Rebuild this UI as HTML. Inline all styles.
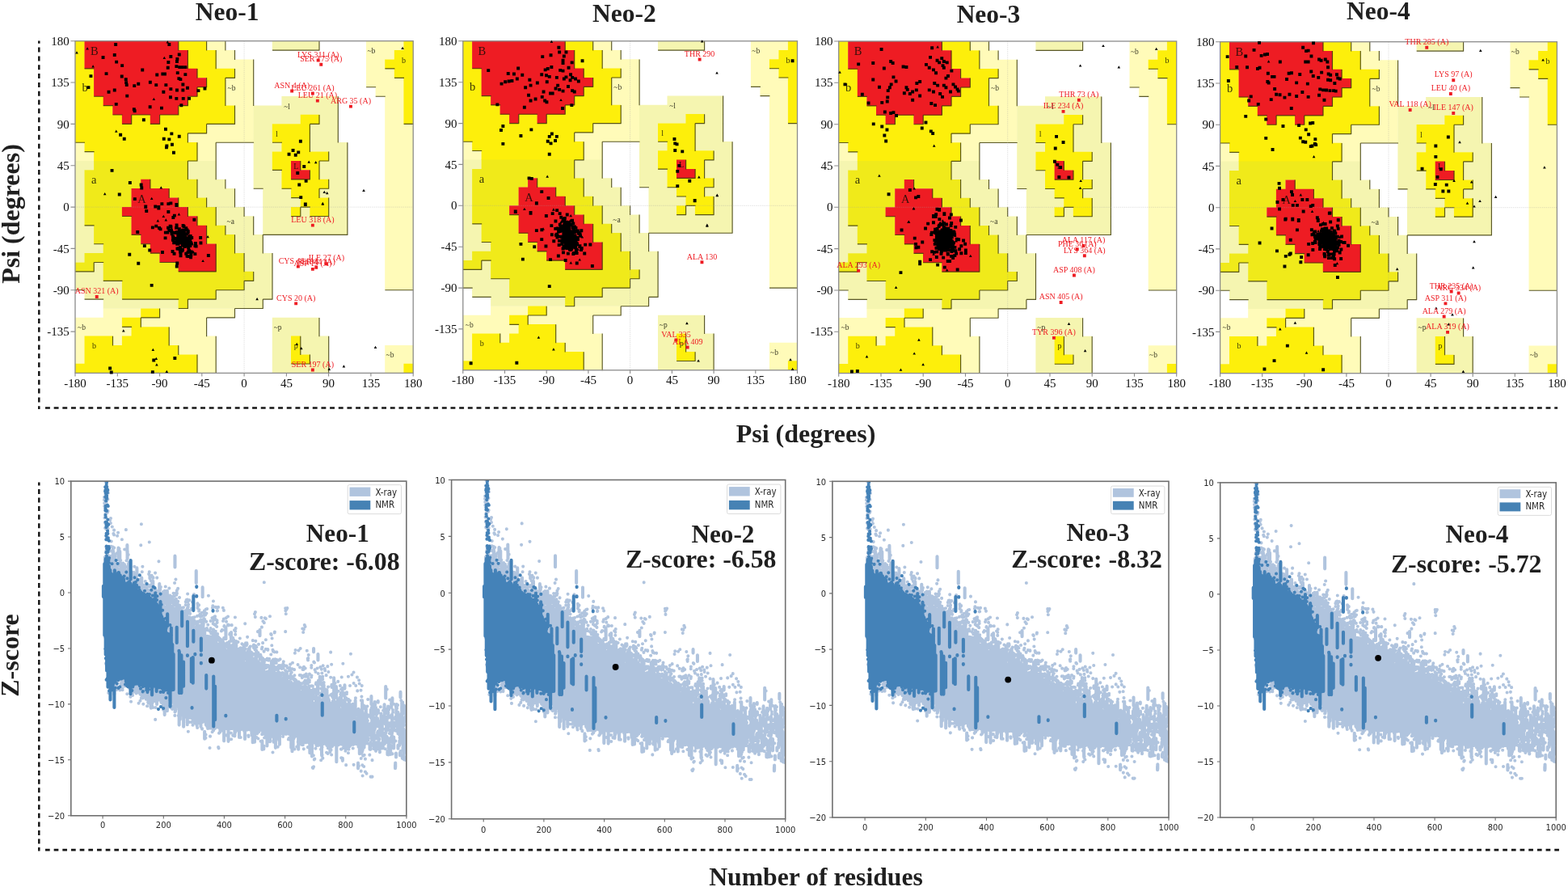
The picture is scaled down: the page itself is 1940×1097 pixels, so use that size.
<!DOCTYPE html>
<html lang="en"><head><meta charset="utf-8"><title>Ramachandran plots and ProSA Z-scores</title>
<style>
html,body{margin:0;padding:0;background:#fff}
body{width:1940px;height:1097px;overflow:hidden;font-family:"Liberation Serif",serif}
svg{display:block}
.tk text{font-family:"Liberation Serif",serif;font-size:15px;fill:#0d0d0d}
.rl text{font-family:"Liberation Serif",serif;fill:#0c0c04;fill-opacity:.82}
.ol text{font-family:"Liberation Serif",serif;font-size:10px;fill:#ee1c23}
.ti text,.ax text,.zt text{font-family:"Liberation Serif",serif;font-weight:bold;fill:#1f1f1f}
.ti text{font-size:31.5px}
.ax text{font-size:32px}
.zt text{font-size:31.8px}
.mt text{font-family:"DejaVu Sans Condensed","DejaVu Sans","Liberation Sans",sans-serif;font-size:11px;fill:#262626}
.lg text{font-family:"DejaVu Sans Condensed","DejaVu Sans","Liberation Sans",sans-serif;font-size:11.4px;fill:#262626}
</style></head><body>
<svg width="1940" height="1097" viewBox="0 0 1940 1097" role="img" aria-label="Ramachandran plots and ProSA Z-score plots for Neo-1 to Neo-4">
<rect width="1940" height="1097" fill="#fff"/>
<g fill="none" stroke="#161616">
<path stroke-width="2.5" stroke-dasharray="6 4.82" stroke-dashoffset="2.6" d="M48.3 50.4V506"/>
<path stroke-width="2.5" stroke-dasharray="5.9 4.77" d="M56 504.5H1927.1"/>
<path stroke-width="2.5" stroke-dasharray="6 4.55" stroke-dashoffset="2.1" d="M48.3 596.5V1052.6"/>
<path stroke-width="2.8" stroke-dasharray="5.7 4.97" d="M56 1051.2H1932.8"/>
</g>
<g>
<path fill="#fffbb9" d="M255.5 50.6H279V62.3H255.5ZM453 50.6H499.7V62.3H453ZM267.1 62H290.6V73.7H267.1ZM453 62H488.1V73.7H453ZM267.1 73.4H313.9V85.1H267.1ZM453 73.4H476.5V85.1H453ZM290.3 84.8H313.9V96.5H290.3ZM453 84.8H488.1V96.5H453ZM278.7 96.2H313.9V107.9H278.7ZM453 96.2H499.7V107.9H453ZM278.7 107.6H313.9V119.3H278.7ZM464.6 107.6H499.7V119.3H464.6ZM278.7 119H313.9V130.7H278.7ZM476.2 119H499.7V130.7H476.2ZM290.3 130.4H313.9V142.1H290.3ZM476.2 130.4H499.7V142.1H476.2ZM290.3 141.8H313.9V153.5H290.3ZM476.2 141.8H499.7V153.5H476.2ZM255.5 153.2H313.9V164.9H255.5ZM476.2 153.2H511.4V164.9H476.2ZM232.2 164.6H313.9V176.3H232.2ZM476.2 164.6H511.4V176.3H476.2ZM92.8 176H104.8V187.8H92.8ZM243.9 176H267.4V187.8H243.9ZM476.2 176H511.4V187.8H476.2ZM92.8 187.5H116.4V199.2H92.8ZM243.9 187.5H267.4V199.2H243.9ZM476.2 187.5H511.4V199.2H476.2ZM476.2 198.9H511.4V210.6H476.2ZM476.2 210.3H511.4V222H476.2ZM476.2 221.7H511.4V233.4H476.2ZM476.2 233.1H511.4V244.8H476.2ZM476.2 244.5H511.4V256.2H476.2ZM476.2 255.9H511.4V267.6H476.2ZM476.2 267.3H511.4V279H476.2ZM476.2 278.7H511.4V290.4H476.2ZM476.2 290.1H511.4V301.8H476.2ZM476.2 301.5H511.4V313.2H476.2ZM476.2 312.9H511.4V324.6H476.2ZM476.2 324.4H511.4V336.1H476.2ZM476.2 335.8H511.4V347.5H476.2ZM476.2 347.2H511.4V358.9H476.2ZM127.7 381.4H174.5V393.1H127.7ZM197.4 381.4H290.6V393.1H197.4ZM92.8 392.8H151.2V404.5H92.8ZM174.2 392.8H255.8V404.5H174.2ZM92.8 404.2H162.8V415.9H92.8ZM209 404.2H255.8V415.9H209ZM92.8 415.6H104.8V427.3H92.8ZM139.3 415.6H151.2V427.3H139.3ZM209 415.6H267.4V427.3H209ZM92.8 427H104.8V438.7H92.8ZM220.6 427H267.4V438.7H220.6ZM476.2 427H511.4V438.7H476.2ZM92.8 438.4H104.8V450.1H92.8ZM243.9 438.4H267.4V450.1H243.9ZM476.2 438.4H511.4V450.1H476.2ZM243.9 449.8H267.4V461.5H243.9ZM476.2 449.8H499.7V461.5H476.2Z"/>
<path fill="#f5f5b0" d="M336.8 50.6H395.2V62.3H336.8ZM348.4 119H418.4V130.7H348.4ZM313.6 130.4H418.4V142.1H313.6ZM313.6 141.8H371.9V153.5H313.6ZM394.9 141.8H418.4V153.5H394.9ZM313.6 153.2H337.1V164.9H313.6ZM383.3 153.2H418.4V164.9H383.3ZM313.6 164.6H337.1V176.3H313.6ZM383.3 164.6H418.4V176.3H383.3ZM313.6 176H348.7V187.8H313.6ZM383.3 176H430V187.8H383.3ZM313.6 187.5H337.1V199.2H313.6ZM406.5 187.5H430V199.2H406.5ZM92.8 198.9H116.4V210.6H92.8ZM232.2 198.9H267.4V210.6H232.2ZM313.6 198.9H337.1V210.6H313.6ZM394.9 198.9H430V210.6H394.9ZM92.8 210.3H104.8V222H92.8ZM232.2 210.3H267.4V222H232.2ZM313.6 210.3H348.7V222H313.6ZM394.9 210.3H430V222H394.9ZM92.8 221.7H104.8V233.4H92.8ZM243.9 221.7H279V233.4H243.9ZM313.6 221.7H348.7V233.4H313.6ZM406.5 221.7H430V233.4H406.5ZM92.8 233.1H104.8V244.8H92.8ZM243.9 233.1H290.6V244.8H243.9ZM325.2 233.1H360.3V244.8H325.2ZM394.9 233.1H430V244.8H394.9ZM92.8 244.5H104.8V256.2H92.8ZM255.5 244.5H290.6V256.2H255.5ZM325.2 244.5H371.9V256.2H325.2ZM406.5 244.5H430V256.2H406.5ZM92.8 255.9H104.8V267.6H92.8ZM267.1 255.9H302.2V267.6H267.1ZM325.2 255.9H360.3V267.6H325.2ZM371.7 255.9H383.6V267.6H371.7ZM406.5 255.9H430V267.6H406.5ZM92.8 267.3H104.8V279H92.8ZM267.1 267.3H313.9V279H267.1ZM325.2 267.3H430V279H325.2ZM92.8 278.7H116.4V290.4H92.8ZM278.7 278.7H313.9V290.4H278.7ZM325.2 278.7H430V290.4H325.2ZM92.8 290.1H116.4V301.8H92.8ZM290.3 290.1H325.5V301.8H290.3ZM92.8 301.5H128V313.2H92.8ZM290.3 301.5H325.5V313.2H290.3ZM92.8 312.9H104.8V324.6H92.8ZM302 312.9H337.1V324.6H302ZM116.1 324.4H128V336.1H116.1ZM302 324.4H337.1V336.1H302ZM92.8 335.8H128V347.5H92.8ZM313.6 335.8H337.1V347.5H313.6ZM92.8 347.2H151.2V358.9H92.8ZM302 347.2H337.1V358.9H302ZM104.5 358.6H151.2V370.3H104.5ZM267.1 358.6H337.1V370.3H267.1ZM127.7 370H220.9V381.7H127.7ZM232.2 370H325.5V381.7H232.2ZM336.8 392.8H395.2V404.5H336.8ZM336.8 404.2H395.2V415.9H336.8ZM336.8 415.6H360.3V427.3H336.8ZM371.7 415.6H406.8V427.3H371.7ZM336.8 427H360.3V438.7H336.8ZM371.7 427H406.8V438.7H371.7ZM336.8 438.4H360.3V450.1H336.8ZM383.3 438.4H406.8V450.1H383.3ZM336.8 449.8H406.8V461.5H336.8Z"/>
<path fill="#fdef0b" d="M92.8 50.6H104.8V62.3H92.8ZM220.6 50.6H255.8V62.3H220.6ZM499.4 50.6H511.4V62.3H499.4ZM92.8 62H104.8V73.7H92.8ZM232.2 62H267.4V73.7H232.2ZM487.8 62H511.4V73.7H487.8ZM92.8 73.4H104.8V85.1H92.8ZM232.2 73.4H267.4V85.1H232.2ZM476.2 73.4H511.4V85.1H476.2ZM92.8 84.8H116.4V96.5H92.8ZM243.9 84.8H290.6V96.5H243.9ZM487.8 84.8H511.4V96.5H487.8ZM92.8 96.2H116.4V107.9H92.8ZM255.5 96.2H279V107.9H255.5ZM499.4 96.2H511.4V107.9H499.4ZM92.8 107.6H116.4V119.3H92.8ZM243.9 107.6H279V119.3H243.9ZM499.4 107.6H511.4V119.3H499.4ZM92.8 119H128V130.7H92.8ZM232.2 119H279V130.7H232.2ZM499.4 119H511.4V130.7H499.4ZM92.8 130.4H139.6V142.1H92.8ZM220.6 130.4H290.6V142.1H220.6ZM499.4 130.4H511.4V142.1H499.4ZM92.8 141.8H151.2V153.5H92.8ZM162.5 141.8H186.1V153.5H162.5ZM197.4 141.8H290.6V153.5H197.4ZM371.7 141.8H395.2V153.5H371.7ZM499.4 141.8H511.4V153.5H499.4ZM92.8 153.2H255.8V164.9H92.8ZM336.8 153.2H383.6V164.9H336.8ZM92.8 164.6H232.6V176.3H92.8ZM336.8 164.6H383.6V176.3H336.8ZM104.5 176H244.2V187.8H104.5ZM348.4 176H383.6V187.8H348.4ZM116.1 187.5H244.2V199.2H116.1ZM336.8 187.5H406.8V199.2H336.8ZM336.8 198.9H360.3V210.6H336.8ZM371.7 198.9H395.2V210.6H371.7ZM348.4 210.3H360.3V222H348.4ZM383.3 210.3H395.2V222H383.3ZM348.4 221.7H406.8V233.4H348.4ZM360 233.1H395.2V244.8H360ZM371.7 244.5H406.8V256.2H371.7ZM360 255.9H371.9V267.6H360ZM383.3 255.9H406.8V267.6H383.3ZM174.2 381.4H197.7V393.1H174.2ZM150.9 392.8H174.5V404.5H150.9ZM162.5 404.2H209.3V415.9H162.5ZM104.5 415.6H139.6V427.3H104.5ZM150.9 415.6H209.3V427.3H150.9ZM360 415.6H371.9V427.3H360ZM104.5 427H220.9V438.7H104.5ZM360 427H371.9V438.7H360ZM104.5 438.4H244.2V450.1H104.5ZM360 438.4H383.6V450.1H360ZM92.8 449.8H244.2V461.5H92.8ZM499.4 449.8H511.4V461.5H499.4Z"/>
<path fill="#f0ea1a" d="M116.1 198.9H232.6V210.6H116.1ZM104.5 210.3H232.6V222H104.5ZM104.5 221.7H174.5V233.4H104.5ZM185.8 221.7H244.2V233.4H185.8ZM104.5 233.1H162.8V244.8H104.5ZM209 233.1H244.2V244.8H209ZM104.5 244.5H162.8V256.2H104.5ZM220.6 244.5H255.8V256.2H220.6ZM104.5 255.9H151.2V267.6H104.5ZM232.2 255.9H267.4V267.6H232.2ZM104.5 267.3H162.8V279H104.5ZM243.9 267.3H267.4V279H243.9ZM116.1 278.7H162.8V290.4H116.1ZM255.5 278.7H279V290.4H255.5ZM116.1 290.1H174.5V301.8H116.1ZM255.5 290.1H290.6V301.8H255.5ZM127.7 301.5H186.1V313.2H127.7ZM267.1 301.5H290.6V313.2H267.1ZM104.5 312.9H197.7V324.6H104.5ZM267.1 312.9H302.2V324.6H267.1ZM92.8 324.4H116.4V336.1H92.8ZM127.7 324.4H220.9V336.1H127.7ZM267.1 324.4H302.2V336.1H267.1ZM127.7 335.8H313.9V347.5H127.7ZM150.9 347.2H302.2V358.9H150.9ZM150.9 358.6H267.4V370.3H150.9ZM220.6 370H232.6V381.7H220.6Z"/>
<path fill="#ee1c23" d="M104.5 50.6H220.9V62.3H104.5ZM104.5 62H232.6V73.7H104.5ZM104.5 73.4H232.6V85.1H104.5ZM116.1 84.8H244.2V96.5H116.1ZM116.1 96.2H255.8V107.9H116.1ZM116.1 107.6H244.2V119.3H116.1ZM127.7 119H232.6V130.7H127.7ZM139.3 130.4H220.9V142.1H139.3ZM150.9 141.8H162.8V153.5H150.9ZM185.8 141.8H197.7V153.5H185.8ZM360 198.9H371.9V210.6H360ZM360 210.3H383.6V222H360ZM174.2 221.7H186.1V233.4H174.2ZM162.5 233.1H209.3V244.8H162.5ZM162.5 244.5H220.9V256.2H162.5ZM150.9 255.9H232.6V267.6H150.9ZM162.5 267.3H244.2V279H162.5ZM162.5 278.7H255.8V290.4H162.5ZM174.2 290.1H255.8V301.8H174.2ZM185.8 301.5H267.4V313.2H185.8ZM197.4 312.9H267.4V324.6H197.4ZM220.6 324.4H267.4V336.1H220.6Z"/>
<path fill="none" stroke="#3c3a08" stroke-opacity="0.85" stroke-width="1.15" d="M220.8 50.7V62.5M255.6 50.7V62.5M278.9 50.7V62.5M395 50.7V62.5M232.4 62.1V73.9M267.2 62.1V73.9M290.5 62.1V73.9M232.4 73.5V85.3M267.2 73.5V85.3M313.7 73.5V85.3M244 84.9V96.7M290.5 84.9V96.7M313.7 84.9V96.7M255.6 96.3V108.1M278.9 96.3V108.1M313.7 96.3V108.1M244 107.7V119.6M278.9 107.7V119.6M313.7 107.7V119.6M232.4 119.2V131M278.9 119.2V131M313.7 119.2V131M418.3 119.2V131M220.8 130.6V142.4M290.5 130.6V142.4M418.3 130.6V142.4M162.7 142V153.8M197.6 142V153.8M290.5 142V153.8M395 142V153.8M418.3 142V153.8M255.6 153.4V165.2M383.4 153.4V165.2M418.3 153.4V165.2M232.4 164.8V176.6M383.4 164.8V176.6M418.3 164.8V176.6M244 176.2V188M267.2 176.2V188M383.4 176.2V188M429.9 176.2V188M244 187.6V199.4M267.2 187.6V199.4M406.7 187.6V199.4M429.9 187.6V199.4M232.4 199V210.8M267.2 199V210.8M371.8 199V210.8M395 199V210.8M429.9 199V210.8M232.4 210.4V222.2M267.2 210.4V222.2M383.4 210.4V222.2M395 210.4V222.2M429.9 210.4V222.2M185.9 221.8V233.6M244 221.8V233.6M278.9 221.8V233.6M406.7 221.8V233.6M429.9 221.8V233.6M209.2 233.2V245M244 233.2V245M290.5 233.2V245M395 233.2V245M429.9 233.2V245M220.8 244.6V256.4M255.6 244.6V256.4M290.5 244.6V256.4M406.7 244.6V256.4M429.9 244.6V256.4M232.4 256.1V267.9M267.2 256.1V267.9M302.1 256.1V267.9M371.8 256.1V267.9M406.7 256.1V267.9M429.9 256.1V267.9M244 267.5V279.3M267.2 267.5V279.3M313.7 267.5V279.3M429.9 267.5V279.3M255.6 278.9V290.7M278.9 278.9V290.7M313.7 278.9V290.7M429.9 278.9V290.7M255.6 290.3V302.1M290.5 290.3V302.1M325.3 290.3V302.1M267.2 301.7V313.5M290.5 301.7V313.5M325.3 301.7V313.5M267.2 313.1V324.9M302.1 313.1V324.9M337 313.1V324.9M116.2 324.5V336.3M267.2 324.5V336.3M302.1 324.5V336.3M337 324.5V336.3M313.7 335.9V347.7M337 335.9V347.7M302.1 347.3V359.1M337 347.3V359.1M267.2 358.7V370.5M337 358.7V370.5M232.4 370.1V381.9M325.3 370.1V381.9M197.6 381.5V393.3M290.5 381.5V393.3M174.3 392.9V404.8M255.6 392.9V404.8M395 392.9V404.8M209.2 404.4V416.2M255.6 404.4V416.2M395 404.4V416.2M139.5 415.8V427.6M209.2 415.8V427.6M267.2 415.8V427.6M371.8 415.8V427.6M406.7 415.8V427.6M220.8 427.2V439M267.2 427.2V439M371.8 427.2V439M406.7 427.2V439M244 438.6V450.4M267.2 438.6V450.4M383.4 438.6V450.4M406.7 438.6V450.4M244 450V461.8M267.2 450V461.8M406.7 450V461.8M337 62.1H349M348.6 62.1H360.6M360.2 62.1H372.2M371.8 62.1H383.8M383.4 62.1H395.4M104.6 84.9H116.6M476.4 84.9H488.4M278.9 96.3H290.9M488 96.3H500M244 107.7H256M453.1 107.7H465.1M116.2 119.2H128.2M232.4 119.2H244.4M464.7 119.2H476.8M127.8 130.6H139.9M220.8 130.6H232.8M139.5 142H151.5M162.7 142H174.7M174.3 142H186.3M197.6 142H209.6M209.2 142H221.2M151.1 153.4H163.1M185.9 153.4H198M255.6 153.4H267.6M267.2 153.4H279.3M278.9 153.4H290.9M383.4 153.4H395.4M499.6 153.4H511.6M232.4 164.8H244.4M244 164.8H256M93 176.2H105M267.2 176.2H279.3M278.9 176.2H290.9M290.5 176.2H302.5M302.1 176.2H314.1M337 176.2H349M104.6 187.6H116.6M232.4 199H244.4M395 199H407.1M337 210.4H349M360.2 221.8H372.2M371.8 221.8H383.8M313.7 233.2H325.7M348.6 233.2H360.6M395 233.2H407.1M360.2 244.6H372.2M371.8 256.1H383.8M151.1 267.5H163.1M360.2 267.5H372.2M383.4 267.5H395.4M395 267.5H407.1M104.6 278.9H116.6M162.7 290.3H174.7M325.3 290.3H337.4M337 290.3H349M348.6 290.3H360.6M360.2 290.3H372.2M371.8 290.3H383.8M383.4 290.3H395.4M395 290.3H407.1M406.7 290.3H418.7M418.3 290.3H430.3M116.2 301.7H128.2M174.3 301.7H186.3M185.9 313.1H198M116.2 324.5H128.2M197.6 324.5H209.6M209.2 324.5H221.2M93 335.9H105M104.6 335.9H116.6M220.8 335.9H232.8M232.4 335.9H244.4M244 335.9H256M255.6 335.9H267.6M127.8 347.3H139.9M139.5 347.3H151.5M302.1 347.3H314.1M93 358.7H105M267.2 358.7H279.3M278.9 358.7H290.9M290.5 358.7H302.5M476.4 358.7H488.4M488 358.7H500M499.6 358.7H511.6M104.6 370.1H116.6M116.2 370.1H128.2M151.1 370.1H163.1M162.7 370.1H174.7M174.3 370.1H186.3M185.9 370.1H198M197.6 370.1H209.6M209.2 370.1H221.2M232.4 370.1H244.4M244 370.1H256M255.6 370.1H267.6M325.3 370.1H337.4M220.8 381.5H232.8M290.5 381.5H302.5M302.1 381.5H314.1M313.7 381.5H325.7M174.3 392.9H186.3M185.9 392.9H198M255.6 392.9H267.6M267.2 392.9H279.3M278.9 392.9H290.9M151.1 404.4H163.1M360.2 450H372.2M371.8 450H383.8"/>
<path fill="none" stroke="#a0a0a0" stroke-opacity="0.45" stroke-width="0.8" stroke-dasharray="1.2 1.2" d="M302.1 50.7V461.4M93 256.1H511.2"/>
<rect x="93" y="50.7" width="418.2" height="410.7" fill="none" stroke="#8c8c8c" stroke-width="1.3"/>
<path fill="none" stroke="#8c8c8c" stroke-width="1.1" d="M93 461.4v4.2M145.3 461.4v4.2M197.6 461.4v4.2M249.8 461.4v4.2M302.1 461.4v4.2M354.4 461.4v4.2M406.6 461.4v4.2M458.9 461.4v4.2M511.2 461.4v4.2M93 50.7h-5.5M93 102h-5.5M93 153.4h-5.5M93 204.7h-5.5M93 256.1h-5.5M93 307.4h-5.5M93 358.7h-5.5M93 410.1h-5.5"/>
<g class="tk">
<text x="93" y="478.7" text-anchor="middle">-180</text>
<text x="145.3" y="478.7" text-anchor="middle">-135</text>
<text x="197.6" y="478.7" text-anchor="middle">-90</text>
<text x="249.8" y="478.7" text-anchor="middle">-45</text>
<text x="302.1" y="478.7" text-anchor="middle">0</text>
<text x="354.4" y="478.7" text-anchor="middle">45</text>
<text x="406.6" y="478.7" text-anchor="middle">90</text>
<text x="458.9" y="478.7" text-anchor="middle">135</text>
<text x="511.2" y="478.7" text-anchor="middle">180</text>
<text x="85.8" y="55.8" text-anchor="end">180</text>
<text x="85.8" y="107.1" text-anchor="end">135</text>
<text x="85.8" y="158.5" text-anchor="end">90</text>
<text x="85.8" y="209.8" text-anchor="end">45</text>
<text x="85.8" y="261.2" text-anchor="end">0</text>
<text x="85.8" y="312.5" text-anchor="end">-45</text>
<text x="85.8" y="363.8" text-anchor="end">-90</text>
<text x="85.8" y="415.2" text-anchor="end">-135</text>
</g>
<g class="rl">
<text x="112" y="68.1" font-size="14.5">B</text>
<text x="101.4" y="112.8" font-size="14.5">b</text>
<text x="113.1" y="227.1" font-size="14.5">a</text>
<text x="170.2" y="251" font-size="14.5">A</text>
<text x="281.5" y="111.9" font-size="9.5">~b</text>
<text x="351.2" y="134.9" font-size="9.5">~l</text>
<text x="341.1" y="168.9" font-size="10">l</text>
<text x="363.2" y="208.6" font-size="10">L</text>
<text x="454.4" y="66.4" font-size="9.5">~b</text>
<text x="497.1" y="77.8" font-size="10">b</text>
<text x="280.5" y="277" font-size="9.5">~a</text>
<text x="96" y="407.8" font-size="9.5">~b</text>
<text x="114.1" y="430.9" font-size="10">b</text>
<text x="338.7" y="407.8" font-size="9.5">~p</text>
<text x="363.8" y="430.9" font-size="10">p</text>
<text x="477.5" y="441.9" font-size="9.5">~b</text>
</g>
<path fill="#000" d="M234.7 309.7h3.9v3.9h-3.9zM224.2 282.7h3.9v3.9h-3.9zM222.3 286.4h3.9v3.9h-3.9zM231.5 300.3h3.9v3.9h-3.9zM240.7 302.7h3.9v3.9h-3.9zM235.3 292.1h3.9v3.9h-3.9zM220.9 307.3h3.9v3.9h-3.9zM225.9 300.1h3.9v3.9h-3.9zM227.3 302.3h3.9v3.9h-3.9zM209.5 278.5h3.9v3.9h-3.9zM230.5 315.2h3.9v3.9h-3.9zM195.1 280.1h3.9v3.9h-3.9zM225.4 290.9h3.9v3.9h-3.9zM231.3 296.3h3.9v3.9h-3.9zM224.3 284.9h3.9v3.9h-3.9zM230.5 310.2h3.9v3.9h-3.9zM232.1 290.4h3.9v3.9h-3.9zM214.7 297.4h3.9v3.9h-3.9zM226.9 293h3.9v3.9h-3.9zM205.4 285.6h3.9v3.9h-3.9zM214.3 285.8h3.9v3.9h-3.9zM224.4 285.7h3.9v3.9h-3.9zM221.6 314.3h3.9v3.9h-3.9zM227.6 289.5h3.9v3.9h-3.9zM212 294.9h3.9v3.9h-3.9zM228.3 280.2h3.9v3.9h-3.9zM220.3 289.6h3.9v3.9h-3.9zM238.4 269.8h3.9v3.9h-3.9zM219.9 281.2h3.9v3.9h-3.9zM215.6 293.1h3.9v3.9h-3.9zM220.3 292.3h3.9v3.9h-3.9zM216.1 279.9h3.9v3.9h-3.9zM231.5 307.5h3.9v3.9h-3.9zM233.6 299.7h3.9v3.9h-3.9zM226 302h3.9v3.9h-3.9zM215.6 286h3.9v3.9h-3.9zM222.9 284.6h3.9v3.9h-3.9zM223.6 296.1h3.9v3.9h-3.9zM231.5 302.5h3.9v3.9h-3.9zM212.5 291.5h3.9v3.9h-3.9zM226.7 303.1h3.9v3.9h-3.9zM230.4 292.8h3.9v3.9h-3.9zM220.6 283.8h3.9v3.9h-3.9zM202.9 285.7h3.9v3.9h-3.9zM232.2 308.2h3.9v3.9h-3.9zM225.4 293.5h3.9v3.9h-3.9zM226.4 301.1h3.9v3.9h-3.9zM227.6 298h3.9v3.9h-3.9zM221.4 291.5h3.9v3.9h-3.9zM255.9 314.1h3.9v3.9h-3.9zM217.3 299.9h3.9v3.9h-3.9zM217.6 295.4h3.9v3.9h-3.9zM219.7 296h3.9v3.9h-3.9zM227.5 299.8h3.9v3.9h-3.9zM199 310h3.9v3.9h-3.9zM206.1 279.8h3.9v3.9h-3.9zM219.9 298.1h3.9v3.9h-3.9zM222.4 289.8h3.9v3.9h-3.9zM231.2 295.9h3.9v3.9h-3.9zM223.9 301.3h3.9v3.9h-3.9zM216.8 327.6h3.9v3.9h-3.9zM233.2 295.8h3.9v3.9h-3.9zM224.3 296.2h3.9v3.9h-3.9zM216.8 285.4h3.9v3.9h-3.9zM230.9 284.2h3.9v3.9h-3.9zM213.6 311.8h3.9v3.9h-3.9zM213.6 298.1h3.9v3.9h-3.9zM234.1 316.4h3.9v3.9h-3.9zM234.1 298h3.9v3.9h-3.9zM217.5 305.6h3.9v3.9h-3.9zM234.9 309.6h3.9v3.9h-3.9zM246.5 298.5h3.9v3.9h-3.9zM220.6 285.5h3.9v3.9h-3.9zM219.5 296.3h3.9v3.9h-3.9zM232.8 309.2h3.9v3.9h-3.9zM218.4 292.4h3.9v3.9h-3.9zM208.7 277.8h3.9v3.9h-3.9zM231.2 304h3.9v3.9h-3.9zM220.8 292.7h3.9v3.9h-3.9zM221.1 309.7h3.9v3.9h-3.9zM219.2 291.7h3.9v3.9h-3.9zM218.4 299.8h3.9v3.9h-3.9zM213.9 264.7h3.9v3.9h-3.9zM222.8 295.5h3.9v3.9h-3.9zM226.3 298.5h3.9v3.9h-3.9zM233.3 302.2h3.9v3.9h-3.9zM232.4 302h3.9v3.9h-3.9zM231.2 294.2h3.9v3.9h-3.9zM223.5 284.4h3.9v3.9h-3.9zM234.4 313.5h3.9v3.9h-3.9zM222.6 287.1h3.9v3.9h-3.9zM226.4 292.9h3.9v3.9h-3.9zM229.6 282.5h3.9v3.9h-3.9zM225.6 278h3.9v3.9h-3.9zM223.1 307.7h3.9v3.9h-3.9zM224.5 287.9h3.9v3.9h-3.9zM225.3 295.5h3.9v3.9h-3.9zM214.9 293.4h3.9v3.9h-3.9zM239.4 312.2h3.9v3.9h-3.9zM232.2 299h3.9v3.9h-3.9zM219.1 294h3.9v3.9h-3.9zM239.5 302.1h3.9v3.9h-3.9zM228.9 287.2h3.9v3.9h-3.9zM246.2 292h3.9v3.9h-3.9zM223.1 292.8h3.9v3.9h-3.9zM219.1 291.7h3.9v3.9h-3.9zM225.1 295.1h3.9v3.9h-3.9zM228.3 311.8h3.9v3.9h-3.9zM229 300.3h3.9v3.9h-3.9zM217.3 323.5h3.9v3.9h-3.9zM216.6 276.6h3.9v3.9h-3.9zM225.5 298.4h3.9v3.9h-3.9zM218.4 305.6h3.9v3.9h-3.9zM223 291.7h3.9v3.9h-3.9zM221.4 304.1h3.9v3.9h-3.9zM224.1 306.8h3.9v3.9h-3.9zM213.2 298.3h3.9v3.9h-3.9zM240 298.9h3.9v3.9h-3.9zM231.5 307.2h3.9v3.9h-3.9zM225 293.2h3.9v3.9h-3.9zM186.9 279.4h3.9v3.9h-3.9zM232.6 296.6h3.9v3.9h-3.9zM218.1 297.8h3.9v3.9h-3.9zM224.1 300.6h3.9v3.9h-3.9zM221.6 311.2h3.9v3.9h-3.9zM233.8 292.6h3.9v3.9h-3.9zM229.8 296.9h3.9v3.9h-3.9zM226.4 291.5h3.9v3.9h-3.9zM222.1 291.8h3.9v3.9h-3.9zM221.8 298.6h3.9v3.9h-3.9zM218.3 289.2h3.9v3.9h-3.9zM224.6 277h3.9v3.9h-3.9zM222.9 295.8h3.9v3.9h-3.9zM202.6 292.4h3.9v3.9h-3.9zM225 288h3.9v3.9h-3.9zM228.8 293.1h3.9v3.9h-3.9zM207.4 283.1h3.9v3.9h-3.9zM222.3 288.4h3.9v3.9h-3.9zM219.4 298.7h3.9v3.9h-3.9zM233.7 289.9h3.9v3.9h-3.9zM218.6 305.9h3.9v3.9h-3.9zM219.6 290.4h3.9v3.9h-3.9zM217.8 294.3h3.9v3.9h-3.9zM233.4 301.6h3.9v3.9h-3.9zM229.2 282.5h3.9v3.9h-3.9zM229.5 314.7h3.9v3.9h-3.9zM219.5 305h3.9v3.9h-3.9zM210.1 283.5h3.9v3.9h-3.9zM216.7 278.5h3.9v3.9h-3.9zM220.2 285.6h3.9v3.9h-3.9zM230.7 285.8h3.9v3.9h-3.9zM211.6 309.1h3.9v3.9h-3.9zM222.5 296.1h3.9v3.9h-3.9zM212 290.5h3.9v3.9h-3.9zM222.6 291.4h3.9v3.9h-3.9zM225.8 284.5h3.9v3.9h-3.9zM231.9 294.1h3.9v3.9h-3.9zM223.3 308.4h3.9v3.9h-3.9zM196.6 281.4h3.9v3.9h-3.9zM235 299.7h3.9v3.9h-3.9zM227.6 292.8h3.9v3.9h-3.9zM231.6 301h3.9v3.9h-3.9zM217.2 284.9h3.9v3.9h-3.9zM209.4 249.4h3.9v3.9h-3.9zM216.8 293.8h3.9v3.9h-3.9zM228.4 294.7h3.9v3.9h-3.9zM210.7 287.4h3.9v3.9h-3.9zM225.7 282.5h3.9v3.9h-3.9zM141.2 53.1h3.9v3.9h-3.9zM207.4 53.1h3.9v3.9h-3.9zM125.6 69.1h3.9v3.9h-3.9zM139.8 66.1h3.9v3.9h-3.9zM142.2 74.7h3.9v3.9h-3.9zM149.2 79.2h3.9v3.9h-3.9zM174.3 84.6h3.9v3.9h-3.9zM129.6 89.2h3.9v3.9h-3.9zM110.5 92.2h3.9v3.9h-3.9zM148.8 92.6h3.9v3.9h-3.9zM153.8 96.2h3.9v3.9h-3.9zM154.2 100.2h3.9v3.9h-3.9zM154.8 103.2h3.9v3.9h-3.9zM107.5 106.2h3.9v3.9h-3.9zM164.3 104.2h3.9v3.9h-3.9zM169.3 101.8h3.9v3.9h-3.9zM183.9 99.8h3.9v3.9h-3.9zM191.3 103.2h3.9v3.9h-3.9zM192.3 90.6h3.9v3.9h-3.9zM199.4 89.6h3.9v3.9h-3.9zM202 89.6h3.9v3.9h-3.9zM203.4 103.2h3.9v3.9h-3.9zM206.4 75.1h3.9v3.9h-3.9zM205.8 81.8h3.9v3.9h-3.9zM209.4 68.1h3.9v3.9h-3.9zM219.8 65.5h3.9v3.9h-3.9zM217.4 71.1h3.9v3.9h-3.9zM217 74.1h3.9v3.9h-3.9zM216.4 80.2h3.9v3.9h-3.9zM220.4 81.2h3.9v3.9h-3.9zM223.4 81.2h3.9v3.9h-3.9zM227.4 81.2h3.9v3.9h-3.9zM217.8 88.2h3.9v3.9h-3.9zM227.4 90.2h3.9v3.9h-3.9zM219.4 95.2h3.9v3.9h-3.9zM221.4 96.2h3.9v3.9h-3.9zM224.4 102.6h3.9v3.9h-3.9zM230 106.8h3.9v3.9h-3.9zM209.4 108.2h3.9v3.9h-3.9zM217 109.6h3.9v3.9h-3.9zM224.4 109.6h3.9v3.9h-3.9zM200.4 111.8h3.9v3.9h-3.9zM209 118.3h3.9v3.9h-3.9zM216.4 119.9h3.9v3.9h-3.9zM224.8 119.9h3.9v3.9h-3.9zM232.1 119.9h3.9v3.9h-3.9zM243.5 110.2h3.9v3.9h-3.9zM251.5 107.6h3.9v3.9h-3.9zM132.6 111.8h3.9v3.9h-3.9zM139.8 109.6h3.9v3.9h-3.9zM155.3 116.7h3.9v3.9h-3.9zM141.8 126.9h3.9v3.9h-3.9zM163.9 133.3h3.9v3.9h-3.9zM164.7 135.3h3.9v3.9h-3.9zM183.7 130.3h3.9v3.9h-3.9zM198 131.7h3.9v3.9h-3.9zM222.4 128.3h3.9v3.9h-3.9zM175.9 146.3h3.9v3.9h-3.9zM203 157.8h3.9v3.9h-3.9zM210.4 163.4h3.9v3.9h-3.9zM219.8 166.8h3.9v3.9h-3.9zM200.8 169.8h3.9v3.9h-3.9zM207.4 170.4h3.9v3.9h-3.9zM211 176.8h3.9v3.9h-3.9zM204.4 178.4h3.9v3.9h-3.9zM204 180.4h3.9v3.9h-3.9zM213 186.8h3.9v3.9h-3.9zM147.2 164.8h3.9v3.9h-3.9zM151.8 169.8h3.9v3.9h-3.9zM136.6 208.9h3.9v3.9h-3.9zM158.9 224.1h3.9v3.9h-3.9zM172.7 226.5h3.9v3.9h-3.9zM173.3 230.6h3.9v3.9h-3.9zM145.8 238.6h3.9v3.9h-3.9zM164.9 244.2h3.9v3.9h-3.9zM198.4 250.2h3.9v3.9h-3.9zM206.4 250.2h3.9v3.9h-3.9zM216.4 251h3.9v3.9h-3.9zM178.3 253.6h3.9v3.9h-3.9zM190.3 253.6h3.9v3.9h-3.9zM194.4 255.6h3.9v3.9h-3.9zM369.9 172.8h3.9v3.9h-3.9zM360.6 184h3.9v3.9h-3.9zM367.3 186.4h3.9v3.9h-3.9zM363.8 189.8h3.9v3.9h-3.9zM355.6 188.8h3.9v3.9h-3.9zM374.3 204.1h3.9v3.9h-3.9zM366.3 212.1h3.9v3.9h-3.9zM376.7 221.9h3.9v3.9h-3.9zM368.3 226.5h3.9v3.9h-3.9zM370.3 242.2h3.9v3.9h-3.9zM375.9 250.6h3.9v3.9h-3.9zM375.9 251.1h3.9v3.9h-3.9zM158.3 312.8h3.9v3.9h-3.9zM169.3 323.8h3.9v3.9h-3.9zM185.7 350.9h3.9v3.9h-3.9zM176.9 302.2h3.9v3.9h-3.9zM183.3 307.6h3.9v3.9h-3.9zM191.3 277.7h3.9v3.9h-3.9zM168.3 285.1h3.9v3.9h-3.9zM178.3 254.1h3.9v3.9h-3.9zM179.3 259.1h3.9v3.9h-3.9zM194.4 254.1h3.9v3.9h-3.9zM206.4 260.1h3.9v3.9h-3.9zM212.4 267.1h3.9v3.9h-3.9zM210.4 285.1h3.9v3.9h-3.9zM216.4 252.1h3.9v3.9h-3.9zM134.2 453.6h3.9v3.9h-3.9zM135.8 458.6h3.9v3.9h-3.9zM186.9 458.2h3.9v3.9h-3.9zM188.3 443.6h3.9v3.9h-3.9zM214.4 441h3.9v3.9h-3.9zM227.8 286.1l1.8 3.2h-3.6zM223.4 291.6l1.8 3.2h-3.6zM219.3 293l1.8 3.2h-3.6zM223.3 287.5l1.8 3.2h-3.6zM220.8 286.9l1.8 3.2h-3.6zM220.9 291.6l1.8 3.2h-3.6zM231.7 299.2l1.8 3.2h-3.6zM230 302.7l1.8 3.2h-3.6zM228 296.8l1.8 3.2h-3.6zM251.1 320.9l1.8 3.2h-3.6zM234.9 298.1l1.8 3.2h-3.6zM212.3 280.7l1.8 3.2h-3.6zM228.1 300.2l1.8 3.2h-3.6zM226.9 293.4l1.8 3.2h-3.6zM227 298.4l1.8 3.2h-3.6zM257.1 291.1l1.8 3.2h-3.6zM219.4 293l1.8 3.2h-3.6zM207.3 50.2l1.8 3.2h-3.6zM108.1 58.3l1.8 3.2h-3.6zM95 63.3l1.8 3.2h-3.6zM115.1 80.3l1.8 3.2h-3.6zM203.3 69.7l1.8 3.2h-3.6zM190.3 120.8l1.8 3.2h-3.6zM143.8 160.5l1.8 3.2h-3.6zM199.3 230.3l1.8 3.2h-3.6zM129.7 238.1l1.8 3.2h-3.6zM187.7 243.7l1.8 3.2h-3.6zM382.2 198.6l1.8 3.2h-3.6zM390.7 199l1.8 3.2h-3.6zM401.3 235.7l1.8 3.2h-3.6zM404.7 237.1l1.8 3.2h-3.6zM399.3 249.8l1.8 3.2h-3.6zM450 233.7l1.8 3.2h-3.6zM498.1 57.7l1.8 3.2h-3.6zM399.3 250.6l1.8 3.2h-3.6zM318.1 368.1l1.8 3.2h-3.6zM372.8 429.1l1.8 3.2h-3.6zM367.2 423.7l1.8 3.2h-3.6zM464.5 427.7l1.8 3.2h-3.6zM425.4 451.3l1.8 3.2h-3.6zM407.3 454.7l1.8 3.2h-3.6zM189.3 430.7l1.8 3.2h-3.6zM193.3 441.7l1.8 3.2h-3.6zM193.9 449.3l1.8 3.2h-3.6zM206.3 457.7l1.8 3.2h-3.6zM152.8 407.2l1.8 3.2h-3.6zM202.3 265.8l1.8 3.2h-3.6zM205.3 270.3l1.8 3.2h-3.6zM221.4 263.2l1.8 3.2h-3.6zM239.4 310l1.8 3.2h-3.6zM195.3 271.3l1.8 3.2h-3.6z"/>
<g class="ol">
<text x="393.7" y="70.7" text-anchor="middle">LYS 311 (A)</text>
<text x="397.3" y="75.9" text-anchor="middle">SER 175 (A)</text>
<text x="361.2" y="108.8" text-anchor="middle">ASN 4 (A)</text>
<text x="386.9" y="111.8" text-anchor="middle">LEU 261 (A)</text>
<text x="392.9" y="120.8" text-anchor="middle">LEU 21 (A)</text>
<text x="434" y="127.8" text-anchor="middle">ARG 35 (A)</text>
<text x="386.9" y="274.9" text-anchor="middle">LEU 318 (A)</text>
<text x="368.8" y="325.8" text-anchor="middle">CYS 46 (A)</text>
<text x="386.9" y="329" text-anchor="middle">ASP 19 (A)</text>
<text x="391.3" y="327" text-anchor="middle">SER 44 (A)</text>
<text x="403.9" y="322.4" text-anchor="middle">ILE 27 (A)</text>
<text x="366.2" y="371.5" text-anchor="middle">CYS 20 (A)</text>
<text x="386.9" y="453.7" text-anchor="middle">SER 197 (A)</text>
<text x="119.7" y="363.1" text-anchor="middle">ASN 321 (A)</text>
</g>
<path fill="#ee1c23" d="M391.7 72.5h3.9v3.9h-3.9zM395.3 77.8h3.9v3.9h-3.9zM359.2 110.6h3.9v3.9h-3.9zM384.9 113.6h3.9v3.9h-3.9zM390.9 122.7h3.9v3.9h-3.9zM432 129.7h3.9v3.9h-3.9zM384.9 276.7h3.9v3.9h-3.9zM366.9 327.7h3.9v3.9h-3.9zM384.9 330.9h3.9v3.9h-3.9zM389.3 328.9h3.9v3.9h-3.9zM401.9 324.2h3.9v3.9h-3.9zM364.2 373.4h3.9v3.9h-3.9zM384.9 455.6h3.9v3.9h-3.9zM117.8 365h3.9v3.9h-3.9z"/>
</g>
<g>
<path fill="#fffbb9" d="M733.5 50.6H756.8V62.3H733.5ZM928.9 50.6H975.2V62.3H928.9ZM745 62H768.3V73.6H745ZM928.9 62H963.7V73.6H928.9ZM745 73.3H791.3V84.9H745ZM928.9 73.3H952.2V84.9H928.9ZM768 84.6H791.3V96.2H768ZM928.9 84.6H963.7V96.2H928.9ZM756.5 95.9H791.3V107.5H756.5ZM928.9 95.9H975.2V107.5H928.9ZM756.5 107.2H791.3V118.8H756.5ZM940.4 107.2H975.2V118.8H940.4ZM756.5 118.5H791.3V130.1H756.5ZM951.9 118.5H975.2V130.1H951.9ZM768 129.8H791.3V141.4H768ZM951.9 129.8H975.2V141.4H951.9ZM768 141.1H791.3V152.7H768ZM951.9 141.1H975.2V152.7H951.9ZM733.5 152.4H791.3V164H733.5ZM951.9 152.4H986.6V164H951.9ZM710.5 163.7H791.3V175.3H710.5ZM951.9 163.7H986.6V175.3H951.9ZM572.6 175H584.4V186.6H572.6ZM722 175H745.3V186.6H722ZM951.9 175H986.6V186.6H951.9ZM572.6 186.3H595.9V197.9H572.6ZM722 186.3H745.3V197.9H722ZM951.9 186.3H986.6V197.9H951.9ZM951.9 197.6H986.6V209.2H951.9ZM951.9 208.9H986.6V220.5H951.9ZM951.9 220.2H986.6V231.8H951.9ZM951.9 231.5H986.6V243.1H951.9ZM951.9 242.8H986.6V254.5H951.9ZM951.9 254.2H986.6V265.8H951.9ZM951.9 265.5H986.6V277.1H951.9ZM951.9 276.8H986.6V288.4H951.9ZM951.9 288.1H986.6V299.7H951.9ZM951.9 299.4H986.6V311H951.9ZM951.9 310.7H986.6V322.3H951.9ZM951.9 322H986.6V333.6H951.9ZM951.9 333.3H986.6V344.9H951.9ZM951.9 344.6H986.6V356.2H951.9ZM607.1 378.5H653.4V390.1H607.1ZM676.1 378.5H768.3V390.1H676.1ZM572.6 389.8H630.4V401.4H572.6ZM653.1 389.8H733.8V401.4H653.1ZM572.6 401.1H641.9V412.7H572.6ZM687.6 401.1H733.8V412.7H687.6ZM572.6 412.4H584.4V424H572.6ZM618.6 412.4H630.4V424H618.6ZM687.6 412.4H745.3V424H687.6ZM572.6 423.7H584.4V435.3H572.6ZM699.1 423.7H745.3V435.3H699.1ZM951.9 423.7H986.6V435.3H951.9ZM572.6 435H584.4V446.6H572.6ZM722 435H745.3V446.6H722ZM951.9 435H986.6V446.6H951.9ZM722 446.3H745.3V457.9H722ZM951.9 446.3H975.2V457.9H951.9Z"/>
<path fill="#f5f5b0" d="M814 50.6H871.7V62.3H814ZM825.5 118.5H894.7V130.1H825.5ZM791 129.8H894.7V141.4H791ZM791 141.1H848.7V152.7H791ZM871.4 141.1H894.7V152.7H871.4ZM791 152.4H814.3V164H791ZM859.9 152.4H894.7V164H859.9ZM791 163.7H814.3V175.3H791ZM859.9 163.7H894.7V175.3H859.9ZM791 175H825.8V186.6H791ZM859.9 175H906.2V186.6H859.9ZM791 186.3H814.3V197.9H791ZM882.9 186.3H906.2V197.9H882.9ZM572.6 197.6H595.9V209.2H572.6ZM710.5 197.6H745.3V209.2H710.5ZM791 197.6H814.3V209.2H791ZM871.4 197.6H906.2V209.2H871.4ZM572.6 208.9H584.4V220.5H572.6ZM710.5 208.9H745.3V220.5H710.5ZM791 208.9H825.8V220.5H791ZM871.4 208.9H906.2V220.5H871.4ZM572.6 220.2H584.4V231.8H572.6ZM722 220.2H756.8V231.8H722ZM791 220.2H825.8V231.8H791ZM882.9 220.2H906.2V231.8H882.9ZM572.6 231.5H584.4V243.1H572.6ZM722 231.5H768.3V243.1H722ZM802.5 231.5H837.3V243.1H802.5ZM871.4 231.5H906.2V243.1H871.4ZM572.6 242.8H584.4V254.5H572.6ZM733.5 242.8H768.3V254.5H733.5ZM802.5 242.8H848.7V254.5H802.5ZM882.9 242.8H906.2V254.5H882.9ZM572.6 254.2H584.4V265.8H572.6ZM745 254.2H779.8V265.8H745ZM802.5 254.2H837.3V265.8H802.5ZM848.4 254.2H860.2V265.8H848.4ZM882.9 254.2H906.2V265.8H882.9ZM572.6 265.5H584.4V277.1H572.6ZM745 265.5H791.3V277.1H745ZM802.5 265.5H906.2V277.1H802.5ZM572.6 276.8H595.9V288.4H572.6ZM756.5 276.8H791.3V288.4H756.5ZM802.5 276.8H906.2V288.4H802.5ZM572.6 288.1H595.9V299.7H572.6ZM768 288.1H802.8V299.7H768ZM572.6 299.4H607.4V311H572.6ZM768 299.4H802.8V311H768ZM572.6 310.7H584.4V322.3H572.6ZM779.5 310.7H814.3V322.3H779.5ZM595.6 322H607.4V333.6H595.6ZM779.5 322H814.3V333.6H779.5ZM572.6 333.3H607.4V344.9H572.6ZM791 333.3H814.3V344.9H791ZM572.6 344.6H630.4V356.2H572.6ZM779.5 344.6H814.3V356.2H779.5ZM584.1 355.9H630.4V367.5H584.1ZM745 355.9H814.3V367.5H745ZM607.1 367.2H699.4V378.8H607.1ZM710.5 367.2H802.8V378.8H710.5ZM814 389.8H871.7V401.4H814ZM814 401.1H871.7V412.7H814ZM814 412.4H837.3V424H814ZM848.4 412.4H883.2V424H848.4ZM814 423.7H837.3V435.3H814ZM848.4 423.7H883.2V435.3H848.4ZM814 435H837.3V446.6H814ZM859.9 435H883.2V446.6H859.9ZM814 446.3H883.2V457.9H814Z"/>
<path fill="#fdef0b" d="M572.6 50.6H584.4V62.3H572.6ZM699.1 50.6H733.8V62.3H699.1ZM974.9 50.6H986.6V62.3H974.9ZM572.6 62H584.4V73.6H572.6ZM710.5 62H745.3V73.6H710.5ZM963.4 62H986.6V73.6H963.4ZM572.6 73.3H584.4V84.9H572.6ZM710.5 73.3H745.3V84.9H710.5ZM951.9 73.3H986.6V84.9H951.9ZM572.6 84.6H595.9V96.2H572.6ZM722 84.6H768.3V96.2H722ZM963.4 84.6H986.6V96.2H963.4ZM572.6 95.9H595.9V107.5H572.6ZM733.5 95.9H756.8V107.5H733.5ZM974.9 95.9H986.6V107.5H974.9ZM572.6 107.2H595.9V118.8H572.6ZM722 107.2H756.8V118.8H722ZM974.9 107.2H986.6V118.8H974.9ZM572.6 118.5H607.4V130.1H572.6ZM710.5 118.5H756.8V130.1H710.5ZM974.9 118.5H986.6V130.1H974.9ZM572.6 129.8H618.9V141.4H572.6ZM699.1 129.8H768.3V141.4H699.1ZM974.9 129.8H986.6V141.4H974.9ZM572.6 141.1H630.4V152.7H572.6ZM641.6 141.1H664.9V152.7H641.6ZM676.1 141.1H768.3V152.7H676.1ZM848.4 141.1H871.7V152.7H848.4ZM974.9 141.1H986.6V152.7H974.9ZM572.6 152.4H733.8V164H572.6ZM814 152.4H860.2V164H814ZM572.6 163.7H710.8V175.3H572.6ZM814 163.7H860.2V175.3H814ZM584.1 175H722.3V186.6H584.1ZM825.5 175H860.2V186.6H825.5ZM595.6 186.3H722.3V197.9H595.6ZM814 186.3H883.2V197.9H814ZM814 197.6H837.3V209.2H814ZM848.4 197.6H871.7V209.2H848.4ZM825.5 208.9H837.3V220.5H825.5ZM859.9 208.9H871.7V220.5H859.9ZM825.5 220.2H883.2V231.8H825.5ZM837 231.5H871.7V243.1H837ZM848.4 242.8H883.2V254.5H848.4ZM837 254.2H848.7V265.8H837ZM859.9 254.2H883.2V265.8H859.9ZM653.1 378.5H676.4V390.1H653.1ZM630.1 389.8H653.4V401.4H630.1ZM641.6 401.1H687.9V412.7H641.6ZM584.1 412.4H618.9V424H584.1ZM630.1 412.4H687.9V424H630.1ZM837 412.4H848.7V424H837ZM584.1 423.7H699.4V435.3H584.1ZM837 423.7H848.7V435.3H837ZM584.1 435H722.3V446.6H584.1ZM837 435H860.2V446.6H837ZM572.6 446.3H722.3V457.9H572.6ZM974.9 446.3H986.6V457.9H974.9Z"/>
<path fill="#f0ea1a" d="M595.6 197.6H710.8V209.2H595.6ZM584.1 208.9H710.8V220.5H584.1ZM584.1 220.2H653.4V231.8H584.1ZM664.6 220.2H722.3V231.8H664.6ZM584.1 231.5H641.9V243.1H584.1ZM687.6 231.5H722.3V243.1H687.6ZM584.1 242.8H641.9V254.5H584.1ZM699.1 242.8H733.8V254.5H699.1ZM584.1 254.2H630.4V265.8H584.1ZM710.5 254.2H745.3V265.8H710.5ZM584.1 265.5H641.9V277.1H584.1ZM722 265.5H745.3V277.1H722ZM595.6 276.8H641.9V288.4H595.6ZM733.5 276.8H756.8V288.4H733.5ZM595.6 288.1H653.4V299.7H595.6ZM733.5 288.1H768.3V299.7H733.5ZM607.1 299.4H664.9V311H607.1ZM745 299.4H768.3V311H745ZM584.1 310.7H676.4V322.3H584.1ZM745 310.7H779.8V322.3H745ZM572.6 322H595.9V333.6H572.6ZM607.1 322H699.4V333.6H607.1ZM745 322H779.8V333.6H745ZM607.1 333.3H791.3V344.9H607.1ZM630.1 344.6H779.8V356.2H630.1ZM630.1 355.9H745.3V367.5H630.1ZM699.1 367.2H710.8V378.8H699.1Z"/>
<path fill="#ee1c23" d="M584.1 50.6H699.4V62.3H584.1ZM584.1 62H710.8V73.6H584.1ZM584.1 73.3H710.8V84.9H584.1ZM595.6 84.6H722.3V96.2H595.6ZM595.6 95.9H733.8V107.5H595.6ZM595.6 107.2H722.3V118.8H595.6ZM607.1 118.5H710.8V130.1H607.1ZM618.6 129.8H699.4V141.4H618.6ZM630.1 141.1H641.9V152.7H630.1ZM664.6 141.1H676.4V152.7H664.6ZM837 197.6H848.7V209.2H837ZM837 208.9H860.2V220.5H837ZM653.1 220.2H664.9V231.8H653.1ZM641.6 231.5H687.9V243.1H641.6ZM641.6 242.8H699.4V254.5H641.6ZM630.1 254.2H710.8V265.8H630.1ZM641.6 265.5H722.3V277.1H641.6ZM641.6 276.8H733.8V288.4H641.6ZM653.1 288.1H733.8V299.7H653.1ZM664.6 299.4H745.3V311H664.6ZM676.1 310.7H745.3V322.3H676.1ZM699.1 322H745.3V333.6H699.1Z"/>
<path fill="none" stroke="#3c3a08" stroke-opacity="0.85" stroke-width="1.15" d="M699.2 50.8V62.5M733.7 50.8V62.5M756.7 50.8V62.5M871.6 50.8V62.5M710.7 62.1V73.8M745.2 62.1V73.8M768.2 62.1V73.8M710.7 73.4V85.1M745.2 73.4V85.1M791.1 73.4V85.1M722.2 84.7V96.4M768.2 84.7V96.4M791.1 84.7V96.4M733.7 96V107.7M756.7 96V107.7M791.1 96V107.7M722.2 107.3V119M756.7 107.3V119M791.1 107.3V119M710.7 118.6V130.3M756.7 118.6V130.3M791.1 118.6V130.3M894.6 118.6V130.3M699.2 129.9V141.6M768.2 129.9V141.6M894.6 129.9V141.6M641.8 141.2V153M676.2 141.2V153M768.2 141.2V153M871.6 141.2V153M894.6 141.2V153M733.7 152.6V164.3M860.1 152.6V164.3M894.6 152.6V164.3M710.7 163.9V175.6M860.1 163.9V175.6M894.6 163.9V175.6M722.2 175.2V186.9M745.2 175.2V186.9M860.1 175.2V186.9M906.1 175.2V186.9M722.2 186.5V198.2M745.2 186.5V198.2M883.1 186.5V198.2M906.1 186.5V198.2M710.7 197.8V209.5M745.2 197.8V209.5M848.6 197.8V209.5M871.6 197.8V209.5M906.1 197.8V209.5M710.7 209.1V220.8M745.2 209.1V220.8M860.1 209.1V220.8M871.6 209.1V220.8M906.1 209.1V220.8M664.7 220.4V232.1M722.2 220.4V232.1M756.7 220.4V232.1M883.1 220.4V232.1M906.1 220.4V232.1M687.7 231.7V243.4M722.2 231.7V243.4M768.2 231.7V243.4M871.6 231.7V243.4M906.1 231.7V243.4M699.2 243V254.7M733.7 243V254.7M768.2 243V254.7M883.1 243V254.7M906.1 243V254.7M710.7 254.3V266M745.2 254.3V266M779.6 254.3V266M848.6 254.3V266M883.1 254.3V266M906.1 254.3V266M722.2 265.6V277.3M745.2 265.6V277.3M791.1 265.6V277.3M906.1 265.6V277.3M733.7 276.9V288.6M756.7 276.9V288.6M791.1 276.9V288.6M906.1 276.9V288.6M733.7 288.2V299.9M768.2 288.2V299.9M802.6 288.2V299.9M745.2 299.5V311.2M768.2 299.5V311.2M802.6 299.5V311.2M745.2 310.8V322.5M779.6 310.8V322.5M814.1 310.8V322.5M595.8 322.1V333.8M745.2 322.1V333.8M779.6 322.1V333.8M814.1 322.1V333.8M791.1 333.4V345.1M814.1 333.4V345.1M779.6 344.7V356.4M814.1 344.7V356.4M745.2 356.1V367.8M814.1 356.1V367.8M710.7 367.4V379.1M802.6 367.4V379.1M676.2 378.7V390.4M768.2 378.7V390.4M653.2 390V401.7M733.7 390V401.7M871.6 390V401.7M687.7 401.3V413M733.7 401.3V413M871.6 401.3V413M618.8 412.6V424.3M687.7 412.6V424.3M745.2 412.6V424.3M848.6 412.6V424.3M883.1 412.6V424.3M699.2 423.9V435.6M745.2 423.9V435.6M848.6 423.9V435.6M883.1 423.9V435.6M722.2 435.2V446.9M745.2 435.2V446.9M860.1 435.2V446.9M883.1 435.2V446.9M722.2 446.5V458.2M745.2 446.5V458.2M883.1 446.5V458.2M814.1 62.1H826M825.6 62.1H837.5M837.1 62.1H849M848.6 62.1H860.5M860.1 62.1H872M584.3 84.7H596.2M952 84.7H963.9M756.7 96H768.6M963.5 96H975.4M722.2 107.3H734.1M929 107.3H940.9M595.8 118.6H607.7M710.7 118.6H722.6M940.5 118.6H952.4M607.3 129.9H619.2M699.2 129.9H711.1M618.8 141.2H630.7M641.8 141.2H653.6M653.2 141.2H665.1M676.2 141.2H688.1M687.7 141.2H699.6M630.3 152.6H642.1M664.7 152.6H676.6M733.7 152.6H745.6M745.2 152.6H757.1M756.7 152.6H768.6M860.1 152.6H872M975 152.6H986.9M710.7 163.9H722.6M722.2 163.9H734.1M572.8 175.2H584.7M745.2 175.2H757.1M756.7 175.2H768.6M768.2 175.2H780M779.6 175.2H791.5M814.1 175.2H826M584.3 186.5H596.2M710.7 197.8H722.6M871.6 197.8H883.5M814.1 209.1H826M837.1 220.4H849M848.6 220.4H860.5M791.1 231.7H803M825.6 231.7H837.5M871.6 231.7H883.5M837.1 243H849M848.6 254.3H860.5M630.3 265.6H642.1M837.1 265.6H849M860.1 265.6H872M871.6 265.6H883.5M584.3 276.9H596.2M641.8 288.2H653.6M802.6 288.2H814.5M814.1 288.2H826M825.6 288.2H837.5M837.1 288.2H849M848.6 288.2H860.5M860.1 288.2H872M871.6 288.2H883.5M883.1 288.2H895M894.6 288.2H906.5M595.8 299.5H607.7M653.2 299.5H665.1M664.7 310.8H676.6M595.8 322.1H607.7M676.2 322.1H688.1M687.7 322.1H699.6M572.8 333.4H584.7M584.3 333.4H596.2M699.2 333.4H711.1M710.7 333.4H722.6M722.2 333.4H734.1M733.7 333.4H745.6M607.3 344.7H619.2M618.8 344.7H630.7M779.6 344.7H791.5M572.8 356.1H584.7M745.2 356.1H757.1M756.7 356.1H768.6M768.2 356.1H780M952 356.1H963.9M963.5 356.1H975.4M975 356.1H986.9M584.3 367.4H596.2M595.8 367.4H607.7M630.3 367.4H642.1M641.8 367.4H653.6M653.2 367.4H665.1M664.7 367.4H676.6M676.2 367.4H688.1M687.7 367.4H699.6M710.7 367.4H722.6M722.2 367.4H734.1M733.7 367.4H745.6M802.6 367.4H814.5M699.2 378.7H711.1M768.2 378.7H780M779.6 378.7H791.5M791.1 378.7H803M653.2 390H665.1M664.7 390H676.6M733.7 390H745.6M745.2 390H757.1M756.7 390H768.6M630.3 401.3H642.1M837.1 446.5H849M848.6 446.5H860.5"/>
<path fill="none" stroke="#a0a0a0" stroke-opacity="0.45" stroke-width="0.8" stroke-dasharray="1.2 1.2" d="M779.6 50.8V457.8M572.8 254.3H986.5"/>
<rect x="572.8" y="50.8" width="413.7" height="407" fill="none" stroke="#8c8c8c" stroke-width="1.3"/>
<path fill="none" stroke="#8c8c8c" stroke-width="1.1" d="M572.8 457.8v4.2M624.5 457.8v4.2M676.2 457.8v4.2M727.9 457.8v4.2M779.6 457.8v4.2M831.4 457.8v4.2M883.1 457.8v4.2M934.8 457.8v4.2M986.5 457.8v4.2M572.8 50.8h-5.5M572.8 101.7h-5.5M572.8 152.6h-5.5M572.8 203.4h-5.5M572.8 254.3h-5.5M572.8 305.2h-5.5M572.8 356.1h-5.5M572.8 406.9h-5.5"/>
<g class="tk">
<text x="572.8" y="475.1" text-anchor="middle">-180</text>
<text x="624.5" y="475.1" text-anchor="middle">-135</text>
<text x="676.2" y="475.1" text-anchor="middle">-90</text>
<text x="727.9" y="475.1" text-anchor="middle">-45</text>
<text x="779.6" y="475.1" text-anchor="middle">0</text>
<text x="831.4" y="475.1" text-anchor="middle">45</text>
<text x="883.1" y="475.1" text-anchor="middle">90</text>
<text x="934.8" y="475.1" text-anchor="middle">135</text>
<text x="986.5" y="475.1" text-anchor="middle">180</text>
<text x="565.6" y="55.9" text-anchor="end">180</text>
<text x="565.6" y="106.8" text-anchor="end">135</text>
<text x="565.6" y="157.7" text-anchor="end">90</text>
<text x="565.6" y="208.5" text-anchor="end">45</text>
<text x="565.6" y="259.4" text-anchor="end">0</text>
<text x="565.6" y="310.3" text-anchor="end">-45</text>
<text x="565.6" y="361.2" text-anchor="end">-90</text>
<text x="565.6" y="412" text-anchor="end">-135</text>
</g>
<g class="rl">
<text x="591.6" y="68" font-size="14.5">B</text>
<text x="581.1" y="112.4" font-size="14.5">b</text>
<text x="592.7" y="225.6" font-size="14.5">a</text>
<text x="649.2" y="249.3" font-size="14.5">A</text>
<text x="759.3" y="111.4" font-size="9.5">~b</text>
<text x="828.2" y="134.2" font-size="9.5">~l</text>
<text x="818.2" y="167.9" font-size="10">l</text>
<text x="840.1" y="207.3" font-size="10">L</text>
<text x="930.3" y="66.3" font-size="9.5">~b</text>
<text x="972.6" y="77.6" font-size="10">b</text>
<text x="758.3" y="275.1" font-size="9.5">~a</text>
<text x="575.8" y="404.7" font-size="9.5">~b</text>
<text x="593.7" y="427.6" font-size="10">b</text>
<text x="815.8" y="404.7" font-size="9.5">~p</text>
<text x="840.7" y="427.6" font-size="10">p</text>
<text x="953.1" y="438.5" font-size="9.5">~b</text>
</g>
<path fill="#000" d="M693.1 283.3h3.9v3.9h-3.9zM715.7 287.6h3.9v3.9h-3.9zM691.5 290.7h3.9v3.9h-3.9zM699.7 301.9h3.9v3.9h-3.9zM707.4 312.2h3.9v3.9h-3.9zM709.1 295.2h3.9v3.9h-3.9zM711.7 298.7h3.9v3.9h-3.9zM696.6 295.9h3.9v3.9h-3.9zM697.6 299.6h3.9v3.9h-3.9zM697.5 292.3h3.9v3.9h-3.9zM696.1 291.9h3.9v3.9h-3.9zM721.3 311.6h3.9v3.9h-3.9zM695.7 277.5h3.9v3.9h-3.9zM696.5 294.9h3.9v3.9h-3.9zM693.4 295.5h3.9v3.9h-3.9zM708.7 291.1h3.9v3.9h-3.9zM689.1 284.6h3.9v3.9h-3.9zM711.7 292.9h3.9v3.9h-3.9zM709.9 291.5h3.9v3.9h-3.9zM702.3 291.6h3.9v3.9h-3.9zM702.4 292.5h3.9v3.9h-3.9zM708.1 300.9h3.9v3.9h-3.9zM698 274.1h3.9v3.9h-3.9zM687.2 287.7h3.9v3.9h-3.9zM697.4 304.7h3.9v3.9h-3.9zM696.2 277h3.9v3.9h-3.9zM703.9 290.1h3.9v3.9h-3.9zM713 294.2h3.9v3.9h-3.9zM713.6 285.7h3.9v3.9h-3.9zM702.5 286.2h3.9v3.9h-3.9zM696.5 275h3.9v3.9h-3.9zM704.1 276.2h3.9v3.9h-3.9zM704.2 294.1h3.9v3.9h-3.9zM706.3 284.6h3.9v3.9h-3.9zM703.6 287h3.9v3.9h-3.9zM714.2 286.9h3.9v3.9h-3.9zM700 292.1h3.9v3.9h-3.9zM690.8 284.2h3.9v3.9h-3.9zM698.9 293.7h3.9v3.9h-3.9zM700.2 304.8h3.9v3.9h-3.9zM715.5 302.3h3.9v3.9h-3.9zM701.6 295.3h3.9v3.9h-3.9zM717.1 307.2h3.9v3.9h-3.9zM717.8 305.1h3.9v3.9h-3.9zM701.8 288.8h3.9v3.9h-3.9zM690.9 275.8h3.9v3.9h-3.9zM692.8 291.1h3.9v3.9h-3.9zM702.2 283.9h3.9v3.9h-3.9zM700.8 301.7h3.9v3.9h-3.9zM685.3 280.9h3.9v3.9h-3.9zM694.6 305.6h3.9v3.9h-3.9zM699.8 301.6h3.9v3.9h-3.9zM706 285h3.9v3.9h-3.9zM704.8 292h3.9v3.9h-3.9zM710.6 301h3.9v3.9h-3.9zM696.6 295.6h3.9v3.9h-3.9zM694.8 277.8h3.9v3.9h-3.9zM697.9 281.7h3.9v3.9h-3.9zM695.7 279.7h3.9v3.9h-3.9zM707.7 298.1h3.9v3.9h-3.9zM695 310.4h3.9v3.9h-3.9zM700 283.2h3.9v3.9h-3.9zM694.5 292.3h3.9v3.9h-3.9zM722.2 300.7h3.9v3.9h-3.9zM699.7 280.4h3.9v3.9h-3.9zM694.9 277.7h3.9v3.9h-3.9zM695 268.7h3.9v3.9h-3.9zM701.3 280.3h3.9v3.9h-3.9zM716.1 289.8h3.9v3.9h-3.9zM707.9 293.6h3.9v3.9h-3.9zM696 290.8h3.9v3.9h-3.9zM695.1 282.8h3.9v3.9h-3.9zM699.2 272.7h3.9v3.9h-3.9zM701.2 301.5h3.9v3.9h-3.9zM692.3 266.8h3.9v3.9h-3.9zM702.2 282.4h3.9v3.9h-3.9zM699.3 280.4h3.9v3.9h-3.9zM698.6 280.7h3.9v3.9h-3.9zM701.2 295.7h3.9v3.9h-3.9zM705 304.8h3.9v3.9h-3.9zM705.5 293.7h3.9v3.9h-3.9zM702.9 294.4h3.9v3.9h-3.9zM696.9 267.9h3.9v3.9h-3.9zM699.3 290h3.9v3.9h-3.9zM705 299.5h3.9v3.9h-3.9zM696 270.5h3.9v3.9h-3.9zM696.1 288.4h3.9v3.9h-3.9zM673.9 265.1h3.9v3.9h-3.9zM694.8 305.4h3.9v3.9h-3.9zM707.8 284.3h3.9v3.9h-3.9zM697.6 289.6h3.9v3.9h-3.9zM702.7 291.3h3.9v3.9h-3.9zM692 279.7h3.9v3.9h-3.9zM707.9 290.2h3.9v3.9h-3.9zM702.8 292h3.9v3.9h-3.9zM700 299.4h3.9v3.9h-3.9zM706.7 289.8h3.9v3.9h-3.9zM703.3 303.3h3.9v3.9h-3.9zM689.7 301h3.9v3.9h-3.9zM710.1 304.2h3.9v3.9h-3.9zM710.4 284.1h3.9v3.9h-3.9zM706.4 287.4h3.9v3.9h-3.9zM706.9 291.9h3.9v3.9h-3.9zM704.1 298.7h3.9v3.9h-3.9zM705.5 297.9h3.9v3.9h-3.9zM712.9 283.5h3.9v3.9h-3.9zM700.3 275.4h3.9v3.9h-3.9zM706.6 303.9h3.9v3.9h-3.9zM703.4 300h3.9v3.9h-3.9zM728.4 300.6h3.9v3.9h-3.9zM708.1 298.7h3.9v3.9h-3.9zM694.9 278.4h3.9v3.9h-3.9zM697.7 281.7h3.9v3.9h-3.9zM685.5 271.6h3.9v3.9h-3.9zM703.2 285.5h3.9v3.9h-3.9zM699.3 286.1h3.9v3.9h-3.9zM696.9 282.1h3.9v3.9h-3.9zM702.1 287.7h3.9v3.9h-3.9zM702.9 289h3.9v3.9h-3.9zM701.5 289.8h3.9v3.9h-3.9zM730.9 327h3.9v3.9h-3.9zM707.3 274.4h3.9v3.9h-3.9zM706.2 302.1h3.9v3.9h-3.9zM700.9 311.7h3.9v3.9h-3.9zM698.4 276.6h3.9v3.9h-3.9zM699.7 305h3.9v3.9h-3.9zM700.5 279.4h3.9v3.9h-3.9zM686 288.8h3.9v3.9h-3.9zM690 295.9h3.9v3.9h-3.9zM709.3 293.8h3.9v3.9h-3.9zM700.7 288.3h3.9v3.9h-3.9zM696.4 276.5h3.9v3.9h-3.9zM693.6 280.1h3.9v3.9h-3.9zM701.7 294.2h3.9v3.9h-3.9zM698.8 290.3h3.9v3.9h-3.9zM711.1 299.5h3.9v3.9h-3.9zM715.3 303.1h3.9v3.9h-3.9zM706.1 284.2h3.9v3.9h-3.9zM704.7 275.6h3.9v3.9h-3.9zM702.7 292.7h3.9v3.9h-3.9zM702.4 273.3h3.9v3.9h-3.9zM706.5 279.8h3.9v3.9h-3.9zM668.4 282.3h3.9v3.9h-3.9zM702.8 288.3h3.9v3.9h-3.9zM699.5 278.2h3.9v3.9h-3.9zM706.3 290.8h3.9v3.9h-3.9zM698.3 279.1h3.9v3.9h-3.9zM690.7 283h3.9v3.9h-3.9zM687.6 280.5h3.9v3.9h-3.9zM709.5 289.5h3.9v3.9h-3.9zM700.4 285.9h3.9v3.9h-3.9zM707.4 298.8h3.9v3.9h-3.9zM702.3 286h3.9v3.9h-3.9zM700.2 293.8h3.9v3.9h-3.9zM705.6 297.6h3.9v3.9h-3.9zM701.7 284.7h3.9v3.9h-3.9zM701.7 286.5h3.9v3.9h-3.9zM702.2 302.2h3.9v3.9h-3.9zM712.5 291.9h3.9v3.9h-3.9zM704.3 295h3.9v3.9h-3.9zM703.8 286.7h3.9v3.9h-3.9zM696.5 270.8h3.9v3.9h-3.9zM703 306.5h3.9v3.9h-3.9zM689.9 280.7h3.9v3.9h-3.9zM708.2 282.1h3.9v3.9h-3.9zM698.3 299.1h3.9v3.9h-3.9zM700.1 296h3.9v3.9h-3.9zM717.4 283.3h3.9v3.9h-3.9zM710.8 306.6h3.9v3.9h-3.9zM700.4 287.1h3.9v3.9h-3.9zM707.2 296.1h3.9v3.9h-3.9zM710.5 279.9h3.9v3.9h-3.9zM701.9 298.8h3.9v3.9h-3.9zM707.1 295.7h3.9v3.9h-3.9zM687.2 258.2h3.9v3.9h-3.9zM701.7 288.8h3.9v3.9h-3.9zM703 293.8h3.9v3.9h-3.9zM694.9 283.8h3.9v3.9h-3.9zM708.8 285.3h3.9v3.9h-3.9zM692.5 279.9h3.9v3.9h-3.9zM711.8 323.6h3.9v3.9h-3.9zM708 278.6h3.9v3.9h-3.9zM701.4 284.6h3.9v3.9h-3.9zM699.6 283.8h3.9v3.9h-3.9zM709 278.6h3.9v3.9h-3.9zM694.5 271.3h3.9v3.9h-3.9zM709.5 303.2h3.9v3.9h-3.9zM705.6 298.9h3.9v3.9h-3.9zM700.4 277.6h3.9v3.9h-3.9zM703.9 307.1h3.9v3.9h-3.9zM698.8 297.1h3.9v3.9h-3.9zM683.3 296.3h3.9v3.9h-3.9zM710.7 293.9h3.9v3.9h-3.9zM695.9 296.9h3.9v3.9h-3.9zM703.3 289.3h3.9v3.9h-3.9zM702.2 280.6h3.9v3.9h-3.9zM699 301.4h3.9v3.9h-3.9zM705.2 306h3.9v3.9h-3.9zM708.1 311.1h3.9v3.9h-3.9zM695.4 288h3.9v3.9h-3.9zM701.9 278.8h3.9v3.9h-3.9zM703.6 286.8h3.9v3.9h-3.9zM699.6 285.8h3.9v3.9h-3.9zM699.5 295.6h3.9v3.9h-3.9zM690.3 282.1h3.9v3.9h-3.9zM694.5 293.6h3.9v3.9h-3.9zM701.5 283.7h3.9v3.9h-3.9zM703.9 289.9h3.9v3.9h-3.9zM693.4 299.8h3.9v3.9h-3.9zM702.3 297.2h3.9v3.9h-3.9zM711.7 311.1h3.9v3.9h-3.9zM702.8 287.4h3.9v3.9h-3.9zM697.1 287.8h3.9v3.9h-3.9zM697.7 279.2h3.9v3.9h-3.9zM700 300.1h3.9v3.9h-3.9zM706.8 294.2h3.9v3.9h-3.9zM712.3 300.2h3.9v3.9h-3.9zM693.9 297.4h3.9v3.9h-3.9zM695.5 302.9h3.9v3.9h-3.9zM696.1 285.9h3.9v3.9h-3.9zM689.5 283.6h3.9v3.9h-3.9zM705.3 292.7h3.9v3.9h-3.9zM709 292h3.9v3.9h-3.9zM711 307.5h3.9v3.9h-3.9zM700.1 303.1h3.9v3.9h-3.9zM706.1 270.8h3.9v3.9h-3.9zM687.5 291.6h3.9v3.9h-3.9zM718.6 73.3h3.9v3.9h-3.9zM602.3 85.2h3.9v3.9h-3.9zM639.2 82.6h3.9v3.9h-3.9zM626.8 89h3.9v3.9h-3.9zM634 89.5h3.9v3.9h-3.9zM644.3 90.8h3.9v3.9h-3.9zM637.9 95.5h3.9v3.9h-3.9zM631.5 98h3.9v3.9h-3.9zM627.6 98.6h3.9v3.9h-3.9zM623.2 99.3h3.9v3.9h-3.9zM618.6 101.7h3.9v3.9h-3.9zM669.3 68.2h3.9v3.9h-3.9zM679.6 66.3h3.9v3.9h-3.9zM689.4 56.8h3.9v3.9h-3.9zM690.2 62.5h3.9v3.9h-3.9zM695.9 67.6h3.9v3.9h-3.9zM698.5 62.5h3.9v3.9h-3.9zM694.6 72.8h3.9v3.9h-3.9zM694.6 76.1h3.9v3.9h-3.9zM705.7 75.4h3.9v3.9h-3.9zM680.4 81h3.9v3.9h-3.9zM675.8 83.1h3.9v3.9h-3.9zM672.7 84.4h3.9v3.9h-3.9zM691.2 84.9h3.9v3.9h-3.9zM694.6 85.7h3.9v3.9h-3.9zM701.6 81.8h3.9v3.9h-3.9zM668.3 90.3h3.9v3.9h-3.9zM674 91.3h3.9v3.9h-3.9zM677.8 92.9h3.9v3.9h-3.9zM686.9 93.9h3.9v3.9h-3.9zM695.9 95.5h3.9v3.9h-3.9zM698.5 93.4h3.9v3.9h-3.9zM704.1 90.3h3.9v3.9h-3.9zM706.2 93.9h3.9v3.9h-3.9zM710.1 95.5h3.9v3.9h-3.9zM713.9 98.6h3.9v3.9h-3.9zM703.6 97.3h3.9v3.9h-3.9zM653.4 96.8h3.9v3.9h-3.9zM648.2 106.3h3.9v3.9h-3.9zM654.6 103.7h3.9v3.9h-3.9zM662.9 100.6h3.9v3.9h-3.9zM674.8 99.3h3.9v3.9h-3.9zM688.2 103.7h3.9v3.9h-3.9zM685.6 107.6h3.9v3.9h-3.9zM690.2 108.9h3.9v3.9h-3.9zM694.6 110.7h3.9v3.9h-3.9zM701 105h3.9v3.9h-3.9zM706.2 110.2h3.9v3.9h-3.9zM708.8 111.5h3.9v3.9h-3.9zM670.6 111.5h3.9v3.9h-3.9zM679.1 113.5h3.9v3.9h-3.9zM681.7 113.5h3.9v3.9h-3.9zM652.1 115.8h3.9v3.9h-3.9zM668.8 117.9h3.9v3.9h-3.9zM654.6 122.5h3.9v3.9h-3.9zM660.6 120.5h3.9v3.9h-3.9zM672.2 122.5h3.9v3.9h-3.9zM674.5 124.3h3.9v3.9h-3.9zM613.4 127.4h3.9v3.9h-3.9zM646.9 130.8h3.9v3.9h-3.9zM694.1 132.1h3.9v3.9h-3.9zM705.4 128.2h3.9v3.9h-3.9zM620.4 154h3.9v3.9h-3.9zM618 159.1h3.9v3.9h-3.9zM642.5 166.1h3.9v3.9h-3.9zM655.4 158.4h3.9v3.9h-3.9zM620.4 175.9h3.9v3.9h-3.9zM677.8 188.8h3.9v3.9h-3.9zM680.9 163.5h3.9v3.9h-3.9zM686.9 166.9h3.9v3.9h-3.9zM685.1 172h3.9v3.9h-3.9zM679.6 175.4h3.9v3.9h-3.9zM675.8 172.8h3.9v3.9h-3.9zM677.8 166.9h3.9v3.9h-3.9zM832.5 170h3.9v3.9h-3.9zM833.3 175.4h3.9v3.9h-3.9zM835.6 176.4h3.9v3.9h-3.9zM833.3 184.1h3.9v3.9h-3.9zM842.3 185.4h3.9v3.9h-3.9zM838.4 202.9h3.9v3.9h-3.9zM836.3 209.9h3.9v3.9h-3.9zM851.3 221.8h3.9v3.9h-3.9zM836.3 228.2h3.9v3.9h-3.9zM857.7 246h3.9v3.9h-3.9zM652.6 218.4h3.9v3.9h-3.9zM655.9 218.9h3.9v3.9h-3.9zM668.3 235.2h3.9v3.9h-3.9zM676.6 242.9h3.9v3.9h-3.9zM661.9 249.3h3.9v3.9h-3.9zM635.8 259.6h3.9v3.9h-3.9zM654.6 260.9h3.9v3.9h-3.9zM690.7 262.2h3.9v3.9h-3.9zM699.8 263.5h3.9v3.9h-3.9zM681.7 262.2h3.9v3.9h-3.9zM978.6 73.3h3.9v3.9h-3.9zM635.8 260h3.9v3.9h-3.9zM654.6 261.8h3.9v3.9h-3.9zM661.9 249.6h3.9v3.9h-3.9zM676.6 243.2h3.9v3.9h-3.9zM680.4 277.2h3.9v3.9h-3.9zM661.9 283.2h3.9v3.9h-3.9zM680.9 288.3h3.9v3.9h-3.9zM668.3 294.2h3.9v3.9h-3.9zM642.5 299.9h3.9v3.9h-3.9zM659.3 303.3h3.9v3.9h-3.9zM673.5 302.5h3.9v3.9h-3.9zM644.9 318.7h3.9v3.9h-3.9zM679.1 319.2h3.9v3.9h-3.9zM688.9 314.6h3.9v3.9h-3.9zM697.7 320h3.9v3.9h-3.9zM677.8 352.2h3.9v3.9h-3.9zM580.7 447.3h3.9v3.9h-3.9zM637.4 446.8h3.9v3.9h-3.9zM857.7 246.3h3.9v3.9h-3.9zM704.6 295.7l1.8 3.2h-3.6zM707.5 284.7l1.8 3.2h-3.6zM697.8 281.2l1.8 3.2h-3.6zM706.2 265l1.8 3.2h-3.6zM707.4 286.1l1.8 3.2h-3.6zM707.7 292.4l1.8 3.2h-3.6zM702.7 292l1.8 3.2h-3.6zM713.1 296l1.8 3.2h-3.6zM694.1 272.9l1.8 3.2h-3.6zM720.4 291.4l1.8 3.2h-3.6zM708.6 284.9l1.8 3.2h-3.6zM705.4 271l1.8 3.2h-3.6zM704.8 277l1.8 3.2h-3.6zM715.1 306.7l1.8 3.2h-3.6zM700.9 275.2l1.8 3.2h-3.6zM713.6 306.2l1.8 3.2h-3.6zM699.2 302.2l1.8 3.2h-3.6zM706.9 287.7l1.8 3.2h-3.6zM709.4 293.3l1.8 3.2h-3.6zM690.9 289.1l1.8 3.2h-3.6zM706.6 298.2l1.8 3.2h-3.6zM712.2 292.3l1.8 3.2h-3.6zM710 297.2l1.8 3.2h-3.6zM682.4 49.7l1.8 3.2h-3.6zM694 121.9l1.8 3.2h-3.6zM868.7 49.2l1.8 3.2h-3.6zM887 88.4l1.8 3.2h-3.6zM864.8 217.3l1.8 3.2h-3.6zM887.3 240l1.8 3.2h-3.6zM677.2 216.5l1.8 3.2h-3.6zM874.9 276.6l1.8 3.2h-3.6zM648.9 256.7l1.8 3.2h-3.6zM684.9 257.2l1.8 3.2h-3.6zM648.9 256.8l1.8 3.2h-3.6zM684.9 257.5l1.8 3.2h-3.6zM672.1 281.2l1.8 3.2h-3.6zM717.2 319.4l1.8 3.2h-3.6zM706.3 323.3l1.8 3.2h-3.6zM874.9 277.6l1.8 3.2h-3.6zM887.3 239.5l1.8 3.2h-3.6zM666.4 415.5l1.8 3.2h-3.6zM684.9 430.2l1.8 3.2h-3.6zM849.9 398l1.8 3.2h-3.6zM864.1 444.4l1.8 3.2h-3.6zM978 443.1l1.8 3.2h-3.6zM980.6 454.7l1.8 3.2h-3.6z"/>
<g class="ol">
<text x="865.6" y="69.7" text-anchor="middle">THR 290</text>
<text x="868.5" y="320.5" text-anchor="middle">ALA 130</text>
<text x="836.5" y="416.6" text-anchor="middle">VAL 335</text>
<text x="850.7" y="425.6" text-anchor="middle">ALA 409</text>
</g>
<path fill="#ee1c23" d="M863.7 71.5h3.9v3.9h-3.9zM866.5 322.3h3.9v3.9h-3.9zM834.5 418.5h3.9v3.9h-3.9zM848.7 427.5h3.9v3.9h-3.9z"/>
</g>
<g>
<path fill="#fffbb9" d="M1200.1 50.9H1223.6V62.6H1200.1ZM1397.5 50.9H1444.2V62.6H1397.5ZM1211.7 62.3H1235.2V74H1211.7ZM1397.5 62.3H1432.6V74H1397.5ZM1211.7 73.7H1258.5V85.4H1211.7ZM1397.5 73.7H1421V85.4H1397.5ZM1234.9 85.1H1258.5V96.8H1234.9ZM1397.5 85.1H1432.6V96.8H1397.5ZM1223.3 96.5H1258.5V108.2H1223.3ZM1397.5 96.5H1444.2V108.2H1397.5ZM1223.3 107.9H1258.5V119.6H1223.3ZM1409.1 107.9H1444.2V119.6H1409.1ZM1223.3 119.3H1258.5V131H1223.3ZM1420.7 119.3H1444.2V131H1420.7ZM1234.9 130.7H1258.5V142.4H1234.9ZM1420.7 130.7H1444.2V142.4H1420.7ZM1234.9 142.1H1258.5V153.8H1234.9ZM1420.7 142.1H1444.2V153.8H1420.7ZM1200.1 153.5H1258.5V165.2H1200.1ZM1420.7 153.5H1455.9V165.2H1420.7ZM1176.9 164.9H1258.5V176.6H1176.9ZM1420.7 164.9H1455.9V176.6H1420.7ZM1037.5 176.3H1049.5V188H1037.5ZM1188.5 176.3H1212V188H1188.5ZM1420.7 176.3H1455.9V188H1420.7ZM1037.5 187.7H1061.1V199.4H1037.5ZM1188.5 187.7H1212V199.4H1188.5ZM1420.7 187.7H1455.9V199.4H1420.7ZM1420.7 199.1H1455.9V210.8H1420.7ZM1420.7 210.5H1455.9V222.2H1420.7ZM1420.7 221.9H1455.9V233.6H1420.7ZM1420.7 233.3H1455.9V245H1420.7ZM1420.7 244.7H1455.9V256.4H1420.7ZM1420.7 256.2H1455.9V267.9H1420.7ZM1420.7 267.6H1455.9V279.3H1420.7ZM1420.7 279H1455.9V290.7H1420.7ZM1420.7 290.4H1455.9V302.1H1420.7ZM1420.7 301.8H1455.9V313.5H1420.7ZM1420.7 313.2H1455.9V324.9H1420.7ZM1420.7 324.6H1455.9V336.3H1420.7ZM1420.7 336H1455.9V347.7H1420.7ZM1420.7 347.4H1455.9V359.1H1420.7ZM1072.4 381.6H1119.1V393.3H1072.4ZM1142 381.6H1235.2V393.3H1142ZM1037.5 393H1095.9V404.7H1037.5ZM1118.8 393H1200.4V404.7H1118.8ZM1037.5 404.4H1107.5V416.1H1037.5ZM1153.7 404.4H1200.4V416.1H1153.7ZM1037.5 415.8H1049.5V427.5H1037.5ZM1084 415.8H1095.9V427.5H1084ZM1153.7 415.8H1212V427.5H1153.7ZM1037.5 427.2H1049.5V438.9H1037.5ZM1165.3 427.2H1212V438.9H1165.3ZM1420.7 427.2H1455.9V438.9H1420.7ZM1037.5 438.6H1049.5V450.3H1037.5ZM1188.5 438.6H1212V450.3H1188.5ZM1420.7 438.6H1455.9V450.3H1420.7ZM1188.5 450H1212V461.8H1188.5ZM1420.7 450H1444.2V461.8H1420.7Z"/>
<path fill="#f5f5b0" d="M1281.4 50.9H1339.7V62.6H1281.4ZM1293 119.3H1363V131H1293ZM1258.2 130.7H1363V142.4H1258.2ZM1258.2 142.1H1316.5V153.8H1258.2ZM1339.4 142.1H1363V153.8H1339.4ZM1258.2 153.5H1281.7V165.2H1258.2ZM1327.8 153.5H1363V165.2H1327.8ZM1258.2 164.9H1281.7V176.6H1258.2ZM1327.8 164.9H1363V176.6H1327.8ZM1258.2 176.3H1293.3V188H1258.2ZM1327.8 176.3H1374.6V188H1327.8ZM1258.2 187.7H1281.7V199.4H1258.2ZM1351 187.7H1374.6V199.4H1351ZM1037.5 199.1H1061.1V210.8H1037.5ZM1176.9 199.1H1212V210.8H1176.9ZM1258.2 199.1H1281.7V210.8H1258.2ZM1339.4 199.1H1374.6V210.8H1339.4ZM1037.5 210.5H1049.5V222.2H1037.5ZM1176.9 210.5H1212V222.2H1176.9ZM1258.2 210.5H1293.3V222.2H1258.2ZM1339.4 210.5H1374.6V222.2H1339.4ZM1037.5 221.9H1049.5V233.6H1037.5ZM1188.5 221.9H1223.6V233.6H1188.5ZM1258.2 221.9H1293.3V233.6H1258.2ZM1351 221.9H1374.6V233.6H1351ZM1037.5 233.3H1049.5V245H1037.5ZM1188.5 233.3H1235.2V245H1188.5ZM1269.8 233.3H1304.9V245H1269.8ZM1339.4 233.3H1374.6V245H1339.4ZM1037.5 244.7H1049.5V256.4H1037.5ZM1200.1 244.7H1235.2V256.4H1200.1ZM1269.8 244.7H1316.5V256.4H1269.8ZM1351 244.7H1374.6V256.4H1351ZM1037.5 256.2H1049.5V267.9H1037.5ZM1211.7 256.2H1246.9V267.9H1211.7ZM1269.8 256.2H1304.9V267.9H1269.8ZM1316.2 256.2H1328.1V267.9H1316.2ZM1351 256.2H1374.6V267.9H1351ZM1037.5 267.6H1049.5V279.3H1037.5ZM1211.7 267.6H1258.5V279.3H1211.7ZM1269.8 267.6H1374.6V279.3H1269.8ZM1037.5 279H1061.1V290.7H1037.5ZM1223.3 279H1258.5V290.7H1223.3ZM1269.8 279H1374.6V290.7H1269.8ZM1037.5 290.4H1061.1V302.1H1037.5ZM1234.9 290.4H1270.1V302.1H1234.9ZM1037.5 301.8H1072.7V313.5H1037.5ZM1234.9 301.8H1270.1V313.5H1234.9ZM1037.5 313.2H1049.5V324.9H1037.5ZM1246.5 313.2H1281.7V324.9H1246.5ZM1060.8 324.6H1072.7V336.3H1060.8ZM1246.5 324.6H1281.7V336.3H1246.5ZM1037.5 336H1072.7V347.7H1037.5ZM1258.2 336H1281.7V347.7H1258.2ZM1037.5 347.4H1095.9V359.1H1037.5ZM1246.5 347.4H1281.7V359.1H1246.5ZM1049.2 358.8H1095.9V370.5H1049.2ZM1211.7 358.8H1281.7V370.5H1211.7ZM1072.4 370.2H1165.6V381.9H1072.4ZM1176.9 370.2H1270.1V381.9H1176.9ZM1281.4 393H1339.7V404.7H1281.4ZM1281.4 404.4H1339.7V416.1H1281.4ZM1281.4 415.8H1304.9V427.5H1281.4ZM1316.2 415.8H1351.4V427.5H1316.2ZM1281.4 427.2H1304.9V438.9H1281.4ZM1316.2 427.2H1351.4V438.9H1316.2ZM1281.4 438.6H1304.9V450.3H1281.4ZM1327.8 438.6H1351.4V450.3H1327.8ZM1281.4 450H1351.4V461.8H1281.4Z"/>
<path fill="#fdef0b" d="M1037.5 50.9H1049.5V62.6H1037.5ZM1165.3 50.9H1200.4V62.6H1165.3ZM1443.9 50.9H1455.9V62.6H1443.9ZM1037.5 62.3H1049.5V74H1037.5ZM1176.9 62.3H1212V74H1176.9ZM1432.3 62.3H1455.9V74H1432.3ZM1037.5 73.7H1049.5V85.4H1037.5ZM1176.9 73.7H1212V85.4H1176.9ZM1420.7 73.7H1455.9V85.4H1420.7ZM1037.5 85.1H1061.1V96.8H1037.5ZM1188.5 85.1H1235.2V96.8H1188.5ZM1432.3 85.1H1455.9V96.8H1432.3ZM1037.5 96.5H1061.1V108.2H1037.5ZM1200.1 96.5H1223.6V108.2H1200.1ZM1443.9 96.5H1455.9V108.2H1443.9ZM1037.5 107.9H1061.1V119.6H1037.5ZM1188.5 107.9H1223.6V119.6H1188.5ZM1443.9 107.9H1455.9V119.6H1443.9ZM1037.5 119.3H1072.7V131H1037.5ZM1176.9 119.3H1223.6V131H1176.9ZM1443.9 119.3H1455.9V131H1443.9ZM1037.5 130.7H1084.3V142.4H1037.5ZM1165.3 130.7H1235.2V142.4H1165.3ZM1443.9 130.7H1455.9V142.4H1443.9ZM1037.5 142.1H1095.9V153.8H1037.5ZM1107.2 142.1H1130.7V153.8H1107.2ZM1142 142.1H1235.2V153.8H1142ZM1316.2 142.1H1339.7V153.8H1316.2ZM1443.9 142.1H1455.9V153.8H1443.9ZM1037.5 153.5H1200.4V165.2H1037.5ZM1281.4 153.5H1328.1V165.2H1281.4ZM1037.5 164.9H1177.2V176.6H1037.5ZM1281.4 164.9H1328.1V176.6H1281.4ZM1049.2 176.3H1188.8V188H1049.2ZM1293 176.3H1328.1V188H1293ZM1060.8 187.7H1188.8V199.4H1060.8ZM1281.4 187.7H1351.4V199.4H1281.4ZM1281.4 199.1H1304.9V210.8H1281.4ZM1316.2 199.1H1339.7V210.8H1316.2ZM1293 210.5H1304.9V222.2H1293ZM1327.8 210.5H1339.7V222.2H1327.8ZM1293 221.9H1351.4V233.6H1293ZM1304.6 233.3H1339.7V245H1304.6ZM1316.2 244.7H1351.4V256.4H1316.2ZM1304.6 256.2H1316.5V267.9H1304.6ZM1327.8 256.2H1351.4V267.9H1327.8ZM1118.8 381.6H1142.4V393.3H1118.8ZM1095.6 393H1119.1V404.7H1095.6ZM1107.2 404.4H1154V416.1H1107.2ZM1049.2 415.8H1084.3V427.5H1049.2ZM1095.6 415.8H1154V427.5H1095.6ZM1304.6 415.8H1316.5V427.5H1304.6ZM1049.2 427.2H1165.6V438.9H1049.2ZM1304.6 427.2H1316.5V438.9H1304.6ZM1049.2 438.6H1188.8V450.3H1049.2ZM1304.6 438.6H1328.1V450.3H1304.6ZM1037.5 450H1188.8V461.8H1037.5ZM1443.9 450H1455.9V461.8H1443.9Z"/>
<path fill="#f0ea1a" d="M1060.8 199.1H1177.2V210.8H1060.8ZM1049.2 210.5H1177.2V222.2H1049.2ZM1049.2 221.9H1119.1V233.6H1049.2ZM1130.4 221.9H1188.8V233.6H1130.4ZM1049.2 233.3H1107.5V245H1049.2ZM1153.7 233.3H1188.8V245H1153.7ZM1049.2 244.7H1107.5V256.4H1049.2ZM1165.3 244.7H1200.4V256.4H1165.3ZM1049.2 256.2H1095.9V267.9H1049.2ZM1176.9 256.2H1212V267.9H1176.9ZM1049.2 267.6H1107.5V279.3H1049.2ZM1188.5 267.6H1212V279.3H1188.5ZM1060.8 279H1107.5V290.7H1060.8ZM1200.1 279H1223.6V290.7H1200.1ZM1060.8 290.4H1119.1V302.1H1060.8ZM1200.1 290.4H1235.2V302.1H1200.1ZM1072.4 301.8H1130.7V313.5H1072.4ZM1211.7 301.8H1235.2V313.5H1211.7ZM1049.2 313.2H1142.4V324.9H1049.2ZM1211.7 313.2H1246.9V324.9H1211.7ZM1037.5 324.6H1061.1V336.3H1037.5ZM1072.4 324.6H1165.6V336.3H1072.4ZM1211.7 324.6H1246.9V336.3H1211.7ZM1072.4 336H1258.5V347.7H1072.4ZM1095.6 347.4H1246.9V359.1H1095.6ZM1095.6 358.8H1212V370.5H1095.6ZM1165.3 370.2H1177.2V381.9H1165.3Z"/>
<path fill="#ee1c23" d="M1049.2 50.9H1165.6V62.6H1049.2ZM1049.2 62.3H1177.2V74H1049.2ZM1049.2 73.7H1177.2V85.4H1049.2ZM1060.8 85.1H1188.8V96.8H1060.8ZM1060.8 96.5H1200.4V108.2H1060.8ZM1060.8 107.9H1188.8V119.6H1060.8ZM1072.4 119.3H1177.2V131H1072.4ZM1084 130.7H1165.6V142.4H1084ZM1095.6 142.1H1107.5V153.8H1095.6ZM1130.4 142.1H1142.4V153.8H1130.4ZM1304.6 199.1H1316.5V210.8H1304.6ZM1304.6 210.5H1328.1V222.2H1304.6ZM1118.8 221.9H1130.7V233.6H1118.8ZM1107.2 233.3H1154V245H1107.2ZM1107.2 244.7H1165.6V256.4H1107.2ZM1095.6 256.2H1177.2V267.9H1095.6ZM1107.2 267.6H1188.8V279.3H1107.2ZM1107.2 279H1200.4V290.7H1107.2ZM1118.8 290.4H1200.4V302.1H1118.8ZM1130.4 301.8H1212V313.5H1130.4ZM1142 313.2H1212V324.9H1142ZM1165.3 324.6H1212V336.3H1165.3Z"/>
<path fill="none" stroke="#3c3a08" stroke-opacity="0.85" stroke-width="1.15" d="M1165.4 51V62.8M1200.3 51V62.8M1223.5 51V62.8M1339.6 51V62.8M1177 62.4V74.2M1211.9 62.4V74.2M1235.1 62.4V74.2M1177 73.8V85.6M1211.9 73.8V85.6M1258.3 73.8V85.6M1188.6 85.2V97M1235.1 85.2V97M1258.3 85.2V97M1200.3 96.6V108.4M1223.5 96.6V108.4M1258.3 96.6V108.4M1188.6 108V119.8M1223.5 108V119.8M1258.3 108V119.8M1177 119.4V131.2M1223.5 119.4V131.2M1258.3 119.4V131.2M1362.8 119.4V131.2M1165.4 130.8V142.6M1235.1 130.8V142.6M1362.8 130.8V142.6M1107.4 142.2V154.1M1142.2 142.2V154.1M1235.1 142.2V154.1M1339.6 142.2V154.1M1362.8 142.2V154.1M1200.3 153.7V165.5M1328 153.7V165.5M1362.8 153.7V165.5M1177 165.1V176.9M1328 165.1V176.9M1362.8 165.1V176.9M1188.6 176.5V188.3M1211.9 176.5V188.3M1328 176.5V188.3M1374.4 176.5V188.3M1188.6 187.9V199.7M1211.9 187.9V199.7M1351.2 187.9V199.7M1374.4 187.9V199.7M1177 199.3V211.1M1211.9 199.3V211.1M1316.4 199.3V211.1M1339.6 199.3V211.1M1374.4 199.3V211.1M1177 210.7V222.5M1211.9 210.7V222.5M1328 210.7V222.5M1339.6 210.7V222.5M1374.4 210.7V222.5M1130.6 222.1V233.9M1188.6 222.1V233.9M1223.5 222.1V233.9M1351.2 222.1V233.9M1374.4 222.1V233.9M1153.8 233.5V245.3M1188.6 233.5V245.3M1235.1 233.5V245.3M1339.6 233.5V245.3M1374.4 233.5V245.3M1165.4 244.9V256.7M1200.3 244.9V256.7M1235.1 244.9V256.7M1351.2 244.9V256.7M1374.4 244.9V256.7M1177 256.3V268.1M1211.9 256.3V268.1M1246.7 256.3V268.1M1316.4 256.3V268.1M1351.2 256.3V268.1M1374.4 256.3V268.1M1188.6 267.7V279.5M1211.9 267.7V279.5M1258.3 267.7V279.5M1374.4 267.7V279.5M1200.3 279.1V290.9M1223.5 279.1V290.9M1258.3 279.1V290.9M1374.4 279.1V290.9M1200.3 290.5V302.3M1235.1 290.5V302.3M1269.9 290.5V302.3M1211.9 301.9V313.7M1235.1 301.9V313.7M1269.9 301.9V313.7M1211.9 313.3V325.1M1246.7 313.3V325.1M1281.5 313.3V325.1M1060.9 324.7V336.5M1211.9 324.7V336.5M1246.7 324.7V336.5M1281.5 324.7V336.5M1258.3 336.1V347.9M1281.5 336.1V347.9M1246.7 347.5V359.4M1281.5 347.5V359.4M1211.9 359V370.8M1281.5 359V370.8M1177 370.4V382.2M1269.9 370.4V382.2M1142.2 381.8V393.6M1235.1 381.8V393.6M1119 393.2V405M1200.3 393.2V405M1339.6 393.2V405M1153.8 404.6V416.4M1200.3 404.6V416.4M1339.6 404.6V416.4M1084.1 416V427.8M1153.8 416V427.8M1211.9 416V427.8M1316.4 416V427.8M1351.2 416V427.8M1165.4 427.4V439.2M1211.9 427.4V439.2M1316.4 427.4V439.2M1351.2 427.4V439.2M1188.6 438.8V450.6M1211.9 438.8V450.6M1328 438.8V450.6M1351.2 438.8V450.6M1188.6 450.2V462M1211.9 450.2V462M1351.2 450.2V462M1281.5 62.4H1293.5M1293.1 62.4H1305.2M1304.8 62.4H1316.8M1316.4 62.4H1328.4M1328 62.4H1340M1049.3 85.2H1061.3M1420.9 85.2H1432.9M1223.5 96.6H1235.5M1432.5 96.6H1444.5M1188.6 108H1200.7M1397.6 108H1409.7M1060.9 119.4H1072.9M1177 119.4H1189M1409.3 119.4H1421.3M1072.5 130.8H1084.5M1165.4 130.8H1177.4M1084.1 142.2H1096.2M1107.4 142.2H1119.4M1119 142.2H1131M1142.2 142.2H1154.2M1153.8 142.2H1165.8M1095.8 153.7H1107.8M1130.6 153.7H1142.6M1200.3 153.7H1212.3M1211.9 153.7H1223.9M1223.5 153.7H1235.5M1328 153.7H1340M1444.1 153.7H1456.1M1177 165.1H1189M1188.6 165.1H1200.7M1037.7 176.5H1049.7M1211.9 176.5H1223.9M1223.5 176.5H1235.5M1235.1 176.5H1247.1M1246.7 176.5H1258.7M1281.5 176.5H1293.5M1049.3 187.9H1061.3M1177 199.3H1189M1339.6 199.3H1351.6M1281.5 210.7H1293.5M1304.8 222.1H1316.8M1316.4 222.1H1328.4M1258.3 233.5H1270.3M1293.1 233.5H1305.2M1339.6 233.5H1351.6M1304.8 244.9H1316.8M1316.4 256.3H1328.4M1095.8 267.7H1107.8M1304.8 267.7H1316.8M1328 267.7H1340M1339.6 267.7H1351.6M1049.3 279.1H1061.3M1107.4 290.5H1119.4M1269.9 290.5H1281.9M1281.5 290.5H1293.5M1293.1 290.5H1305.2M1304.8 290.5H1316.8M1316.4 290.5H1328.4M1328 290.5H1340M1339.6 290.5H1351.6M1351.2 290.5H1363.2M1362.8 290.5H1374.8M1060.9 301.9H1072.9M1119 301.9H1131M1130.6 313.3H1142.6M1060.9 324.7H1072.9M1142.2 324.7H1154.2M1153.8 324.7H1165.8M1037.7 336.1H1049.7M1049.3 336.1H1061.3M1165.4 336.1H1177.4M1177 336.1H1189M1188.6 336.1H1200.7M1200.3 336.1H1212.3M1072.5 347.5H1084.5M1084.1 347.5H1096.2M1246.7 347.5H1258.7M1037.7 359H1049.7M1211.9 359H1223.9M1223.5 359H1235.5M1235.1 359H1247.1M1420.9 359H1432.9M1432.5 359H1444.5M1444.1 359H1456.1M1049.3 370.4H1061.3M1060.9 370.4H1072.9M1095.8 370.4H1107.8M1107.4 370.4H1119.4M1119 370.4H1131M1130.6 370.4H1142.6M1142.2 370.4H1154.2M1153.8 370.4H1165.8M1177 370.4H1189M1188.6 370.4H1200.7M1200.3 370.4H1212.3M1269.9 370.4H1281.9M1165.4 381.8H1177.4M1235.1 381.8H1247.1M1246.7 381.8H1258.7M1258.3 381.8H1270.3M1119 393.2H1131M1130.6 393.2H1142.6M1200.3 393.2H1212.3M1211.9 393.2H1223.9M1223.5 393.2H1235.5M1095.8 404.6H1107.8M1304.8 450.2H1316.8M1316.4 450.2H1328.4"/>
<path fill="none" stroke="#a0a0a0" stroke-opacity="0.45" stroke-width="0.8" stroke-dasharray="1.2 1.2" d="M1246.7 51V461.6M1037.7 256.3H1455.7"/>
<rect x="1037.7" y="51" width="418" height="410.6" fill="none" stroke="#8c8c8c" stroke-width="1.3"/>
<path fill="none" stroke="#8c8c8c" stroke-width="1.1" d="M1037.7 461.6v4.2M1090 461.6v4.2M1142.2 461.6v4.2M1194.5 461.6v4.2M1246.7 461.6v4.2M1299 461.6v4.2M1351.2 461.6v4.2M1403.5 461.6v4.2M1455.7 461.6v4.2M1037.7 51h-5.5M1037.7 102.3h-5.5M1037.7 153.7h-5.5M1037.7 205h-5.5M1037.7 256.3h-5.5M1037.7 307.6h-5.5M1037.7 359h-5.5M1037.7 410.3h-5.5"/>
<g class="tk">
<text x="1037.7" y="478.9" text-anchor="middle">-180</text>
<text x="1090" y="478.9" text-anchor="middle">-135</text>
<text x="1142.2" y="478.9" text-anchor="middle">-90</text>
<text x="1194.5" y="478.9" text-anchor="middle">-45</text>
<text x="1246.7" y="478.9" text-anchor="middle">0</text>
<text x="1299" y="478.9" text-anchor="middle">45</text>
<text x="1351.2" y="478.9" text-anchor="middle">90</text>
<text x="1403.5" y="478.9" text-anchor="middle">135</text>
<text x="1455.7" y="478.9" text-anchor="middle">180</text>
<text x="1030.5" y="56.1" text-anchor="end">180</text>
<text x="1030.5" y="107.4" text-anchor="end">135</text>
<text x="1030.5" y="158.8" text-anchor="end">90</text>
<text x="1030.5" y="210.1" text-anchor="end">45</text>
<text x="1030.5" y="261.4" text-anchor="end">0</text>
<text x="1030.5" y="312.7" text-anchor="end">-45</text>
<text x="1030.5" y="364.1" text-anchor="end">-90</text>
<text x="1030.5" y="415.4" text-anchor="end">-135</text>
</g>
<g class="rl">
<text x="1056.7" y="68.4" font-size="14.5">B</text>
<text x="1046.1" y="113.1" font-size="14.5">b</text>
<text x="1057.8" y="227.3" font-size="14.5">a</text>
<text x="1114.9" y="251.3" font-size="14.5">A</text>
<text x="1226.1" y="112.1" font-size="9.5">~b</text>
<text x="1295.8" y="135.1" font-size="9.5">~l</text>
<text x="1285.7" y="169.2" font-size="10">l</text>
<text x="1307.8" y="208.8" font-size="10">L</text>
<text x="1398.9" y="66.7" font-size="9.5">~b</text>
<text x="1441.6" y="78.1" font-size="10">b</text>
<text x="1225.1" y="277.3" font-size="9.5">~a</text>
<text x="1040.7" y="408.1" font-size="9.5">~b</text>
<text x="1058.8" y="431.1" font-size="10">b</text>
<text x="1283.3" y="408.1" font-size="9.5">~p</text>
<text x="1308.4" y="431.1" font-size="10">p</text>
<text x="1422" y="442.1" font-size="9.5">~b</text>
</g>
<path fill="#000" d="M1179.1 314.2h3.9v3.9h-3.9zM1173.5 307.3h3.9v3.9h-3.9zM1162.2 288.7h3.9v3.9h-3.9zM1175.3 298.7h3.9v3.9h-3.9zM1161.3 286.8h3.9v3.9h-3.9zM1180.3 278.9h3.9v3.9h-3.9zM1164.6 298.5h3.9v3.9h-3.9zM1176.6 307.2h3.9v3.9h-3.9zM1163.4 283.4h3.9v3.9h-3.9zM1160.8 297.2h3.9v3.9h-3.9zM1169.8 305.3h3.9v3.9h-3.9zM1179.4 314.2h3.9v3.9h-3.9zM1160.2 284.5h3.9v3.9h-3.9zM1163.7 305.2h3.9v3.9h-3.9zM1156.9 292.2h3.9v3.9h-3.9zM1162 297.4h3.9v3.9h-3.9zM1173.2 290.4h3.9v3.9h-3.9zM1170.8 306h3.9v3.9h-3.9zM1162.4 287.4h3.9v3.9h-3.9zM1160.8 290.5h3.9v3.9h-3.9zM1159.6 278.2h3.9v3.9h-3.9zM1170.7 284.6h3.9v3.9h-3.9zM1139.3 297.5h3.9v3.9h-3.9zM1173.3 286.3h3.9v3.9h-3.9zM1160.2 302.4h3.9v3.9h-3.9zM1155.1 281.8h3.9v3.9h-3.9zM1161.3 286.5h3.9v3.9h-3.9zM1181.9 293.8h3.9v3.9h-3.9zM1156.5 304.8h3.9v3.9h-3.9zM1171.1 293.5h3.9v3.9h-3.9zM1179.5 303.9h3.9v3.9h-3.9zM1171.7 289.9h3.9v3.9h-3.9zM1168.4 307.6h3.9v3.9h-3.9zM1159 297.4h3.9v3.9h-3.9zM1169.5 303.6h3.9v3.9h-3.9zM1172.8 303.1h3.9v3.9h-3.9zM1168.2 298.3h3.9v3.9h-3.9zM1165 297.4h3.9v3.9h-3.9zM1173.2 301.8h3.9v3.9h-3.9zM1163 297.7h3.9v3.9h-3.9zM1165.9 285.9h3.9v3.9h-3.9zM1168.2 300.3h3.9v3.9h-3.9zM1165.7 307.7h3.9v3.9h-3.9zM1173 267.5h3.9v3.9h-3.9zM1156 296.7h3.9v3.9h-3.9zM1164.3 289.5h3.9v3.9h-3.9zM1171.1 298.1h3.9v3.9h-3.9zM1168.4 286.8h3.9v3.9h-3.9zM1174.6 277.1h3.9v3.9h-3.9zM1178.7 287.8h3.9v3.9h-3.9zM1172.7 295.9h3.9v3.9h-3.9zM1170.4 307.1h3.9v3.9h-3.9zM1161.7 275.8h3.9v3.9h-3.9zM1162.2 286.7h3.9v3.9h-3.9zM1171.6 284.5h3.9v3.9h-3.9zM1168.2 281.5h3.9v3.9h-3.9zM1168.9 292.8h3.9v3.9h-3.9zM1175.1 314.9h3.9v3.9h-3.9zM1172.6 302.7h3.9v3.9h-3.9zM1161.2 288h3.9v3.9h-3.9zM1187 270.5h3.9v3.9h-3.9zM1166 298.3h3.9v3.9h-3.9zM1173.1 290.9h3.9v3.9h-3.9zM1176 296.7h3.9v3.9h-3.9zM1166.9 305.1h3.9v3.9h-3.9zM1179.2 288.2h3.9v3.9h-3.9zM1169.7 294.2h3.9v3.9h-3.9zM1166.8 280.6h3.9v3.9h-3.9zM1169 294.4h3.9v3.9h-3.9zM1159.4 293h3.9v3.9h-3.9zM1161.2 288.3h3.9v3.9h-3.9zM1166.8 328.7h3.9v3.9h-3.9zM1173.9 286.7h3.9v3.9h-3.9zM1176.7 302.4h3.9v3.9h-3.9zM1176.7 304.7h3.9v3.9h-3.9zM1164.6 289.7h3.9v3.9h-3.9zM1170.6 300.1h3.9v3.9h-3.9zM1177.2 317h3.9v3.9h-3.9zM1170.9 312.5h3.9v3.9h-3.9zM1171.9 301.1h3.9v3.9h-3.9zM1161.8 295.2h3.9v3.9h-3.9zM1172 294.1h3.9v3.9h-3.9zM1159.5 294.6h3.9v3.9h-3.9zM1164.4 302.5h3.9v3.9h-3.9zM1166.3 291.2h3.9v3.9h-3.9zM1177.1 300.5h3.9v3.9h-3.9zM1168.8 294.9h3.9v3.9h-3.9zM1131.5 304.3h3.9v3.9h-3.9zM1175.2 274h3.9v3.9h-3.9zM1150.4 288h3.9v3.9h-3.9zM1174.6 299.1h3.9v3.9h-3.9zM1170.6 288.4h3.9v3.9h-3.9zM1161.4 297.1h3.9v3.9h-3.9zM1172 294.4h3.9v3.9h-3.9zM1163.7 307.7h3.9v3.9h-3.9zM1165.7 279.1h3.9v3.9h-3.9zM1160.2 276.7h3.9v3.9h-3.9zM1171.7 285.6h3.9v3.9h-3.9zM1167.1 301.2h3.9v3.9h-3.9zM1174.4 283.1h3.9v3.9h-3.9zM1171.1 291.2h3.9v3.9h-3.9zM1164.8 275h3.9v3.9h-3.9zM1168.1 296.6h3.9v3.9h-3.9zM1155.6 266.1h3.9v3.9h-3.9zM1170.6 283.6h3.9v3.9h-3.9zM1184.2 294.3h3.9v3.9h-3.9zM1154.8 299.8h3.9v3.9h-3.9zM1166.1 288.4h3.9v3.9h-3.9zM1164 291.6h3.9v3.9h-3.9zM1151.2 309.3h3.9v3.9h-3.9zM1175.5 296.6h3.9v3.9h-3.9zM1163 296.7h3.9v3.9h-3.9zM1175 300h3.9v3.9h-3.9zM1160.4 301h3.9v3.9h-3.9zM1187.4 311.3h3.9v3.9h-3.9zM1174.2 300.5h3.9v3.9h-3.9zM1160.2 305.9h3.9v3.9h-3.9zM1174.9 287.4h3.9v3.9h-3.9zM1166.6 301.7h3.9v3.9h-3.9zM1170.2 286.2h3.9v3.9h-3.9zM1153 273.3h3.9v3.9h-3.9zM1170.5 302.9h3.9v3.9h-3.9zM1172.9 293.5h3.9v3.9h-3.9zM1175.1 296.8h3.9v3.9h-3.9zM1166.8 305.7h3.9v3.9h-3.9zM1167.6 290.3h3.9v3.9h-3.9zM1161.4 293.8h3.9v3.9h-3.9zM1177 287.2h3.9v3.9h-3.9zM1174.6 286.7h3.9v3.9h-3.9zM1163.3 303.6h3.9v3.9h-3.9zM1161.5 291.6h3.9v3.9h-3.9zM1165.2 316.7h3.9v3.9h-3.9zM1171 291.5h3.9v3.9h-3.9zM1163.9 300.4h3.9v3.9h-3.9zM1175.8 302.7h3.9v3.9h-3.9zM1162.3 306.6h3.9v3.9h-3.9zM1170.8 321.1h3.9v3.9h-3.9zM1171.3 294.7h3.9v3.9h-3.9zM1157.3 309.4h3.9v3.9h-3.9zM1163.3 298.3h3.9v3.9h-3.9zM1175.5 309h3.9v3.9h-3.9zM1162.9 309.3h3.9v3.9h-3.9zM1160.1 290h3.9v3.9h-3.9zM1166.5 283.2h3.9v3.9h-3.9zM1166.1 274.2h3.9v3.9h-3.9zM1169.6 301h3.9v3.9h-3.9zM1167.3 286h3.9v3.9h-3.9zM1190.1 295.5h3.9v3.9h-3.9zM1163.8 293.5h3.9v3.9h-3.9zM1160.3 286.3h3.9v3.9h-3.9zM1157.2 286.1h3.9v3.9h-3.9zM1154.4 295.2h3.9v3.9h-3.9zM1164.2 291.4h3.9v3.9h-3.9zM1178.7 285.8h3.9v3.9h-3.9zM1169.5 300.3h3.9v3.9h-3.9zM1164.7 285.5h3.9v3.9h-3.9zM1160.9 303.6h3.9v3.9h-3.9zM1166.2 298.3h3.9v3.9h-3.9zM1143.1 280.6h3.9v3.9h-3.9zM1170.4 294.2h3.9v3.9h-3.9zM1166.7 287.2h3.9v3.9h-3.9zM1173.7 294.2h3.9v3.9h-3.9zM1172.5 300h3.9v3.9h-3.9zM1167.6 280.6h3.9v3.9h-3.9zM1166.8 288.5h3.9v3.9h-3.9zM1158.3 294h3.9v3.9h-3.9zM1169.6 301.7h3.9v3.9h-3.9zM1170.3 288.1h3.9v3.9h-3.9zM1163.3 303.5h3.9v3.9h-3.9zM1156.2 263.3h3.9v3.9h-3.9zM1155.5 286.3h3.9v3.9h-3.9zM1177.9 284.4h3.9v3.9h-3.9zM1175.6 289.7h3.9v3.9h-3.9zM1179.9 308.4h3.9v3.9h-3.9zM1158.8 300.8h3.9v3.9h-3.9zM1157 288.8h3.9v3.9h-3.9zM1168.7 291.3h3.9v3.9h-3.9zM1169 275.5h3.9v3.9h-3.9zM1182.4 294.3h3.9v3.9h-3.9zM1154.8 285.1h3.9v3.9h-3.9zM1146.2 274.7h3.9v3.9h-3.9zM1173.7 295.2h3.9v3.9h-3.9zM1176 305.9h3.9v3.9h-3.9zM1161 295.9h3.9v3.9h-3.9zM1177.4 307.9h3.9v3.9h-3.9zM1167.4 302.8h3.9v3.9h-3.9zM1180.4 308.3h3.9v3.9h-3.9zM1158.5 300.8h3.9v3.9h-3.9zM1174.5 299.9h3.9v3.9h-3.9zM1166 280.1h3.9v3.9h-3.9zM1171 304.2h3.9v3.9h-3.9zM1174.9 263.4h3.9v3.9h-3.9zM1175.2 302.2h3.9v3.9h-3.9zM1168.1 288h3.9v3.9h-3.9zM1166.5 294.7h3.9v3.9h-3.9zM1169.1 284.7h3.9v3.9h-3.9zM1182.7 331.5h3.9v3.9h-3.9zM1168.1 297h3.9v3.9h-3.9zM1166.8 291.3h3.9v3.9h-3.9zM1165.3 290.6h3.9v3.9h-3.9zM1178 298.3h3.9v3.9h-3.9zM1159.7 285.5h3.9v3.9h-3.9zM1160.4 269.2h3.9v3.9h-3.9zM1156 283.7h3.9v3.9h-3.9zM1162.4 286.3h3.9v3.9h-3.9zM1171.4 280.7h3.9v3.9h-3.9zM1168 300.2h3.9v3.9h-3.9zM1192.2 299.8h3.9v3.9h-3.9zM1170.5 305.9h3.9v3.9h-3.9zM1158.2 291.3h3.9v3.9h-3.9zM1175.8 291.4h3.9v3.9h-3.9zM1171.4 303.2h3.9v3.9h-3.9zM1170.7 302.8h3.9v3.9h-3.9zM1157.7 281.1h3.9v3.9h-3.9zM1172.4 295.4h3.9v3.9h-3.9zM1163.8 282.6h3.9v3.9h-3.9zM1187.4 302.3h3.9v3.9h-3.9zM1160.5 301.1h3.9v3.9h-3.9zM1170.7 311.8h3.9v3.9h-3.9zM1181.2 311.7h3.9v3.9h-3.9zM1170 296h3.9v3.9h-3.9zM1165.4 283.5h3.9v3.9h-3.9zM1162.5 311.8h3.9v3.9h-3.9zM1157.5 256.8h3.9v3.9h-3.9zM1171.3 289.6h3.9v3.9h-3.9zM1167.7 288.9h3.9v3.9h-3.9zM1154 309.9h3.9v3.9h-3.9zM1088.6 59.1h3.9v3.9h-3.9zM1151.2 57.3h3.9v3.9h-3.9zM1060.2 77.4h3.9v3.9h-3.9zM1078.3 76.1h3.9v3.9h-3.9zM1091.9 82.6h3.9v3.9h-3.9zM1100.2 74.1h3.9v3.9h-3.9zM1102.7 76.1h3.9v3.9h-3.9zM1115.6 80.5h3.9v3.9h-3.9zM1119.5 81h3.9v3.9h-3.9zM1144 77.9h3.9v3.9h-3.9zM1147.8 81.8h3.9v3.9h-3.9zM1149.1 68.9h3.9v3.9h-3.9zM1153 84.4h3.9v3.9h-3.9zM1156.1 88.3h3.9v3.9h-3.9zM1157.6 72.8h3.9v3.9h-3.9zM1160.2 75.4h3.9v3.9h-3.9zM1163.3 70.2h3.9v3.9h-3.9zM1165.9 74.1h3.9v3.9h-3.9zM1164.6 79.2h3.9v3.9h-3.9zM1165.9 81.8h3.9v3.9h-3.9zM1169.8 75.4h3.9v3.9h-3.9zM1175.4 85.7h3.9v3.9h-3.9zM1171 92.1h3.9v3.9h-3.9zM1168.5 94.7h3.9v3.9h-3.9zM1078.3 96.5h3.9v3.9h-3.9zM1103.5 93.4h3.9v3.9h-3.9zM1106.6 98.6h3.9v3.9h-3.9zM1086 105.8h3.9v3.9h-3.9zM1100.7 102.4h3.9v3.9h-3.9zM1098.9 106.3h3.9v3.9h-3.9zM1096.8 110.2h3.9v3.9h-3.9zM1119.5 106.3h3.9v3.9h-3.9zM1120.8 108.9h3.9v3.9h-3.9zM1116.9 113.3h3.9v3.9h-3.9zM1123.9 114h3.9v3.9h-3.9zM1127.2 111.5h3.9v3.9h-3.9zM1132.4 101.1h3.9v3.9h-3.9zM1136.2 99.1h3.9v3.9h-3.9zM1131.9 109.4h3.9v3.9h-3.9zM1136.2 116.6h3.9v3.9h-3.9zM1127.2 121.8h3.9v3.9h-3.9zM1147.8 109.4h3.9v3.9h-3.9zM1153 111.5h3.9v3.9h-3.9zM1154.3 101.1h3.9v3.9h-3.9zM1158.2 103.7h3.9v3.9h-3.9zM1161.2 114h3.9v3.9h-3.9zM1164.1 117.9h3.9v3.9h-3.9zM1165.9 103.7h3.9v3.9h-3.9zM1168.5 106.3h3.9v3.9h-3.9zM1174.1 111.5h3.9v3.9h-3.9zM1177.5 102.4h3.9v3.9h-3.9zM1180.1 105.5h3.9v3.9h-3.9zM1182.6 108.4h3.9v3.9h-3.9zM1183.9 110.7h3.9v3.9h-3.9zM1064.9 114.8h3.9v3.9h-3.9zM1072.6 125.6h3.9v3.9h-3.9zM1089.3 124.9h3.9v3.9h-3.9zM1095.8 123.6h3.9v3.9h-3.9zM1096.3 118.4h3.9v3.9h-3.9zM1092.9 136.5h3.9v3.9h-3.9zM1100.2 138h3.9v3.9h-3.9zM1103.5 137.2h3.9v3.9h-3.9zM1107.1 141.1h3.9v3.9h-3.9zM1150.4 126.1h3.9v3.9h-3.9zM1155.1 128.2h3.9v3.9h-3.9zM1143.5 149.6h3.9v3.9h-3.9zM1138.8 156.6h3.9v3.9h-3.9zM1078.8 151.4h3.9v3.9h-3.9zM1089.3 154.5h3.9v3.9h-3.9zM1095.5 158.6h3.9v3.9h-3.9zM1092.4 165.6h3.9v3.9h-3.9zM1094.2 172.5h3.9v3.9h-3.9zM1149.9 160.4h3.9v3.9h-3.9zM1152.2 163h3.9v3.9h-3.9zM1305.1 166.9h3.9v3.9h-3.9zM1313.6 174.1h3.9v3.9h-3.9zM1303.8 181.6h3.9v3.9h-3.9zM1303 197.8h3.9v3.9h-3.9zM1306.3 201.7h3.9v3.9h-3.9zM1310.2 205h3.9v3.9h-3.9zM1308.4 217.1h3.9v3.9h-3.9zM1320.5 217.6h3.9v3.9h-3.9zM1097.6 238.3h3.9v3.9h-3.9zM1123.9 233.1h3.9v3.9h-3.9zM1131.1 242.4h3.9v3.9h-3.9zM1134.4 241.1h3.9v3.9h-3.9zM1043.5 102.4h3.9v3.9h-3.9zM1160.2 257.1h3.9v3.9h-3.9zM1166.4 262.2h3.9v3.9h-3.9zM1153 266.1h3.9v3.9h-3.9zM1113.6 282.6h3.9v3.9h-3.9zM1129.8 292.7h3.9v3.9h-3.9zM1131.1 299.9h3.9v3.9h-3.9zM1134.4 303.8h3.9v3.9h-3.9zM1150.9 285.7h3.9v3.9h-3.9zM1136.2 321.8h3.9v3.9h-3.9zM1136.2 324.4h3.9v3.9h-3.9zM1112.5 335.2h3.9v3.9h-3.9zM1149.1 319.2h3.9v3.9h-3.9zM1156.9 316.1h3.9v3.9h-3.9zM1158.2 325.7h3.9v3.9h-3.9zM1173.1 321h3.9v3.9h-3.9zM1185.2 306.3h3.9v3.9h-3.9zM1192.9 307.6h3.9v3.9h-3.9zM1192.9 311h3.9v3.9h-3.9zM1160.2 257.9h3.9v3.9h-3.9zM1166.4 263.1h3.9v3.9h-3.9zM1153 265.1h3.9v3.9h-3.9zM1052 457.6h3.9v3.9h-3.9zM1058.9 457.1h3.9v3.9h-3.9zM1162.8 286.6l1.8 3.2h-3.6zM1169.9 298.6l1.8 3.2h-3.6zM1161.4 297.5l1.8 3.2h-3.6zM1176.9 292l1.8 3.2h-3.6zM1172.4 304.3l1.8 3.2h-3.6zM1163.2 273.5l1.8 3.2h-3.6zM1169.9 299.5l1.8 3.2h-3.6zM1177.1 293.4l1.8 3.2h-3.6zM1177.8 304.3l1.8 3.2h-3.6zM1155.1 312.6l1.8 3.2h-3.6zM1172 300.5l1.8 3.2h-3.6zM1168.3 298l1.8 3.2h-3.6zM1171.3 291.2l1.8 3.2h-3.6zM1167.5 298.5l1.8 3.2h-3.6zM1183.1 296.2l1.8 3.2h-3.6zM1171.9 286.5l1.8 3.2h-3.6zM1165.5 293.8l1.8 3.2h-3.6zM1166.7 286.6l1.8 3.2h-3.6zM1181.7 289.9l1.8 3.2h-3.6zM1175.7 288.4l1.8 3.2h-3.6zM1173.2 303.4l1.8 3.2h-3.6zM1166.4 271.3l1.8 3.2h-3.6zM1166.5 285.8l1.8 3.2h-3.6zM1160.1 56.2l1.8 3.2h-3.6zM1039 87.6l1.8 3.2h-3.6zM1365 54.9l1.8 3.2h-3.6zM1336.6 79.4l1.8 3.2h-3.6zM1384.3 81.2l1.8 3.2h-3.6zM1430.7 58.8l1.8 3.2h-3.6zM1155.7 178.6l1.8 3.2h-3.6zM1087.9 215.5l1.8 3.2h-3.6zM1131.2 231.4l1.8 3.2h-3.6zM1130.5 255.9l1.8 3.2h-3.6zM1337.2 221.9l1.8 3.2h-3.6zM1336.6 230.9l1.8 3.2h-3.6zM1124 272.7l1.8 3.2h-3.6zM1130.5 256.2l1.8 3.2h-3.6zM1124.5 272.5l1.8 3.2h-3.6zM1108.6 353.7l1.8 3.2h-3.6zM1171.7 332.3l1.8 3.2h-3.6zM1200.8 314.7l1.8 3.2h-3.6zM1136.9 418.6l1.8 3.2h-3.6zM1131.2 435.4l1.8 3.2h-3.6zM1142.1 449l1.8 3.2h-3.6zM1114.5 455.5l1.8 3.2h-3.6zM1072.5 439.2l1.8 3.2h-3.6zM1322.5 398.8l1.8 3.2h-3.6zM1342.6 432l1.8 3.2h-3.6z"/>
<g class="ol">
<text x="1334.8" y="119.9" text-anchor="middle">THR 73 (A)</text>
<text x="1315.5" y="134.1" text-anchor="middle">ILE 234 (A)</text>
<text x="1062.2" y="331" text-anchor="middle">ALA 293 (A)</text>
<text x="1340.5" y="300.1" text-anchor="middle">ALA 117 (A)</text>
<text x="1332.8" y="304.5" text-anchor="middle">PHE 36 (A)</text>
<text x="1341.8" y="312.5" text-anchor="middle">LYS 364 (A)</text>
<text x="1328.9" y="336.7" text-anchor="middle">ASP 408 (A)</text>
<text x="1312.7" y="370.2" text-anchor="middle">ASN 405 (A)</text>
<text x="1303.9" y="414" text-anchor="middle">TYR 396 (A)</text>
</g>
<path fill="#ee1c23" d="M1332.9 121.8h3.9v3.9h-3.9zM1313.6 135.9h3.9v3.9h-3.9zM1060.2 332.9h3.9v3.9h-3.9zM1338.6 302h3.9v3.9h-3.9zM1330.8 306.3h3.9v3.9h-3.9zM1339.9 314.3h3.9v3.9h-3.9zM1327 338.6h3.9v3.9h-3.9zM1310.7 372.1h3.9v3.9h-3.9zM1302 415.9h3.9v3.9h-3.9z"/>
</g>
<g>
<path fill="#fffbb9" d="M1671.5 51.6H1695V63.2H1671.5ZM1868.4 51.6H1915V63.2H1868.4ZM1683.1 62.9H1706.6V74.6H1683.1ZM1868.4 62.9H1903.4V74.6H1868.4ZM1683.1 74.3H1729.7V86H1683.1ZM1868.4 74.3H1891.8V86H1868.4ZM1706.3 85.7H1729.7V97.4H1706.3ZM1868.4 85.7H1903.4V97.4H1868.4ZM1694.7 97.1H1729.7V108.8H1694.7ZM1868.4 97.1H1915V108.8H1868.4ZM1694.7 108.5H1729.7V120.2H1694.7ZM1879.9 108.5H1915V120.2H1879.9ZM1694.7 119.9H1729.7V131.6H1694.7ZM1891.5 119.9H1915V131.6H1891.5ZM1706.3 131.3H1729.7V143H1706.3ZM1891.5 131.3H1915V143H1891.5ZM1706.3 142.7H1729.7V154.3H1706.3ZM1891.5 142.7H1915V154.3H1891.5ZM1671.5 154H1729.7V165.7H1671.5ZM1891.5 154H1926.6V165.7H1891.5ZM1648.4 165.4H1729.7V177.1H1648.4ZM1891.5 165.4H1926.6V177.1H1891.5ZM1509.4 176.8H1521.3V188.5H1509.4ZM1660 176.8H1683.4V188.5H1660ZM1891.5 176.8H1926.6V188.5H1891.5ZM1509.4 188.2H1532.9V199.9H1509.4ZM1660 188.2H1683.4V199.9H1660ZM1891.5 188.2H1926.6V199.9H1891.5ZM1891.5 199.6H1926.6V211.3H1891.5ZM1891.5 211H1926.6V222.7H1891.5ZM1891.5 222.4H1926.6V234.1H1891.5ZM1891.5 233.8H1926.6V245.5H1891.5ZM1891.5 245.2H1926.6V256.8H1891.5ZM1891.5 256.6H1926.6V268.2H1891.5ZM1891.5 267.9H1926.6V279.6H1891.5ZM1891.5 279.3H1926.6V291H1891.5ZM1891.5 290.7H1926.6V302.4H1891.5ZM1891.5 302.1H1926.6V313.8H1891.5ZM1891.5 313.5H1926.6V325.2H1891.5ZM1891.5 324.9H1926.6V336.6H1891.5ZM1891.5 336.3H1926.6V348H1891.5ZM1891.5 347.7H1926.6V359.3H1891.5ZM1544.2 381.8H1590.8V393.5H1544.2ZM1613.6 381.8H1706.6V393.5H1613.6ZM1509.4 393.2H1567.6V404.9H1509.4ZM1590.5 393.2H1671.8V404.9H1590.5ZM1509.4 404.6H1579.2V416.3H1509.4ZM1625.2 404.6H1671.8V416.3H1625.2ZM1509.4 416H1521.3V427.7H1509.4ZM1555.8 416H1567.6V427.7H1555.8ZM1625.2 416H1683.4V427.7H1625.2ZM1509.4 427.4H1521.3V439.1H1509.4ZM1636.8 427.4H1683.4V439.1H1636.8ZM1891.5 427.4H1926.6V439.1H1891.5ZM1509.4 438.8H1521.3V450.5H1509.4ZM1660 438.8H1683.4V450.5H1660ZM1891.5 438.8H1926.6V450.5H1891.5ZM1660 450.2H1683.4V461.8H1660ZM1891.5 450.2H1915V461.8H1891.5Z"/>
<path fill="#f5f5b0" d="M1752.6 51.6H1810.8V63.2H1752.6ZM1764.2 119.9H1833.9V131.6H1764.2ZM1729.4 131.3H1833.9V143H1729.4ZM1729.4 142.7H1787.6V154.3H1729.4ZM1810.5 142.7H1833.9V154.3H1810.5ZM1729.4 154H1752.9V165.7H1729.4ZM1798.9 154H1833.9V165.7H1798.9ZM1729.4 165.4H1752.9V177.1H1729.4ZM1798.9 165.4H1833.9V177.1H1798.9ZM1729.4 176.8H1764.5V188.5H1729.4ZM1798.9 176.8H1845.5V188.5H1798.9ZM1729.4 188.2H1752.9V199.9H1729.4ZM1822 188.2H1845.5V199.9H1822ZM1509.4 199.6H1532.9V211.3H1509.4ZM1648.4 199.6H1683.4V211.3H1648.4ZM1729.4 199.6H1752.9V211.3H1729.4ZM1810.5 199.6H1845.5V211.3H1810.5ZM1509.4 211H1521.3V222.7H1509.4ZM1648.4 211H1683.4V222.7H1648.4ZM1729.4 211H1764.5V222.7H1729.4ZM1810.5 211H1845.5V222.7H1810.5ZM1509.4 222.4H1521.3V234.1H1509.4ZM1660 222.4H1695V234.1H1660ZM1729.4 222.4H1764.5V234.1H1729.4ZM1822 222.4H1845.5V234.1H1822ZM1509.4 233.8H1521.3V245.5H1509.4ZM1660 233.8H1706.6V245.5H1660ZM1741 233.8H1776V245.5H1741ZM1810.5 233.8H1845.5V245.5H1810.5ZM1509.4 245.2H1521.3V256.8H1509.4ZM1671.5 245.2H1706.6V256.8H1671.5ZM1741 245.2H1787.6V256.8H1741ZM1822 245.2H1845.5V256.8H1822ZM1509.4 256.6H1521.3V268.2H1509.4ZM1683.1 256.6H1718.2V268.2H1683.1ZM1741 256.6H1776V268.2H1741ZM1787.3 256.6H1799.2V268.2H1787.3ZM1822 256.6H1845.5V268.2H1822ZM1509.4 267.9H1521.3V279.6H1509.4ZM1683.1 267.9H1729.7V279.6H1683.1ZM1741 267.9H1845.5V279.6H1741ZM1509.4 279.3H1532.9V291H1509.4ZM1694.7 279.3H1729.7V291H1694.7ZM1741 279.3H1845.5V291H1741ZM1509.4 290.7H1532.9V302.4H1509.4ZM1706.3 290.7H1741.3V302.4H1706.3ZM1509.4 302.1H1544.5V313.8H1509.4ZM1706.3 302.1H1741.3V313.8H1706.3ZM1509.4 313.5H1521.3V325.2H1509.4ZM1717.8 313.5H1752.9V325.2H1717.8ZM1532.6 324.9H1544.5V336.6H1532.6ZM1717.8 324.9H1752.9V336.6H1717.8ZM1509.4 336.3H1544.5V348H1509.4ZM1729.4 336.3H1752.9V348H1729.4ZM1509.4 347.7H1567.6V359.3H1509.4ZM1717.8 347.7H1752.9V359.3H1717.8ZM1521 359.1H1567.6V370.7H1521ZM1683.1 359.1H1752.9V370.7H1683.1ZM1544.2 370.4H1637.1V382.1H1544.2ZM1648.4 370.4H1741.3V382.1H1648.4ZM1752.6 393.2H1810.8V404.9H1752.6ZM1752.6 404.6H1810.8V416.3H1752.6ZM1752.6 416H1776V427.7H1752.6ZM1787.3 416H1822.4V427.7H1787.3ZM1752.6 427.4H1776V439.1H1752.6ZM1787.3 427.4H1822.4V439.1H1787.3ZM1752.6 438.8H1776V450.5H1752.6ZM1798.9 438.8H1822.4V450.5H1798.9ZM1752.6 450.2H1822.4V461.8H1752.6Z"/>
<path fill="#fdef0b" d="M1509.4 51.6H1521.3V63.2H1509.4ZM1636.8 51.6H1671.8V63.2H1636.8ZM1914.7 51.6H1926.6V63.2H1914.7ZM1509.4 62.9H1521.3V74.6H1509.4ZM1648.4 62.9H1683.4V74.6H1648.4ZM1903.1 62.9H1926.6V74.6H1903.1ZM1509.4 74.3H1521.3V86H1509.4ZM1648.4 74.3H1683.4V86H1648.4ZM1891.5 74.3H1926.6V86H1891.5ZM1509.4 85.7H1532.9V97.4H1509.4ZM1660 85.7H1706.6V97.4H1660ZM1903.1 85.7H1926.6V97.4H1903.1ZM1509.4 97.1H1532.9V108.8H1509.4ZM1671.5 97.1H1695V108.8H1671.5ZM1914.7 97.1H1926.6V108.8H1914.7ZM1509.4 108.5H1532.9V120.2H1509.4ZM1660 108.5H1695V120.2H1660ZM1914.7 108.5H1926.6V120.2H1914.7ZM1509.4 119.9H1544.5V131.6H1509.4ZM1648.4 119.9H1695V131.6H1648.4ZM1914.7 119.9H1926.6V131.6H1914.7ZM1509.4 131.3H1556.1V143H1509.4ZM1636.8 131.3H1706.6V143H1636.8ZM1914.7 131.3H1926.6V143H1914.7ZM1509.4 142.7H1567.6V154.3H1509.4ZM1578.9 142.7H1602.4V154.3H1578.9ZM1613.6 142.7H1706.6V154.3H1613.6ZM1787.3 142.7H1810.8V154.3H1787.3ZM1914.7 142.7H1926.6V154.3H1914.7ZM1509.4 154H1671.8V165.7H1509.4ZM1752.6 154H1799.2V165.7H1752.6ZM1509.4 165.4H1648.7V177.1H1509.4ZM1752.6 165.4H1799.2V177.1H1752.6ZM1521 176.8H1660.3V188.5H1521ZM1764.2 176.8H1799.2V188.5H1764.2ZM1532.6 188.2H1660.3V199.9H1532.6ZM1752.6 188.2H1822.4V199.9H1752.6ZM1752.6 199.6H1776V211.3H1752.6ZM1787.3 199.6H1810.8V211.3H1787.3ZM1764.2 211H1776V222.7H1764.2ZM1798.9 211H1810.8V222.7H1798.9ZM1764.2 222.4H1822.4V234.1H1764.2ZM1775.7 233.8H1810.8V245.5H1775.7ZM1787.3 245.2H1822.4V256.8H1787.3ZM1775.7 256.6H1787.6V268.2H1775.7ZM1798.9 256.6H1822.4V268.2H1798.9ZM1590.5 381.8H1614V393.5H1590.5ZM1567.3 393.2H1590.8V404.9H1567.3ZM1578.9 404.6H1625.5V416.3H1578.9ZM1521 416H1556.1V427.7H1521ZM1567.3 416H1625.5V427.7H1567.3ZM1775.7 416H1787.6V427.7H1775.7ZM1521 427.4H1637.1V439.1H1521ZM1775.7 427.4H1787.6V439.1H1775.7ZM1521 438.8H1660.3V450.5H1521ZM1775.7 438.8H1799.2V450.5H1775.7ZM1509.4 450.2H1660.3V461.8H1509.4ZM1914.7 450.2H1926.6V461.8H1914.7Z"/>
<path fill="#f0ea1a" d="M1532.6 199.6H1648.7V211.3H1532.6ZM1521 211H1648.7V222.7H1521ZM1521 222.4H1590.8V234.1H1521ZM1602.1 222.4H1660.3V234.1H1602.1ZM1521 233.8H1579.2V245.5H1521ZM1625.2 233.8H1660.3V245.5H1625.2ZM1521 245.2H1579.2V256.8H1521ZM1636.8 245.2H1671.8V256.8H1636.8ZM1521 256.6H1567.6V268.2H1521ZM1648.4 256.6H1683.4V268.2H1648.4ZM1521 267.9H1579.2V279.6H1521ZM1660 267.9H1683.4V279.6H1660ZM1532.6 279.3H1579.2V291H1532.6ZM1671.5 279.3H1695V291H1671.5ZM1532.6 290.7H1590.8V302.4H1532.6ZM1671.5 290.7H1706.6V302.4H1671.5ZM1544.2 302.1H1602.4V313.8H1544.2ZM1683.1 302.1H1706.6V313.8H1683.1ZM1521 313.5H1614V325.2H1521ZM1683.1 313.5H1718.2V325.2H1683.1ZM1509.4 324.9H1532.9V336.6H1509.4ZM1544.2 324.9H1637.1V336.6H1544.2ZM1683.1 324.9H1718.2V336.6H1683.1ZM1544.2 336.3H1729.7V348H1544.2ZM1567.3 347.7H1718.2V359.3H1567.3ZM1567.3 359.1H1683.4V370.7H1567.3ZM1636.8 370.4H1648.7V382.1H1636.8Z"/>
<path fill="#ee1c23" d="M1521 51.6H1637.1V63.2H1521ZM1521 62.9H1648.7V74.6H1521ZM1521 74.3H1648.7V86H1521ZM1532.6 85.7H1660.3V97.4H1532.6ZM1532.6 97.1H1671.8V108.8H1532.6ZM1532.6 108.5H1660.3V120.2H1532.6ZM1544.2 119.9H1648.7V131.6H1544.2ZM1555.8 131.3H1637.1V143H1555.8ZM1567.3 142.7H1579.2V154.3H1567.3ZM1602.1 142.7H1614V154.3H1602.1ZM1775.7 199.6H1787.6V211.3H1775.7ZM1775.7 211H1799.2V222.7H1775.7ZM1590.5 222.4H1602.4V234.1H1590.5ZM1578.9 233.8H1625.5V245.5H1578.9ZM1578.9 245.2H1637.1V256.8H1578.9ZM1567.3 256.6H1648.7V268.2H1567.3ZM1578.9 267.9H1660.3V279.6H1578.9ZM1578.9 279.3H1671.8V291H1578.9ZM1590.5 290.7H1671.8V302.4H1590.5ZM1602.1 302.1H1683.4V313.8H1602.1ZM1613.6 313.5H1683.4V325.2H1613.6ZM1636.8 324.9H1683.4V336.6H1636.8Z"/>
<path fill="none" stroke="#3c3a08" stroke-opacity="0.85" stroke-width="1.15" d="M1637 51.7V63.5M1671.7 51.7V63.5M1694.8 51.7V63.5M1810.6 51.7V63.5M1648.5 63.1V74.9M1683.3 63.1V74.9M1706.4 63.1V74.9M1648.5 74.5V86.3M1683.3 74.5V86.3M1729.6 74.5V86.3M1660.1 85.9V97.7M1706.4 85.9V97.7M1729.6 85.9V97.7M1671.7 97.3V109M1694.8 97.3V109M1729.6 97.3V109M1660.1 108.6V120.4M1694.8 108.6V120.4M1729.6 108.6V120.4M1648.5 120V131.8M1694.8 120V131.8M1729.6 120V131.8M1833.8 120V131.8M1637 131.4V143.2M1706.4 131.4V143.2M1833.8 131.4V143.2M1579.1 142.8V154.6M1613.8 142.8V154.6M1706.4 142.8V154.6M1810.6 142.8V154.6M1833.8 142.8V154.6M1671.7 154.2V166M1799 154.2V166M1833.8 154.2V166M1648.5 165.6V177.4M1799 165.6V177.4M1833.8 165.6V177.4M1660.1 177V188.8M1683.3 177V188.8M1799 177V188.8M1845.4 177V188.8M1660.1 188.4V200.2M1683.3 188.4V200.2M1822.2 188.4V200.2M1845.4 188.4V200.2M1648.5 199.8V211.5M1683.3 199.8V211.5M1787.5 199.8V211.5M1810.6 199.8V211.5M1845.4 199.8V211.5M1648.5 211.1V222.9M1683.3 211.1V222.9M1799 211.1V222.9M1810.6 211.1V222.9M1845.4 211.1V222.9M1602.2 222.5V234.3M1660.1 222.5V234.3M1694.8 222.5V234.3M1822.2 222.5V234.3M1845.4 222.5V234.3M1625.4 233.9V245.7M1660.1 233.9V245.7M1706.4 233.9V245.7M1810.6 233.9V245.7M1845.4 233.9V245.7M1637 245.3V257.1M1671.7 245.3V257.1M1706.4 245.3V257.1M1822.2 245.3V257.1M1845.4 245.3V257.1M1648.5 256.7V268.5M1683.3 256.7V268.5M1718 256.7V268.5M1787.5 256.7V268.5M1822.2 256.7V268.5M1845.4 256.7V268.5M1660.1 268.1V279.9M1683.3 268.1V279.9M1729.6 268.1V279.9M1845.4 268.1V279.9M1671.7 279.5V291.3M1694.8 279.5V291.3M1729.6 279.5V291.3M1845.4 279.5V291.3M1671.7 290.9V302.7M1706.4 290.9V302.7M1741.2 290.9V302.7M1683.3 302.3V314M1706.4 302.3V314M1741.2 302.3V314M1683.3 313.6V325.4M1718 313.6V325.4M1752.7 313.6V325.4M1532.8 325V336.8M1683.3 325V336.8M1718 325V336.8M1752.7 325V336.8M1729.6 336.4V348.2M1752.7 336.4V348.2M1718 347.8V359.6M1752.7 347.8V359.6M1683.3 359.2V371M1752.7 359.2V371M1648.5 370.6V382.4M1741.2 370.6V382.4M1613.8 382V393.8M1706.4 382V393.8M1590.6 393.4V405.2M1671.7 393.4V405.2M1810.6 393.4V405.2M1625.4 404.8V416.5M1671.7 404.8V416.5M1810.6 404.8V416.5M1555.9 416.1V427.9M1625.4 416.1V427.9M1683.3 416.1V427.9M1787.5 416.1V427.9M1822.2 416.1V427.9M1637 427.5V439.3M1683.3 427.5V439.3M1787.5 427.5V439.3M1822.2 427.5V439.3M1660.1 438.9V450.7M1683.3 438.9V450.7M1799 438.9V450.7M1822.2 438.9V450.7M1660.1 450.3V462.1M1683.3 450.3V462.1M1822.2 450.3V462.1M1752.7 63.1H1764.7M1764.3 63.1H1776.3M1775.9 63.1H1787.9M1787.5 63.1H1799.4M1799 63.1H1811M1521.2 85.9H1533.2M1891.7 85.9H1903.6M1694.8 97.3H1706.8M1903.2 97.3H1915.2M1660.1 108.6H1672.1M1868.5 108.6H1880.5M1532.8 120H1544.7M1648.5 120H1660.5M1880.1 120H1892.1M1544.3 131.4H1556.3M1637 131.4H1648.9M1555.9 142.8H1567.9M1579.1 142.8H1591M1590.6 142.8H1602.6M1613.8 142.8H1625.8M1625.4 142.8H1637.4M1567.5 154.2H1579.5M1602.2 154.2H1614.2M1671.7 154.2H1683.7M1683.3 154.2H1695.2M1694.8 154.2H1706.8M1799 154.2H1811M1914.8 154.2H1926.8M1648.5 165.6H1660.5M1660.1 165.6H1672.1M1509.6 177H1521.6M1683.3 177H1695.2M1694.8 177H1706.8M1706.4 177H1718.4M1718 177H1730M1752.7 177H1764.7M1521.2 188.4H1533.2M1648.5 199.8H1660.5M1810.6 199.8H1822.6M1752.7 211.1H1764.7M1775.9 222.5H1787.9M1787.5 222.5H1799.4M1729.6 233.9H1741.6M1764.3 233.9H1776.3M1810.6 233.9H1822.6M1775.9 245.3H1787.9M1787.5 256.7H1799.4M1567.5 268.1H1579.5M1775.9 268.1H1787.9M1799 268.1H1811M1810.6 268.1H1822.6M1521.2 279.5H1533.2M1579.1 290.9H1591M1741.2 290.9H1753.1M1752.7 290.9H1764.7M1764.3 290.9H1776.3M1775.9 290.9H1787.9M1787.5 290.9H1799.4M1799 290.9H1811M1810.6 290.9H1822.6M1822.2 290.9H1834.2M1833.8 290.9H1845.8M1532.8 302.3H1544.7M1590.6 302.3H1602.6M1602.2 313.6H1614.2M1532.8 325H1544.7M1613.8 325H1625.8M1625.4 325H1637.4M1509.6 336.4H1521.6M1521.2 336.4H1533.2M1637 336.4H1648.9M1648.5 336.4H1660.5M1660.1 336.4H1672.1M1671.7 336.4H1683.7M1544.3 347.8H1556.3M1555.9 347.8H1567.9M1718 347.8H1730M1509.6 359.2H1521.6M1683.3 359.2H1695.2M1694.8 359.2H1706.8M1706.4 359.2H1718.4M1891.7 359.2H1903.6M1903.2 359.2H1915.2M1914.8 359.2H1926.8M1521.2 370.6H1533.2M1532.8 370.6H1544.7M1567.5 370.6H1579.5M1579.1 370.6H1591M1590.6 370.6H1602.6M1602.2 370.6H1614.2M1613.8 370.6H1625.8M1625.4 370.6H1637.4M1648.5 370.6H1660.5M1660.1 370.6H1672.1M1671.7 370.6H1683.7M1741.2 370.6H1753.1M1637 382H1648.9M1706.4 382H1718.4M1718 382H1730M1729.6 382H1741.6M1590.6 393.4H1602.6M1602.2 393.4H1614.2M1671.7 393.4H1683.7M1683.3 393.4H1695.2M1694.8 393.4H1706.8M1567.5 404.8H1579.5M1775.9 450.3H1787.9M1787.5 450.3H1799.4"/>
<path fill="none" stroke="#a0a0a0" stroke-opacity="0.45" stroke-width="0.8" stroke-dasharray="1.2 1.2" d="M1718 51.7V461.7M1509.6 256.7H1926.4"/>
<rect x="1509.6" y="51.7" width="416.8" height="410" fill="none" stroke="#8c8c8c" stroke-width="1.3"/>
<path fill="none" stroke="#8c8c8c" stroke-width="1.1" d="M1509.6 461.7v4.2M1561.7 461.7v4.2M1613.8 461.7v4.2M1665.9 461.7v4.2M1718 461.7v4.2M1770.1 461.7v4.2M1822.2 461.7v4.2M1874.3 461.7v4.2M1926.4 461.7v4.2M1509.6 51.7h-5.5M1509.6 103h-5.5M1509.6 154.2h-5.5M1509.6 205.4h-5.5M1509.6 256.7h-5.5M1509.6 307.9h-5.5M1509.6 359.2h-5.5M1509.6 410.4h-5.5"/>
<g class="tk">
<text x="1509.6" y="479" text-anchor="middle">-180</text>
<text x="1561.7" y="479" text-anchor="middle">-135</text>
<text x="1613.8" y="479" text-anchor="middle">-90</text>
<text x="1665.9" y="479" text-anchor="middle">-45</text>
<text x="1718" y="479" text-anchor="middle">0</text>
<text x="1770.1" y="479" text-anchor="middle">45</text>
<text x="1822.2" y="479" text-anchor="middle">90</text>
<text x="1874.3" y="479" text-anchor="middle">135</text>
<text x="1926.4" y="479" text-anchor="middle">180</text>
<text x="1502.4" y="56.8" text-anchor="end">180</text>
<text x="1502.4" y="108" text-anchor="end">135</text>
<text x="1502.4" y="159.3" text-anchor="end">90</text>
<text x="1502.4" y="210.5" text-anchor="end">45</text>
<text x="1502.4" y="261.8" text-anchor="end">0</text>
<text x="1502.4" y="313.1" text-anchor="end">-45</text>
<text x="1502.4" y="364.3" text-anchor="end">-90</text>
<text x="1502.4" y="415.6" text-anchor="end">-135</text>
</g>
<g class="rl">
<text x="1528.5" y="69" font-size="14.5">B</text>
<text x="1518" y="113.7" font-size="14.5">b</text>
<text x="1529.6" y="227.8" font-size="14.5">a</text>
<text x="1586.5" y="251.7" font-size="14.5">A</text>
<text x="1697.5" y="112.7" font-size="9.5">~b</text>
<text x="1766.9" y="135.7" font-size="9.5">~l</text>
<text x="1756.9" y="169.7" font-size="10">l</text>
<text x="1778.9" y="209.3" font-size="10">L</text>
<text x="1869.8" y="67.4" font-size="9.5">~b</text>
<text x="1912.4" y="78.7" font-size="10">b</text>
<text x="1696.5" y="277.7" font-size="9.5">~a</text>
<text x="1512.6" y="408.2" font-size="9.5">~b</text>
<text x="1530.6" y="431.3" font-size="10">b</text>
<text x="1754.5" y="408.2" font-size="9.5">~p</text>
<text x="1779.5" y="431.3" font-size="10">p</text>
<text x="1892.8" y="442.3" font-size="9.5">~b</text>
</g>
<path fill="#000" d="M1654.5 295.8h3.9v3.9h-3.9zM1637.1 282.8h3.9v3.9h-3.9zM1641.5 299.3h3.9v3.9h-3.9zM1631.1 306h3.9v3.9h-3.9zM1642.6 293.5h3.9v3.9h-3.9zM1649.1 302.5h3.9v3.9h-3.9zM1641.1 294.6h3.9v3.9h-3.9zM1641.4 299.9h3.9v3.9h-3.9zM1647 303.9h3.9v3.9h-3.9zM1644.1 304h3.9v3.9h-3.9zM1638.1 283h3.9v3.9h-3.9zM1622.4 307h3.9v3.9h-3.9zM1628.5 287.8h3.9v3.9h-3.9zM1625.2 284.6h3.9v3.9h-3.9zM1634.3 289.1h3.9v3.9h-3.9zM1641.2 302.6h3.9v3.9h-3.9zM1653 341.1h3.9v3.9h-3.9zM1650.4 286.4h3.9v3.9h-3.9zM1629.8 292.3h3.9v3.9h-3.9zM1639.2 304.6h3.9v3.9h-3.9zM1645.5 303.3h3.9v3.9h-3.9zM1640.9 299.7h3.9v3.9h-3.9zM1645.3 293.4h3.9v3.9h-3.9zM1647.7 302h3.9v3.9h-3.9zM1660.5 298.2h3.9v3.9h-3.9zM1629.2 289.2h3.9v3.9h-3.9zM1638.5 289.4h3.9v3.9h-3.9zM1623.4 287.4h3.9v3.9h-3.9zM1631.6 303.9h3.9v3.9h-3.9zM1630.4 299.2h3.9v3.9h-3.9zM1647.7 300.5h3.9v3.9h-3.9zM1650.3 300.6h3.9v3.9h-3.9zM1645.8 289.6h3.9v3.9h-3.9zM1642.2 304.1h3.9v3.9h-3.9zM1631.4 289.3h3.9v3.9h-3.9zM1635.5 301.6h3.9v3.9h-3.9zM1637.2 304.4h3.9v3.9h-3.9zM1637.2 289.2h3.9v3.9h-3.9zM1627.9 267.3h3.9v3.9h-3.9zM1621.5 288.3h3.9v3.9h-3.9zM1636.6 312.1h3.9v3.9h-3.9zM1643.9 303.4h3.9v3.9h-3.9zM1641.1 294.3h3.9v3.9h-3.9zM1658.1 290.6h3.9v3.9h-3.9zM1637.7 301.6h3.9v3.9h-3.9zM1638.6 293.6h3.9v3.9h-3.9zM1654.7 300.9h3.9v3.9h-3.9zM1637.4 292.2h3.9v3.9h-3.9zM1635.8 298.2h3.9v3.9h-3.9zM1646.9 287.8h3.9v3.9h-3.9zM1637.5 282.6h3.9v3.9h-3.9zM1638.9 301.3h3.9v3.9h-3.9zM1633.6 294h3.9v3.9h-3.9zM1641.7 288.2h3.9v3.9h-3.9zM1657.2 318.1h3.9v3.9h-3.9zM1647.9 289.7h3.9v3.9h-3.9zM1626.9 289.5h3.9v3.9h-3.9zM1641.4 295.7h3.9v3.9h-3.9zM1639.2 296h3.9v3.9h-3.9zM1638.5 300.9h3.9v3.9h-3.9zM1622.2 299h3.9v3.9h-3.9zM1643.5 291.7h3.9v3.9h-3.9zM1666.1 301.8h3.9v3.9h-3.9zM1642.4 298h3.9v3.9h-3.9zM1647.8 293.1h3.9v3.9h-3.9zM1652.9 277.4h3.9v3.9h-3.9zM1639.2 281.5h3.9v3.9h-3.9zM1641 302.1h3.9v3.9h-3.9zM1630.5 300.1h3.9v3.9h-3.9zM1642.4 283.4h3.9v3.9h-3.9zM1633.3 290.7h3.9v3.9h-3.9zM1649.2 318.3h3.9v3.9h-3.9zM1635.1 287.4h3.9v3.9h-3.9zM1643.5 295.1h3.9v3.9h-3.9zM1639.4 306.6h3.9v3.9h-3.9zM1637.9 289.6h3.9v3.9h-3.9zM1652.9 290.7h3.9v3.9h-3.9zM1640.5 293.4h3.9v3.9h-3.9zM1640.5 297.7h3.9v3.9h-3.9zM1641.7 286.9h3.9v3.9h-3.9zM1649.1 294.1h3.9v3.9h-3.9zM1638.3 302.4h3.9v3.9h-3.9zM1635.2 302.4h3.9v3.9h-3.9zM1638.4 303.8h3.9v3.9h-3.9zM1638.5 289.6h3.9v3.9h-3.9zM1635.2 297.9h3.9v3.9h-3.9zM1637.1 306.1h3.9v3.9h-3.9zM1652.1 306.5h3.9v3.9h-3.9zM1649.1 304.8h3.9v3.9h-3.9zM1637.3 315.3h3.9v3.9h-3.9zM1630.7 295.9h3.9v3.9h-3.9zM1627.9 292.1h3.9v3.9h-3.9zM1636.5 284.6h3.9v3.9h-3.9zM1639.8 287.7h3.9v3.9h-3.9zM1649.9 295.6h3.9v3.9h-3.9zM1644.4 284.8h3.9v3.9h-3.9zM1650 294.7h3.9v3.9h-3.9zM1646.8 293.7h3.9v3.9h-3.9zM1640.6 303.3h3.9v3.9h-3.9zM1642 313.1h3.9v3.9h-3.9zM1639.2 293.9h3.9v3.9h-3.9zM1648.1 298.7h3.9v3.9h-3.9zM1634.2 293.1h3.9v3.9h-3.9zM1653.7 280.9h3.9v3.9h-3.9zM1642.2 290.5h3.9v3.9h-3.9zM1637.9 291.1h3.9v3.9h-3.9zM1637 314.4h3.9v3.9h-3.9zM1642.5 302.8h3.9v3.9h-3.9zM1644.9 312.4h3.9v3.9h-3.9zM1632 276.2h3.9v3.9h-3.9zM1644.3 289.4h3.9v3.9h-3.9zM1650 290.4h3.9v3.9h-3.9zM1639.6 301.5h3.9v3.9h-3.9zM1641.9 285h3.9v3.9h-3.9zM1637.7 275.1h3.9v3.9h-3.9zM1640.9 309.2h3.9v3.9h-3.9zM1650 296.1h3.9v3.9h-3.9zM1638.8 290.2h3.9v3.9h-3.9zM1646.6 302.8h3.9v3.9h-3.9zM1630.7 287.6h3.9v3.9h-3.9zM1624.9 296.9h3.9v3.9h-3.9zM1642.5 297.6h3.9v3.9h-3.9zM1645.3 301.5h3.9v3.9h-3.9zM1637.9 301.8h3.9v3.9h-3.9zM1646 280.2h3.9v3.9h-3.9zM1661.6 298h3.9v3.9h-3.9zM1645.6 297.2h3.9v3.9h-3.9zM1651 297.4h3.9v3.9h-3.9zM1643 292.2h3.9v3.9h-3.9zM1641.1 299.7h3.9v3.9h-3.9zM1634 294h3.9v3.9h-3.9zM1633.8 296.6h3.9v3.9h-3.9zM1647.3 298.3h3.9v3.9h-3.9zM1638.2 294.5h3.9v3.9h-3.9zM1634.9 298.4h3.9v3.9h-3.9zM1635.2 289.4h3.9v3.9h-3.9zM1642.7 284.9h3.9v3.9h-3.9zM1640.4 295.3h3.9v3.9h-3.9zM1649 308.5h3.9v3.9h-3.9zM1643.5 291.1h3.9v3.9h-3.9zM1648 316.3h3.9v3.9h-3.9zM1637.9 293.8h3.9v3.9h-3.9zM1657.1 297h3.9v3.9h-3.9zM1635.2 302.9h3.9v3.9h-3.9zM1635.3 299.3h3.9v3.9h-3.9zM1639.2 289.1h3.9v3.9h-3.9zM1644.8 285.1h3.9v3.9h-3.9zM1647.3 293.9h3.9v3.9h-3.9zM1646.5 287.2h3.9v3.9h-3.9zM1648.3 313.1h3.9v3.9h-3.9zM1636.3 295.4h3.9v3.9h-3.9zM1649.8 326.1h3.9v3.9h-3.9zM1641.6 290.7h3.9v3.9h-3.9zM1636.3 284.8h3.9v3.9h-3.9zM1649.4 284.5h3.9v3.9h-3.9zM1637.5 280.4h3.9v3.9h-3.9zM1625.5 298.1h3.9v3.9h-3.9zM1631.2 300.2h3.9v3.9h-3.9zM1639.1 280.4h3.9v3.9h-3.9zM1644 285.1h3.9v3.9h-3.9zM1646.3 305.8h3.9v3.9h-3.9zM1631.5 295.8h3.9v3.9h-3.9zM1651.2 299.8h3.9v3.9h-3.9zM1641 299.2h3.9v3.9h-3.9zM1631.3 297.2h3.9v3.9h-3.9zM1641.1 286.3h3.9v3.9h-3.9zM1643.2 293.2h3.9v3.9h-3.9zM1646.1 302.5h3.9v3.9h-3.9zM1633 283.7h3.9v3.9h-3.9zM1657.4 306.5h3.9v3.9h-3.9zM1636.5 303.4h3.9v3.9h-3.9zM1644.1 299.3h3.9v3.9h-3.9zM1636 289.9h3.9v3.9h-3.9zM1638.4 299.9h3.9v3.9h-3.9zM1625 290.9h3.9v3.9h-3.9zM1642 317.2h3.9v3.9h-3.9zM1628.8 293.7h3.9v3.9h-3.9zM1634 281.4h3.9v3.9h-3.9zM1655.7 310.5h3.9v3.9h-3.9zM1636.9 292.8h3.9v3.9h-3.9zM1636.6 292.6h3.9v3.9h-3.9zM1638 297.4h3.9v3.9h-3.9zM1647.9 299.7h3.9v3.9h-3.9zM1650.9 292h3.9v3.9h-3.9zM1633 287.7h3.9v3.9h-3.9zM1646.9 294.9h3.9v3.9h-3.9zM1632 293.6h3.9v3.9h-3.9zM1654.5 299.4h3.9v3.9h-3.9zM1637.2 289h3.9v3.9h-3.9zM1641.8 287.5h3.9v3.9h-3.9zM1638.3 285.8h3.9v3.9h-3.9zM1648.9 283.4h3.9v3.9h-3.9zM1651 304.8h3.9v3.9h-3.9zM1650 292.2h3.9v3.9h-3.9zM1653 304.2h3.9v3.9h-3.9zM1647.8 295.2h3.9v3.9h-3.9zM1641.8 313.1h3.9v3.9h-3.9zM1638.4 295.3h3.9v3.9h-3.9zM1645.2 287.3h3.9v3.9h-3.9zM1631.3 303.3h3.9v3.9h-3.9zM1648.7 312h3.9v3.9h-3.9zM1644.7 289.6h3.9v3.9h-3.9zM1652.3 308.4h3.9v3.9h-3.9zM1646.5 304.4h3.9v3.9h-3.9zM1635.9 299.2h3.9v3.9h-3.9zM1632.8 290.1h3.9v3.9h-3.9zM1645.4 290.9h3.9v3.9h-3.9zM1620.9 282.3h3.9v3.9h-3.9zM1645.7 305.3h3.9v3.9h-3.9zM1644.8 305.1h3.9v3.9h-3.9zM1625.7 293h3.9v3.9h-3.9zM1646 295.2h3.9v3.9h-3.9zM1643.9 290.4h3.9v3.9h-3.9zM1637.1 313.8h3.9v3.9h-3.9zM1641.8 295.1h3.9v3.9h-3.9zM1654.6 296.4h3.9v3.9h-3.9zM1647.9 306h3.9v3.9h-3.9zM1636.6 293.8h3.9v3.9h-3.9zM1639.8 293.9h3.9v3.9h-3.9zM1636.8 303.4h3.9v3.9h-3.9zM1642 288.6h3.9v3.9h-3.9zM1639.6 304.6h3.9v3.9h-3.9zM1633.7 293.1h3.9v3.9h-3.9zM1643.8 305.9h3.9v3.9h-3.9zM1646.1 317h3.9v3.9h-3.9zM1649.5 302.5h3.9v3.9h-3.9zM1635.9 292.9h3.9v3.9h-3.9zM1556.1 50.9h3.9v3.9h-3.9zM1623.1 51.4h3.9v3.9h-3.9zM1549.6 59.9h3.9v3.9h-3.9zM1516.7 68.2h3.9v3.9h-3.9zM1539.3 67.6h3.9v3.9h-3.9zM1558.7 66.9h3.9v3.9h-3.9zM1563 65.6h3.9v3.9h-3.9zM1566.1 65.1h3.9v3.9h-3.9zM1528.3 81h3.9v3.9h-3.9zM1541.1 81.3h3.9v3.9h-3.9zM1554 83.1h3.9v3.9h-3.9zM1556.6 81.8h3.9v3.9h-3.9zM1581.9 74.6h3.9v3.9h-3.9zM1610.2 56.8h3.9v3.9h-3.9zM1614.1 61.2h3.9v3.9h-3.9zM1616.7 60.7h3.9v3.9h-3.9zM1620.5 67.6h3.9v3.9h-3.9zM1630.1 71.5h3.9v3.9h-3.9zM1632.6 72.8h3.9v3.9h-3.9zM1637.8 71.5h3.9v3.9h-3.9zM1640.4 74.6h3.9v3.9h-3.9zM1613.3 74.6h3.9v3.9h-3.9zM1616.7 74.6h3.9v3.9h-3.9zM1620.3 86.5h3.9v3.9h-3.9zM1622.8 92.1h3.9v3.9h-3.9zM1629.3 93.9h3.9v3.9h-3.9zM1633.2 87.7h3.9v3.9h-3.9zM1641.1 81.3h3.9v3.9h-3.9zM1641.7 89.5h3.9v3.9h-3.9zM1644.2 90.8h3.9v3.9h-3.9zM1652 90.3h3.9v3.9h-3.9zM1653.3 94.7h3.9v3.9h-3.9zM1655.8 95.5h3.9v3.9h-3.9zM1641.1 96.8h3.9v3.9h-3.9zM1644.2 97.3h3.9v3.9h-3.9zM1649.4 101.1h3.9v3.9h-3.9zM1566.9 88.8h3.9v3.9h-3.9zM1572.1 92.9h3.9v3.9h-3.9zM1574.6 92.9h3.9v3.9h-3.9zM1592.7 88.8h3.9v3.9h-3.9zM1596 88.3h3.9v3.9h-3.9zM1606.3 90.1h3.9v3.9h-3.9zM1590.1 96h3.9v3.9h-3.9zM1566.4 99.1h3.9v3.9h-3.9zM1567.7 100.6h3.9v3.9h-3.9zM1602.2 100.4h3.9v3.9h-3.9zM1615.9 101.7h3.9v3.9h-3.9zM1517.9 98h3.9v3.9h-3.9zM1575.2 108.1h3.9v3.9h-3.9zM1577.2 114.8h3.9v3.9h-3.9zM1581.6 115.3h3.9v3.9h-3.9zM1593.5 114.8h3.9v3.9h-3.9zM1587.5 118.7h3.9v3.9h-3.9zM1602.2 117.1h3.9v3.9h-3.9zM1609.4 112h3.9v3.9h-3.9zM1616.7 117.9h3.9v3.9h-3.9zM1631.3 108.4h3.9v3.9h-3.9zM1635.2 109.4h3.9v3.9h-3.9zM1639.1 109.6h3.9v3.9h-3.9zM1643.5 110.2h3.9v3.9h-3.9zM1648.1 110.2h3.9v3.9h-3.9zM1650.7 110.7h3.9v3.9h-3.9zM1630.1 115.8h3.9v3.9h-3.9zM1636.5 121.8h3.9v3.9h-3.9zM1570.8 121.2h3.9v3.9h-3.9zM1545.8 117.4h3.9v3.9h-3.9zM1543.2 122.5h3.9v3.9h-3.9zM1554.8 126.9h3.9v3.9h-3.9zM1595.8 132.1h3.9v3.9h-3.9zM1539.3 141.9h3.9v3.9h-3.9zM1564.3 145.5h3.9v3.9h-3.9zM1585.5 154h3.9v3.9h-3.9zM1605.1 153.2h3.9v3.9h-3.9zM1619.2 150.6h3.9v3.9h-3.9zM1622.3 150.1h3.9v3.9h-3.9zM1613.8 158.4h3.9v3.9h-3.9zM1617.2 164.3h3.9v3.9h-3.9zM1606.9 168.7h3.9v3.9h-3.9zM1610.2 173.3h3.9v3.9h-3.9zM1613.3 173.8h3.9v3.9h-3.9zM1625.4 170.2h3.9v3.9h-3.9zM1624.9 175.9h3.9v3.9h-3.9zM1626.2 177.2h3.9v3.9h-3.9zM1621.6 178.5h3.9v3.9h-3.9zM1619.8 179.2h3.9v3.9h-3.9zM1564.3 168.9h3.9v3.9h-3.9zM1572.6 183.1h3.9v3.9h-3.9zM1789.9 167.6h3.9v3.9h-3.9zM1774.4 178.5h3.9v3.9h-3.9zM1774.4 191.9h3.9v3.9h-3.9zM1757.6 206.8h3.9v3.9h-3.9zM1780.8 207.3h3.9v3.9h-3.9zM1776.5 217.1h3.9v3.9h-3.9zM1773.9 226.1h3.9v3.9h-3.9zM1787.8 226.7h3.9v3.9h-3.9zM1783.4 234.6h3.9v3.9h-3.9zM1790.4 234.6h3.9v3.9h-3.9zM1580.6 224.9h3.9v3.9h-3.9zM1581.1 230.8h3.9v3.9h-3.9zM1596 235.2h3.9v3.9h-3.9zM1597.1 239h3.9v3.9h-3.9zM1585.5 245h3.9v3.9h-3.9zM1578.5 248.1h3.9v3.9h-3.9zM1581.1 256.6h3.9v3.9h-3.9zM1597.8 251.9h3.9v3.9h-3.9zM1603 251.9h3.9v3.9h-3.9zM1609.4 245h3.9v3.9h-3.9zM1615.4 245h3.9v3.9h-3.9zM1610.7 259.6h3.9v3.9h-3.9zM1619.8 253.2h3.9v3.9h-3.9zM1622.3 251.9h3.9v3.9h-3.9zM1643.5 261.5h3.9v3.9h-3.9zM1588.8 268.7h3.9v3.9h-3.9zM1597.3 268.7h3.9v3.9h-3.9zM1604.8 270h3.9v3.9h-3.9zM1628.8 270h3.9v3.9h-3.9zM1635.2 275.1h3.9v3.9h-3.9zM1644.2 272.5h3.9v3.9h-3.9zM1653.8 270h3.9v3.9h-3.9zM1588.3 269.5h3.9v3.9h-3.9zM1597.3 269.5h3.9v3.9h-3.9zM1604.8 271h3.9v3.9h-3.9zM1628.8 271h3.9v3.9h-3.9zM1571.6 280.6h3.9v3.9h-3.9zM1603 282.4h3.9v3.9h-3.9zM1556.6 298.6h3.9v3.9h-3.9zM1594.8 294.8h3.9v3.9h-3.9zM1578 308.4h3.9v3.9h-3.9zM1588.8 314.9h3.9v3.9h-3.9zM1593.5 312.8h3.9v3.9h-3.9zM1594.8 311.5h3.9v3.9h-3.9zM1608.2 316.1h3.9v3.9h-3.9zM1607.4 322.3h3.9v3.9h-3.9zM1587.5 327.5h3.9v3.9h-3.9zM1616.7 313.3h3.9v3.9h-3.9zM1617.2 299.9h3.9v3.9h-3.9zM1642.9 261.8h3.9v3.9h-3.9zM1653.8 270.3h3.9v3.9h-3.9zM1590.9 425.7h3.9v3.9h-3.9zM1574.6 444.2h3.9v3.9h-3.9zM1562.5 454.5h3.9v3.9h-3.9zM1635.2 455.3h3.9v3.9h-3.9zM1639.5 293.3l1.8 3.2h-3.6zM1643.3 304l1.8 3.2h-3.6zM1645.4 285.2l1.8 3.2h-3.6zM1625.1 285.3l1.8 3.2h-3.6zM1631.1 284l1.8 3.2h-3.6zM1637.1 291.5l1.8 3.2h-3.6zM1643.2 286.4l1.8 3.2h-3.6zM1637.5 273.6l1.8 3.2h-3.6zM1650.9 304.6l1.8 3.2h-3.6zM1649.7 298.9l1.8 3.2h-3.6zM1647.8 297.7l1.8 3.2h-3.6zM1635.1 293.2l1.8 3.2h-3.6zM1643.1 300.7l1.8 3.2h-3.6zM1650.8 292.2l1.8 3.2h-3.6zM1640.9 305l1.8 3.2h-3.6zM1645 293.9l1.8 3.2h-3.6zM1634.4 302.9l1.8 3.2h-3.6zM1650.4 295.9l1.8 3.2h-3.6zM1647.4 285.5l1.8 3.2h-3.6zM1644.6 306.8l1.8 3.2h-3.6zM1649.9 303.4l1.8 3.2h-3.6zM1644.5 316.9l1.8 3.2h-3.6zM1654.1 306.5l1.8 3.2h-3.6zM1569.6 74.2l1.8 3.2h-3.6zM1831.8 60.8l1.8 3.2h-3.6zM1909.1 72.4l1.8 3.2h-3.6zM1806 174l1.8 3.2h-3.6zM1625.6 192l1.8 3.2h-3.6zM1910.9 205.2l1.8 3.2h-3.6zM1799 221.7l1.8 3.2h-3.6zM1820.7 223.2l1.8 3.2h-3.6zM1850.6 241.8l1.8 3.2h-3.6zM1831 246.9l1.8 3.2h-3.6zM1815.5 249.5l1.8 3.2h-3.6zM1824 253.4l1.8 3.2h-3.6zM1609.3 239.2l1.8 3.2h-3.6zM1602.4 246.9l1.8 3.2h-3.6zM1623.5 259.8l1.8 3.2h-3.6zM1824 297l1.8 3.2h-3.6zM1822.7 329.2l1.8 3.2h-3.6zM1728.7 331l1.8 3.2h-3.6zM1776.9 379.4l1.8 3.2h-3.6zM1797 387.2l1.8 3.2h-3.6zM1602.4 397.5l1.8 3.2h-3.6zM1583.8 405.2l1.8 3.2h-3.6zM1616.5 434.6l1.8 3.2h-3.6zM1792.3 399.3l1.8 3.2h-3.6zM1810.4 457.8l1.8 3.2h-3.6zM1654.4 324l1.8 3.2h-3.6zM1657.8 291.6l1.8 3.2h-3.6z"/>
<g class="ol">
<text x="1765.3" y="55" text-anchor="middle">THR 285 (A)</text>
<text x="1798.2" y="95.4" text-anchor="middle">LYS 97 (A)</text>
<text x="1794.9" y="112.2" text-anchor="middle">LEU 40 (A)</text>
<text x="1744.6" y="132.3" text-anchor="middle">VAL 118 (A)</text>
<text x="1798.2" y="136.1" text-anchor="middle">ILE 147 (A)</text>
<text x="1795.7" y="356.8" text-anchor="middle">THR 235 (A)</text>
<text x="1804.7" y="358.6" text-anchor="middle">ARG 334 (A)</text>
<text x="1788.5" y="371.5" text-anchor="middle">ASP 311 (A)</text>
<text x="1786.6" y="387.7" text-anchor="middle">ALA 279 (A)</text>
<text x="1791" y="407.1" text-anchor="middle">ALA 319 (A)</text>
</g>
<path fill="#ee1c23" d="M1763.3 56.8h3.9v3.9h-3.9zM1796.3 97.3h3.9v3.9h-3.9zM1792.9 114h3.9v3.9h-3.9zM1742.7 134.1h3.9v3.9h-3.9zM1796.3 138h3.9v3.9h-3.9zM1793.7 358.7h3.9v3.9h-3.9zM1802.7 360.5h3.9v3.9h-3.9zM1786.5 373.4h3.9v3.9h-3.9zM1784.7 389.6h3.9v3.9h-3.9zM1789.1 408.9h3.9v3.9h-3.9z"/>
</g>
<g class="ti">
<text x="281.2" y="24.8" text-anchor="middle">Neo-1</text>
<text x="772.3" y="26.5" text-anchor="middle">Neo-2</text>
<text x="1223" y="28.3" text-anchor="middle">Neo-3</text>
<text x="1705.3" y="23.5" text-anchor="middle">Neo-4</text>
</g>
<g class="ax">
<text transform="translate(24 264.5) rotate(-90)" text-anchor="middle">Psi (degrees)</text>
<text x="997" y="547" text-anchor="middle">Psi (degrees)</text>
<text transform="translate(22.6 810.5) rotate(-90)" text-anchor="middle">Z-score</text>
<text x="1009.5" y="1095.2" text-anchor="middle" style="font-size:31.7px">Number of residues</text>
</g>
<g>
<svg x="87.8" y="595.1" width="415" height="413.7" viewBox="-0.22 0 415.22 414" preserveAspectRatio="none" overflow="hidden"><g fill="none" stroke-linecap="round" stroke-width="4.1"><path stroke="#b0c4de" d="M42.1 94.4V193M43.7 96.2V215M45.3 91.7V230.2M46.9 99.1V246.5M48.5 97.5V240.2M50.1 98.5V241.4M51.7 97V236.2M53.3 96.5V263.8M54.9 98.4V247.6M56.5 107.5V244.6M58.1 113.2V241.7M59.7 109.3V242M61.3 103.6V242.2M62.9 109.6V243.7M64.5 109.4V249.6M66.1 104.1V247.8M67.7 119.1V244.9M69.3 111.1V248M70.9 127.1V247M72.5 108.4V256.4M74.1 111.7V251.9M75.7 119.4V254.3M77.3 112.8V260.6M78.9 131.1V253.5M80.5 121.3V251M82.1 124V261M83.7 125.5V261.5M85.3 128.3V257.1M86.9 128.7V264.7M88.5 135.1V268.5M90.1 137.8V262.7M91.7 136.7V265.5M93.3 130.4V263.8M94.9 141.5V264.6M96.5 139.9V265.1M98.1 143.8V275.7M99.7 144.1V268.6M101.3 123.8V268.3M102.9 145V271.6M104.5 148.6V268.6M106.1 147V276.1M107.7 148V267.8M109.3 127V270.9M110.9 157.8V271.4M112.5 152.8V272.3M114.1 153.9V282.9M115.7 162.7V289.2M117.3 158V271.5M118.9 135.8V284.4M120.5 154.6V266M122.1 155V271.9M123.7 158.6V272.8M125.3 157.9V268.3M126.9 164.4V272.6M128.5 167.5V277.7M130.1 166.7V278.4M131.7 172.6V279M133.3 156.9V282.7M134.9 159.3V294.9M136.5 175.6V285M138.1 169.1V281.7M139.7 171.5V282.2M141.3 168.9V290.3M142.9 177V292.4M144.5 172.3V291.2M146.1 174.7V288.5M147.7 180.1V288.6M149.3 182.1V291.4M150.9 181.9V295.3M152.5 185.1V290.7M154.1 186.7V297.6M155.7 184V299.6M157.3 192.9V297.7M158.9 185.9V298.1M160.5 189.9V303.9M162.1 183V296.1M163.7 187.3V297.7M165.3 186.4V296.7M166.9 193V301.5M168.5 191.8V297.1M170.1 194.4V302M171.7 192.7V304.2M173.3 192.6V305.3M174.9 198V303.8M176.5 203.9V302M178.1 196.2V304.2M179.7 199.8V304.5M181.3 202.8V297.7M182.9 208.1V305M184.5 200.4V310.4M186.1 196.4V304.1M187.7 208.2V306.2M189.3 207.8V315.6M190.9 211.4V302M192.5 211.7V302.1M194.1 208.9V294.3M195.7 209.1V304.5M197.3 211.6V296.7M198.9 211.6V304.3M200.5 211.2V301.2M202.1 211.6V304.8M203.7 213.7V304.3M205.3 224.3V308M206.9 221.3V303.6M208.5 210.8V298.7M210.1 218.4V305.5M211.7 219V306.9M213.3 223.2V303M214.9 229.6V304.4M216.5 226.1V302.5M218.1 226.8V307.7M219.7 225.3V300.8M221.3 220.7V307.6M222.9 228.8V304.4M224.5 230.7V301.4M226.1 219.9V301.1M227.7 228.7V307.4M229.3 209.6V306.8M230.9 234.4V311.4M232.5 234.7V310M234.1 234.8V307.3M235.7 233.7V308.1M237.3 231.1V313.1M238.9 237.3V308M240.5 240.6V303.7M242.1 237.6V313.9M243.7 238.3V305.8M245.3 245.4V309.3M246.9 238.6V307.5M248.5 231.3V304.7M250.1 244.7V310.3M251.7 241.1V310.3M253.3 253.4V302.7M254.9 244.4V312.3M256.5 252.1V308.3M258.1 241.2V305.2M259.7 254.2V306.4M261.3 246.4V307.2M262.9 253.9V312M264.5 250.8V310.4M266.1 254.6V313M267.7 256.5V306.5M269.3 247.7V312.9M270.9 258.8V312.6M272.5 249.1V311.7M274.1 257V317M275.7 259.1V318.5M277.3 245.5V316.1M278.9 269.5V312.8M280.5 250.6V313M282.1 266.2V313.3M283.7 260.3V312.9M285.3 266.6V319M286.9 272.3V325.4M288.5 263.8V316M290.1 262.2V319.7M291.7 260.3V320.2M293.3 268.1V320.4M294.9 265V312.1M296.5 259.2V322.9M298.1 261.1V319.5M299.7 274.8V317.6M301.3 276.6V320.7M302.9 270.2V320.3M304.5 268.6V315.2M306.1 274.6V327M307.7 268.5V318.8M309.3 275.8V314.7M310.9 271.1V315.5M312.5 267.5V325.2M314.1 270.7V322.9M315.7 264.7V323.6M317.3 270.2V323.3M318.9 270.1V321.4M320.5 286V317.6M322.1 280V328.8M323.7 279.8V318.5M325.3 243.4V324.4M326.9 279.2V319.5M328.5 280.4V347.4M330.1 269.3V320M331.7 284.8V324.4M333.3 288V319.7M334.9 291.4V321.6M336.5 289V325.3M338.1 290.8V327.1M339.7 288.2V322.7M341.3 289.3V319.4M342.9 276.6V313.5M344.5 286.5V319.8M346.1 287.3V326.9M347.7 284.3V324.3M349.3 292.5V326M350.9 295.3V323M352.5 294.5V325M354.1 294.4V322.6M355.7 296.9V328.9M357.3 298V321.3M359.5 293.7V324.8M361.1 289.7V326.9M362.7 287.8V313.4M364.3 298.6V312.5M365.9 298.6V317.2M367.5 303.5V314.9M369.1 301V311.2M370.7 306.1V309.7M405.5 306.1h0M383 279.4h0M364 288.5v1.9M374.6 322.7v5.6M399.4 298.5v.6M373.8 324.2h0M359.8 312.2v2.3M393.2 306.9v1.1M408.2 300.9v4M413 324.1h0M384.5 314.5h0M388.9 311.6v4.7M409.5 315.4v1.3M407.7 304.3h0M376 300v6.7M402.8 296.2h0M363 278.1h0M366.2 317.2h0M415.7 301.1v6.1M393.6 324.7v.6M359.7 304.6v2.1M385.6 317.4h0M386.3 283.8h0M390.5 282.2h0M382.3 308.4h0M394.9 301.2h0M359.2 314.7v.3M406.2 290.5v4.4M376.9 325.9v3.5M374.2 291.6h0M390.4 308.5h0M397.3 305.1v6.7M408.3 296.5h0M412 333.4v5.1M415.6 279.1h0M367 296.4h0M411 306.7h0M405 292.6h0M396.7 270.6v3.9M400.7 294.1h0M390.8 292.5h0M402.5 284.2v3.8M361.6 301h0M368.9 301.5v2.8M373.4 298.4v6.6M370.9 291.7v.3M412.1 294.9v3M397.8 337.5h0M401.4 291.8h0M394.4 270.6h0M384.5 294.5v.6M393.4 299.3v4.7M382.3 306.5v4.6M406.8 317.4v.3M409.3 304.8h0M383 331.2h0M405.8 303.7h0M391.6 334.3v4.1M387.6 290.6h0M395.1 303.3h0M402.8 287.9v6M375.9 282.9h0M361.5 304h0M406.3 314h0M391.5 299.1v2.7M366.7 291.3h0M387.4 313.8h0M413.9 291.3h0M379.8 296.5h0M379.2 293.3v6.6M371.7 315.1v2.6M404.6 312.4h0M408.7 292v4.4M382.7 298.1v5.6M408.4 311.4h0M394.1 312.2h0M401.6 321.6h0M412.6 313h0M376.4 301.9h0M414.9 290v3.1M390.5 318.9v4M415.7 293.1h0M414.8 314v1.6M403.6 296.4v3.9M412.7 318.2h0M415.8 293v5.7M415.5 309.6v1.5M403.5 286.6v2.1M379.9 272.1v1.8M374.4 331.1h0M411.7 296.6v5.7M408.1 297.1h0M383.2 299.9h0M380.5 301.2v1.9M364.5 291.7h0M370.4 311.5h0M373.5 277.4h0M391.6 317.3h0M363.6 321.2h0M377.1 279.9v1M358.7 296.1h0M369.1 302.9v3.8M369.5 302.9v2.5M407.6 292.3v3M381.6 312.8v2.3M415.8 307h0M385 307.3v4.2M387.8 276.4v3.5M378.4 287.2v.7M398.7 303.8h0M381.5 309.7v3.6M410.6 340.2v3.1M387 317.9h0M409.5 284.7v2M403.4 307.8v1.7M389.2 316.8v.5M374.1 291.6v2.1M412.9 297h0M373.9 287.2v3.2M363.6 305.6v6.6M389.7 285.4v1.6M373.1 305.6h0M393.1 292.4h0M411.2 317.9v4.6M363.1 307.9h0M365.9 293.2v5.1M398.2 283.1h0M407 336.1v3.2M390.5 316v3.6M361 289.9v5.3M409.1 296.9v6.1M384.5 297.1h0M387.6 279.2v4.8M416.8 282.9h0M406.1 305.4v5.9M404.7 302.3h0M370.5 323.4v6.2M363.3 300.4h0M359.8 296.9h0M361.3 312.5h0M416.8 317.8v.3M397.6 268.4v4.9M362.5 296.2h0M372.7 294.1v.8M380.1 283.2v3.6M377.2 297v.2M392.6 307.4h0M363.7 306.2v5.6M369.7 326.4v5.4M363.2 292.2v5.4M409.3 309.1v1.3M377.9 289.4h0M392.2 292.7h0M391 319.5v3.4M378.8 302.6h0M414.8 288.5h0M390.4 300.7v6.6M409 287.5h0M389 331.4h0M400.5 302.4h0M393.8 292.5h0M406.6 321.2v5.8M373.7 276.4v4.7M375.5 307v.9M384 293.5h0M384.3 303.5v4.8M376.4 276.7h0M361.4 294.5v2.2M396.9 309.3v6.3M396.4 274.5v5.6M401.9 308.2h0M383.4 298.2h0M367.4 289.4v1.8M394.5 330.4v3.4M389.7 305.8v5.6M405.3 294.6v4.8M410 343h0M386 326.7v4M397.2 288.9v6.2M398.7 301.7v3.9M362.4 301.6h0M366.6 298.6v2.3M399.3 299v3.9M379.3 301.5v2M374.1 301.7v5.8M364.9 321.6v2.9M360.4 287.4h0M404.7 286.2h0M410.5 314.3h0M371.9 284.4h0M411.7 328.2v5.8M378 314.6v3.9M394.3 336.5h0M389.3 298.1h0M382.1 334.6v.9M408.5 271.3h0M377.4 292.7v3.7M414.1 333.5h0M364.8 314.3h0M384.2 294.2v5.3M403.3 281h0M392.5 286.2v6.4M362.5 312.3h0M382.1 303.8h0M362.9 308.4v5.8M396.5 298.2v3.7M384.8 290.7v.7M408.2 299.2h0M376 273.1v1.7M408.2 301.1h0M384.3 297.7h0M412.4 341v3.6M398.7 293.6h0M375.5 317.9h0M392.4 278.7v5.5M385 299.2v6.6M387.6 292.9v6.4M406.1 289.6v4.8M377.8 325.1v2M412.9 293.2h0M407.1 307.5h0M402.2 336.7v4.9M413.3 330.6v3.2M389.6 316h0M389 299.9v.8M407.7 261v6.6M360.5 302.3h0M360.8 322.8h0M388.1 306.8h0M380 298.1h0M372.3 319.2v1M363.9 291.6h0M404.5 294.2h0M362.1 295.3v1.3M404 300.6v4.4M398 275.8h0M368.9 311.9v2.3M411.7 299.6v2.7M404.3 277.2h0M394.8 290.6h0M385.2 292v3.1M414.2 345.1h0M388.1 325.2h0M388.1 285.4v3.5M361.1 294.5h0M399.3 330.6h0M384 315.1h0M396.6 310.6h0M370.1 300.7v4M379.3 300.1h0M381.1 314.6h0M371.3 299.3v3M395.8 317.4h0M399.6 305.4v.8M409.3 315.4v3.5M377 283.5v4.8M398.3 286h0M388 312.1h0M368.4 307.3v3.9M410.4 273.7v.5M359.7 322.4v3.5M383.6 324.5v5.7M410.3 324.3h0M384.5 310.3v3.3M397.2 301.8v.4M399.4 275.8h0M411.7 299.5h0M411.2 306.2h0M359.2 307.6h0M374.8 308.6v4.1M399.1 318v5M359.2 306.3h0M364.4 315.3v5.2M373.6 298.9h0M381.6 310.3v.6M394.3 319v3.2M382.4 301.5v6.1M405 287.6v4.1M395.4 308.2v1M404.7 326.9v3.9M361.8 312.8v.1M372.6 309.8h0M402.5 279.7v4.2M399.6 299.3v1.7M409.3 311.4h0M379.9 309.5v2.8M389.6 316.8v6.8M380.1 330.7h0M381.7 326.8h0M362.7 295.1v2.4M377.2 332.4v1.6M383.8 289v2.8M389.3 283.8h0M402.6 284v1.2M402 278.6h0M366 319.4v4.8M361 306.3h0M360.3 287v4.4M359 305.8v5.1M373 282.3h0M367.8 318.5v1.9M378 323.5h0M362.7 323.1v6.6M362.9 281.3h0M384.9 303.9v6M368.2 314.2h0M364.2 299.5h0M376.8 294.5v.4M376.3 296.7h0M391.2 304.3v.2M402.9 276.1v6M364.4 291.7v.3M413.3 312.8v6.1M379.4 310.3v3.2M379.9 302.1h0M410.5 307v4.7M401 298.9v4.5M392.9 337.8v.9M390.3 319.8h0M410.4 308.5h0M380.8 323.8v5.7M397.2 306.7h0M393.4 282.5h0M397.7 294.6h0M367.2 324.6h0M363.6 296.3v1.6M373.5 313h0M398 319.6h0M411.5 298.1v4.5M400.9 308.5h0M370.6 331.7v.3M383.4 303.3v.2M381.7 319.1h0M375.1 313.7v6.2M361.9 309.5h0M365.5 307.9h0M375.7 285.4h0M370.5 312.3h0M397 323h0M407.8 291.3h0M202.5 299v16.5M242.5 303v24.7M298.3 315.9v16M247.1 303.6v10.3M133.7 276.9v24.8M203.5 299v11.5M215.1 299.4v19.7M194.6 298.7v23.3M227.1 301v21.9M139.2 280.4v23.4M272.4 309v20.9M257.5 305.1v16.3M248.7 303.8v12.1M189.2 298.5v23M359.3 317.4v19.4M298.1 315.9v24.8M357 317.4v20M359 317.4v13.3M281.3 311.4v20.4M258 305.2v20.6M253 304.4v25.6M360.1 317.4v18M340.1 317.4v14.5M323.5 316.9v11.1M244.9 303.3v15.4M271.9 308.9v12M295.5 315.2v21.1M249.1 303.9v12.3M310.2 316.4v23M273.6 309.4v24.9M152.9 289.5v9.9M224.8 300.7v22.7M164.9 160.5v5.4M383.7 287.6v11.7M309.2 310.7v10.7M401.2 351.1v4.3M129.2 276.7v3M394.7 326.7v7.7M228.5 218.8v4.7M411 316.7v10.8M114.2 137.5v6.3M154.8 111.1v14.8M335.7 258.2v6.6M386.1 312.9v12.3M209.8 206.3v7.6M95.6 263.6v11M60.3 86.9v10.5M363.7 289.6v7.2M407.4 311.7v11.4M254.8 308v9.3M305.6 249.2v13.7M178.2 189.2v7.7M371 283v9.8M100.3 123.4v7.8M407.8 334.1v5.6M97.5 117.4v3.1M286.9 321.9v4.5M337.2 316.9v10M317.8 265.7v7.7M233.6 184v7.2M264.5 240.4v6.3M98.9 273.5v4M372.1 279.8v7.2M311.4 308.4v13.7M380.5 324.8v6.9M69.6 86.1v9.9M380.7 318.2v3.7M51.8 81.6v13M328.1 254.2v13.7M365 281.5v6.6M150.6 168.9v12.2M87.3 119.6v9.6M248 223.2v6.6M371.6 266.2v10M355.2 348.8v6.7M54.2 90.6v3.4M336 342.9v3.1M120.1 152.5v4.4M238.2 224.3v10M165.2 309.9v8.9M266.9 235.7v6.5M305.6 214.1v7.5M407.8 308.9v14M342.6 325.3v4M176.1 183.7v13.5M376.6 279.9v3.4M163.5 173v7.1M344 272.9v9.2M285.9 316.2v4.2M53.7 94.2v6M191.5 181.1v14.1M338.8 270v13.7M320.5 331.2v4M198.1 187.1v10.8M69.4 79.1v9M246.1 309.1v13.2M355.8 282v5.9M128.5 92.6v13.8M413.7 327.4v8.1M213.7 202.7v10.4M143.8 285.6v13.7M390.8 291.9v6.8M360.3 271.3v10.6M223.5 306.1v8.2M303.7 323.9v3.6M222.9 293.4v14M372.4 294.3v3.5M70.9 102.3v12.6M305.2 251.6v11.4M358.2 285.2v11.9M412 277.4v9.8M211.3 212.6v5.7M351.8 271.4v14.2M274.7 315.8v14.9M389.4 254.1v14.5M200.3 202.9v10.4M336.5 317.9v7M226.6 307.1v8M200.2 295.1v10.1M162.7 131.4v11.9M152.3 292v3.6M300.1 257.4v5.8M374.8 279.7v5.9M220.7 206.2v2.8M176.1 301.9v6.8M401.4 348.6v5.6M314.2 318.6v3.8M399.4 316.6v13.9M156 179.9v4.7M237.4 297.3v9.9M58.5 82.5v14.7M80.6 253.8v8.8M208.1 304.1v13.1M162.8 184.4v5M307.9 241.8v9.1M346.8 279.1v4.5M306.2 246.6v3.8M98.5 275.9v4M403.8 291.6v6M409.7 288.8v6.6M129 281.6v3.3M314.6 257.7v15M81.4 107.4v9.5M392.9 326.3v4M63.2 245.3v6.9M168 290.6v12.3M201.4 196.7v12.3M362.5 321.4v3.6M219.9 207.6v13.3M284.5 310.2v11.1M361.9 315.2v7.7M130.6 154.9v10.5M300.2 207v4.4M374.7 316.8v6.2M409.4 273.9v10.6M204.3 198v14.6M143.4 164.5v10.6M414.5 283.5v13.3M350.3 283v9.9M92.1 128.1v4.2M413.2 308.9v14.8M218.6 210.9v8.7M395.4 326.6v11.5M56.5 254v4.1M236.5 219v14.1M263.8 238.1v7.5M294.4 254.1v9.1M410.7 329.3v3.6M334.2 262v13.7M161.5 290.1v8.6M207.7 300v5.6M238.4 327.7v4M316.6 258.3v7.9M350.4 283.4v4.8M64.2 101.4v4M312.8 252.4v6.7M236.5 321.4v10.8M338.6 252.3v4.5M155.1 293.3v7.2M126.5 157.5v5.4M292.5 257.7v6.6M149.5 170.5v6.9M304.9 272h0M244.9 306.2h0M85.9 132.7h0M206.6 199h0M327.7 323.1h0M186.2 303h0M223.1 222h0M222 227.2h0M182.6 330.5h0M269.4 251.6h0M338.8 281h0M273.6 232.4h0M122.8 279.5h0M211.5 201.4h0M316.9 274.9h0M45.8 85.9h0M167.3 194.4h0M108.5 150h0M270.6 312.2h0M310.6 258.4h0M267.1 240.1h0M295 246.4h0M152.1 140.1h0M360 319.1h0M46.7 239.8h0M311.9 324h0M302.6 267h0M240 229.2h0M325 261.4h0M286.9 264.1h0M143.8 171.2h0M94.7 265h0M165.5 183.1h0M122.5 141.6h0M149.5 288.9h0M203.9 308h0M191.2 203.2h0M325.2 277.7h0M255 237.6h0M176.3 195.4h0M62.6 107.3h0M152 290.6h0M153.6 296.5h0M241 207.8h0M114.4 156.7h0M287 232.2h0M79.8 125.4h0M177.1 300.8h0M85.2 129.9h0M289 316.7h0M311 275.2h0M97.3 128.9h0M272.1 252h0M304.7 326.7h0M91.6 263h0M52.7 93.5h0M245.4 240.7h0M224.1 230.3h0M126.9 153.9h0M353.9 324h0M155.7 302.7h0M349.7 236.6h0M232.2 304.7h0M337.6 277.9h0M338.9 320.2h0M356.1 352.5h0M298.7 318.9h0M110.7 148.5h0M100.3 275.3h0M152.1 185h0M108.9 149.5h0M267.7 246.6h0M301.5 261.8h0M127.1 278.7h0M160.1 299.1h0M165.3 193.8h0M142.9 159.4h0M329.7 322.5h0M155.8 187.4h0M134.9 165.7h0M103.6 142h0M87.8 112.3h0M284.1 260.5h0M271.8 238.5h0M131.5 155.4h0M110.2 142.7h0M165.3 171.1h0M320.2 323.2h0M163.7 188.8h0M351.6 279.4h0M294.4 253.6h0M264.2 312.8h0M88.4 105.7h0M332.8 276.6h0M52.1 244.6h0M167.1 195.2h0M119.1 155.5h0M92.2 262h0M100 143.6h0M302.6 321.5h0M150 297.7h0M250.7 306h0M232.1 201.9h0M63.6 258.3h0M61.2 245.8h0M330.4 248h0M143.8 169.9h0M354.6 286.7h0M127.6 157.9h0M288.9 240h0M252 236.9h0M54.1 97.4h0M173.5 301.5h0M301.7 262.9h0M239.3 231.7h0M44.8 93.8h0M115.8 147.1h0M184.2 196.3h0M99.2 142.7h0M259.5 250h0M268.5 252h0M75.8 117.3h0M123.2 275.3h0M85.5 263.5h0M191.6 303.9h0M181.2 189.2h0M218.8 301.6h0M193.9 205.2h0M264.9 240.2h0M265.2 234.3h0M242.7 219.5h0M57 89h0M274.5 315.1h0M335 271h0M104.2 295h0M202.3 307.5h0M313.1 270.4h0M250.7 322.8h0M100.7 136.8h0M170.4 301.7h0M66.5 253.5h0M266.3 247.7h0M315.9 325.6h0M304.5 261.2h0M316.2 335.9h0M169.2 306.1h0M281.6 255.6h0M337.4 285.4h0M96.8 274.5h0M156.9 174.5h0M247.4 214.5h0M212.4 219h0M155.7 179.3h0M219.6 316.1h0M110.6 144.8h0M278.7 312.4h0M294.9 267.8h0M352.1 268.3h0M110.9 131.1h0M275.8 311.6h0M261 247.8h0M179.3 303.4h0M340.5 324.5h0M81.5 122.4h0M307.5 325.6h0M43.2 211.5h0M83.6 274.9h0M130.4 159.5h0M236.1 229.6h0M337.2 287.2h0M225.5 302.6h0M318.5 277h0M114.1 138.8h0M304.7 231.6h0M114.1 140h0M285.9 260.5h0M68.5 111.1h0M244.9 316.4h0M152.6 185.1h0M229.5 221.9h0M140 166.3h0M90.8 129.8h0M255.3 242.8h0M187.7 208h0M262.1 309.4h0M214.2 309.2h0M45.9 95.4h0M320.5 326.7h0M47.1 234.1h0M101.8 138h0M124.1 280.8h0M351.5 290.1h0M160.1 190.5h0M332 285.8h0M48.3 247.8h0M146.2 178.4h0M180.8 301.5h0M279.4 328.7h0M343.1 336.4h0M292 266.9h0M111.8 274.1h0M304.3 257.9h0M132.4 165.1h0M309.3 345.4h0M44.8 88.1h0M186 185.6h0M205.5 214.6h0M169.6 196.6h0M310.5 340.2h0M263.2 227.6h0M239.2 317.6h0M197.6 210.5h0M325 277.9h0M113.5 267.9h0M320 277.8h0M130.9 161.1h0M282.3 251.5h0M55.6 245.5h0M66.8 250.9h0M196.3 206.7h0M314.3 318.5h0M143.2 285.1h0M243.3 311.6h0M245.4 239.4h0M118.6 150h0M145.8 180.7h0M174.6 192.8h0M143.8 301.3h0M329.8 321.4h0M186 300.9h0M330.2 320.7h0M43.9 95h0M102.8 142.9h0M280.8 322.8h0M291.5 262.8h0M164.4 188h0M224.5 304.7h0M222.2 221.1h0M228.9 306.3h0M86.9 131.2h0M102.7 272.4h0M343.9 320.8h0M139.9 171.3h0M177 177.3h0M317.6 274.3h0M233.8 231.3h0M275.6 254.4h0M307.7 319.1h0M149.6 182.7h0M279.3 315.1h0M148.4 181.4h0M225.7 213.5h0M298.7 322.8h0M118.2 138.4h0M293 329.3h0M310.3 252.5h0M353.7 289.1h0M309.1 332h0M192.5 303.6h0M184.9 198.2h0M51.8 84.5h0M53.6 255.8h0M192.1 314.5h0M165.6 297.5h0M169.3 193.9h0M354.9 321.2h0M73.4 266.9h0M358.8 285h0M140.3 170.2h0M140.7 283.7h0M159.4 178.9h0M200.4 194.1h0M231.5 215.5h0M230.7 309.3h0M274.5 257h0M229.6 311.4h0M348.8 275.9h0M96 141.8h0M109 138.5h0M205.7 303.3h0M90.7 135.5h0M288.4 319.6h0M219.4 216.1h0M308.7 321.4h0M203.3 216.3h0M66.5 248.7h0M98.1 143.7h0M180.3 180.1h0M285.3 255.4h0M49.4 94.9h0M231.5 318.6h0M157.9 188.7h0M132.4 153.9h0M241.9 304.7h0M195.3 301.6h0M213.6 214.1h0M235.2 303.7h0M217.3 223.8h0M358.5 288.2h0M200.7 301.4h0M198 301.4h0M88.9 128.6h0M321.8 319.8h0M147.9 288.6h0M142.7 169.8h0M271.7 251.1h0M318 330.3h0M315.3 274.7h0M144.2 157.3h0M132.2 279.2h0M118.9 155.9h0M301.4 262.1h0M70.9 113.7h0M47.2 82.2h0M75.2 257.7h0M116.4 148.2h0M224 214.3h0M217.2 303.6h0M184.8 302h0M287.1 321h0M235.3 304.6h0M349.2 321.4h0M43.7 227.7h0M247.3 306.1h0M140.6 175.2h0M99.4 268.4h0M173.3 188.2h0M267.3 253.3h0M146.4 179.8h0M230.2 308.1h0M59.5 83.4h0M355.2 292.4h0M128.4 290h0M230.1 302.8h0M318 278.7h0M149.9 290.3h0M299.8 323.8h0M327.8 320.7h0M86.8 268.5h0M130.5 150.8h0M96.2 115.1h0M46.3 97.7h0M187.4 301.3h0M83.7 129.4h0M225 227.9h0M303.8 264.6h0M55.4 241.2h0M253.9 307.5h0M264.8 228.3h0M254.1 306.2h0M165.5 192.2h0M284.1 261h0M319.7 319.9h0M154.4 298.2h0M181 300h0M116.1 147.4h0M273.3 316.8h0M150.3 179.6h0M88.9 262h0M132.8 290.1h0M73.9 252.2h0M334.9 242.5h0M131.9 153.1h0M150.1 181.3h0M341.5 284.7h0M222.5 221.3h0M270.4 254h0M339.5 287.2h0M238.2 238h0M347.8 288.4h0M158.1 296.9h0M150 149.5h0M330.8 259.9h0M233.9 232.1h0M258.2 316.1h0M152.4 172.4h0M231.7 234.1h0M96.9 140.4h0M265.2 246.9h0M220.5 226.5h0M239.9 305.4h0M213 223.2h0M356 329h0M251.8 241.8h0M357.8 287.7h0M349.4 320h0M334.4 320.3h0M56.2 101.4h0M122.5 157.4h0M111.4 273.6h0M347.5 320.1h0M64.4 106.8h0M320.7 334h0M286.4 260.2h0M91.8 124h0M238.7 237.5h0M49.9 98.3h0M316.4 271.9h0M190.8 301.3h0M231.1 229.4h0M114.7 272.7h0M48 81h0M76.7 259.4h0M281.7 313.1h0M174.3 305.9h0M284.6 316.6h0M309.5 256.6h0M308.1 265.9h0M271.7 255h0M299.7 265.6h0M289 315.2h0M169.8 192h0M168 182h0M194.9 301.5h0M141.2 168.6h0M179.1 302.3h0M118.6 154.3h0M314.4 319.5h0M350.7 325.1h0M207.8 307.5h0M237.7 231h0M312.8 249.2h0M162.2 177.4h0M181.7 195.6h0M72.1 112.6h0M213.7 219.1h0M48.1 246.6h0M69.1 116.3h0M250.9 237.7h0M318.3 271h0M275.9 245.8h0M339.6 333.9h0M144.2 171.8h0M61.4 110.5h0M231.8 303.1h0M150.6 181.2h0M151.7 184.6h0M241.4 229.1h0M156.9 299.8h0M289.7 259.6h0M66.2 109.4h0M307.3 326h0M133 157.6h0M328.8 321.3h0M149.2 292.7h0M311.3 274.4h0M167.3 184.1h0M163.2 296.4h0M169 195.5h0M317.8 337.1h0M221.2 228.2h0M119.6 272.5h0M345.4 292.8h0M293.5 321.5h0M218.8 302.4h0M152.6 185.5h0M242.7 239.4h0M320 275.5h0M106.3 267.1h0M64.1 246.1h0M281.7 325.6h0M153.8 296h0M305.3 272.1h0M246.9 307.3h0M221.1 227.8h0M240.4 306.4h0M46.5 92.8h0M235.3 236.3h0M327.3 278.5h0M292.2 256.1h0M310.3 270.6h0M337.7 279.4h0M201.4 207h0M227.9 304.2h0M285.2 261.1h0M94.1 278.3h0M322.3 338.7h0M353.7 284.9h0M68.8 117.7h0M242.7 308.4h0M335.3 276.5h0M247 239.9h0M272 245.1h0M203.6 305.9h0M226.5 314.3h0M249.7 311.7h0M321.4 264.5h0M157.3 178.8h0M334 331.6h0M249.6 335.6h0M92.6 135.4h0M194.2 313.4h0M244.6 237.4h0M263.6 309h0M319.7 328h0M250.5 313.7h0M183.2 304.2h0M353.5 282.9h0M267.2 253h0M326.1 277.7h0M217.5 302.6h0M149.8 292.3h0M280.4 249.3h0M199.1 303.7h0M164.7 192.3h0M244.5 238.4h0M203.3 301.9h0M92.8 269.9h0M163.7 190.2h0M103.3 144.6h0M166.5 317.9h0M127.1 164.4h0M100.1 269.3h0M97.1 138.2h0M197.9 311.6h0M304.6 259.6h0M357.9 323.3h0M313.8 270.6h0M195.3 204.9h0M341.9 286.4h0M308 266.9h0M332 280.7h0M299 266.3h0M76.6 258.3h0M84.6 125.2h0M220.4 307.2h0M53.4 241.9h0M269 319.6h0M131.7 164.8h0M190.4 209.7h0M111 152.3h0M224 220.3h0M109.9 145.6h0M343.6 331.8h0M211.8 222.7h0M201.2 216.1h0M178.8 197h0M361.8 294.6h0M142.3 172.8h0M330.2 319.6h0M137.3 287.8h0M235.7 226h0M196.3 189.7h0M129.2 282.9h0M262.2 248h0M263.7 251.7h0M86.3 259.7h0M198.3 203.8h0M138 283.7h0M305.9 238.1h0M268.1 254h0M195.6 302.8h0M43.2 207.2h0M118.2 274.6h0M323.5 318.4h0M243.2 309.7h0M292.3 320.4h0M319.6 319.9h0M224.7 308.5h0M324.9 280.1h0M154.9 186h0M71.5 252.6h0M102.5 265h0M262.2 316.1h0M192.1 201h0M94.4 267.3h0M167.5 163.6h0M79 255.2h0M125.3 154.6h0M244.6 235h0M304.3 267.4h0M156.2 305.1h0M304.8 251.4h0M284.7 240.5h0M66 102.9h0M254 318.8h0M249.7 239.6h0M344.7 290h0M47.3 81.1h0M141.8 149.2h0M120.2 273h0M314 322.6h0M330.2 282.3h0M287.9 331.5h0M191.9 300.3h0M348.7 283.8h0M337.9 324h0M286.7 254.4h0M99.4 129.7h0M215.8 301.3h0M97.9 268.1h0M88.3 265.8h0M122.7 153.8h0M359.4 298.1h0M248.9 312.2h0M178.4 301.5h0M310.7 338.8h0M212.6 212.8h0M53.1 241.5h0M322.6 255h0M180.6 195.8h0M360 322.3h0M202.2 208.8h0M104.2 143h0M62.1 104.7h0M305.7 262.5h0M139.4 172.3h0M180 196.5h0M327.6 275h0M218.9 226.8h0M49.6 80.7h0M53.1 102.5h0M43.9 86.1h0M52.2 90h0M251 223.3h0M218.8 225.2h0M309.2 270.9h0M281.6 257.2h0M104.8 144.3h0M245.2 305.4h0M169.3 177.8h0M171.9 185.7h0M237.3 223.6h0M59.4 102.4h0M317.7 324.6h0M187.6 205.3h0M310.9 261.1h0M171.6 192.4h0M335 324h0M107.1 269.2h0M152.9 184.2h0M54.5 100.3h0M326 323.1h0M348.7 287.7h0M353.6 295.6h0M90.5 130.9h0M240.7 307h0M345.9 292.6h0M250.9 311.6h0M147.7 159.7h0M145.3 291.7h0M119.1 151.9h0M245.7 239.9h0M176.5 302.7h0M66.1 246.1h0M329.8 277.9h0M284.9 262.3h0M208.5 304.5h0M70.1 254.1h0M146.2 287.8h0M267.6 252.1h0M111.6 141.9h0M149.7 293.7h0M195.6 305h0M285.2 326h0M53.6 240.8h0M276.4 257.2h0M159.7 181.1h0M234.7 321.9h0M63.2 112h0M136.6 159.8h0M275.9 244.5h0M171.2 192.8h0M325.8 322.4h0M165.1 191.4h0M208.9 194.5h0M113.9 137h0M69.6 117h0M99.5 143.1h0M166.6 313.8h0M252.9 242.6h0M124 148.4h0M149.4 292.7h0M46.9 92.6h0M263.7 248.9h0M103.5 265.4h0M303.6 261.7h0M168.5 303.9h0M255.8 328.9h0M211.8 220.6h0M93 137.4h0M249.7 312.7h0M121.4 132.5h0M253.8 246.8h0M307.7 321.7h0M302.8 318.7h0M178.3 299.6h0M197.4 302.1h0M230 312.6h0M308.4 326.3h0M71.6 100.6h0M230.4 229.4h0M184.9 206.1h0M206.9 219.6h0M307.8 273.6h0M356 320.4h0M323.7 319.6h0M289.2 249.7h0M161.5 166.9h0M174.8 301.6h0M321.7 332.7h0M223.5 305.7h0M362 300.5h0M216.6 302.8h0M290.5 323.5h0M229.1 224.8h0M191.3 205h0M119.2 153.4h0M111.7 155h0M109 152.8h0M52 94h0M249.4 308.5h0M231.5 231.6h0M61.3 250.3h0M269.6 318.2h0M349 319.8h0M163.9 186.5h0M289 318.3h0M261.9 308.1h0M84.9 130.8h0M300.7 318.9h0M63.1 111.2h0M236.6 307.5h0M225.1 302.8h0M354.8 294.2h0M231.7 234.6h0M136.9 282.7h0M59.8 241.6h0M108.5 99.3h0M227.4 219.6h0M233.5 304.7h0M133.9 168.8h0M254.3 246.9h0M200 202.9h0M273.4 312h0M193.2 200.2h0M42.9 225.6h0M305.2 323.4h0M188.1 202.1h0M159.7 190h0M66.2 84.5h0M239.8 311.9h0M289.2 256.7h0M52.5 103.2h0M182.5 203.8h0M75.6 253.9h0M116.4 274.4h0M146.6 160.1h0M97.5 138.2h0M265.6 309.2h0M181.5 192.5h0M266 240.1h0M201.5 215.4h0M82.7 257.1h0M114.7 279.8h0M203.6 213.7h0M110.6 147.7h0M323.9 272.4h0M85.4 126.1h0M300.1 261.4h0M334.3 283h0M139.5 288.9h0M253.4 312.1h0M200.4 301h0M59.7 86h0M181.7 303h0M209.8 317.1h0M203.3 189.8h0M172.1 302.9h0M232.6 225.1h0M242.2 316.7h0M252.6 233.3h0M109 142h0M168.4 195.2h0M105.5 145.2h0M347.8 290.9h0M150.7 169.8h0M43.6 213.3h0M87.9 131.9h0M83 130.5h0M62.8 109.5h0M65.8 249.4h0M311.9 266.6h0M85.8 260.3h0M118.9 283h0M307.9 274h0M49.7 74.5h0M90 130.5h0M221.4 303.7h0M155.3 295.3h0M144.3 177.8h0M153.3 291.7h0M108.4 268.6h0M204.4 301.5h0M97.1 130.8h0M238.3 306.5h0M202.1 184.4h0M266.2 310h0M301.6 318.4h0M85.7 263.9h0M284.8 323h0M93.7 128.2h0M244.2 312.7h0M142.5 289.8h0M349.3 323.3h0M187.6 304.2h0M185.2 205.3h0M215.8 218.4h0M278.2 257.1h0M294.2 263.9h0M331.1 281.4h0M98.9 280.8h0M331.9 278.1h0M236.3 313.3h0M319.7 318.5h0M271.1 249.4h0M284 320.4h0M242.2 304.5h0M272.1 249.1h0M124.7 147.7h0M146.7 292.9h0M331.5 324.3h0M219.5 301.4h0M78.3 105.7h0M350.9 292.7h0M193.1 209.6h0M101.5 265.5h0M234.5 304.9h0M179.6 202.5h0M181.3 301h0M336.5 225.8h0M199.9 205.1h0M247.7 234.6h0M125.3 282h0M236.1 232.9h0M131.1 162h0M321.3 242.8h0M227.8 223.4h0M50.8 56.5h0M317.2 276.7h0M65.4 113h0M314.1 257.8h0M341 321.2h0M286.9 315.3h0M292.4 316.5h0M177 195.8h0M116.1 158.6h0M252.4 242.8h0M246.2 308.2h0M353 294.5h0M294.7 266.8h0M294.9 248.5h0M147.4 290.2h0M215 207h0M159.5 164.9h0M295.3 263.2h0M175.3 185.9h0M284.1 314.8h0M160.2 295.3h0M285.2 263.9h0M152.9 293.6h0M144.8 175.8h0M73.5 113.3h0M297.3 242.5h0M202.8 211.3h0M327 278.7h0M137.2 165.3h0M183.8 299.9h0M184 202h0M314.6 320.5h0M244.3 241.5h0M51 244.2h0M305.9 319h0M65.4 245.9h0M299 253.7h0M98.8 123.2h0M79.4 122.9h0M342.5 281.5h0M94.8 136.8h0M101.1 268h0M275 311.9h0M339.3 322.5h0M53.7 103.4h0M97.5 135.5h0M73.6 254.2h0M124 155.9h0M300.2 323.5h0M217.1 221.4h0M358.9 283.3h0M247.9 309.2h0M171 305.5h0M208.1 215.3h0M124 157.4h0M167.4 298.7h0M319.3 272.1h0M156.6 188.3h0M225 302.3h0M104.8 271.8h0M262.3 248.9h0M201.2 197.9h0M45.1 90.1h0M69.7 105.9h0M176.9 301h0M349.4 285.9h0M109.1 149.9h0M44.1 226.4h0M298.3 258.8h0M253.7 246.3h0M263.5 248h0M336.5 320.1h0M282.4 259.1h0M44.4 225.1h0M202.6 215.1h0M283.8 253.5h0M231.5 304.2h0M80.1 257.9h0M294.1 267.2h0M334.4 342.5h0M360.3 300.4h0M118.8 145.8h0M264.5 241.7h0M162.1 306.7h0M78.7 125.9h0M320.7 326.4h0M287.9 260.8h0M360.6 285h0M198.2 319.4h0M313.3 320.7h0M85.5 271.9h0M177.3 192.2h0M349.5 279.1h0M296.6 326.8h0M228.2 308h0M321.9 318.5h0M240.3 307h0M49.9 92.5h0M124.7 273.1h0M137.6 282.4h0M101 144.3h0M277.7 313.5h0M316.5 321.2h0M170.1 299.3h0M261.4 312.7h0M122.8 155.4h0M196.6 213.8h0M309.7 264.1h0M134.4 171.6h0M224.2 228.8h0M213.9 220.6h0M122.7 150.3h0M351.6 292.5h0M102.2 266.1h0M94.8 134.5h0M60.8 111h0M128.5 285.5h0M137.1 283.8h0M230.3 303.5h0M101.6 266.4h0M280.7 257.7h0M345.3 319.3h0M134.1 144h0M246.8 238.2h0M82.4 123.3h0M172.7 182.2h0M291.4 322.4h0M338.9 322h0M275.2 257.8h0M43.4 94h0M161.2 295.1h0M261.1 250.6h0M200.3 301.3h0M269.9 311.3h0M337.4 284.6h0M259.7 244.9h0M251.9 245.3h0M287.3 315.9h0M157 182.3h0M316.5 327.2h0M247.1 240.6h0M72.5 252h0M53.2 82.5h0M246.3 242.5h0M282.1 260.5h0M252.4 307.1h0M343.1 241.8h0M122.5 276.3h0M94.3 139.7h0M326.9 318.6h0M184.2 198.6h0M231.6 304.4h0M46.3 262.1h0M330.7 320.6h0M286.2 314.4h0M188.2 196.3h0M125.4 157.4h0M227.5 303.1h0M267.1 253h0M341 281.6h0M130.3 151.8h0M74.1 272.9h0M117.1 155.3h0M76.1 252.8h0M96.8 75.4h0M234.8 236.4h0M178.9 185.8h0M294.9 268.4h0M126.3 163.6h0M113.8 271.5h0M331.7 322.6h0M194.3 177.6h0M177.2 200.6h0M330.2 325.4h0M292.8 250.6h0M108.6 142.1h0M282.4 254.9h0M217.3 218.4h0M318.9 276.7h0M208.5 209.9h0M92.3 266.3h0M293.3 323.2h0M134.5 281.5h0M239.9 221h0M276.2 233.2h0M334.5 284.6h0M146.2 178.3h0M77 255.7h0M317 275.1h0M349.8 351h0M353.2 325.2h0M351.6 290.4h0M225.2 307.6h0M106.6 270.3h0M248.4 203.3h0M51.4 245.1h0M192.6 304h0M342.4 318.9h0M179.9 189.3h0M145.1 152.7h0M221.5 226.1h0M45.7 95.6h0M281.2 315.8h0M62.9 72.2h0M325.2 326.1h0M204.9 214.8h0M198.6 209.9h0M345.2 286h0M197.7 193.1h0M250.3 321.7h0M285.2 325.2h0M175.4 300.6h0M321.8 322.2h0M250 307.8h0M227 306.8h0M68.6 117.7h0M160 178.6h0M97.7 143.1h0M54.8 240.1h0M162.1 306.1h0M131.8 151.8h0M251.3 312.9h0M284.8 320.7h0M241.6 237.6h0M274.7 312.1h0M103 140.2h0M324.7 253.1h0M197.3 207.4h0M156.1 166.9h0M52.6 95.8h0M155.8 177.6h0M190.2 202.4h0M61.3 97.9h0M123.2 161.8h0M49.7 98.9h0M276.5 258h0M242.9 306.5h0M91.1 267.7h0M194.8 209h0M239.9 231.5h0M319.2 272.3h0M174.5 192.9h0M69.3 263.4h0M336.8 320.4h0M235.4 307h0M265.5 309h0M58.3 255.2h0M272.9 241.9h0M334.8 325.7h0M58.1 104.6h0M189.2 194h0M360.5 285.4h0M143.2 286.2h0M154.6 180.7h0M141.6 284.2h0M329.5 282.7h0M262.8 308.8h0M234.2 227.1h0M178 201.7h0M71.5 249.6h0M310.1 264.3h0M174.9 198h0M135.3 157.6h0M47.9 244.1h0M122.8 146.8h0M180.8 196.9h0M339.4 323.6h0M218.4 303.8h0M55.2 104.8h0M133.9 164.3h0M57 107.4h0M316.1 325.6h0M49.1 86.5h0M194.8 302.8h0M337.5 280.5h0M224.4 227.2h0M348.9 330.7h0M274.8 254.6h0M76.2 261.5h0M125.3 278.8h0M72.3 119.6h0M287.8 320.7h0M182.4 302.8h0M89.3 275.9h0M327.3 321.9h0M197.3 304.9h0M336.6 330.3h0M238.8 238h0M121.3 141.5h0M328.3 281.4h0M231.7 227.6h0M200.3 314.8h0M58.6 246.5h0M234.4 214.9h0M291.2 262.7h0M123.1 161.5h0M257.3 246.2h0M147.6 288.3h0M321 322.2h0M95.2 273.7h0M241.3 231h0M168.1 194.7h0M150.5 171.4h0M219.3 314.7h0M229.5 304.2h0M76.1 265h0M111.8 270.8h0M229.5 317.1h0M303.1 325h0M308.7 319.7h0M227.3 230h0M342.5 286.7h0M108.2 147.4h0M72.8 251.2h0M90.3 131.1h0M172.1 315.8h0M315 276.3h0M262.2 243.9h0M90.4 263h0M343.2 323.9h0M78.2 121.5h0M270.4 234.5h0M220.8 226.2h0M63.5 256.4h0M310.7 329.1h0M201.1 207.9h0M341.2 261.4h0M271.8 256.4h0M90.6 263.8h0M299.9 318.8h0M150.7 184.1h0M149.7 293.1h0M216 215.8h0M222.2 228.2h0M149 298.2h0M210.2 307.4h0M302.6 330.9h0M143.8 169.9h0M247.2 240.8h0M282.5 317h0M220.6 223.5h0M351.8 289.9h0M237.4 232.1h0M74.7 251.5h0M158.8 189h0M327.2 318.5h0M55.1 103.2h0M98.5 142.9h0M56.1 253.7h0M67.4 115.2h0M89 130.6h0M143.4 173h0M56.3 101.7h0M268.7 312.6h0M48.1 235h0M128.9 161.7h0M127.3 275.7h0M286.1 264h0M146.1 298.2h0M336 264.4h0M164.6 192.4h0M244.4 221.7h0M145.7 291h0M164.1 297.3h0M199.4 212.9h0M52.4 87.7h0M48.6 97.6h0M72.6 102h0M181.9 301.5h0M300.2 269h0M279.3 254.4h0M197.6 306.4h0M281 259.9h0M227.6 208.6h0M344.6 328.3h0M128.7 161h0M257.6 243.6h0M118.6 269.6h0M306 318.4h0M311.5 265.8h0M62.8 104.6h0M347 320h0M58.2 242.5h0M188.2 307.2h0M104.1 113.6h0M148.4 178.1h0M51.2 241.7h0M358.3 292.5h0M137.9 160.3h0M126 280h0M333.2 282.9h0M256.8 221.7h0M174.1 300.2h0M135.4 164.8h0M122.6 162.8h0M157.3 184.3h0M190.2 208h0M116.8 130.5h0M344.9 321h0M145.4 161.7h0M272.7 311.4h0M50.2 100.5h0M194.1 167.5h0M186.4 308.3h0M259.9 240.2h0M313.1 276.5h0M272.4 243.5h0M178 306.1h0M145.7 180.8h0M69 106.7h0M360.2 323.4h0M228.2 232.1h0M230.5 232.3h0M327 273.1h0M145.7 175.7h0M226.6 307.6h0M89.6 129.6h0M72.6 121.7h0M60.3 246.1h0M174.7 310.3h0M49.4 245.4h0M240.7 315.4h0M235.8 306.2h0M101.6 272.8h0M348.8 324.6h0M304.5 323.3h0M268.8 251.2h0M228.2 229.5h0M58.1 63.7h0M60.6 100.3h0M222.4 221.7h0M246.5 229.5h0M102.1 130.7h0M184.3 195.4h0M110.6 153.5h0M264 310.7h0M69.4 249.4h0M317.3 318.5h0M63.4 113.4h0M46.7 234.5h0M283.4 321h0M146.4 179.5h0M52.8 102.1h0M243.4 239.3h0M133.5 165.8h0M301.5 260.8h0M54.7 102.2h0M155.8 292.9h0M182.9 202.6h0M92.8 131.3h0M315.1 320.9h0M60.3 98.4h0M158.1 188.1h0M320 321.8h0M196.3 207.9h0M324.6 325.3h0M151.6 175.2h0M197.9 213.2h0M144.4 171h0M95 264.2h0M238.2 312h0M300.6 318.4h0M161.8 162.8h0M139 156.3h0M251.1 309.4h0M312.3 320.4h0M170.3 298.1h0M252.2 241h0M72 249.4h0M98.4 264h0M339.9 286.3h0M90.5 262.8h0M257 247.2h0M86.5 133.4h0M359 271.4h0M126.1 164.1h0M249 244.3h0M89.2 135.5h0M71.5 112.3h0M118.8 276.5h0M276.6 331.7h0M149.1 157.9h0M297.9 329.9h0M202.5 211.9h0M278.6 259.4h0M322.2 253.8h0M297.4 230.8h0M92.3 138h0M96.4 141.8h0M269.7 250.6h0M176.5 184.7h0M97.4 264.2h0M275.9 257.3h0M294.5 253.5h0M154.6 187.3h0M323.2 263.7h0M115.5 150.8h0M258.1 243.6h0M170.7 304.9h0M144.9 309.8h0M224.6 313.9h0M278.1 312.1h0M199.1 306.2h0M277 258.5h0M84.4 121.9h0M266.8 228.6h0M282 317.9h0M224.6 225.7h0M253.3 314.5h0M101.4 280.1h0M100.1 277.9h0M291.5 247.2h0M333.5 263.9h0M306.9 271.7h0M172.5 305.5h0M201.3 213.3h0M68.6 116.9h0M80.4 122.1h0M351 283.1h0M66.3 248.5h0M120.6 273.2h0M104.6 280.2h0M66.5 250.2h0M309.4 262.3h0M335.1 273.8h0M167 298.5h0M296.8 259.7h0M227.5 232.2h0M193.1 306.6h0M336 321.5h0M328.2 322.7h0M245 234.8h0M188.3 302.2h0M167.3 173.9h0M176.1 299.3h0M311.5 342.8h0M145.3 172.9h0M135.8 289.7h0M231.9 223h0M332.6 325.6h0M184 196.2h0M146.3 181.1h0M191.1 203.9h0M195.2 301.5h0M274.3 257.5h0M63.1 111.9h0M257 239.6h0M81.3 120h0M48.4 96.1h0M326.9 262.1h0M360.6 299.6h0M106.5 149.7h0M95.7 141.1h0M80.2 123.8h0M239.5 231.2h0M210.7 301.2h0M122.3 272.7h0M294.3 323.8h0M195.2 207.7h0M79 124.8h0M235.7 235h0M56.4 104.3h0M44 72h0M256.1 231.7h0M68.5 98.2h0M123.3 156.7h0M260.8 232.1h0M44.3 225.2h0M257.9 237.2h0M274.3 243.6h0M306.2 318.1h0M119.8 145.8h0M314 269.5h0M356.5 285h0M330.5 326.6h0M43.4 94.9h0M43.2 211.6h0M301.8 268.1h0M258 231.2h0M175 298.9h0M161.3 189.8h0M340.3 351.3h0M332.4 267.8h0M273.2 256.5h0M73.4 250.9h0M144.2 179.2h0M127.9 142.3h0M342.1 289.3h0M340.3 287.5h0M303.4 257.6h0M303.8 264.6h0M150.5 293.6h0M183.1 311.9h0M307.2 319.1h0M149.4 293.4h0M61.3 244.6h0M182.2 329.3h0M221.8 226.4h0M76 124.9h0M64.4 105.3h0M208.9 301.5h0M334.4 331.9h0M235.5 225.7h0M315.2 277.3h0M77.2 115h0M42.9 207.8h0M231.3 231.7h0M58.8 240.9h0M200.5 215h0M306.7 270.2h0M281.9 258.9h0M212.6 217.4h0M238.4 227.1h0M129.9 153.2h0M139.5 285.3h0M250.8 319h0M53.1 66.4h0M141.1 166.2h0M242 312.9h0M227.1 219h0M205.2 214.7h0M169 184.4h0M288.1 229.9h0M60.4 258.6h0M201.6 211.9h0M171.6 330.2h0M171.4 298.8h0M293.6 244.9h0M133.9 162.6h0M307 268.6h0M355.9 295.3h0M126.7 151.5h0M150.6 178.9h0M260.6 310.9h0M344.4 290.9h0M213.3 217.3h0M221.5 226.5h0M150.6 301.9h0M53.1 60.6h0M254.8 240.2h0M84.3 126.9h0M69.9 119.7h0M236.5 306.6h0M275.7 314.2h0M80.8 120.1h0M311.4 241.9h0M48.7 241.3h0M361 332.4h0M337.6 320.2h0M190.2 208.6h0M340.2 289h0M126.4 164.5h0M351.9 295.5h0M88.4 261.6h0M316.4 275.6h0M70.6 254.3h0M128.4 167.1h0M101.4 146.6h0M68 249.5h0M353 287.4h0M94.2 138h0M127.8 274.9h0M291.1 256h0M297.6 253.5h0M293.1 260.2h0M289.4 251.5h0M290.4 254.1h0M181.2 160.3h0M180.8 160.5h0M180.4 156.4h0M178.9 155.9h0M182.1 155.9h0M186.3 199.1h0M288 240.5h0M291 238.7h0M293.3 245.9h0M266.6 238.9h0M265.3 186.2h0M156.7 153h0M156.6 157.1h0M156.8 155.2h0M156.5 151.4h0M161.2 171.6h0M158.7 173.4h0M113.1 146.5h0M112.5 149.4h0M109.9 142h0M107 148.5h0M261.7 230.3h0M258.9 239.6h0M261.5 237.1h0M175 156.8h0M175.4 154.3h0M181.4 201.7h0M263.4 244.5h0M309.4 249.8h0M111.2 144.9h0M255.1 230.2h0M252.7 220.4h0M253.9 225h0M257.1 228.2h0M165 160.3h0M348.8 278.3h0M346.1 283.9h0M346.3 278h0M345.6 280.6h0M345.4 277h0M104.5 134.1h0M103.8 142.6h0M105.1 138.1h0M107.3 143.1h0M105.1 141.7h0M187.9 156.7h0M156.5 173.8h0M161.7 166.9h0M161.1 174.5h0M303.3 249.3h0M305.8 253.3h0M305.7 254.6h0M305.9 252.2h0M212.5 207.8h0M252.8 237.9h0M340.4 284.6h0M335.7 275.5h0M337.2 288.6h0M119.5 159.8h0M234.8 228.2h0M282.7 257h0M285.6 250.3h0M285.4 256.3h0M194 205.8h0M195.2 202.7h0M194.9 204.1h0M195.8 201.8h0M337.9 282.5h0M336.8 283.1h0M335.2 282.7h0M337.9 286.4h0M331.6 288.3h0M251.3 229.4h0M257.1 237.5h0M256 234.1h0M103.9 151.9h0M105.1 145.3h0M106.6 143h0M108.4 146.1h0M103.7 146.8h0M252 240.2h0M132.3 148.8h0M135.1 159.5h0M134.3 154.6h0M130.1 148.8h0M129.6 147.6h0M265.3 157.2h0M266.6 158.7h0M265.9 164.3h0M267.5 157.1h0M265.5 160.2h0M203 168.5h0M356.4 288.2h0M357.8 297.2h0M144.1 168.8h0M146.9 168.4h0M149.6 174.1h0M147.8 174.7h0M147.6 171.5h0M136.6 161.4h0M139.5 167h0M193.9 178.3h0M122.3 143.8h0M121.2 149.2h0M121.9 150.2h0M122.4 142h0M358.3 289h0M360 281.8h0M356.9 284.2h0M354.9 289.7h0M312.7 249.6h0M311.4 245.2h0M310.7 249.3h0M140.4 170.4h0M144.7 172.7h0M142.3 169.6h0M138.3 170.8h0M310 232.7h0M308.4 230.1h0M310.5 237.6h0M317.5 229.2h0M141 163.6h0M138.1 170.6h0M138.9 171.5h0M137.6 171h0M250 233h0M252.2 243.5h0M252.2 231.1h0M174.7 198.1h0M314.3 234.4h0M318.5 236h0M315.8 240.2h0M314 232.1h0M311.8 228.4h0M249.6 208.8h0M251.8 211.4h0M127.6 165.6h0M127.4 161.5h0M124.7 167.1h0M126.5 165.2h0M127.4 163.5h0M128.2 147.8h0M112 151.1h0M112.1 152.4h0M323.7 263.1h0M325.7 266.9h0M325 263.9h0M312 255.7h0M189.2 205.6h0M195.8 198.5h0M189.4 204.1h0M189.7 209.4h0M185.6 211.9h0M349.4 283.5h0M347.8 287.5h0M344.8 277.6h0M346.1 284.1h0M350.4 276.8h0M314.9 265h0M313.8 265h0M314.6 262.1h0M314.9 266.3h0M314.8 260.1h0M287.1 230.9h0M283.2 230.4h0M287.7 233h0M244.8 229.3h0M246.1 235.3h0M246.5 236.6h0M261.7 243.9h0M266.6 245.8h0M251.5 220.9h0M250.5 225.2h0M248.5 224.1h0M250.3 220.6h0M249.4 230.3h0M250 230.2h0M292.9 219.7h0M293.4 219.1h0M291.9 209.8h0M293.2 221.5h0M293.9 215.1h0M321.3 211.7h0M277 212.8h0M215.9 207.5h0M218.2 192.9h0M215.1 202.7h0M216.1 200.3h0M208 207.7h0M208.8 207.2h0M206.7 209.6h0M204.5 207.1h0M326.7 274.1h0M325.1 274.7h0M326 275.2h0M321.8 276.7h0M328.6 275.1h0M236.8 223.8h0M239 223.9h0M237.8 229.3h0M237.3 219.3h0M236.8 227.4h0M152.9 173.2h0M156.3 177.7h0M153.9 181.8h0M161.8 174.3h0M150.2 173.6h0M281.6 248.4h0M236.5 205.7h0M241 196.3h0M290.7 239.9h0M197.6 188.5h0M195.3 178.2h0M274.4 253.4h0M278.6 247.4h0M277.2 254.7h0M271.5 251.9h0M215.5 212.8h0M123.4 163.8h0M120.9 157.3h0M122.3 160.2h0M118 164.3h0M251.7 224.7h0M251 225.5h0M249.2 221.9h0M253.5 224h0M104.4 133.7h0M98.6 140.6h0M104.5 144.5h0M237.5 173.3h0M238.9 175.2h0M236 180.7h0M239.9 169.3h0M235.5 168.9h0M101.7 143.4h0M298.9 262.4h0M357.3 293h0M352.4 287.5h0M351.4 290.8h0M350.9 284.8h0M212.3 207.2h0M217.5 200.3h0M217 203.2h0M217.7 201.8h0M214.5 210.1h0M273.9 250.5h0M272.5 252.6h0M115.5 138.9h0M116.6 143.5h0M115.8 135.8h0M115.2 142.3h0M150 179.4h0M152.6 177.1h0M316.8 272.6h0M237.2 200.2h0M236 207.6h0M243.5 208.9h0M238.9 125.2h0M136.2 163h0M283.6 250.1h0M322.3 226.8h0M359.6 266.7h0M245.5 235.2h0M247.4 230.3h0M250.3 229.4h0M249.8 238.6h0M143.4 163.8h0M144.3 162.8h0M139 164.4h0M142.4 166.5h0M147.2 163.9h0M279.8 250.8h0M358.7 258.9h0M359.9 253.2h0M286.1 266.2h0M286.6 233.1h0M289.8 231.6h0M287.8 241.4h0M288.3 230.6h0M120.9 161h0M314 270.8h0M238.9 224.8h0M251.8 187.6h0M247.3 189.2h0M247.9 190h0M252 186.6h0M278.6 247.4h0M276.5 240.4h0M140.5 170.1h0M142.9 176h0M139.8 170.6h0M141 173h0M143.6 169h0M143 168h0M143 169.9h0M224.2 215.4h0M104.1 143.4h0M107.4 136.3h0M240.2 236.4h0M135.2 170.8h0M265.4 249h0M263.3 250.6h0M263.4 241h0M101.4 119.1h0M99.7 116.8h0M101.6 119.8h0M96.8 112.3h0M271.3 226.7h0M270.5 230.8h0M267.7 230.9h0M346.3 276.7h0M344.9 288.2h0M347.6 239.6h0M193.6 212.4h0M192.6 214.8h0M195.8 212h0M196.6 211.8h0M190.1 206.1h0M345.6 287.4h0M348.3 280.5h0M346.2 284.7h0M182.5 193.4h0M181.9 194.1h0M184.7 197.5h0M188.5 199.9h0M183.8 194.7h0M285.9 243.2h0M282.9 240.1h0M288.5 248.3h0M284.2 240h0M287.4 241.8h0M281.2 254.5h0M275.6 255.1h0M278.5 246.8h0M277.5 256.2h0M188.1 173.1h0M110.3 133.9h0M110.4 140.3h0M111.5 142.4h0M113 139.1h0M243.4 208.1h0M140.5 165.7h0M155.6 175.4h0M156.4 184.8h0M96.7 140.5h0M96.3 142.1h0M98.3 138.6h0M95.7 138.2h0M120.6 150.6h0M228 215.4h0M223.1 211.8h0M222.5 213.8h0M223.4 217.1h0M220.9 209.6h0M176.1 168.5h0M176 172.9h0M180.6 172.4h0M178.3 170.3h0M178.8 177.3h0M131.3 153.9h0M159.3 179h0M154.8 181h0M262.4 226.2h0M262.7 231.4h0M154.6 183.8h0M152.7 168.3h0M336.1 280h0M334.7 276.1h0M331.7 276.9h0M336 283.6h0M192.5 202.4h0M194.3 205.7h0M342.7 279.6h0M341.8 285.7h0M345.5 282.2h0M341.7 276.3h0M290.4 241.9h0M289.7 246.7h0M199.2 206.1h0M198.8 207h0M198.1 210.5h0M194.5 203.9h0M195.1 210.9h0M277.7 209.1h0M283.8 207.1h0M281.6 209.6h0M245.2 219.9h0M333 253.2h0M326.7 250.1h0M322.6 251.9h0M318.2 254.7h0M207.3 218.4h0M207.6 216.4h0M205.5 208.3h0M144.2 139.5h0M146.4 147.2h0M272.2 233.2h0M272.9 236.6h0M270.1 232.5h0M274.1 224.8h0M246 241.8h0M249.9 234.5h0M248.6 236.9h0M249.7 232.5h0M217.8 220.7h0M228.5 227.8h0M230.8 226.2h0M232 231.3h0M232.2 233.5h0M231.5 233.6h0M260 229.7h0M242.6 221.2h0M243.7 228.1h0M124 150h0M127.5 150.7h0M126.7 148.1h0M126.9 142.5h0M124.4 143h0M134.3 153.8h0M132 156h0M194.7 178.4h0M189.4 179.7h0M217.2 214.3h0M120.9 152.2h0M112.3 153.6h0M115.3 148.6h0M346.4 282.9h0M348.6 294.5h0M125.6 154.4h0M177.3 200.4h0M175 200h0M177.2 196.4h0M171.4 193.6h0M227.1 164.3h0M227.9 168.1h0M228 162.1h0M352.4 253.1h0M356.3 246.3h0M356.9 250.6h0M354.1 242.7h0M349.8 250.1h0M233.7 220.3h0M127.6 153.8h0M125.8 147.9h0M129.5 153.7h0M130 145.9h0M363 299.9h0M362.3 296.7h0M360.3 297.5h0M359.1 298.8h0M359.3 297h0M366.6 278.6h0M365 280.8h0M361.4 277.2h0M257.1 231.8h0M256.8 230.6h0M259.1 228.1h0M126.4 163.4h0M228.4 197.9h0M226.6 206.6h0M225.9 206.1h0M228.4 203.9h0M229.5 205.4h0M270.3 241.3h0M269.7 243h0M267.4 244.7h0M280.8 257.6h0M221.9 211.1h0M220.3 209.5h0M209.6 224h0M212.1 219.8h0M211.7 217h0M212.8 218.7h0M339.5 263.9h0M338.5 266.5h0M341.1 263.3h0M143.9 157h0M345.2 271.7h0M222.1 222.7h0M301.1 224.5h0M300.4 223.7h0M297.5 228.1h0M301.7 233.4h0M328.7 285h0M331.4 277.2h0M326.9 278.3h0M327.8 277.2h0M339.3 283.6h0M338.7 285.8h0M333.7 277.4h0M330.5 286.2h0M332 292.1h0M143.8 146.6h0M144.6 149.3h0M141.8 153.1h0M144.8 155.5h0M142.7 147h0M189.6 205.5h0M103.3 142.3h0M340.5 268.5h0M343.2 271.7h0M341.6 269.9h0M343.1 269.9h0M191 185.2h0M294.2 247.9h0M295.1 238.7h0M346.1 213.8h0M139.8 172.1h0M254.4 211.5h0M250.1 210.8h0M338.8 264.1h0M338.8 262.4h0M334.3 257.3h0M337.1 263.3h0M335.8 256.1h0M156.9 175.4h0M150.9 179.6h0M121.2 158.7h0M120.9 159.8h0M226.1 202.5h0M225.6 203.6h0M221.8 204.5h0M224.9 197.2h0M226.5 206.2h0M302.6 236.1h0M297.6 240.5h0M293 241.8h0M146.5 179.2h0M118.4 155.7h0M156.3 181.2h0M188.9 170.6h0M192.1 173.9h0M254.5 211.6h0M254.6 221.2h0M258.7 220.4h0M251.4 221.2h0M245.9 232.8h0M250 227.8h0M248 232.8h0M245 230.2h0M286.8 256.9h0M283.4 251.7h0M286.7 257.6h0M284.7 255.9h0M160 172h0M160 167.6h0M302.9 251.2h0M303.8 258.3h0M159.1 165.5h0M164.4 170.1h0M161.6 174.4h0M164.6 161.9h0M362.2 290.2h0M363.8 299.1h0M363.9 292.5h0M358.9 295.9h0M155.5 177.7h0M304.3 262.9h0M122.1 148.5h0M115.7 147.3h0M114.7 143.7h0M117.6 151.6h0M116.2 150.1h0M215.3 176.4h0M308.7 247.3h0M201.1 207.5h0M325.6 280.9h0M327.9 288h0M326.7 277.7h0M322 275h0M327.3 273.1h0M100.9 145.4h0M137.3 160.2h0M140.4 160.5h0M138.3 162.2h0M141.6 162.3h0M136.1 156.9h0M168.2 158.1h0M166.2 165.4h0M166.9 158.5h0M131 138.7h0M132.2 132.9h0M129.8 138.6h0M130.9 135.4h0M126.6 138.7h0M163.9 176.6h0M160.8 181h0M161.9 188.3h0M160.1 182.9h0M163 183.9h0M288 183.2h0M289.7 180.1h0M287.3 187.1h0M286.4 182.6h0M288.9 178.1h0M175.8 196.7h0M178.8 197.8h0M341.2 285.2h0M337 282.4h0M333.7 287.3h0M336.6 286.1h0M339.2 292.8h0M356.1 289h0M358 291.5h0M360.5 295.5h0M359.1 288.9h0M158.2 160.8h0M158.5 159.2h0M156.9 154.9h0M158.2 153.2h0M178.1 167.3h0M177.2 171.6h0M175.7 176.3h0M174.5 169.3h0M208 214.8h0M205.2 212.8h0M200.8 215h0M226 220h0M222 219.4h0M246.5 231.3h0M241.7 227.9h0M245.5 240.5h0M244 228h0M242.1 235.8h0M97.4 137.3h0M297.7 266.9h0M121.1 153.7h0M202.3 213.8h0M231.6 212.3h0M232.3 216.9h0M235.4 219.5h0M232.9 216.3h0M308.6 230.2h0M130.4 140.7h0M128.2 146.5h0M129 147.7h0M324.2 268.1h0M328.9 261.4h0M322.9 266.1h0M326 265.5h0M262.9 223.3h0M128.1 126h0M238.7 210.7h0M203.7 182.2h0M246.1 167.3h0M190.1 184.4h0M178.7 178.4h0M196.6 188.6h0M57.1 67.7h0M52.4 64.9h0M203.3 185.9h0M67.9 60.1h0M106.3 119.6h0M164.6 162.5h0M170 141.8h0M70.8 91h0M129.5 121.6h0M367.4 270.1h0M172.7 173.1h0M186.9 184.1h0M280.7 227h0M354.4 259.5h0M49 46h0M189 159.9h0M86.9 53.2h0M191.7 169.4h0M231.1 186.2h0M235 216.9h0M241 170.1h0M390.9 257.7h0M176 148.5h0M314.9 258.3h0M198.8 178.2h0M180.7 175.1h0M86.3 79.3h0M125.3 144.7h0M48.9 51.9h0M48.1 48.1h0M248.7 194.5h0M345.2 253.1h0M189.6 179h0M42.4 40.7h0M44.9 38.8h0M45.4 11.9h0M41.8 94.3h0M42.8 88h0M46.1 84.9h0M42.4 33.9h0M43.4 86.2h0M42.1 58h0M43.1 96.6h0M45.4 22.3h0M43.1 8.2h0M44.6 58.1h0M43.8 69.7h0M43.4 59.4h0M42.3 29.5h0M42.4 15.8h0M45.8 14.6h0M42.4 43.2h0M45 89.1h0M44.4 68h0M41.5 45.5h0M45.6 58.7h0M43.2 81.3h0M45.3 62.5h0M44.4 8.7h0M42.4 50.5h0M43.6 81.7h0M41 23.1h0M43 39.9h0M41.8 51.2h0M42.5 .7h0M42.6 93h0M45.6 37h0M41.1 19.8h0M43.8 96.5h0M41.2 27.1h0M42.6 6.9h0M41.3 31h0M43.7 25.3h0M369.5 338.8h0M361.3 339.9h0M362.4 353.1h0M372.7 345.3h0M362.9 339h0M365.7 361.8h0M372.7 365.8h0M360.8 364.6h0M360.5 351.5h0M358.9 358.8h0M358.9 343.2h0M370.8 365.8h0M364.1 343.8h0M364.1 359.7h0M298.9 354.4h0M300 339.4h0M300.2 353.4h0M300.9 344.7h0M301.5 343.8h0M299.4 355.2h0"/><path stroke="#4482b8" d="M39.9 129.8V143.1M41.3 102.3V190.8M42.7 96.3V214.6M44.1 98.5V234.6M45.5 101.1V254.9M46.9 105.5V251.1M48.3 110.1V253.9M49.7 115.7V258.8M51.1 117.2V251.7M52.5 115.2V250.4M53.9 110.2V248.1M55.3 117.3V245.7M56.7 118V242.7M58.1 113.3V246.4M59.5 114.8V238.7M60.9 122.7V244.6M62.3 121.1V244.5M63.7 127.6V242.4M65.1 121.4V243.6M66.5 126.3V241M67.9 126.9V248.1M69.3 126.4V253.5M70.7 126.6V254.6M72.1 124V247.2M73.5 126.8V263.3M74.9 130V247.5M76.3 134V254.6M77.7 126.9V247.1M79.1 133.2V246.4M80.5 129.3V250.8M81.9 135.3V245.9M83.3 137.4V245.1M84.7 134.9V251.2M86.1 140.5V252.2M87.5 139.7V252M88.9 142V254.4M90.3 139.8V253.4M91.7 142.7V248M93.1 140.7V254M94.5 139.9V261.2M95.9 148.3V249.4M97.3 146.7V249.7M98.7 148V253.7M100.1 150V264.5M101.5 146.4V248.9M102.9 146.3V251.1M104.3 138.2V252.5M105.7 152.1V260.2M107.1 154.1V251.6M108.5 165.5V250.6M109.9 162.3V255.6M111.3 165.9V250.8M112.7 172.4V256.6M114.1 170.6V261.1M115.5 174.3V251.5M116.9 183.6V258.5M118.3 188V255.1M119.7 195.2V258.6M121.1 190.1V253.8M122.5 197.5V271.9M123.9 181.5V257.4M125.3 202V258.3M126.7 214.1V258.1M110.5 149V167M119.2 164.2V179.4M137.2 161.5V179.4M130.8 180.8V200.1M144 173.9V204.2M151.4 142.1V160.1M151.4 184.9V198.7M148.9 219.4V248.4M150.8 218V249.8M133.9 211.1V262.2M136.5 215.3V262.2M139.1 223.6V253.9M122.6 253.9V278.8M160.9 194.6V209.8M167.3 240.1V256.7M176.3 241.5V303.6M178.2 253.9V295.3M53.4 256.7V280.1M48.5 255.3V270.5M73.7 98V121.4M310.9 274.6V289.8M350.4 298.1V310.5M254.5 289.8V296.7M149.6 280.1V280.8M191.4 289.8V290.5M265.8 293.9V294.6M155.3 130.3V131.1M155.3 142.1V142.8M175.6 160.1V160.8M160.9 214.6V215.3M160.9 224.9V225.6M310.6 264.3V265M133.5 209.8V210.5M153.4 213.9V214.6M144 215.3V216M45.7 87.5h0M44 50.9h0M46.5 84.3h0M44.1 83.5h0M45.3 10.8h0M43.8 80.5h0M42.2 7.2h0M43.6 64.7h0M43.7 3.9h0M47 83.1h0M43.9 53.2h0M43.4 53.8h0M43.6 53.5h0M42.4 19.6h0M46.5 73.2h0M46.4 73.5h0M44.1 1.5h0M45.3 47.4h0M44.3 55.5h0M42.3 36.3h0M43.3 72.3h0M42.5 33.7h0M44.9 55.2h0M45.1 61.5h0M42.1 12.7h0M45.4 64.9h0M44.5 10.1h0M42.6 11.7h0M44.9 96h0M42.9 14.9h0M42.5 42h0M45.2 52.8h0M46.2 73.1h0M45.9 70.2h0M43.8 87.6h0M43.1 24.3h0M46.5 97.4h0M43.5 57.1h0M42.7 30.8h0M44.2 87.5h0M43.5 56.1h0M42.3 11.3h0M42.8 50.7h0M42.8 44.4h0M43.1 35.5h0M44.3 7h0M43.3 67.6h0M46.5 81h0M44 21.9h0M46.3 53.8h0M43.7 30.7h0M44.8 14.3h0M44.2 55h0M43.6 15.3h0M44.9 29.5h0M46.9 73.8h0M43.3 18.3h0M44 36.9h0M46.9 100.9h0M44 92.7h0M44.1 20.2h0M45.8 30.9h0M44.7 11.7h0M43.4 9.6h0M43 50.8h0M43.7 36.3h0M45.2 70.7h0M42.8 10.8h0M45.5 71.8h0M44.2 18.2h0M92.3 250.4h0M89 260.1h0M120.1 262.1h0M110.7 139.6h0M125.8 255.6h0M79.2 133.5h0M115.5 179h0M120.3 189.2h0M71.6 248.5h0M125.8 253.8h0M100.9 141.6h0M78.4 129.5h0M77.9 251.7h0M84.9 253.3h0M56.7 118.7h0M89.4 251.3h0M56 118.8h0M54.6 248.6h0M124.8 257h0M118.5 174.5h0M117.2 169.8h0M105.9 152.1h0M86.4 250.4h0M115.8 258.4h0M60.4 254.5h0M101.2 249.9h0M95.9 254h0M43.6 245.8h0M71.4 246h0M43.2 95.5h0M123.4 200h0M120.4 191.2h0M89.2 141.4h0M104.5 254.2h0M78.1 125.7h0M54.8 255.8h0M55.6 98h0M96.6 253.4h0M63.2 243.9h0M112.3 170.1h0M111 279.2h0M118.5 256.5h0M56.6 118.9h0M100.6 255.8h0M86 256.8h0M119.9 193.3h0M68.3 112.6h0M109.5 163.8h0M96.1 257.9h0M100.2 250.6h0M81.7 249h0M42.2 207.5h0M122.9 255.8h0M69.3 244.9h0M42.9 219.2h0M78.6 119.3h0M44.6 244.4h0M62.7 243.3h0M97 140.1h0M83.9 131.5h0M93.6 145.2h0M49.4 114.4h0M59 113.1h0M58.7 256h0M59.2 244.1h0M45.2 99.4h0M57.2 116.9h0M117.4 268.2h0M45 99.2h0M73.4 129h0M55.4 115.6h0M106.5 142.3h0M76.4 247.5h0M101.7 130.9h0M116.4 184.7h0M119.8 256.5h0M112.3 167.7h0M88.2 138.8h0M124.3 200.7h0M96.6 146.5h0M74.5 249h0M50.6 102.2h0M65.7 117.6h0M118.2 256.6h0M124.2 253.8h0M51.8 253.1h0M111.7 152.7h0M67 251.6h0M47 253.3h0M122.4 277.4h0M69.4 120.4h0M114.8 255.5h0M92.1 251.3h0M46.9 104.9h0M78.5 128.7h0M106.1 147.1h0M76 131.5h0M114.5 179.2h0M116.1 184.5h0M62.5 120h0M106.7 251.2h0M47.2 94.9h0M51.6 116.2h0M122 192.4h0M84.9 116.4h0M75.4 259.2h0M93.5 141.5h0M77.8 250.7h0M82.3 122.1h0M76 131.7h0M93.3 256.1h0M74.5 249.1h0M96.7 143.6h0M79.9 125h0M118.8 190.5h0M57.6 102h0M99.3 134.8h0M85.4 251.4h0M93.7 127h0M104.9 141.7h0M70.8 125.4h0M93.2 258.6h0M106.1 255.5h0M59.1 243.6h0M103.6 132h0M108 282.2h0M110.9 167.2h0M53.8 116.5h0M109.7 253.9h0M86.5 137.2h0M63.4 119.4h0M96.1 254.4h0M114.2 281.2h0M43.6 88.7h0M47.1 259.5h0M123.4 200.3h0M124.1 190.7h0M113.2 159.8h0M88.7 260.6h0M91 135.7h0M67.8 246.1h0M81.1 128.7h0M123.8 199.5h0M71.6 249.3h0M56.9 119.8h0M109.9 161.5h0M116.2 183.5h0M122.5 178h0M117.6 182.1h0M82.5 250.8h0M106.8 255.8h0M102 253.8h0M46.3 106.1h0M60.9 116.8h0M83.1 247.5h0M98.1 144.9h0M110.6 261h0M120.3 254.4h0M56.8 250.5h0M79 129h0"/></g></svg>
<circle cx="261.9" cy="816.7" r="3.9" fill="#000"/>
<rect x="87.8" y="595.1" width="415" height="413.7" fill="none" stroke="#707070" stroke-width="1.6"/>
<g class="mt">
<text x="127.1" y="1024.4" text-anchor="middle">0</text>
<text x="202.3" y="1024.4" text-anchor="middle">200</text>
<text x="277.4" y="1024.4" text-anchor="middle">400</text>
<text x="352.6" y="1024.4" text-anchor="middle">600</text>
<text x="427.7" y="1024.4" text-anchor="middle">800</text>
<text x="502.9" y="1024.4" text-anchor="middle">1000</text>
<text x="80" y="599.3" text-anchor="end">10</text>
<text x="80" y="668.2" text-anchor="end">5</text>
<text x="80" y="737.2" text-anchor="end">0</text>
<text x="80" y="806.2" text-anchor="end">−5</text>
<text x="80" y="875.1" text-anchor="end">−10</text>
<text x="80" y="944" text-anchor="end">−15</text>
<text x="80" y="1013" text-anchor="end">−20</text>
</g>
<path fill="none" stroke="#6a6a6a" stroke-width="1.1" d="M127.1 1008.8v3.8M202.3 1008.8v3.8M277.4 1008.8v3.8M352.6 1008.8v3.8M427.7 1008.8v3.8M502.9 1008.8v3.8M87.8 595.1h-3.8M87.8 664h-3.8M87.8 733h-3.8M87.8 802h-3.8M87.8 870.9h-3.8M87.8 939.8h-3.8M87.8 1008.8h-3.8"/>
<rect x="430.2" y="599.6" width="66.3" height="36" rx="2" fill="#fff" fill-opacity="0.8" stroke="#d8d8d8" stroke-width="0.9"/>
<rect x="432.5" y="602.6" width="25.8" height="11.3" fill="#b0c4de"/>
<rect x="432.5" y="619.1" width="25.8" height="11.3" fill="#4682b4"/>
<g class="lg"><text x="464.4" y="612.6">X-ray</text><text x="464.4" y="628.3">NMR</text></g>
<g class="zt"><text x="417.8" y="669.9" text-anchor="middle" style="font-size:31.2px">Neo-1</text><text x="401.3" y="704.5" text-anchor="middle">Z-score: -6.08</text></g>
</g>
<g>
<svg x="558.6" y="593.5" width="413.1" height="419.3" viewBox="-0.77 0 415.87 414" preserveAspectRatio="none" overflow="hidden"><g fill="none" stroke-linecap="round" stroke-width="4.1"><path stroke="#b0c4de" d="M42.1 94.4V193M43.7 96.2V215M45.3 91.7V230.2M46.9 99.1V246.5M48.5 97.5V240.2M50.1 98.5V241.4M51.7 97V236.2M53.3 96.5V263.8M54.9 98.4V247.6M56.5 107.5V244.6M58.1 113.2V241.7M59.7 109.3V242M61.3 103.6V242.2M62.9 109.6V243.7M64.5 109.4V249.6M66.1 104.1V247.8M67.7 119.1V244.9M69.3 111.1V248M70.9 127.1V247M72.5 108.4V256.4M74.1 111.7V251.9M75.7 119.4V254.3M77.3 112.8V260.6M78.9 131.1V253.5M80.5 121.3V251M82.1 124V261M83.7 125.5V261.5M85.3 128.3V257.1M86.9 128.7V264.7M88.5 135.1V268.5M90.1 137.8V262.7M91.7 136.7V265.5M93.3 130.4V263.8M94.9 141.5V264.6M96.5 139.9V265.1M98.1 143.8V275.7M99.7 144.1V268.6M101.3 123.8V268.3M102.9 145V271.6M104.5 148.6V268.6M106.1 147V276.1M107.7 148V267.8M109.3 127V270.9M110.9 157.8V271.4M112.5 152.8V272.3M114.1 153.9V282.9M115.7 162.7V289.2M117.3 158V271.5M118.9 135.8V284.4M120.5 154.6V266M122.1 155V271.9M123.7 158.6V272.8M125.3 157.9V268.3M126.9 164.4V272.6M128.5 167.5V277.7M130.1 166.7V278.4M131.7 172.6V279M133.3 156.9V282.7M134.9 159.3V294.9M136.5 175.6V285M138.1 169.1V281.7M139.7 171.5V282.2M141.3 168.9V290.3M142.9 177V292.4M144.5 172.3V291.2M146.1 174.7V288.5M147.7 180.1V288.6M149.3 182.1V291.4M150.9 181.9V295.3M152.5 185.1V290.7M154.1 186.7V297.6M155.7 184V299.6M157.3 192.9V297.7M158.9 185.9V298.1M160.5 189.9V303.9M162.1 183V296.1M163.7 187.3V297.7M165.3 186.4V296.7M166.9 193V301.5M168.5 191.8V297.1M170.1 194.4V302M171.7 192.7V304.2M173.3 192.6V305.3M174.9 198V303.8M176.5 203.9V302M178.1 196.2V304.2M179.7 199.8V304.5M181.3 202.8V297.7M182.9 208.1V305M184.5 200.4V310.4M186.1 196.4V304.1M187.7 208.2V306.2M189.3 207.8V315.6M190.9 211.4V302M192.5 211.7V302.1M194.1 208.9V294.3M195.7 209.1V304.5M197.3 211.6V296.7M198.9 211.6V304.3M200.5 211.2V301.2M202.1 211.6V304.8M203.7 213.7V304.3M205.3 224.3V308M206.9 221.3V303.6M208.5 210.8V298.7M210.1 218.4V305.5M211.7 219V306.9M213.3 223.2V303M214.9 229.6V304.4M216.5 226.1V302.5M218.1 226.8V307.7M219.7 225.3V300.8M221.3 220.7V307.6M222.9 228.8V304.4M224.5 230.7V301.4M226.1 219.9V301.1M227.7 228.7V307.4M229.3 209.6V306.8M230.9 234.4V311.4M232.5 234.7V310M234.1 234.8V307.3M235.7 233.7V308.1M237.3 231.1V313.1M238.9 237.3V308M240.5 240.6V303.7M242.1 237.6V313.9M243.7 238.3V305.8M245.3 245.4V309.3M246.9 238.6V307.5M248.5 231.3V304.7M250.1 244.7V310.3M251.7 241.1V310.3M253.3 253.4V302.7M254.9 244.4V312.3M256.5 252.1V308.3M258.1 241.2V305.2M259.7 254.2V306.4M261.3 246.4V307.2M262.9 253.9V312M264.5 250.8V310.4M266.1 254.6V313M267.7 256.5V306.5M269.3 247.7V312.9M270.9 258.8V312.6M272.5 249.1V311.7M274.1 257V317M275.7 259.1V318.5M277.3 245.5V316.1M278.9 269.5V312.8M280.5 250.6V313M282.1 266.2V313.3M283.7 260.3V312.9M285.3 266.6V319M286.9 272.3V325.4M288.5 263.8V316M290.1 262.2V319.7M291.7 260.3V320.2M293.3 268.1V320.4M294.9 265V312.1M296.5 259.2V322.9M298.1 261.1V319.5M299.7 274.8V317.6M301.3 276.6V320.7M302.9 270.2V320.3M304.5 268.6V315.2M306.1 274.6V327M307.7 268.5V318.8M309.3 275.8V314.7M310.9 271.1V315.5M312.5 267.5V325.2M314.1 270.7V322.9M315.7 264.7V323.6M317.3 270.2V323.3M318.9 270.1V321.4M320.5 286V317.6M322.1 280V328.8M323.7 279.8V318.5M325.3 243.4V324.4M326.9 279.2V319.5M328.5 280.4V347.4M330.1 269.3V320M331.7 284.8V324.4M333.3 288V319.7M334.9 291.4V321.6M336.5 289V325.3M338.1 290.8V327.1M339.7 288.2V322.7M341.3 289.3V319.4M342.9 276.6V313.5M344.5 286.5V319.8M346.1 287.3V326.9M347.7 284.3V324.3M349.3 292.5V326M350.9 295.3V323M352.5 294.5V325M354.1 294.4V322.6M355.7 296.9V328.9M357.3 298V321.3M359.5 293.7V324.8M361.1 289.7V326.9M362.7 287.8V313.4M364.3 298.6V312.5M365.9 298.6V317.2M367.5 303.5V314.9M369.1 301V311.2M370.7 306.1V309.7M405.5 306.1h0M383 279.4h0M364 288.5v1.9M374.6 322.7v5.6M399.4 298.5v.6M373.8 324.2h0M359.8 312.2v2.3M393.2 306.9v1.1M408.2 300.9v4M413 324.1h0M384.5 314.5h0M388.9 311.6v4.7M409.5 315.4v1.3M407.7 304.3h0M376 300v6.7M402.8 296.2h0M363 278.1h0M366.2 317.2h0M415.7 301.1v6.1M393.6 324.7v.6M359.7 304.6v2.1M385.6 317.4h0M386.3 283.8h0M390.5 282.2h0M382.3 308.4h0M394.9 301.2h0M359.2 314.7v.3M406.2 290.5v4.4M376.9 325.9v3.5M374.2 291.6h0M390.4 308.5h0M397.3 305.1v6.7M408.3 296.5h0M412 333.4v5.1M415.6 279.1h0M367 296.4h0M411 306.7h0M405 292.6h0M396.7 270.6v3.9M400.7 294.1h0M390.8 292.5h0M402.5 284.2v3.8M361.6 301h0M368.9 301.5v2.8M373.4 298.4v6.6M370.9 291.7v.3M412.1 294.9v3M397.8 337.5h0M401.4 291.8h0M394.4 270.6h0M384.5 294.5v.6M393.4 299.3v4.7M382.3 306.5v4.6M406.8 317.4v.3M409.3 304.8h0M383 331.2h0M405.8 303.7h0M391.6 334.3v4.1M387.6 290.6h0M395.1 303.3h0M402.8 287.9v6M375.9 282.9h0M361.5 304h0M406.3 314h0M391.5 299.1v2.7M366.7 291.3h0M387.4 313.8h0M413.9 291.3h0M379.8 296.5h0M379.2 293.3v6.6M371.7 315.1v2.6M404.6 312.4h0M408.7 292v4.4M382.7 298.1v5.6M408.4 311.4h0M394.1 312.2h0M401.6 321.6h0M412.6 313h0M376.4 301.9h0M414.9 290v3.1M390.5 318.9v4M415.7 293.1h0M414.8 314v1.6M403.6 296.4v3.9M412.7 318.2h0M415.8 293v5.7M415.5 309.6v1.5M403.5 286.6v2.1M379.9 272.1v1.8M374.4 331.1h0M411.7 296.6v5.7M408.1 297.1h0M383.2 299.9h0M380.5 301.2v1.9M364.5 291.7h0M370.4 311.5h0M373.5 277.4h0M391.6 317.3h0M363.6 321.2h0M377.1 279.9v1M358.7 296.1h0M369.1 302.9v3.8M369.5 302.9v2.5M407.6 292.3v3M381.6 312.8v2.3M415.8 307h0M385 307.3v4.2M387.8 276.4v3.5M378.4 287.2v.7M398.7 303.8h0M381.5 309.7v3.6M410.6 340.2v3.1M387 317.9h0M409.5 284.7v2M403.4 307.8v1.7M389.2 316.8v.5M374.1 291.6v2.1M412.9 297h0M373.9 287.2v3.2M363.6 305.6v6.6M389.7 285.4v1.6M373.1 305.6h0M393.1 292.4h0M411.2 317.9v4.6M363.1 307.9h0M365.9 293.2v5.1M398.2 283.1h0M407 336.1v3.2M390.5 316v3.6M361 289.9v5.3M409.1 296.9v6.1M384.5 297.1h0M387.6 279.2v4.8M416.8 282.9h0M406.1 305.4v5.9M404.7 302.3h0M370.5 323.4v6.2M363.3 300.4h0M359.8 296.9h0M361.3 312.5h0M416.8 317.8v.3M397.6 268.4v4.9M362.5 296.2h0M372.7 294.1v.8M380.1 283.2v3.6M377.2 297v.2M392.6 307.4h0M363.7 306.2v5.6M369.7 326.4v5.4M363.2 292.2v5.4M409.3 309.1v1.3M377.9 289.4h0M392.2 292.7h0M391 319.5v3.4M378.8 302.6h0M414.8 288.5h0M390.4 300.7v6.6M409 287.5h0M389 331.4h0M400.5 302.4h0M393.8 292.5h0M406.6 321.2v5.8M373.7 276.4v4.7M375.5 307v.9M384 293.5h0M384.3 303.5v4.8M376.4 276.7h0M361.4 294.5v2.2M396.9 309.3v6.3M396.4 274.5v5.6M401.9 308.2h0M383.4 298.2h0M367.4 289.4v1.8M394.5 330.4v3.4M389.7 305.8v5.6M405.3 294.6v4.8M410 343h0M386 326.7v4M397.2 288.9v6.2M398.7 301.7v3.9M362.4 301.6h0M366.6 298.6v2.3M399.3 299v3.9M379.3 301.5v2M374.1 301.7v5.8M364.9 321.6v2.9M360.4 287.4h0M404.7 286.2h0M410.5 314.3h0M371.9 284.4h0M411.7 328.2v5.8M378 314.6v3.9M394.3 336.5h0M389.3 298.1h0M382.1 334.6v.9M408.5 271.3h0M377.4 292.7v3.7M414.1 333.5h0M364.8 314.3h0M384.2 294.2v5.3M403.3 281h0M392.5 286.2v6.4M362.5 312.3h0M382.1 303.8h0M362.9 308.4v5.8M396.5 298.2v3.7M384.8 290.7v.7M408.2 299.2h0M376 273.1v1.7M408.2 301.1h0M384.3 297.7h0M412.4 341v3.6M398.7 293.6h0M375.5 317.9h0M392.4 278.7v5.5M385 299.2v6.6M387.6 292.9v6.4M406.1 289.6v4.8M377.8 325.1v2M412.9 293.2h0M407.1 307.5h0M402.2 336.7v4.9M413.3 330.6v3.2M389.6 316h0M389 299.9v.8M407.7 261v6.6M360.5 302.3h0M360.8 322.8h0M388.1 306.8h0M380 298.1h0M372.3 319.2v1M363.9 291.6h0M404.5 294.2h0M362.1 295.3v1.3M404 300.6v4.4M398 275.8h0M368.9 311.9v2.3M411.7 299.6v2.7M404.3 277.2h0M394.8 290.6h0M385.2 292v3.1M414.2 345.1h0M388.1 325.2h0M388.1 285.4v3.5M361.1 294.5h0M399.3 330.6h0M384 315.1h0M396.6 310.6h0M370.1 300.7v4M379.3 300.1h0M381.1 314.6h0M371.3 299.3v3M395.8 317.4h0M399.6 305.4v.8M409.3 315.4v3.5M377 283.5v4.8M398.3 286h0M388 312.1h0M368.4 307.3v3.9M410.4 273.7v.5M359.7 322.4v3.5M383.6 324.5v5.7M410.3 324.3h0M384.5 310.3v3.3M397.2 301.8v.4M399.4 275.8h0M411.7 299.5h0M411.2 306.2h0M359.2 307.6h0M374.8 308.6v4.1M399.1 318v5M359.2 306.3h0M364.4 315.3v5.2M373.6 298.9h0M381.6 310.3v.6M394.3 319v3.2M382.4 301.5v6.1M405 287.6v4.1M395.4 308.2v1M404.7 326.9v3.9M361.8 312.8v.1M372.6 309.8h0M402.5 279.7v4.2M399.6 299.3v1.7M409.3 311.4h0M379.9 309.5v2.8M389.6 316.8v6.8M380.1 330.7h0M381.7 326.8h0M362.7 295.1v2.4M377.2 332.4v1.6M383.8 289v2.8M389.3 283.8h0M402.6 284v1.2M402 278.6h0M366 319.4v4.8M361 306.3h0M360.3 287v4.4M359 305.8v5.1M373 282.3h0M367.8 318.5v1.9M378 323.5h0M362.7 323.1v6.6M362.9 281.3h0M384.9 303.9v6M368.2 314.2h0M364.2 299.5h0M376.8 294.5v.4M376.3 296.7h0M391.2 304.3v.2M402.9 276.1v6M364.4 291.7v.3M413.3 312.8v6.1M379.4 310.3v3.2M379.9 302.1h0M410.5 307v4.7M401 298.9v4.5M392.9 337.8v.9M390.3 319.8h0M410.4 308.5h0M380.8 323.8v5.7M397.2 306.7h0M393.4 282.5h0M397.7 294.6h0M367.2 324.6h0M363.6 296.3v1.6M373.5 313h0M398 319.6h0M411.5 298.1v4.5M400.9 308.5h0M370.6 331.7v.3M383.4 303.3v.2M381.7 319.1h0M375.1 313.7v6.2M361.9 309.5h0M365.5 307.9h0M375.7 285.4h0M370.5 312.3h0M397 323h0M407.8 291.3h0M202.5 299v16.5M242.5 303v24.7M298.3 315.9v16M247.1 303.6v10.3M133.7 276.9v24.8M203.5 299v11.5M215.1 299.4v19.7M194.6 298.7v23.3M227.1 301v21.9M139.2 280.4v23.4M272.4 309v20.9M257.5 305.1v16.3M248.7 303.8v12.1M189.2 298.5v23M359.3 317.4v19.4M298.1 315.9v24.8M357 317.4v20M359 317.4v13.3M281.3 311.4v20.4M258 305.2v20.6M253 304.4v25.6M360.1 317.4v18M340.1 317.4v14.5M323.5 316.9v11.1M244.9 303.3v15.4M271.9 308.9v12M295.5 315.2v21.1M249.1 303.9v12.3M310.2 316.4v23M273.6 309.4v24.9M152.9 289.5v9.9M224.8 300.7v22.7M164.9 160.5v5.4M383.7 287.6v11.7M309.2 310.7v10.7M401.2 351.1v4.3M129.2 276.7v3M394.7 326.7v7.7M228.5 218.8v4.7M411 316.7v10.8M114.2 137.5v6.3M154.8 111.1v14.8M335.7 258.2v6.6M386.1 312.9v12.3M209.8 206.3v7.6M95.6 263.6v11M60.3 86.9v10.5M363.7 289.6v7.2M407.4 311.7v11.4M254.8 308v9.3M305.6 249.2v13.7M178.2 189.2v7.7M371 283v9.8M100.3 123.4v7.8M407.8 334.1v5.6M97.5 117.4v3.1M286.9 321.9v4.5M337.2 316.9v10M317.8 265.7v7.7M233.6 184v7.2M264.5 240.4v6.3M98.9 273.5v4M372.1 279.8v7.2M311.4 308.4v13.7M380.5 324.8v6.9M69.6 86.1v9.9M380.7 318.2v3.7M51.8 81.6v13M328.1 254.2v13.7M365 281.5v6.6M150.6 168.9v12.2M87.3 119.6v9.6M248 223.2v6.6M371.6 266.2v10M355.2 348.8v6.7M54.2 90.6v3.4M336 342.9v3.1M120.1 152.5v4.4M238.2 224.3v10M165.2 309.9v8.9M266.9 235.7v6.5M305.6 214.1v7.5M407.8 308.9v14M342.6 325.3v4M176.1 183.7v13.5M376.6 279.9v3.4M163.5 173v7.1M344 272.9v9.2M285.9 316.2v4.2M53.7 94.2v6M191.5 181.1v14.1M338.8 270v13.7M320.5 331.2v4M198.1 187.1v10.8M69.4 79.1v9M246.1 309.1v13.2M355.8 282v5.9M128.5 92.6v13.8M413.7 327.4v8.1M213.7 202.7v10.4M143.8 285.6v13.7M390.8 291.9v6.8M360.3 271.3v10.6M223.5 306.1v8.2M303.7 323.9v3.6M222.9 293.4v14M372.4 294.3v3.5M70.9 102.3v12.6M305.2 251.6v11.4M358.2 285.2v11.9M412 277.4v9.8M211.3 212.6v5.7M351.8 271.4v14.2M274.7 315.8v14.9M389.4 254.1v14.5M200.3 202.9v10.4M336.5 317.9v7M226.6 307.1v8M200.2 295.1v10.1M162.7 131.4v11.9M152.3 292v3.6M300.1 257.4v5.8M374.8 279.7v5.9M220.7 206.2v2.8M176.1 301.9v6.8M401.4 348.6v5.6M314.2 318.6v3.8M399.4 316.6v13.9M156 179.9v4.7M237.4 297.3v9.9M58.5 82.5v14.7M80.6 253.8v8.8M208.1 304.1v13.1M162.8 184.4v5M307.9 241.8v9.1M346.8 279.1v4.5M306.2 246.6v3.8M98.5 275.9v4M403.8 291.6v6M409.7 288.8v6.6M129 281.6v3.3M314.6 257.7v15M81.4 107.4v9.5M392.9 326.3v4M63.2 245.3v6.9M168 290.6v12.3M201.4 196.7v12.3M362.5 321.4v3.6M219.9 207.6v13.3M284.5 310.2v11.1M361.9 315.2v7.7M130.6 154.9v10.5M300.2 207v4.4M374.7 316.8v6.2M409.4 273.9v10.6M204.3 198v14.6M143.4 164.5v10.6M414.5 283.5v13.3M350.3 283v9.9M92.1 128.1v4.2M413.2 308.9v14.8M218.6 210.9v8.7M395.4 326.6v11.5M56.5 254v4.1M236.5 219v14.1M263.8 238.1v7.5M294.4 254.1v9.1M410.7 329.3v3.6M334.2 262v13.7M161.5 290.1v8.6M207.7 300v5.6M238.4 327.7v4M316.6 258.3v7.9M350.4 283.4v4.8M64.2 101.4v4M312.8 252.4v6.7M236.5 321.4v10.8M338.6 252.3v4.5M155.1 293.3v7.2M126.5 157.5v5.4M292.5 257.7v6.6M149.5 170.5v6.9M304.9 272h0M244.9 306.2h0M85.9 132.7h0M206.6 199h0M327.7 323.1h0M186.2 303h0M223.1 222h0M222 227.2h0M182.6 330.5h0M269.4 251.6h0M338.8 281h0M273.6 232.4h0M122.8 279.5h0M211.5 201.4h0M316.9 274.9h0M45.8 85.9h0M167.3 194.4h0M108.5 150h0M270.6 312.2h0M310.6 258.4h0M267.1 240.1h0M295 246.4h0M152.1 140.1h0M360 319.1h0M46.7 239.8h0M311.9 324h0M302.6 267h0M240 229.2h0M325 261.4h0M286.9 264.1h0M143.8 171.2h0M94.7 265h0M165.5 183.1h0M122.5 141.6h0M149.5 288.9h0M203.9 308h0M191.2 203.2h0M325.2 277.7h0M255 237.6h0M176.3 195.4h0M62.6 107.3h0M152 290.6h0M153.6 296.5h0M241 207.8h0M114.4 156.7h0M287 232.2h0M79.8 125.4h0M177.1 300.8h0M85.2 129.9h0M289 316.7h0M311 275.2h0M97.3 128.9h0M272.1 252h0M304.7 326.7h0M91.6 263h0M52.7 93.5h0M245.4 240.7h0M224.1 230.3h0M126.9 153.9h0M353.9 324h0M155.7 302.7h0M349.7 236.6h0M232.2 304.7h0M337.6 277.9h0M338.9 320.2h0M356.1 352.5h0M298.7 318.9h0M110.7 148.5h0M100.3 275.3h0M152.1 185h0M108.9 149.5h0M267.7 246.6h0M301.5 261.8h0M127.1 278.7h0M160.1 299.1h0M165.3 193.8h0M142.9 159.4h0M329.7 322.5h0M155.8 187.4h0M134.9 165.7h0M103.6 142h0M87.8 112.3h0M284.1 260.5h0M271.8 238.5h0M131.5 155.4h0M110.2 142.7h0M165.3 171.1h0M320.2 323.2h0M163.7 188.8h0M351.6 279.4h0M294.4 253.6h0M264.2 312.8h0M88.4 105.7h0M332.8 276.6h0M52.1 244.6h0M167.1 195.2h0M119.1 155.5h0M92.2 262h0M100 143.6h0M302.6 321.5h0M150 297.7h0M250.7 306h0M232.1 201.9h0M63.6 258.3h0M61.2 245.8h0M330.4 248h0M143.8 169.9h0M354.6 286.7h0M127.6 157.9h0M288.9 240h0M252 236.9h0M54.1 97.4h0M173.5 301.5h0M301.7 262.9h0M239.3 231.7h0M44.8 93.8h0M115.8 147.1h0M184.2 196.3h0M99.2 142.7h0M259.5 250h0M268.5 252h0M75.8 117.3h0M123.2 275.3h0M85.5 263.5h0M191.6 303.9h0M181.2 189.2h0M218.8 301.6h0M193.9 205.2h0M264.9 240.2h0M265.2 234.3h0M242.7 219.5h0M57 89h0M274.5 315.1h0M335 271h0M104.2 295h0M202.3 307.5h0M313.1 270.4h0M250.7 322.8h0M100.7 136.8h0M170.4 301.7h0M66.5 253.5h0M266.3 247.7h0M315.9 325.6h0M304.5 261.2h0M316.2 335.9h0M169.2 306.1h0M281.6 255.6h0M337.4 285.4h0M96.8 274.5h0M156.9 174.5h0M247.4 214.5h0M212.4 219h0M155.7 179.3h0M219.6 316.1h0M110.6 144.8h0M278.7 312.4h0M294.9 267.8h0M352.1 268.3h0M110.9 131.1h0M275.8 311.6h0M261 247.8h0M179.3 303.4h0M340.5 324.5h0M81.5 122.4h0M307.5 325.6h0M43.2 211.5h0M83.6 274.9h0M130.4 159.5h0M236.1 229.6h0M337.2 287.2h0M225.5 302.6h0M318.5 277h0M114.1 138.8h0M304.7 231.6h0M114.1 140h0M285.9 260.5h0M68.5 111.1h0M244.9 316.4h0M152.6 185.1h0M229.5 221.9h0M140 166.3h0M90.8 129.8h0M255.3 242.8h0M187.7 208h0M262.1 309.4h0M214.2 309.2h0M45.9 95.4h0M320.5 326.7h0M47.1 234.1h0M101.8 138h0M124.1 280.8h0M351.5 290.1h0M160.1 190.5h0M332 285.8h0M48.3 247.8h0M146.2 178.4h0M180.8 301.5h0M279.4 328.7h0M343.1 336.4h0M292 266.9h0M111.8 274.1h0M304.3 257.9h0M132.4 165.1h0M309.3 345.4h0M44.8 88.1h0M186 185.6h0M205.5 214.6h0M169.6 196.6h0M310.5 340.2h0M263.2 227.6h0M239.2 317.6h0M197.6 210.5h0M325 277.9h0M113.5 267.9h0M320 277.8h0M130.9 161.1h0M282.3 251.5h0M55.6 245.5h0M66.8 250.9h0M196.3 206.7h0M314.3 318.5h0M143.2 285.1h0M243.3 311.6h0M245.4 239.4h0M118.6 150h0M145.8 180.7h0M174.6 192.8h0M143.8 301.3h0M329.8 321.4h0M186 300.9h0M330.2 320.7h0M43.9 95h0M102.8 142.9h0M280.8 322.8h0M291.5 262.8h0M164.4 188h0M224.5 304.7h0M222.2 221.1h0M228.9 306.3h0M86.9 131.2h0M102.7 272.4h0M343.9 320.8h0M139.9 171.3h0M177 177.3h0M317.6 274.3h0M233.8 231.3h0M275.6 254.4h0M307.7 319.1h0M149.6 182.7h0M279.3 315.1h0M148.4 181.4h0M225.7 213.5h0M298.7 322.8h0M118.2 138.4h0M293 329.3h0M310.3 252.5h0M353.7 289.1h0M309.1 332h0M192.5 303.6h0M184.9 198.2h0M51.8 84.5h0M53.6 255.8h0M192.1 314.5h0M165.6 297.5h0M169.3 193.9h0M354.9 321.2h0M73.4 266.9h0M358.8 285h0M140.3 170.2h0M140.7 283.7h0M159.4 178.9h0M200.4 194.1h0M231.5 215.5h0M230.7 309.3h0M274.5 257h0M229.6 311.4h0M348.8 275.9h0M96 141.8h0M109 138.5h0M205.7 303.3h0M90.7 135.5h0M288.4 319.6h0M219.4 216.1h0M308.7 321.4h0M203.3 216.3h0M66.5 248.7h0M98.1 143.7h0M180.3 180.1h0M285.3 255.4h0M49.4 94.9h0M231.5 318.6h0M157.9 188.7h0M132.4 153.9h0M241.9 304.7h0M195.3 301.6h0M213.6 214.1h0M235.2 303.7h0M217.3 223.8h0M358.5 288.2h0M200.7 301.4h0M198 301.4h0M88.9 128.6h0M321.8 319.8h0M147.9 288.6h0M142.7 169.8h0M271.7 251.1h0M318 330.3h0M315.3 274.7h0M144.2 157.3h0M132.2 279.2h0M118.9 155.9h0M301.4 262.1h0M70.9 113.7h0M47.2 82.2h0M75.2 257.7h0M116.4 148.2h0M224 214.3h0M217.2 303.6h0M184.8 302h0M287.1 321h0M235.3 304.6h0M349.2 321.4h0M43.7 227.7h0M247.3 306.1h0M140.6 175.2h0M99.4 268.4h0M173.3 188.2h0M267.3 253.3h0M146.4 179.8h0M230.2 308.1h0M59.5 83.4h0M355.2 292.4h0M128.4 290h0M230.1 302.8h0M318 278.7h0M149.9 290.3h0M299.8 323.8h0M327.8 320.7h0M86.8 268.5h0M130.5 150.8h0M96.2 115.1h0M46.3 97.7h0M187.4 301.3h0M83.7 129.4h0M225 227.9h0M303.8 264.6h0M55.4 241.2h0M253.9 307.5h0M264.8 228.3h0M254.1 306.2h0M165.5 192.2h0M284.1 261h0M319.7 319.9h0M154.4 298.2h0M181 300h0M116.1 147.4h0M273.3 316.8h0M150.3 179.6h0M88.9 262h0M132.8 290.1h0M73.9 252.2h0M334.9 242.5h0M131.9 153.1h0M150.1 181.3h0M341.5 284.7h0M222.5 221.3h0M270.4 254h0M339.5 287.2h0M238.2 238h0M347.8 288.4h0M158.1 296.9h0M150 149.5h0M330.8 259.9h0M233.9 232.1h0M258.2 316.1h0M152.4 172.4h0M231.7 234.1h0M96.9 140.4h0M265.2 246.9h0M220.5 226.5h0M239.9 305.4h0M213 223.2h0M356 329h0M251.8 241.8h0M357.8 287.7h0M349.4 320h0M334.4 320.3h0M56.2 101.4h0M122.5 157.4h0M111.4 273.6h0M347.5 320.1h0M64.4 106.8h0M320.7 334h0M286.4 260.2h0M91.8 124h0M238.7 237.5h0M49.9 98.3h0M316.4 271.9h0M190.8 301.3h0M231.1 229.4h0M114.7 272.7h0M48 81h0M76.7 259.4h0M281.7 313.1h0M174.3 305.9h0M284.6 316.6h0M309.5 256.6h0M308.1 265.9h0M271.7 255h0M299.7 265.6h0M289 315.2h0M169.8 192h0M168 182h0M194.9 301.5h0M141.2 168.6h0M179.1 302.3h0M118.6 154.3h0M314.4 319.5h0M350.7 325.1h0M207.8 307.5h0M237.7 231h0M312.8 249.2h0M162.2 177.4h0M181.7 195.6h0M72.1 112.6h0M213.7 219.1h0M48.1 246.6h0M69.1 116.3h0M250.9 237.7h0M318.3 271h0M275.9 245.8h0M339.6 333.9h0M144.2 171.8h0M61.4 110.5h0M231.8 303.1h0M150.6 181.2h0M151.7 184.6h0M241.4 229.1h0M156.9 299.8h0M289.7 259.6h0M66.2 109.4h0M307.3 326h0M133 157.6h0M328.8 321.3h0M149.2 292.7h0M311.3 274.4h0M167.3 184.1h0M163.2 296.4h0M169 195.5h0M317.8 337.1h0M221.2 228.2h0M119.6 272.5h0M345.4 292.8h0M293.5 321.5h0M218.8 302.4h0M152.6 185.5h0M242.7 239.4h0M320 275.5h0M106.3 267.1h0M64.1 246.1h0M281.7 325.6h0M153.8 296h0M305.3 272.1h0M246.9 307.3h0M221.1 227.8h0M240.4 306.4h0M46.5 92.8h0M235.3 236.3h0M327.3 278.5h0M292.2 256.1h0M310.3 270.6h0M337.7 279.4h0M201.4 207h0M227.9 304.2h0M285.2 261.1h0M94.1 278.3h0M322.3 338.7h0M353.7 284.9h0M68.8 117.7h0M242.7 308.4h0M335.3 276.5h0M247 239.9h0M272 245.1h0M203.6 305.9h0M226.5 314.3h0M249.7 311.7h0M321.4 264.5h0M157.3 178.8h0M334 331.6h0M249.6 335.6h0M92.6 135.4h0M194.2 313.4h0M244.6 237.4h0M263.6 309h0M319.7 328h0M250.5 313.7h0M183.2 304.2h0M353.5 282.9h0M267.2 253h0M326.1 277.7h0M217.5 302.6h0M149.8 292.3h0M280.4 249.3h0M199.1 303.7h0M164.7 192.3h0M244.5 238.4h0M203.3 301.9h0M92.8 269.9h0M163.7 190.2h0M103.3 144.6h0M166.5 317.9h0M127.1 164.4h0M100.1 269.3h0M97.1 138.2h0M197.9 311.6h0M304.6 259.6h0M357.9 323.3h0M313.8 270.6h0M195.3 204.9h0M341.9 286.4h0M308 266.9h0M332 280.7h0M299 266.3h0M76.6 258.3h0M84.6 125.2h0M220.4 307.2h0M53.4 241.9h0M269 319.6h0M131.7 164.8h0M190.4 209.7h0M111 152.3h0M224 220.3h0M109.9 145.6h0M343.6 331.8h0M211.8 222.7h0M201.2 216.1h0M178.8 197h0M361.8 294.6h0M142.3 172.8h0M330.2 319.6h0M137.3 287.8h0M235.7 226h0M196.3 189.7h0M129.2 282.9h0M262.2 248h0M263.7 251.7h0M86.3 259.7h0M198.3 203.8h0M138 283.7h0M305.9 238.1h0M268.1 254h0M195.6 302.8h0M43.2 207.2h0M118.2 274.6h0M323.5 318.4h0M243.2 309.7h0M292.3 320.4h0M319.6 319.9h0M224.7 308.5h0M324.9 280.1h0M154.9 186h0M71.5 252.6h0M102.5 265h0M262.2 316.1h0M192.1 201h0M94.4 267.3h0M167.5 163.6h0M79 255.2h0M125.3 154.6h0M244.6 235h0M304.3 267.4h0M156.2 305.1h0M304.8 251.4h0M284.7 240.5h0M66 102.9h0M254 318.8h0M249.7 239.6h0M344.7 290h0M47.3 81.1h0M141.8 149.2h0M120.2 273h0M314 322.6h0M330.2 282.3h0M287.9 331.5h0M191.9 300.3h0M348.7 283.8h0M337.9 324h0M286.7 254.4h0M99.4 129.7h0M215.8 301.3h0M97.9 268.1h0M88.3 265.8h0M122.7 153.8h0M359.4 298.1h0M248.9 312.2h0M178.4 301.5h0M310.7 338.8h0M212.6 212.8h0M53.1 241.5h0M322.6 255h0M180.6 195.8h0M360 322.3h0M202.2 208.8h0M104.2 143h0M62.1 104.7h0M305.7 262.5h0M139.4 172.3h0M180 196.5h0M327.6 275h0M218.9 226.8h0M49.6 80.7h0M53.1 102.5h0M43.9 86.1h0M52.2 90h0M251 223.3h0M218.8 225.2h0M309.2 270.9h0M281.6 257.2h0M104.8 144.3h0M245.2 305.4h0M169.3 177.8h0M171.9 185.7h0M237.3 223.6h0M59.4 102.4h0M317.7 324.6h0M187.6 205.3h0M310.9 261.1h0M171.6 192.4h0M335 324h0M107.1 269.2h0M152.9 184.2h0M54.5 100.3h0M326 323.1h0M348.7 287.7h0M353.6 295.6h0M90.5 130.9h0M240.7 307h0M345.9 292.6h0M250.9 311.6h0M147.7 159.7h0M145.3 291.7h0M119.1 151.9h0M245.7 239.9h0M176.5 302.7h0M66.1 246.1h0M329.8 277.9h0M284.9 262.3h0M208.5 304.5h0M70.1 254.1h0M146.2 287.8h0M267.6 252.1h0M111.6 141.9h0M149.7 293.7h0M195.6 305h0M285.2 326h0M53.6 240.8h0M276.4 257.2h0M159.7 181.1h0M234.7 321.9h0M63.2 112h0M136.6 159.8h0M275.9 244.5h0M171.2 192.8h0M325.8 322.4h0M165.1 191.4h0M208.9 194.5h0M113.9 137h0M69.6 117h0M99.5 143.1h0M166.6 313.8h0M252.9 242.6h0M124 148.4h0M149.4 292.7h0M46.9 92.6h0M263.7 248.9h0M103.5 265.4h0M303.6 261.7h0M168.5 303.9h0M255.8 328.9h0M211.8 220.6h0M93 137.4h0M249.7 312.7h0M121.4 132.5h0M253.8 246.8h0M307.7 321.7h0M302.8 318.7h0M178.3 299.6h0M197.4 302.1h0M230 312.6h0M308.4 326.3h0M71.6 100.6h0M230.4 229.4h0M184.9 206.1h0M206.9 219.6h0M307.8 273.6h0M356 320.4h0M323.7 319.6h0M289.2 249.7h0M161.5 166.9h0M174.8 301.6h0M321.7 332.7h0M223.5 305.7h0M362 300.5h0M216.6 302.8h0M290.5 323.5h0M229.1 224.8h0M191.3 205h0M119.2 153.4h0M111.7 155h0M109 152.8h0M52 94h0M249.4 308.5h0M231.5 231.6h0M61.3 250.3h0M269.6 318.2h0M349 319.8h0M163.9 186.5h0M289 318.3h0M261.9 308.1h0M84.9 130.8h0M300.7 318.9h0M63.1 111.2h0M236.6 307.5h0M225.1 302.8h0M354.8 294.2h0M231.7 234.6h0M136.9 282.7h0M59.8 241.6h0M108.5 99.3h0M227.4 219.6h0M233.5 304.7h0M133.9 168.8h0M254.3 246.9h0M200 202.9h0M273.4 312h0M193.2 200.2h0M42.9 225.6h0M305.2 323.4h0M188.1 202.1h0M159.7 190h0M66.2 84.5h0M239.8 311.9h0M289.2 256.7h0M52.5 103.2h0M182.5 203.8h0M75.6 253.9h0M116.4 274.4h0M146.6 160.1h0M97.5 138.2h0M265.6 309.2h0M181.5 192.5h0M266 240.1h0M201.5 215.4h0M82.7 257.1h0M114.7 279.8h0M203.6 213.7h0M110.6 147.7h0M323.9 272.4h0M85.4 126.1h0M300.1 261.4h0M334.3 283h0M139.5 288.9h0M253.4 312.1h0M200.4 301h0M59.7 86h0M181.7 303h0M209.8 317.1h0M203.3 189.8h0M172.1 302.9h0M232.6 225.1h0M242.2 316.7h0M252.6 233.3h0M109 142h0M168.4 195.2h0M105.5 145.2h0M347.8 290.9h0M150.7 169.8h0M43.6 213.3h0M87.9 131.9h0M83 130.5h0M62.8 109.5h0M65.8 249.4h0M311.9 266.6h0M85.8 260.3h0M118.9 283h0M307.9 274h0M49.7 74.5h0M90 130.5h0M221.4 303.7h0M155.3 295.3h0M144.3 177.8h0M153.3 291.7h0M108.4 268.6h0M204.4 301.5h0M97.1 130.8h0M238.3 306.5h0M202.1 184.4h0M266.2 310h0M301.6 318.4h0M85.7 263.9h0M284.8 323h0M93.7 128.2h0M244.2 312.7h0M142.5 289.8h0M349.3 323.3h0M187.6 304.2h0M185.2 205.3h0M215.8 218.4h0M278.2 257.1h0M294.2 263.9h0M331.1 281.4h0M98.9 280.8h0M331.9 278.1h0M236.3 313.3h0M319.7 318.5h0M271.1 249.4h0M284 320.4h0M242.2 304.5h0M272.1 249.1h0M124.7 147.7h0M146.7 292.9h0M331.5 324.3h0M219.5 301.4h0M78.3 105.7h0M350.9 292.7h0M193.1 209.6h0M101.5 265.5h0M234.5 304.9h0M179.6 202.5h0M181.3 301h0M336.5 225.8h0M199.9 205.1h0M247.7 234.6h0M125.3 282h0M236.1 232.9h0M131.1 162h0M321.3 242.8h0M227.8 223.4h0M50.8 56.5h0M317.2 276.7h0M65.4 113h0M314.1 257.8h0M341 321.2h0M286.9 315.3h0M292.4 316.5h0M177 195.8h0M116.1 158.6h0M252.4 242.8h0M246.2 308.2h0M353 294.5h0M294.7 266.8h0M294.9 248.5h0M147.4 290.2h0M215 207h0M159.5 164.9h0M295.3 263.2h0M175.3 185.9h0M284.1 314.8h0M160.2 295.3h0M285.2 263.9h0M152.9 293.6h0M144.8 175.8h0M73.5 113.3h0M297.3 242.5h0M202.8 211.3h0M327 278.7h0M137.2 165.3h0M183.8 299.9h0M184 202h0M314.6 320.5h0M244.3 241.5h0M51 244.2h0M305.9 319h0M65.4 245.9h0M299 253.7h0M98.8 123.2h0M79.4 122.9h0M342.5 281.5h0M94.8 136.8h0M101.1 268h0M275 311.9h0M339.3 322.5h0M53.7 103.4h0M97.5 135.5h0M73.6 254.2h0M124 155.9h0M300.2 323.5h0M217.1 221.4h0M358.9 283.3h0M247.9 309.2h0M171 305.5h0M208.1 215.3h0M124 157.4h0M167.4 298.7h0M319.3 272.1h0M156.6 188.3h0M225 302.3h0M104.8 271.8h0M262.3 248.9h0M201.2 197.9h0M45.1 90.1h0M69.7 105.9h0M176.9 301h0M349.4 285.9h0M109.1 149.9h0M44.1 226.4h0M298.3 258.8h0M253.7 246.3h0M263.5 248h0M336.5 320.1h0M282.4 259.1h0M44.4 225.1h0M202.6 215.1h0M283.8 253.5h0M231.5 304.2h0M80.1 257.9h0M294.1 267.2h0M334.4 342.5h0M360.3 300.4h0M118.8 145.8h0M264.5 241.7h0M162.1 306.7h0M78.7 125.9h0M320.7 326.4h0M287.9 260.8h0M360.6 285h0M198.2 319.4h0M313.3 320.7h0M85.5 271.9h0M177.3 192.2h0M349.5 279.1h0M296.6 326.8h0M228.2 308h0M321.9 318.5h0M240.3 307h0M49.9 92.5h0M124.7 273.1h0M137.6 282.4h0M101 144.3h0M277.7 313.5h0M316.5 321.2h0M170.1 299.3h0M261.4 312.7h0M122.8 155.4h0M196.6 213.8h0M309.7 264.1h0M134.4 171.6h0M224.2 228.8h0M213.9 220.6h0M122.7 150.3h0M351.6 292.5h0M102.2 266.1h0M94.8 134.5h0M60.8 111h0M128.5 285.5h0M137.1 283.8h0M230.3 303.5h0M101.6 266.4h0M280.7 257.7h0M345.3 319.3h0M134.1 144h0M246.8 238.2h0M82.4 123.3h0M172.7 182.2h0M291.4 322.4h0M338.9 322h0M275.2 257.8h0M43.4 94h0M161.2 295.1h0M261.1 250.6h0M200.3 301.3h0M269.9 311.3h0M337.4 284.6h0M259.7 244.9h0M251.9 245.3h0M287.3 315.9h0M157 182.3h0M316.5 327.2h0M247.1 240.6h0M72.5 252h0M53.2 82.5h0M246.3 242.5h0M282.1 260.5h0M252.4 307.1h0M343.1 241.8h0M122.5 276.3h0M94.3 139.7h0M326.9 318.6h0M184.2 198.6h0M231.6 304.4h0M46.3 262.1h0M330.7 320.6h0M286.2 314.4h0M188.2 196.3h0M125.4 157.4h0M227.5 303.1h0M267.1 253h0M341 281.6h0M130.3 151.8h0M74.1 272.9h0M117.1 155.3h0M76.1 252.8h0M96.8 75.4h0M234.8 236.4h0M178.9 185.8h0M294.9 268.4h0M126.3 163.6h0M113.8 271.5h0M331.7 322.6h0M194.3 177.6h0M177.2 200.6h0M330.2 325.4h0M292.8 250.6h0M108.6 142.1h0M282.4 254.9h0M217.3 218.4h0M318.9 276.7h0M208.5 209.9h0M92.3 266.3h0M293.3 323.2h0M134.5 281.5h0M239.9 221h0M276.2 233.2h0M334.5 284.6h0M146.2 178.3h0M77 255.7h0M317 275.1h0M349.8 351h0M353.2 325.2h0M351.6 290.4h0M225.2 307.6h0M106.6 270.3h0M248.4 203.3h0M51.4 245.1h0M192.6 304h0M342.4 318.9h0M179.9 189.3h0M145.1 152.7h0M221.5 226.1h0M45.7 95.6h0M281.2 315.8h0M62.9 72.2h0M325.2 326.1h0M204.9 214.8h0M198.6 209.9h0M345.2 286h0M197.7 193.1h0M250.3 321.7h0M285.2 325.2h0M175.4 300.6h0M321.8 322.2h0M250 307.8h0M227 306.8h0M68.6 117.7h0M160 178.6h0M97.7 143.1h0M54.8 240.1h0M162.1 306.1h0M131.8 151.8h0M251.3 312.9h0M284.8 320.7h0M241.6 237.6h0M274.7 312.1h0M103 140.2h0M324.7 253.1h0M197.3 207.4h0M156.1 166.9h0M52.6 95.8h0M155.8 177.6h0M190.2 202.4h0M61.3 97.9h0M123.2 161.8h0M49.7 98.9h0M276.5 258h0M242.9 306.5h0M91.1 267.7h0M194.8 209h0M239.9 231.5h0M319.2 272.3h0M174.5 192.9h0M69.3 263.4h0M336.8 320.4h0M235.4 307h0M265.5 309h0M58.3 255.2h0M272.9 241.9h0M334.8 325.7h0M58.1 104.6h0M189.2 194h0M360.5 285.4h0M143.2 286.2h0M154.6 180.7h0M141.6 284.2h0M329.5 282.7h0M262.8 308.8h0M234.2 227.1h0M178 201.7h0M71.5 249.6h0M310.1 264.3h0M174.9 198h0M135.3 157.6h0M47.9 244.1h0M122.8 146.8h0M180.8 196.9h0M339.4 323.6h0M218.4 303.8h0M55.2 104.8h0M133.9 164.3h0M57 107.4h0M316.1 325.6h0M49.1 86.5h0M194.8 302.8h0M337.5 280.5h0M224.4 227.2h0M348.9 330.7h0M274.8 254.6h0M76.2 261.5h0M125.3 278.8h0M72.3 119.6h0M287.8 320.7h0M182.4 302.8h0M89.3 275.9h0M327.3 321.9h0M197.3 304.9h0M336.6 330.3h0M238.8 238h0M121.3 141.5h0M328.3 281.4h0M231.7 227.6h0M200.3 314.8h0M58.6 246.5h0M234.4 214.9h0M291.2 262.7h0M123.1 161.5h0M257.3 246.2h0M147.6 288.3h0M321 322.2h0M95.2 273.7h0M241.3 231h0M168.1 194.7h0M150.5 171.4h0M219.3 314.7h0M229.5 304.2h0M76.1 265h0M111.8 270.8h0M229.5 317.1h0M303.1 325h0M308.7 319.7h0M227.3 230h0M342.5 286.7h0M108.2 147.4h0M72.8 251.2h0M90.3 131.1h0M172.1 315.8h0M315 276.3h0M262.2 243.9h0M90.4 263h0M343.2 323.9h0M78.2 121.5h0M270.4 234.5h0M220.8 226.2h0M63.5 256.4h0M310.7 329.1h0M201.1 207.9h0M341.2 261.4h0M271.8 256.4h0M90.6 263.8h0M299.9 318.8h0M150.7 184.1h0M149.7 293.1h0M216 215.8h0M222.2 228.2h0M149 298.2h0M210.2 307.4h0M302.6 330.9h0M143.8 169.9h0M247.2 240.8h0M282.5 317h0M220.6 223.5h0M351.8 289.9h0M237.4 232.1h0M74.7 251.5h0M158.8 189h0M327.2 318.5h0M55.1 103.2h0M98.5 142.9h0M56.1 253.7h0M67.4 115.2h0M89 130.6h0M143.4 173h0M56.3 101.7h0M268.7 312.6h0M48.1 235h0M128.9 161.7h0M127.3 275.7h0M286.1 264h0M146.1 298.2h0M336 264.4h0M164.6 192.4h0M244.4 221.7h0M145.7 291h0M164.1 297.3h0M199.4 212.9h0M52.4 87.7h0M48.6 97.6h0M72.6 102h0M181.9 301.5h0M300.2 269h0M279.3 254.4h0M197.6 306.4h0M281 259.9h0M227.6 208.6h0M344.6 328.3h0M128.7 161h0M257.6 243.6h0M118.6 269.6h0M306 318.4h0M311.5 265.8h0M62.8 104.6h0M347 320h0M58.2 242.5h0M188.2 307.2h0M104.1 113.6h0M148.4 178.1h0M51.2 241.7h0M358.3 292.5h0M137.9 160.3h0M126 280h0M333.2 282.9h0M256.8 221.7h0M174.1 300.2h0M135.4 164.8h0M122.6 162.8h0M157.3 184.3h0M190.2 208h0M116.8 130.5h0M344.9 321h0M145.4 161.7h0M272.7 311.4h0M50.2 100.5h0M194.1 167.5h0M186.4 308.3h0M259.9 240.2h0M313.1 276.5h0M272.4 243.5h0M178 306.1h0M145.7 180.8h0M69 106.7h0M360.2 323.4h0M228.2 232.1h0M230.5 232.3h0M327 273.1h0M145.7 175.7h0M226.6 307.6h0M89.6 129.6h0M72.6 121.7h0M60.3 246.1h0M174.7 310.3h0M49.4 245.4h0M240.7 315.4h0M235.8 306.2h0M101.6 272.8h0M348.8 324.6h0M304.5 323.3h0M268.8 251.2h0M228.2 229.5h0M58.1 63.7h0M60.6 100.3h0M222.4 221.7h0M246.5 229.5h0M102.1 130.7h0M184.3 195.4h0M110.6 153.5h0M264 310.7h0M69.4 249.4h0M317.3 318.5h0M63.4 113.4h0M46.7 234.5h0M283.4 321h0M146.4 179.5h0M52.8 102.1h0M243.4 239.3h0M133.5 165.8h0M301.5 260.8h0M54.7 102.2h0M155.8 292.9h0M182.9 202.6h0M92.8 131.3h0M315.1 320.9h0M60.3 98.4h0M158.1 188.1h0M320 321.8h0M196.3 207.9h0M324.6 325.3h0M151.6 175.2h0M197.9 213.2h0M144.4 171h0M95 264.2h0M238.2 312h0M300.6 318.4h0M161.8 162.8h0M139 156.3h0M251.1 309.4h0M312.3 320.4h0M170.3 298.1h0M252.2 241h0M72 249.4h0M98.4 264h0M339.9 286.3h0M90.5 262.8h0M257 247.2h0M86.5 133.4h0M359 271.4h0M126.1 164.1h0M249 244.3h0M89.2 135.5h0M71.5 112.3h0M118.8 276.5h0M276.6 331.7h0M149.1 157.9h0M297.9 329.9h0M202.5 211.9h0M278.6 259.4h0M322.2 253.8h0M297.4 230.8h0M92.3 138h0M96.4 141.8h0M269.7 250.6h0M176.5 184.7h0M97.4 264.2h0M275.9 257.3h0M294.5 253.5h0M154.6 187.3h0M323.2 263.7h0M115.5 150.8h0M258.1 243.6h0M170.7 304.9h0M144.9 309.8h0M224.6 313.9h0M278.1 312.1h0M199.1 306.2h0M277 258.5h0M84.4 121.9h0M266.8 228.6h0M282 317.9h0M224.6 225.7h0M253.3 314.5h0M101.4 280.1h0M100.1 277.9h0M291.5 247.2h0M333.5 263.9h0M306.9 271.7h0M172.5 305.5h0M201.3 213.3h0M68.6 116.9h0M80.4 122.1h0M351 283.1h0M66.3 248.5h0M120.6 273.2h0M104.6 280.2h0M66.5 250.2h0M309.4 262.3h0M335.1 273.8h0M167 298.5h0M296.8 259.7h0M227.5 232.2h0M193.1 306.6h0M336 321.5h0M328.2 322.7h0M245 234.8h0M188.3 302.2h0M167.3 173.9h0M176.1 299.3h0M311.5 342.8h0M145.3 172.9h0M135.8 289.7h0M231.9 223h0M332.6 325.6h0M184 196.2h0M146.3 181.1h0M191.1 203.9h0M195.2 301.5h0M274.3 257.5h0M63.1 111.9h0M257 239.6h0M81.3 120h0M48.4 96.1h0M326.9 262.1h0M360.6 299.6h0M106.5 149.7h0M95.7 141.1h0M80.2 123.8h0M239.5 231.2h0M210.7 301.2h0M122.3 272.7h0M294.3 323.8h0M195.2 207.7h0M79 124.8h0M235.7 235h0M56.4 104.3h0M44 72h0M256.1 231.7h0M68.5 98.2h0M123.3 156.7h0M260.8 232.1h0M44.3 225.2h0M257.9 237.2h0M274.3 243.6h0M306.2 318.1h0M119.8 145.8h0M314 269.5h0M356.5 285h0M330.5 326.6h0M43.4 94.9h0M43.2 211.6h0M301.8 268.1h0M258 231.2h0M175 298.9h0M161.3 189.8h0M340.3 351.3h0M332.4 267.8h0M273.2 256.5h0M73.4 250.9h0M144.2 179.2h0M127.9 142.3h0M342.1 289.3h0M340.3 287.5h0M303.4 257.6h0M303.8 264.6h0M150.5 293.6h0M183.1 311.9h0M307.2 319.1h0M149.4 293.4h0M61.3 244.6h0M182.2 329.3h0M221.8 226.4h0M76 124.9h0M64.4 105.3h0M208.9 301.5h0M334.4 331.9h0M235.5 225.7h0M315.2 277.3h0M77.2 115h0M42.9 207.8h0M231.3 231.7h0M58.8 240.9h0M200.5 215h0M306.7 270.2h0M281.9 258.9h0M212.6 217.4h0M238.4 227.1h0M129.9 153.2h0M139.5 285.3h0M250.8 319h0M53.1 66.4h0M141.1 166.2h0M242 312.9h0M227.1 219h0M205.2 214.7h0M169 184.4h0M288.1 229.9h0M60.4 258.6h0M201.6 211.9h0M171.6 330.2h0M171.4 298.8h0M293.6 244.9h0M133.9 162.6h0M307 268.6h0M355.9 295.3h0M126.7 151.5h0M150.6 178.9h0M260.6 310.9h0M344.4 290.9h0M213.3 217.3h0M221.5 226.5h0M150.6 301.9h0M53.1 60.6h0M254.8 240.2h0M84.3 126.9h0M69.9 119.7h0M236.5 306.6h0M275.7 314.2h0M80.8 120.1h0M311.4 241.9h0M48.7 241.3h0M361 332.4h0M337.6 320.2h0M190.2 208.6h0M340.2 289h0M126.4 164.5h0M351.9 295.5h0M88.4 261.6h0M316.4 275.6h0M70.6 254.3h0M128.4 167.1h0M101.4 146.6h0M68 249.5h0M353 287.4h0M94.2 138h0M127.8 274.9h0M291.1 256h0M297.6 253.5h0M293.1 260.2h0M289.4 251.5h0M290.4 254.1h0M181.2 160.3h0M180.8 160.5h0M180.4 156.4h0M178.9 155.9h0M182.1 155.9h0M186.3 199.1h0M288 240.5h0M291 238.7h0M293.3 245.9h0M266.6 238.9h0M265.3 186.2h0M156.7 153h0M156.6 157.1h0M156.8 155.2h0M156.5 151.4h0M161.2 171.6h0M158.7 173.4h0M113.1 146.5h0M112.5 149.4h0M109.9 142h0M107 148.5h0M261.7 230.3h0M258.9 239.6h0M261.5 237.1h0M175 156.8h0M175.4 154.3h0M181.4 201.7h0M263.4 244.5h0M309.4 249.8h0M111.2 144.9h0M255.1 230.2h0M252.7 220.4h0M253.9 225h0M257.1 228.2h0M165 160.3h0M348.8 278.3h0M346.1 283.9h0M346.3 278h0M345.6 280.6h0M345.4 277h0M104.5 134.1h0M103.8 142.6h0M105.1 138.1h0M107.3 143.1h0M105.1 141.7h0M187.9 156.7h0M156.5 173.8h0M161.7 166.9h0M161.1 174.5h0M303.3 249.3h0M305.8 253.3h0M305.7 254.6h0M305.9 252.2h0M212.5 207.8h0M252.8 237.9h0M340.4 284.6h0M335.7 275.5h0M337.2 288.6h0M119.5 159.8h0M234.8 228.2h0M282.7 257h0M285.6 250.3h0M285.4 256.3h0M194 205.8h0M195.2 202.7h0M194.9 204.1h0M195.8 201.8h0M337.9 282.5h0M336.8 283.1h0M335.2 282.7h0M337.9 286.4h0M331.6 288.3h0M251.3 229.4h0M257.1 237.5h0M256 234.1h0M103.9 151.9h0M105.1 145.3h0M106.6 143h0M108.4 146.1h0M103.7 146.8h0M252 240.2h0M132.3 148.8h0M135.1 159.5h0M134.3 154.6h0M130.1 148.8h0M129.6 147.6h0M265.3 157.2h0M266.6 158.7h0M265.9 164.3h0M267.5 157.1h0M265.5 160.2h0M203 168.5h0M356.4 288.2h0M357.8 297.2h0M144.1 168.8h0M146.9 168.4h0M149.6 174.1h0M147.8 174.7h0M147.6 171.5h0M136.6 161.4h0M139.5 167h0M193.9 178.3h0M122.3 143.8h0M121.2 149.2h0M121.9 150.2h0M122.4 142h0M358.3 289h0M360 281.8h0M356.9 284.2h0M354.9 289.7h0M312.7 249.6h0M311.4 245.2h0M310.7 249.3h0M140.4 170.4h0M144.7 172.7h0M142.3 169.6h0M138.3 170.8h0M310 232.7h0M308.4 230.1h0M310.5 237.6h0M317.5 229.2h0M141 163.6h0M138.1 170.6h0M138.9 171.5h0M137.6 171h0M250 233h0M252.2 243.5h0M252.2 231.1h0M174.7 198.1h0M314.3 234.4h0M318.5 236h0M315.8 240.2h0M314 232.1h0M311.8 228.4h0M249.6 208.8h0M251.8 211.4h0M127.6 165.6h0M127.4 161.5h0M124.7 167.1h0M126.5 165.2h0M127.4 163.5h0M128.2 147.8h0M112 151.1h0M112.1 152.4h0M323.7 263.1h0M325.7 266.9h0M325 263.9h0M312 255.7h0M189.2 205.6h0M195.8 198.5h0M189.4 204.1h0M189.7 209.4h0M185.6 211.9h0M349.4 283.5h0M347.8 287.5h0M344.8 277.6h0M346.1 284.1h0M350.4 276.8h0M314.9 265h0M313.8 265h0M314.6 262.1h0M314.9 266.3h0M314.8 260.1h0M287.1 230.9h0M283.2 230.4h0M287.7 233h0M244.8 229.3h0M246.1 235.3h0M246.5 236.6h0M261.7 243.9h0M266.6 245.8h0M251.5 220.9h0M250.5 225.2h0M248.5 224.1h0M250.3 220.6h0M249.4 230.3h0M250 230.2h0M292.9 219.7h0M293.4 219.1h0M291.9 209.8h0M293.2 221.5h0M293.9 215.1h0M321.3 211.7h0M277 212.8h0M215.9 207.5h0M218.2 192.9h0M215.1 202.7h0M216.1 200.3h0M208 207.7h0M208.8 207.2h0M206.7 209.6h0M204.5 207.1h0M326.7 274.1h0M325.1 274.7h0M326 275.2h0M321.8 276.7h0M328.6 275.1h0M236.8 223.8h0M239 223.9h0M237.8 229.3h0M237.3 219.3h0M236.8 227.4h0M152.9 173.2h0M156.3 177.7h0M153.9 181.8h0M161.8 174.3h0M150.2 173.6h0M281.6 248.4h0M236.5 205.7h0M241 196.3h0M290.7 239.9h0M197.6 188.5h0M195.3 178.2h0M274.4 253.4h0M278.6 247.4h0M277.2 254.7h0M271.5 251.9h0M215.5 212.8h0M123.4 163.8h0M120.9 157.3h0M122.3 160.2h0M118 164.3h0M251.7 224.7h0M251 225.5h0M249.2 221.9h0M253.5 224h0M104.4 133.7h0M98.6 140.6h0M104.5 144.5h0M237.5 173.3h0M238.9 175.2h0M236 180.7h0M239.9 169.3h0M235.5 168.9h0M101.7 143.4h0M298.9 262.4h0M357.3 293h0M352.4 287.5h0M351.4 290.8h0M350.9 284.8h0M212.3 207.2h0M217.5 200.3h0M217 203.2h0M217.7 201.8h0M214.5 210.1h0M273.9 250.5h0M272.5 252.6h0M115.5 138.9h0M116.6 143.5h0M115.8 135.8h0M115.2 142.3h0M150 179.4h0M152.6 177.1h0M316.8 272.6h0M237.2 200.2h0M236 207.6h0M243.5 208.9h0M238.9 125.2h0M136.2 163h0M283.6 250.1h0M322.3 226.8h0M359.6 266.7h0M245.5 235.2h0M247.4 230.3h0M250.3 229.4h0M249.8 238.6h0M143.4 163.8h0M144.3 162.8h0M139 164.4h0M142.4 166.5h0M147.2 163.9h0M279.8 250.8h0M358.7 258.9h0M359.9 253.2h0M286.1 266.2h0M286.6 233.1h0M289.8 231.6h0M287.8 241.4h0M288.3 230.6h0M120.9 161h0M314 270.8h0M238.9 224.8h0M251.8 187.6h0M247.3 189.2h0M247.9 190h0M252 186.6h0M278.6 247.4h0M276.5 240.4h0M140.5 170.1h0M142.9 176h0M139.8 170.6h0M141 173h0M143.6 169h0M143 168h0M143 169.9h0M224.2 215.4h0M104.1 143.4h0M107.4 136.3h0M240.2 236.4h0M135.2 170.8h0M265.4 249h0M263.3 250.6h0M263.4 241h0M101.4 119.1h0M99.7 116.8h0M101.6 119.8h0M96.8 112.3h0M271.3 226.7h0M270.5 230.8h0M267.7 230.9h0M346.3 276.7h0M344.9 288.2h0M347.6 239.6h0M193.6 212.4h0M192.6 214.8h0M195.8 212h0M196.6 211.8h0M190.1 206.1h0M345.6 287.4h0M348.3 280.5h0M346.2 284.7h0M182.5 193.4h0M181.9 194.1h0M184.7 197.5h0M188.5 199.9h0M183.8 194.7h0M285.9 243.2h0M282.9 240.1h0M288.5 248.3h0M284.2 240h0M287.4 241.8h0M281.2 254.5h0M275.6 255.1h0M278.5 246.8h0M277.5 256.2h0M188.1 173.1h0M110.3 133.9h0M110.4 140.3h0M111.5 142.4h0M113 139.1h0M243.4 208.1h0M140.5 165.7h0M155.6 175.4h0M156.4 184.8h0M96.7 140.5h0M96.3 142.1h0M98.3 138.6h0M95.7 138.2h0M120.6 150.6h0M228 215.4h0M223.1 211.8h0M222.5 213.8h0M223.4 217.1h0M220.9 209.6h0M176.1 168.5h0M176 172.9h0M180.6 172.4h0M178.3 170.3h0M178.8 177.3h0M131.3 153.9h0M159.3 179h0M154.8 181h0M262.4 226.2h0M262.7 231.4h0M154.6 183.8h0M152.7 168.3h0M336.1 280h0M334.7 276.1h0M331.7 276.9h0M336 283.6h0M192.5 202.4h0M194.3 205.7h0M342.7 279.6h0M341.8 285.7h0M345.5 282.2h0M341.7 276.3h0M290.4 241.9h0M289.7 246.7h0M199.2 206.1h0M198.8 207h0M198.1 210.5h0M194.5 203.9h0M195.1 210.9h0M277.7 209.1h0M283.8 207.1h0M281.6 209.6h0M245.2 219.9h0M333 253.2h0M326.7 250.1h0M322.6 251.9h0M318.2 254.7h0M207.3 218.4h0M207.6 216.4h0M205.5 208.3h0M144.2 139.5h0M146.4 147.2h0M272.2 233.2h0M272.9 236.6h0M270.1 232.5h0M274.1 224.8h0M246 241.8h0M249.9 234.5h0M248.6 236.9h0M249.7 232.5h0M217.8 220.7h0M228.5 227.8h0M230.8 226.2h0M232 231.3h0M232.2 233.5h0M231.5 233.6h0M260 229.7h0M242.6 221.2h0M243.7 228.1h0M124 150h0M127.5 150.7h0M126.7 148.1h0M126.9 142.5h0M124.4 143h0M134.3 153.8h0M132 156h0M194.7 178.4h0M189.4 179.7h0M217.2 214.3h0M120.9 152.2h0M112.3 153.6h0M115.3 148.6h0M346.4 282.9h0M348.6 294.5h0M125.6 154.4h0M177.3 200.4h0M175 200h0M177.2 196.4h0M171.4 193.6h0M227.1 164.3h0M227.9 168.1h0M228 162.1h0M352.4 253.1h0M356.3 246.3h0M356.9 250.6h0M354.1 242.7h0M349.8 250.1h0M233.7 220.3h0M127.6 153.8h0M125.8 147.9h0M129.5 153.7h0M130 145.9h0M363 299.9h0M362.3 296.7h0M360.3 297.5h0M359.1 298.8h0M359.3 297h0M366.6 278.6h0M365 280.8h0M361.4 277.2h0M257.1 231.8h0M256.8 230.6h0M259.1 228.1h0M126.4 163.4h0M228.4 197.9h0M226.6 206.6h0M225.9 206.1h0M228.4 203.9h0M229.5 205.4h0M270.3 241.3h0M269.7 243h0M267.4 244.7h0M280.8 257.6h0M221.9 211.1h0M220.3 209.5h0M209.6 224h0M212.1 219.8h0M211.7 217h0M212.8 218.7h0M339.5 263.9h0M338.5 266.5h0M341.1 263.3h0M143.9 157h0M345.2 271.7h0M222.1 222.7h0M301.1 224.5h0M300.4 223.7h0M297.5 228.1h0M301.7 233.4h0M328.7 285h0M331.4 277.2h0M326.9 278.3h0M327.8 277.2h0M339.3 283.6h0M338.7 285.8h0M333.7 277.4h0M330.5 286.2h0M332 292.1h0M143.8 146.6h0M144.6 149.3h0M141.8 153.1h0M144.8 155.5h0M142.7 147h0M189.6 205.5h0M103.3 142.3h0M340.5 268.5h0M343.2 271.7h0M341.6 269.9h0M343.1 269.9h0M191 185.2h0M294.2 247.9h0M295.1 238.7h0M346.1 213.8h0M139.8 172.1h0M254.4 211.5h0M250.1 210.8h0M338.8 264.1h0M338.8 262.4h0M334.3 257.3h0M337.1 263.3h0M335.8 256.1h0M156.9 175.4h0M150.9 179.6h0M121.2 158.7h0M120.9 159.8h0M226.1 202.5h0M225.6 203.6h0M221.8 204.5h0M224.9 197.2h0M226.5 206.2h0M302.6 236.1h0M297.6 240.5h0M293 241.8h0M146.5 179.2h0M118.4 155.7h0M156.3 181.2h0M188.9 170.6h0M192.1 173.9h0M254.5 211.6h0M254.6 221.2h0M258.7 220.4h0M251.4 221.2h0M245.9 232.8h0M250 227.8h0M248 232.8h0M245 230.2h0M286.8 256.9h0M283.4 251.7h0M286.7 257.6h0M284.7 255.9h0M160 172h0M160 167.6h0M302.9 251.2h0M303.8 258.3h0M159.1 165.5h0M164.4 170.1h0M161.6 174.4h0M164.6 161.9h0M362.2 290.2h0M363.8 299.1h0M363.9 292.5h0M358.9 295.9h0M155.5 177.7h0M304.3 262.9h0M122.1 148.5h0M115.7 147.3h0M114.7 143.7h0M117.6 151.6h0M116.2 150.1h0M215.3 176.4h0M308.7 247.3h0M201.1 207.5h0M325.6 280.9h0M327.9 288h0M326.7 277.7h0M322 275h0M327.3 273.1h0M100.9 145.4h0M137.3 160.2h0M140.4 160.5h0M138.3 162.2h0M141.6 162.3h0M136.1 156.9h0M168.2 158.1h0M166.2 165.4h0M166.9 158.5h0M131 138.7h0M132.2 132.9h0M129.8 138.6h0M130.9 135.4h0M126.6 138.7h0M163.9 176.6h0M160.8 181h0M161.9 188.3h0M160.1 182.9h0M163 183.9h0M288 183.2h0M289.7 180.1h0M287.3 187.1h0M286.4 182.6h0M288.9 178.1h0M175.8 196.7h0M178.8 197.8h0M341.2 285.2h0M337 282.4h0M333.7 287.3h0M336.6 286.1h0M339.2 292.8h0M356.1 289h0M358 291.5h0M360.5 295.5h0M359.1 288.9h0M158.2 160.8h0M158.5 159.2h0M156.9 154.9h0M158.2 153.2h0M178.1 167.3h0M177.2 171.6h0M175.7 176.3h0M174.5 169.3h0M208 214.8h0M205.2 212.8h0M200.8 215h0M226 220h0M222 219.4h0M246.5 231.3h0M241.7 227.9h0M245.5 240.5h0M244 228h0M242.1 235.8h0M97.4 137.3h0M297.7 266.9h0M121.1 153.7h0M202.3 213.8h0M231.6 212.3h0M232.3 216.9h0M235.4 219.5h0M232.9 216.3h0M308.6 230.2h0M130.4 140.7h0M128.2 146.5h0M129 147.7h0M324.2 268.1h0M328.9 261.4h0M322.9 266.1h0M326 265.5h0M262.9 223.3h0M128.1 126h0M238.7 210.7h0M203.7 182.2h0M246.1 167.3h0M190.1 184.4h0M178.7 178.4h0M196.6 188.6h0M57.1 67.7h0M52.4 64.9h0M203.3 185.9h0M67.9 60.1h0M106.3 119.6h0M164.6 162.5h0M170 141.8h0M70.8 91h0M129.5 121.6h0M367.4 270.1h0M172.7 173.1h0M186.9 184.1h0M280.7 227h0M354.4 259.5h0M49 46h0M189 159.9h0M86.9 53.2h0M191.7 169.4h0M231.1 186.2h0M235 216.9h0M241 170.1h0M390.9 257.7h0M176 148.5h0M314.9 258.3h0M198.8 178.2h0M180.7 175.1h0M86.3 79.3h0M125.3 144.7h0M48.9 51.9h0M48.1 48.1h0M248.7 194.5h0M345.2 253.1h0M189.6 179h0M42.4 40.7h0M44.9 38.8h0M45.4 11.9h0M41.8 94.3h0M42.8 88h0M46.1 84.9h0M42.4 33.9h0M43.4 86.2h0M42.1 58h0M43.1 96.6h0M45.4 22.3h0M43.1 8.2h0M44.6 58.1h0M43.8 69.7h0M43.4 59.4h0M42.3 29.5h0M42.4 15.8h0M45.8 14.6h0M42.4 43.2h0M45 89.1h0M44.4 68h0M41.5 45.5h0M45.6 58.7h0M43.2 81.3h0M45.3 62.5h0M44.4 8.7h0M42.4 50.5h0M43.6 81.7h0M41 23.1h0M43 39.9h0M41.8 51.2h0M42.5 .7h0M42.6 93h0M45.6 37h0M41.1 19.8h0M43.8 96.5h0M41.2 27.1h0M42.6 6.9h0M41.3 31h0M43.7 25.3h0M369.5 338.8h0M361.3 339.9h0M362.4 353.1h0M372.7 345.3h0M362.9 339h0M365.7 361.8h0M372.7 365.8h0M360.8 364.6h0M360.5 351.5h0M358.9 358.8h0M358.9 343.2h0M370.8 365.8h0M364.1 343.8h0M364.1 359.7h0M298.9 354.4h0M300 339.4h0M300.2 353.4h0M300.9 344.7h0M301.5 343.8h0M299.4 355.2h0"/><path stroke="#4482b8" d="M39.9 129.8V143.1M41.3 102.3V190.8M42.7 96.3V214.6M44.1 98.5V234.6M45.5 101.1V254.9M46.9 105.5V251.1M48.3 110.1V253.9M49.7 115.7V258.8M51.1 117.2V251.7M52.5 115.2V250.4M53.9 110.2V248.1M55.3 117.3V245.7M56.7 118V242.7M58.1 113.3V246.4M59.5 114.8V238.7M60.9 122.7V244.6M62.3 121.1V244.5M63.7 127.6V242.4M65.1 121.4V243.6M66.5 126.3V241M67.9 126.9V248.1M69.3 126.4V253.5M70.7 126.6V254.6M72.1 124V247.2M73.5 126.8V263.3M74.9 130V247.5M76.3 134V254.6M77.7 126.9V247.1M79.1 133.2V246.4M80.5 129.3V250.8M81.9 135.3V245.9M83.3 137.4V245.1M84.7 134.9V251.2M86.1 140.5V252.2M87.5 139.7V252M88.9 142V254.4M90.3 139.8V253.4M91.7 142.7V248M93.1 140.7V254M94.5 139.9V261.2M95.9 148.3V249.4M97.3 146.7V249.7M98.7 148V253.7M100.1 150V264.5M101.5 146.4V248.9M102.9 146.3V251.1M104.3 138.2V252.5M105.7 152.1V260.2M107.1 154.1V251.6M108.5 165.5V250.6M109.9 162.3V255.6M111.3 165.9V250.8M112.7 172.4V256.6M114.1 170.6V261.1M115.5 174.3V251.5M116.9 183.6V258.5M118.3 188V255.1M119.7 195.2V258.6M121.1 190.1V253.8M122.5 197.5V271.9M123.9 181.5V257.4M125.3 202V258.3M126.7 214.1V258.1M110.5 149V167M119.2 164.2V179.4M137.2 161.5V179.4M130.8 180.8V200.1M144 173.9V204.2M151.4 142.1V160.1M151.4 184.9V198.7M148.9 219.4V248.4M150.8 218V249.8M133.9 211.1V262.2M136.5 215.3V262.2M139.1 223.6V253.9M122.6 253.9V278.8M160.9 194.6V209.8M167.3 240.1V256.7M176.3 241.5V303.6M178.2 253.9V295.3M53.4 256.7V280.1M48.5 255.3V270.5M73.7 98V121.4M310.9 274.6V289.8M350.4 298.1V310.5M254.5 289.8V296.7M149.6 280.1V280.8M191.4 289.8V290.5M265.8 293.9V294.6M155.3 130.3V131.1M155.3 142.1V142.8M175.6 160.1V160.8M160.9 214.6V215.3M160.9 224.9V225.6M310.6 264.3V265M133.5 209.8V210.5M153.4 213.9V214.6M144 215.3V216M45.7 87.5h0M44 50.9h0M46.5 84.3h0M44.1 83.5h0M45.3 10.8h0M43.8 80.5h0M42.2 7.2h0M43.6 64.7h0M43.7 3.9h0M47 83.1h0M43.9 53.2h0M43.4 53.8h0M43.6 53.5h0M42.4 19.6h0M46.5 73.2h0M46.4 73.5h0M44.1 1.5h0M45.3 47.4h0M44.3 55.5h0M42.3 36.3h0M43.3 72.3h0M42.5 33.7h0M44.9 55.2h0M45.1 61.5h0M42.1 12.7h0M45.4 64.9h0M44.5 10.1h0M42.6 11.7h0M44.9 96h0M42.9 14.9h0M42.5 42h0M45.2 52.8h0M46.2 73.1h0M45.9 70.2h0M43.8 87.6h0M43.1 24.3h0M46.5 97.4h0M43.5 57.1h0M42.7 30.8h0M44.2 87.5h0M43.5 56.1h0M42.3 11.3h0M42.8 50.7h0M42.8 44.4h0M43.1 35.5h0M44.3 7h0M43.3 67.6h0M46.5 81h0M44 21.9h0M46.3 53.8h0M43.7 30.7h0M44.8 14.3h0M44.2 55h0M43.6 15.3h0M44.9 29.5h0M46.9 73.8h0M43.3 18.3h0M44 36.9h0M46.9 100.9h0M44 92.7h0M44.1 20.2h0M45.8 30.9h0M44.7 11.7h0M43.4 9.6h0M43 50.8h0M43.7 36.3h0M45.2 70.7h0M42.8 10.8h0M45.5 71.8h0M44.2 18.2h0M92.3 250.4h0M89 260.1h0M120.1 262.1h0M110.7 139.6h0M125.8 255.6h0M79.2 133.5h0M115.5 179h0M120.3 189.2h0M71.6 248.5h0M125.8 253.8h0M100.9 141.6h0M78.4 129.5h0M77.9 251.7h0M84.9 253.3h0M56.7 118.7h0M89.4 251.3h0M56 118.8h0M54.6 248.6h0M124.8 257h0M118.5 174.5h0M117.2 169.8h0M105.9 152.1h0M86.4 250.4h0M115.8 258.4h0M60.4 254.5h0M101.2 249.9h0M95.9 254h0M43.6 245.8h0M71.4 246h0M43.2 95.5h0M123.4 200h0M120.4 191.2h0M89.2 141.4h0M104.5 254.2h0M78.1 125.7h0M54.8 255.8h0M55.6 98h0M96.6 253.4h0M63.2 243.9h0M112.3 170.1h0M111 279.2h0M118.5 256.5h0M56.6 118.9h0M100.6 255.8h0M86 256.8h0M119.9 193.3h0M68.3 112.6h0M109.5 163.8h0M96.1 257.9h0M100.2 250.6h0M81.7 249h0M42.2 207.5h0M122.9 255.8h0M69.3 244.9h0M42.9 219.2h0M78.6 119.3h0M44.6 244.4h0M62.7 243.3h0M97 140.1h0M83.9 131.5h0M93.6 145.2h0M49.4 114.4h0M59 113.1h0M58.7 256h0M59.2 244.1h0M45.2 99.4h0M57.2 116.9h0M117.4 268.2h0M45 99.2h0M73.4 129h0M55.4 115.6h0M106.5 142.3h0M76.4 247.5h0M101.7 130.9h0M116.4 184.7h0M119.8 256.5h0M112.3 167.7h0M88.2 138.8h0M124.3 200.7h0M96.6 146.5h0M74.5 249h0M50.6 102.2h0M65.7 117.6h0M118.2 256.6h0M124.2 253.8h0M51.8 253.1h0M111.7 152.7h0M67 251.6h0M47 253.3h0M122.4 277.4h0M69.4 120.4h0M114.8 255.5h0M92.1 251.3h0M46.9 104.9h0M78.5 128.7h0M106.1 147.1h0M76 131.5h0M114.5 179.2h0M116.1 184.5h0M62.5 120h0M106.7 251.2h0M47.2 94.9h0M51.6 116.2h0M122 192.4h0M84.9 116.4h0M75.4 259.2h0M93.5 141.5h0M77.8 250.7h0M82.3 122.1h0M76 131.7h0M93.3 256.1h0M74.5 249.1h0M96.7 143.6h0M79.9 125h0M118.8 190.5h0M57.6 102h0M99.3 134.8h0M85.4 251.4h0M93.7 127h0M104.9 141.7h0M70.8 125.4h0M93.2 258.6h0M106.1 255.5h0M59.1 243.6h0M103.6 132h0M108 282.2h0M110.9 167.2h0M53.8 116.5h0M109.7 253.9h0M86.5 137.2h0M63.4 119.4h0M96.1 254.4h0M114.2 281.2h0M43.6 88.7h0M47.1 259.5h0M123.4 200.3h0M124.1 190.7h0M113.2 159.8h0M88.7 260.6h0M91 135.7h0M67.8 246.1h0M81.1 128.7h0M123.8 199.5h0M71.6 249.3h0M56.9 119.8h0M109.9 161.5h0M116.2 183.5h0M122.5 178h0M117.6 182.1h0M82.5 250.8h0M106.8 255.8h0M102 253.8h0M46.3 106.1h0M60.9 116.8h0M83.1 247.5h0M98.1 144.9h0M110.6 261h0M120.3 254.4h0M56.8 250.5h0M79 129h0"/></g></svg>
<circle cx="761.6" cy="825" r="3.9" fill="#000"/>
<rect x="558.6" y="593.5" width="413.1" height="419.3" fill="none" stroke="#707070" stroke-width="1.6"/>
<g class="mt">
<text x="598.2" y="1029.5" text-anchor="middle">0</text>
<text x="672.9" y="1029.5" text-anchor="middle">200</text>
<text x="747.6" y="1029.5" text-anchor="middle">400</text>
<text x="822.3" y="1029.5" text-anchor="middle">600</text>
<text x="897" y="1029.5" text-anchor="middle">800</text>
<text x="971.7" y="1029.5" text-anchor="middle">1000</text>
<text x="550.8" y="597.7" text-anchor="end">10</text>
<text x="550.8" y="667.6" text-anchor="end">5</text>
<text x="550.8" y="737.5" text-anchor="end">0</text>
<text x="550.8" y="807.4" text-anchor="end">−5</text>
<text x="550.8" y="877.2" text-anchor="end">−10</text>
<text x="550.8" y="947.1" text-anchor="end">−15</text>
<text x="550.8" y="1017" text-anchor="end">−20</text>
</g>
<path fill="none" stroke="#6a6a6a" stroke-width="1.1" d="M598.2 1012.8v3.8M672.9 1012.8v3.8M747.6 1012.8v3.8M822.3 1012.8v3.8M897 1012.8v3.8M971.7 1012.8v3.8M558.6 593.5h-3.8M558.6 663.4h-3.8M558.6 733.3h-3.8M558.6 803.1h-3.8M558.6 873h-3.8M558.6 942.9h-3.8M558.6 1012.8h-3.8"/>
<rect x="899.6" y="599.1" width="66.3" height="36.4" rx="2" fill="#fff" fill-opacity="0.8" stroke="#d8d8d8" stroke-width="0.9"/>
<rect x="901.9" y="602.1" width="25.8" height="11.4" fill="#b0c4de"/>
<rect x="901.9" y="618.9" width="25.8" height="11.4" fill="#4682b4"/>
<g class="lg"><text x="933.8" y="612.2">X-ray</text><text x="933.8" y="628.1">NMR</text></g>
<g class="zt"><text x="894.4" y="671.4" text-anchor="middle" style="font-size:31.2px">Neo-2</text><text x="867.2" y="701.9" text-anchor="middle">Z-score: -6.58</text></g>
</g>
<g>
<svg x="1029.9" y="595.3" width="416.1" height="415.7" viewBox="-1.11 0 416.21 414" preserveAspectRatio="none" overflow="hidden"><g fill="none" stroke-linecap="round" stroke-width="4.1"><path stroke="#b0c4de" d="M42.1 94.4V193M43.7 96.2V215M45.3 91.7V230.2M46.9 99.1V246.5M48.5 97.5V240.2M50.1 98.5V241.4M51.7 97V236.2M53.3 96.5V263.8M54.9 98.4V247.6M56.5 107.5V244.6M58.1 113.2V241.7M59.7 109.3V242M61.3 103.6V242.2M62.9 109.6V243.7M64.5 109.4V249.6M66.1 104.1V247.8M67.7 119.1V244.9M69.3 111.1V248M70.9 127.1V247M72.5 108.4V256.4M74.1 111.7V251.9M75.7 119.4V254.3M77.3 112.8V260.6M78.9 131.1V253.5M80.5 121.3V251M82.1 124V261M83.7 125.5V261.5M85.3 128.3V257.1M86.9 128.7V264.7M88.5 135.1V268.5M90.1 137.8V262.7M91.7 136.7V265.5M93.3 130.4V263.8M94.9 141.5V264.6M96.5 139.9V265.1M98.1 143.8V275.7M99.7 144.1V268.6M101.3 123.8V268.3M102.9 145V271.6M104.5 148.6V268.6M106.1 147V276.1M107.7 148V267.8M109.3 127V270.9M110.9 157.8V271.4M112.5 152.8V272.3M114.1 153.9V282.9M115.7 162.7V289.2M117.3 158V271.5M118.9 135.8V284.4M120.5 154.6V266M122.1 155V271.9M123.7 158.6V272.8M125.3 157.9V268.3M126.9 164.4V272.6M128.5 167.5V277.7M130.1 166.7V278.4M131.7 172.6V279M133.3 156.9V282.7M134.9 159.3V294.9M136.5 175.6V285M138.1 169.1V281.7M139.7 171.5V282.2M141.3 168.9V290.3M142.9 177V292.4M144.5 172.3V291.2M146.1 174.7V288.5M147.7 180.1V288.6M149.3 182.1V291.4M150.9 181.9V295.3M152.5 185.1V290.7M154.1 186.7V297.6M155.7 184V299.6M157.3 192.9V297.7M158.9 185.9V298.1M160.5 189.9V303.9M162.1 183V296.1M163.7 187.3V297.7M165.3 186.4V296.7M166.9 193V301.5M168.5 191.8V297.1M170.1 194.4V302M171.7 192.7V304.2M173.3 192.6V305.3M174.9 198V303.8M176.5 203.9V302M178.1 196.2V304.2M179.7 199.8V304.5M181.3 202.8V297.7M182.9 208.1V305M184.5 200.4V310.4M186.1 196.4V304.1M187.7 208.2V306.2M189.3 207.8V315.6M190.9 211.4V302M192.5 211.7V302.1M194.1 208.9V294.3M195.7 209.1V304.5M197.3 211.6V296.7M198.9 211.6V304.3M200.5 211.2V301.2M202.1 211.6V304.8M203.7 213.7V304.3M205.3 224.3V308M206.9 221.3V303.6M208.5 210.8V298.7M210.1 218.4V305.5M211.7 219V306.9M213.3 223.2V303M214.9 229.6V304.4M216.5 226.1V302.5M218.1 226.8V307.7M219.7 225.3V300.8M221.3 220.7V307.6M222.9 228.8V304.4M224.5 230.7V301.4M226.1 219.9V301.1M227.7 228.7V307.4M229.3 209.6V306.8M230.9 234.4V311.4M232.5 234.7V310M234.1 234.8V307.3M235.7 233.7V308.1M237.3 231.1V313.1M238.9 237.3V308M240.5 240.6V303.7M242.1 237.6V313.9M243.7 238.3V305.8M245.3 245.4V309.3M246.9 238.6V307.5M248.5 231.3V304.7M250.1 244.7V310.3M251.7 241.1V310.3M253.3 253.4V302.7M254.9 244.4V312.3M256.5 252.1V308.3M258.1 241.2V305.2M259.7 254.2V306.4M261.3 246.4V307.2M262.9 253.9V312M264.5 250.8V310.4M266.1 254.6V313M267.7 256.5V306.5M269.3 247.7V312.9M270.9 258.8V312.6M272.5 249.1V311.7M274.1 257V317M275.7 259.1V318.5M277.3 245.5V316.1M278.9 269.5V312.8M280.5 250.6V313M282.1 266.2V313.3M283.7 260.3V312.9M285.3 266.6V319M286.9 272.3V325.4M288.5 263.8V316M290.1 262.2V319.7M291.7 260.3V320.2M293.3 268.1V320.4M294.9 265V312.1M296.5 259.2V322.9M298.1 261.1V319.5M299.7 274.8V317.6M301.3 276.6V320.7M302.9 270.2V320.3M304.5 268.6V315.2M306.1 274.6V327M307.7 268.5V318.8M309.3 275.8V314.7M310.9 271.1V315.5M312.5 267.5V325.2M314.1 270.7V322.9M315.7 264.7V323.6M317.3 270.2V323.3M318.9 270.1V321.4M320.5 286V317.6M322.1 280V328.8M323.7 279.8V318.5M325.3 243.4V324.4M326.9 279.2V319.5M328.5 280.4V347.4M330.1 269.3V320M331.7 284.8V324.4M333.3 288V319.7M334.9 291.4V321.6M336.5 289V325.3M338.1 290.8V327.1M339.7 288.2V322.7M341.3 289.3V319.4M342.9 276.6V313.5M344.5 286.5V319.8M346.1 287.3V326.9M347.7 284.3V324.3M349.3 292.5V326M350.9 295.3V323M352.5 294.5V325M354.1 294.4V322.6M355.7 296.9V328.9M357.3 298V321.3M359.5 293.7V324.8M361.1 289.7V326.9M362.7 287.8V313.4M364.3 298.6V312.5M365.9 298.6V317.2M367.5 303.5V314.9M369.1 301V311.2M370.7 306.1V309.7M405.5 306.1h0M383 279.4h0M364 288.5v1.9M374.6 322.7v5.6M399.4 298.5v.6M373.8 324.2h0M359.8 312.2v2.3M393.2 306.9v1.1M408.2 300.9v4M413 324.1h0M384.5 314.5h0M388.9 311.6v4.7M409.5 315.4v1.3M407.7 304.3h0M376 300v6.7M402.8 296.2h0M363 278.1h0M366.2 317.2h0M415.7 301.1v6.1M393.6 324.7v.6M359.7 304.6v2.1M385.6 317.4h0M386.3 283.8h0M390.5 282.2h0M382.3 308.4h0M394.9 301.2h0M359.2 314.7v.3M406.2 290.5v4.4M376.9 325.9v3.5M374.2 291.6h0M390.4 308.5h0M397.3 305.1v6.7M408.3 296.5h0M412 333.4v5.1M415.6 279.1h0M367 296.4h0M411 306.7h0M405 292.6h0M396.7 270.6v3.9M400.7 294.1h0M390.8 292.5h0M402.5 284.2v3.8M361.6 301h0M368.9 301.5v2.8M373.4 298.4v6.6M370.9 291.7v.3M412.1 294.9v3M397.8 337.5h0M401.4 291.8h0M394.4 270.6h0M384.5 294.5v.6M393.4 299.3v4.7M382.3 306.5v4.6M406.8 317.4v.3M409.3 304.8h0M383 331.2h0M405.8 303.7h0M391.6 334.3v4.1M387.6 290.6h0M395.1 303.3h0M402.8 287.9v6M375.9 282.9h0M361.5 304h0M406.3 314h0M391.5 299.1v2.7M366.7 291.3h0M387.4 313.8h0M413.9 291.3h0M379.8 296.5h0M379.2 293.3v6.6M371.7 315.1v2.6M404.6 312.4h0M408.7 292v4.4M382.7 298.1v5.6M408.4 311.4h0M394.1 312.2h0M401.6 321.6h0M412.6 313h0M376.4 301.9h0M414.9 290v3.1M390.5 318.9v4M415.7 293.1h0M414.8 314v1.6M403.6 296.4v3.9M412.7 318.2h0M415.8 293v5.7M415.5 309.6v1.5M403.5 286.6v2.1M379.9 272.1v1.8M374.4 331.1h0M411.7 296.6v5.7M408.1 297.1h0M383.2 299.9h0M380.5 301.2v1.9M364.5 291.7h0M370.4 311.5h0M373.5 277.4h0M391.6 317.3h0M363.6 321.2h0M377.1 279.9v1M358.7 296.1h0M369.1 302.9v3.8M369.5 302.9v2.5M407.6 292.3v3M381.6 312.8v2.3M415.8 307h0M385 307.3v4.2M387.8 276.4v3.5M378.4 287.2v.7M398.7 303.8h0M381.5 309.7v3.6M410.6 340.2v3.1M387 317.9h0M409.5 284.7v2M403.4 307.8v1.7M389.2 316.8v.5M374.1 291.6v2.1M412.9 297h0M373.9 287.2v3.2M363.6 305.6v6.6M389.7 285.4v1.6M373.1 305.6h0M393.1 292.4h0M411.2 317.9v4.6M363.1 307.9h0M365.9 293.2v5.1M398.2 283.1h0M407 336.1v3.2M390.5 316v3.6M361 289.9v5.3M409.1 296.9v6.1M384.5 297.1h0M387.6 279.2v4.8M416.8 282.9h0M406.1 305.4v5.9M404.7 302.3h0M370.5 323.4v6.2M363.3 300.4h0M359.8 296.9h0M361.3 312.5h0M416.8 317.8v.3M397.6 268.4v4.9M362.5 296.2h0M372.7 294.1v.8M380.1 283.2v3.6M377.2 297v.2M392.6 307.4h0M363.7 306.2v5.6M369.7 326.4v5.4M363.2 292.2v5.4M409.3 309.1v1.3M377.9 289.4h0M392.2 292.7h0M391 319.5v3.4M378.8 302.6h0M414.8 288.5h0M390.4 300.7v6.6M409 287.5h0M389 331.4h0M400.5 302.4h0M393.8 292.5h0M406.6 321.2v5.8M373.7 276.4v4.7M375.5 307v.9M384 293.5h0M384.3 303.5v4.8M376.4 276.7h0M361.4 294.5v2.2M396.9 309.3v6.3M396.4 274.5v5.6M401.9 308.2h0M383.4 298.2h0M367.4 289.4v1.8M394.5 330.4v3.4M389.7 305.8v5.6M405.3 294.6v4.8M410 343h0M386 326.7v4M397.2 288.9v6.2M398.7 301.7v3.9M362.4 301.6h0M366.6 298.6v2.3M399.3 299v3.9M379.3 301.5v2M374.1 301.7v5.8M364.9 321.6v2.9M360.4 287.4h0M404.7 286.2h0M410.5 314.3h0M371.9 284.4h0M411.7 328.2v5.8M378 314.6v3.9M394.3 336.5h0M389.3 298.1h0M382.1 334.6v.9M408.5 271.3h0M377.4 292.7v3.7M414.1 333.5h0M364.8 314.3h0M384.2 294.2v5.3M403.3 281h0M392.5 286.2v6.4M362.5 312.3h0M382.1 303.8h0M362.9 308.4v5.8M396.5 298.2v3.7M384.8 290.7v.7M408.2 299.2h0M376 273.1v1.7M408.2 301.1h0M384.3 297.7h0M412.4 341v3.6M398.7 293.6h0M375.5 317.9h0M392.4 278.7v5.5M385 299.2v6.6M387.6 292.9v6.4M406.1 289.6v4.8M377.8 325.1v2M412.9 293.2h0M407.1 307.5h0M402.2 336.7v4.9M413.3 330.6v3.2M389.6 316h0M389 299.9v.8M407.7 261v6.6M360.5 302.3h0M360.8 322.8h0M388.1 306.8h0M380 298.1h0M372.3 319.2v1M363.9 291.6h0M404.5 294.2h0M362.1 295.3v1.3M404 300.6v4.4M398 275.8h0M368.9 311.9v2.3M411.7 299.6v2.7M404.3 277.2h0M394.8 290.6h0M385.2 292v3.1M414.2 345.1h0M388.1 325.2h0M388.1 285.4v3.5M361.1 294.5h0M399.3 330.6h0M384 315.1h0M396.6 310.6h0M370.1 300.7v4M379.3 300.1h0M381.1 314.6h0M371.3 299.3v3M395.8 317.4h0M399.6 305.4v.8M409.3 315.4v3.5M377 283.5v4.8M398.3 286h0M388 312.1h0M368.4 307.3v3.9M410.4 273.7v.5M359.7 322.4v3.5M383.6 324.5v5.7M410.3 324.3h0M384.5 310.3v3.3M397.2 301.8v.4M399.4 275.8h0M411.7 299.5h0M411.2 306.2h0M359.2 307.6h0M374.8 308.6v4.1M399.1 318v5M359.2 306.3h0M364.4 315.3v5.2M373.6 298.9h0M381.6 310.3v.6M394.3 319v3.2M382.4 301.5v6.1M405 287.6v4.1M395.4 308.2v1M404.7 326.9v3.9M361.8 312.8v.1M372.6 309.8h0M402.5 279.7v4.2M399.6 299.3v1.7M409.3 311.4h0M379.9 309.5v2.8M389.6 316.8v6.8M380.1 330.7h0M381.7 326.8h0M362.7 295.1v2.4M377.2 332.4v1.6M383.8 289v2.8M389.3 283.8h0M402.6 284v1.2M402 278.6h0M366 319.4v4.8M361 306.3h0M360.3 287v4.4M359 305.8v5.1M373 282.3h0M367.8 318.5v1.9M378 323.5h0M362.7 323.1v6.6M362.9 281.3h0M384.9 303.9v6M368.2 314.2h0M364.2 299.5h0M376.8 294.5v.4M376.3 296.7h0M391.2 304.3v.2M402.9 276.1v6M364.4 291.7v.3M413.3 312.8v6.1M379.4 310.3v3.2M379.9 302.1h0M410.5 307v4.7M401 298.9v4.5M392.9 337.8v.9M390.3 319.8h0M410.4 308.5h0M380.8 323.8v5.7M397.2 306.7h0M393.4 282.5h0M397.7 294.6h0M367.2 324.6h0M363.6 296.3v1.6M373.5 313h0M398 319.6h0M411.5 298.1v4.5M400.9 308.5h0M370.6 331.7v.3M383.4 303.3v.2M381.7 319.1h0M375.1 313.7v6.2M361.9 309.5h0M365.5 307.9h0M375.7 285.4h0M370.5 312.3h0M397 323h0M407.8 291.3h0M202.5 299v16.5M242.5 303v24.7M298.3 315.9v16M247.1 303.6v10.3M133.7 276.9v24.8M203.5 299v11.5M215.1 299.4v19.7M194.6 298.7v23.3M227.1 301v21.9M139.2 280.4v23.4M272.4 309v20.9M257.5 305.1v16.3M248.7 303.8v12.1M189.2 298.5v23M359.3 317.4v19.4M298.1 315.9v24.8M357 317.4v20M359 317.4v13.3M281.3 311.4v20.4M258 305.2v20.6M253 304.4v25.6M360.1 317.4v18M340.1 317.4v14.5M323.5 316.9v11.1M244.9 303.3v15.4M271.9 308.9v12M295.5 315.2v21.1M249.1 303.9v12.3M310.2 316.4v23M273.6 309.4v24.9M152.9 289.5v9.9M224.8 300.7v22.7M164.9 160.5v5.4M383.7 287.6v11.7M309.2 310.7v10.7M401.2 351.1v4.3M129.2 276.7v3M394.7 326.7v7.7M228.5 218.8v4.7M411 316.7v10.8M114.2 137.5v6.3M154.8 111.1v14.8M335.7 258.2v6.6M386.1 312.9v12.3M209.8 206.3v7.6M95.6 263.6v11M60.3 86.9v10.5M363.7 289.6v7.2M407.4 311.7v11.4M254.8 308v9.3M305.6 249.2v13.7M178.2 189.2v7.7M371 283v9.8M100.3 123.4v7.8M407.8 334.1v5.6M97.5 117.4v3.1M286.9 321.9v4.5M337.2 316.9v10M317.8 265.7v7.7M233.6 184v7.2M264.5 240.4v6.3M98.9 273.5v4M372.1 279.8v7.2M311.4 308.4v13.7M380.5 324.8v6.9M69.6 86.1v9.9M380.7 318.2v3.7M51.8 81.6v13M328.1 254.2v13.7M365 281.5v6.6M150.6 168.9v12.2M87.3 119.6v9.6M248 223.2v6.6M371.6 266.2v10M355.2 348.8v6.7M54.2 90.6v3.4M336 342.9v3.1M120.1 152.5v4.4M238.2 224.3v10M165.2 309.9v8.9M266.9 235.7v6.5M305.6 214.1v7.5M407.8 308.9v14M342.6 325.3v4M176.1 183.7v13.5M376.6 279.9v3.4M163.5 173v7.1M344 272.9v9.2M285.9 316.2v4.2M53.7 94.2v6M191.5 181.1v14.1M338.8 270v13.7M320.5 331.2v4M198.1 187.1v10.8M69.4 79.1v9M246.1 309.1v13.2M355.8 282v5.9M128.5 92.6v13.8M413.7 327.4v8.1M213.7 202.7v10.4M143.8 285.6v13.7M390.8 291.9v6.8M360.3 271.3v10.6M223.5 306.1v8.2M303.7 323.9v3.6M222.9 293.4v14M372.4 294.3v3.5M70.9 102.3v12.6M305.2 251.6v11.4M358.2 285.2v11.9M412 277.4v9.8M211.3 212.6v5.7M351.8 271.4v14.2M274.7 315.8v14.9M389.4 254.1v14.5M200.3 202.9v10.4M336.5 317.9v7M226.6 307.1v8M200.2 295.1v10.1M162.7 131.4v11.9M152.3 292v3.6M300.1 257.4v5.8M374.8 279.7v5.9M220.7 206.2v2.8M176.1 301.9v6.8M401.4 348.6v5.6M314.2 318.6v3.8M399.4 316.6v13.9M156 179.9v4.7M237.4 297.3v9.9M58.5 82.5v14.7M80.6 253.8v8.8M208.1 304.1v13.1M162.8 184.4v5M307.9 241.8v9.1M346.8 279.1v4.5M306.2 246.6v3.8M98.5 275.9v4M403.8 291.6v6M409.7 288.8v6.6M129 281.6v3.3M314.6 257.7v15M81.4 107.4v9.5M392.9 326.3v4M63.2 245.3v6.9M168 290.6v12.3M201.4 196.7v12.3M362.5 321.4v3.6M219.9 207.6v13.3M284.5 310.2v11.1M361.9 315.2v7.7M130.6 154.9v10.5M300.2 207v4.4M374.7 316.8v6.2M409.4 273.9v10.6M204.3 198v14.6M143.4 164.5v10.6M414.5 283.5v13.3M350.3 283v9.9M92.1 128.1v4.2M413.2 308.9v14.8M218.6 210.9v8.7M395.4 326.6v11.5M56.5 254v4.1M236.5 219v14.1M263.8 238.1v7.5M294.4 254.1v9.1M410.7 329.3v3.6M334.2 262v13.7M161.5 290.1v8.6M207.7 300v5.6M238.4 327.7v4M316.6 258.3v7.9M350.4 283.4v4.8M64.2 101.4v4M312.8 252.4v6.7M236.5 321.4v10.8M338.6 252.3v4.5M155.1 293.3v7.2M126.5 157.5v5.4M292.5 257.7v6.6M149.5 170.5v6.9M304.9 272h0M244.9 306.2h0M85.9 132.7h0M206.6 199h0M327.7 323.1h0M186.2 303h0M223.1 222h0M222 227.2h0M182.6 330.5h0M269.4 251.6h0M338.8 281h0M273.6 232.4h0M122.8 279.5h0M211.5 201.4h0M316.9 274.9h0M45.8 85.9h0M167.3 194.4h0M108.5 150h0M270.6 312.2h0M310.6 258.4h0M267.1 240.1h0M295 246.4h0M152.1 140.1h0M360 319.1h0M46.7 239.8h0M311.9 324h0M302.6 267h0M240 229.2h0M325 261.4h0M286.9 264.1h0M143.8 171.2h0M94.7 265h0M165.5 183.1h0M122.5 141.6h0M149.5 288.9h0M203.9 308h0M191.2 203.2h0M325.2 277.7h0M255 237.6h0M176.3 195.4h0M62.6 107.3h0M152 290.6h0M153.6 296.5h0M241 207.8h0M114.4 156.7h0M287 232.2h0M79.8 125.4h0M177.1 300.8h0M85.2 129.9h0M289 316.7h0M311 275.2h0M97.3 128.9h0M272.1 252h0M304.7 326.7h0M91.6 263h0M52.7 93.5h0M245.4 240.7h0M224.1 230.3h0M126.9 153.9h0M353.9 324h0M155.7 302.7h0M349.7 236.6h0M232.2 304.7h0M337.6 277.9h0M338.9 320.2h0M356.1 352.5h0M298.7 318.9h0M110.7 148.5h0M100.3 275.3h0M152.1 185h0M108.9 149.5h0M267.7 246.6h0M301.5 261.8h0M127.1 278.7h0M160.1 299.1h0M165.3 193.8h0M142.9 159.4h0M329.7 322.5h0M155.8 187.4h0M134.9 165.7h0M103.6 142h0M87.8 112.3h0M284.1 260.5h0M271.8 238.5h0M131.5 155.4h0M110.2 142.7h0M165.3 171.1h0M320.2 323.2h0M163.7 188.8h0M351.6 279.4h0M294.4 253.6h0M264.2 312.8h0M88.4 105.7h0M332.8 276.6h0M52.1 244.6h0M167.1 195.2h0M119.1 155.5h0M92.2 262h0M100 143.6h0M302.6 321.5h0M150 297.7h0M250.7 306h0M232.1 201.9h0M63.6 258.3h0M61.2 245.8h0M330.4 248h0M143.8 169.9h0M354.6 286.7h0M127.6 157.9h0M288.9 240h0M252 236.9h0M54.1 97.4h0M173.5 301.5h0M301.7 262.9h0M239.3 231.7h0M44.8 93.8h0M115.8 147.1h0M184.2 196.3h0M99.2 142.7h0M259.5 250h0M268.5 252h0M75.8 117.3h0M123.2 275.3h0M85.5 263.5h0M191.6 303.9h0M181.2 189.2h0M218.8 301.6h0M193.9 205.2h0M264.9 240.2h0M265.2 234.3h0M242.7 219.5h0M57 89h0M274.5 315.1h0M335 271h0M104.2 295h0M202.3 307.5h0M313.1 270.4h0M250.7 322.8h0M100.7 136.8h0M170.4 301.7h0M66.5 253.5h0M266.3 247.7h0M315.9 325.6h0M304.5 261.2h0M316.2 335.9h0M169.2 306.1h0M281.6 255.6h0M337.4 285.4h0M96.8 274.5h0M156.9 174.5h0M247.4 214.5h0M212.4 219h0M155.7 179.3h0M219.6 316.1h0M110.6 144.8h0M278.7 312.4h0M294.9 267.8h0M352.1 268.3h0M110.9 131.1h0M275.8 311.6h0M261 247.8h0M179.3 303.4h0M340.5 324.5h0M81.5 122.4h0M307.5 325.6h0M43.2 211.5h0M83.6 274.9h0M130.4 159.5h0M236.1 229.6h0M337.2 287.2h0M225.5 302.6h0M318.5 277h0M114.1 138.8h0M304.7 231.6h0M114.1 140h0M285.9 260.5h0M68.5 111.1h0M244.9 316.4h0M152.6 185.1h0M229.5 221.9h0M140 166.3h0M90.8 129.8h0M255.3 242.8h0M187.7 208h0M262.1 309.4h0M214.2 309.2h0M45.9 95.4h0M320.5 326.7h0M47.1 234.1h0M101.8 138h0M124.1 280.8h0M351.5 290.1h0M160.1 190.5h0M332 285.8h0M48.3 247.8h0M146.2 178.4h0M180.8 301.5h0M279.4 328.7h0M343.1 336.4h0M292 266.9h0M111.8 274.1h0M304.3 257.9h0M132.4 165.1h0M309.3 345.4h0M44.8 88.1h0M186 185.6h0M205.5 214.6h0M169.6 196.6h0M310.5 340.2h0M263.2 227.6h0M239.2 317.6h0M197.6 210.5h0M325 277.9h0M113.5 267.9h0M320 277.8h0M130.9 161.1h0M282.3 251.5h0M55.6 245.5h0M66.8 250.9h0M196.3 206.7h0M314.3 318.5h0M143.2 285.1h0M243.3 311.6h0M245.4 239.4h0M118.6 150h0M145.8 180.7h0M174.6 192.8h0M143.8 301.3h0M329.8 321.4h0M186 300.9h0M330.2 320.7h0M43.9 95h0M102.8 142.9h0M280.8 322.8h0M291.5 262.8h0M164.4 188h0M224.5 304.7h0M222.2 221.1h0M228.9 306.3h0M86.9 131.2h0M102.7 272.4h0M343.9 320.8h0M139.9 171.3h0M177 177.3h0M317.6 274.3h0M233.8 231.3h0M275.6 254.4h0M307.7 319.1h0M149.6 182.7h0M279.3 315.1h0M148.4 181.4h0M225.7 213.5h0M298.7 322.8h0M118.2 138.4h0M293 329.3h0M310.3 252.5h0M353.7 289.1h0M309.1 332h0M192.5 303.6h0M184.9 198.2h0M51.8 84.5h0M53.6 255.8h0M192.1 314.5h0M165.6 297.5h0M169.3 193.9h0M354.9 321.2h0M73.4 266.9h0M358.8 285h0M140.3 170.2h0M140.7 283.7h0M159.4 178.9h0M200.4 194.1h0M231.5 215.5h0M230.7 309.3h0M274.5 257h0M229.6 311.4h0M348.8 275.9h0M96 141.8h0M109 138.5h0M205.7 303.3h0M90.7 135.5h0M288.4 319.6h0M219.4 216.1h0M308.7 321.4h0M203.3 216.3h0M66.5 248.7h0M98.1 143.7h0M180.3 180.1h0M285.3 255.4h0M49.4 94.9h0M231.5 318.6h0M157.9 188.7h0M132.4 153.9h0M241.9 304.7h0M195.3 301.6h0M213.6 214.1h0M235.2 303.7h0M217.3 223.8h0M358.5 288.2h0M200.7 301.4h0M198 301.4h0M88.9 128.6h0M321.8 319.8h0M147.9 288.6h0M142.7 169.8h0M271.7 251.1h0M318 330.3h0M315.3 274.7h0M144.2 157.3h0M132.2 279.2h0M118.9 155.9h0M301.4 262.1h0M70.9 113.7h0M47.2 82.2h0M75.2 257.7h0M116.4 148.2h0M224 214.3h0M217.2 303.6h0M184.8 302h0M287.1 321h0M235.3 304.6h0M349.2 321.4h0M43.7 227.7h0M247.3 306.1h0M140.6 175.2h0M99.4 268.4h0M173.3 188.2h0M267.3 253.3h0M146.4 179.8h0M230.2 308.1h0M59.5 83.4h0M355.2 292.4h0M128.4 290h0M230.1 302.8h0M318 278.7h0M149.9 290.3h0M299.8 323.8h0M327.8 320.7h0M86.8 268.5h0M130.5 150.8h0M96.2 115.1h0M46.3 97.7h0M187.4 301.3h0M83.7 129.4h0M225 227.9h0M303.8 264.6h0M55.4 241.2h0M253.9 307.5h0M264.8 228.3h0M254.1 306.2h0M165.5 192.2h0M284.1 261h0M319.7 319.9h0M154.4 298.2h0M181 300h0M116.1 147.4h0M273.3 316.8h0M150.3 179.6h0M88.9 262h0M132.8 290.1h0M73.9 252.2h0M334.9 242.5h0M131.9 153.1h0M150.1 181.3h0M341.5 284.7h0M222.5 221.3h0M270.4 254h0M339.5 287.2h0M238.2 238h0M347.8 288.4h0M158.1 296.9h0M150 149.5h0M330.8 259.9h0M233.9 232.1h0M258.2 316.1h0M152.4 172.4h0M231.7 234.1h0M96.9 140.4h0M265.2 246.9h0M220.5 226.5h0M239.9 305.4h0M213 223.2h0M356 329h0M251.8 241.8h0M357.8 287.7h0M349.4 320h0M334.4 320.3h0M56.2 101.4h0M122.5 157.4h0M111.4 273.6h0M347.5 320.1h0M64.4 106.8h0M320.7 334h0M286.4 260.2h0M91.8 124h0M238.7 237.5h0M49.9 98.3h0M316.4 271.9h0M190.8 301.3h0M231.1 229.4h0M114.7 272.7h0M48 81h0M76.7 259.4h0M281.7 313.1h0M174.3 305.9h0M284.6 316.6h0M309.5 256.6h0M308.1 265.9h0M271.7 255h0M299.7 265.6h0M289 315.2h0M169.8 192h0M168 182h0M194.9 301.5h0M141.2 168.6h0M179.1 302.3h0M118.6 154.3h0M314.4 319.5h0M350.7 325.1h0M207.8 307.5h0M237.7 231h0M312.8 249.2h0M162.2 177.4h0M181.7 195.6h0M72.1 112.6h0M213.7 219.1h0M48.1 246.6h0M69.1 116.3h0M250.9 237.7h0M318.3 271h0M275.9 245.8h0M339.6 333.9h0M144.2 171.8h0M61.4 110.5h0M231.8 303.1h0M150.6 181.2h0M151.7 184.6h0M241.4 229.1h0M156.9 299.8h0M289.7 259.6h0M66.2 109.4h0M307.3 326h0M133 157.6h0M328.8 321.3h0M149.2 292.7h0M311.3 274.4h0M167.3 184.1h0M163.2 296.4h0M169 195.5h0M317.8 337.1h0M221.2 228.2h0M119.6 272.5h0M345.4 292.8h0M293.5 321.5h0M218.8 302.4h0M152.6 185.5h0M242.7 239.4h0M320 275.5h0M106.3 267.1h0M64.1 246.1h0M281.7 325.6h0M153.8 296h0M305.3 272.1h0M246.9 307.3h0M221.1 227.8h0M240.4 306.4h0M46.5 92.8h0M235.3 236.3h0M327.3 278.5h0M292.2 256.1h0M310.3 270.6h0M337.7 279.4h0M201.4 207h0M227.9 304.2h0M285.2 261.1h0M94.1 278.3h0M322.3 338.7h0M353.7 284.9h0M68.8 117.7h0M242.7 308.4h0M335.3 276.5h0M247 239.9h0M272 245.1h0M203.6 305.9h0M226.5 314.3h0M249.7 311.7h0M321.4 264.5h0M157.3 178.8h0M334 331.6h0M249.6 335.6h0M92.6 135.4h0M194.2 313.4h0M244.6 237.4h0M263.6 309h0M319.7 328h0M250.5 313.7h0M183.2 304.2h0M353.5 282.9h0M267.2 253h0M326.1 277.7h0M217.5 302.6h0M149.8 292.3h0M280.4 249.3h0M199.1 303.7h0M164.7 192.3h0M244.5 238.4h0M203.3 301.9h0M92.8 269.9h0M163.7 190.2h0M103.3 144.6h0M166.5 317.9h0M127.1 164.4h0M100.1 269.3h0M97.1 138.2h0M197.9 311.6h0M304.6 259.6h0M357.9 323.3h0M313.8 270.6h0M195.3 204.9h0M341.9 286.4h0M308 266.9h0M332 280.7h0M299 266.3h0M76.6 258.3h0M84.6 125.2h0M220.4 307.2h0M53.4 241.9h0M269 319.6h0M131.7 164.8h0M190.4 209.7h0M111 152.3h0M224 220.3h0M109.9 145.6h0M343.6 331.8h0M211.8 222.7h0M201.2 216.1h0M178.8 197h0M361.8 294.6h0M142.3 172.8h0M330.2 319.6h0M137.3 287.8h0M235.7 226h0M196.3 189.7h0M129.2 282.9h0M262.2 248h0M263.7 251.7h0M86.3 259.7h0M198.3 203.8h0M138 283.7h0M305.9 238.1h0M268.1 254h0M195.6 302.8h0M43.2 207.2h0M118.2 274.6h0M323.5 318.4h0M243.2 309.7h0M292.3 320.4h0M319.6 319.9h0M224.7 308.5h0M324.9 280.1h0M154.9 186h0M71.5 252.6h0M102.5 265h0M262.2 316.1h0M192.1 201h0M94.4 267.3h0M167.5 163.6h0M79 255.2h0M125.3 154.6h0M244.6 235h0M304.3 267.4h0M156.2 305.1h0M304.8 251.4h0M284.7 240.5h0M66 102.9h0M254 318.8h0M249.7 239.6h0M344.7 290h0M47.3 81.1h0M141.8 149.2h0M120.2 273h0M314 322.6h0M330.2 282.3h0M287.9 331.5h0M191.9 300.3h0M348.7 283.8h0M337.9 324h0M286.7 254.4h0M99.4 129.7h0M215.8 301.3h0M97.9 268.1h0M88.3 265.8h0M122.7 153.8h0M359.4 298.1h0M248.9 312.2h0M178.4 301.5h0M310.7 338.8h0M212.6 212.8h0M53.1 241.5h0M322.6 255h0M180.6 195.8h0M360 322.3h0M202.2 208.8h0M104.2 143h0M62.1 104.7h0M305.7 262.5h0M139.4 172.3h0M180 196.5h0M327.6 275h0M218.9 226.8h0M49.6 80.7h0M53.1 102.5h0M43.9 86.1h0M52.2 90h0M251 223.3h0M218.8 225.2h0M309.2 270.9h0M281.6 257.2h0M104.8 144.3h0M245.2 305.4h0M169.3 177.8h0M171.9 185.7h0M237.3 223.6h0M59.4 102.4h0M317.7 324.6h0M187.6 205.3h0M310.9 261.1h0M171.6 192.4h0M335 324h0M107.1 269.2h0M152.9 184.2h0M54.5 100.3h0M326 323.1h0M348.7 287.7h0M353.6 295.6h0M90.5 130.9h0M240.7 307h0M345.9 292.6h0M250.9 311.6h0M147.7 159.7h0M145.3 291.7h0M119.1 151.9h0M245.7 239.9h0M176.5 302.7h0M66.1 246.1h0M329.8 277.9h0M284.9 262.3h0M208.5 304.5h0M70.1 254.1h0M146.2 287.8h0M267.6 252.1h0M111.6 141.9h0M149.7 293.7h0M195.6 305h0M285.2 326h0M53.6 240.8h0M276.4 257.2h0M159.7 181.1h0M234.7 321.9h0M63.2 112h0M136.6 159.8h0M275.9 244.5h0M171.2 192.8h0M325.8 322.4h0M165.1 191.4h0M208.9 194.5h0M113.9 137h0M69.6 117h0M99.5 143.1h0M166.6 313.8h0M252.9 242.6h0M124 148.4h0M149.4 292.7h0M46.9 92.6h0M263.7 248.9h0M103.5 265.4h0M303.6 261.7h0M168.5 303.9h0M255.8 328.9h0M211.8 220.6h0M93 137.4h0M249.7 312.7h0M121.4 132.5h0M253.8 246.8h0M307.7 321.7h0M302.8 318.7h0M178.3 299.6h0M197.4 302.1h0M230 312.6h0M308.4 326.3h0M71.6 100.6h0M230.4 229.4h0M184.9 206.1h0M206.9 219.6h0M307.8 273.6h0M356 320.4h0M323.7 319.6h0M289.2 249.7h0M161.5 166.9h0M174.8 301.6h0M321.7 332.7h0M223.5 305.7h0M362 300.5h0M216.6 302.8h0M290.5 323.5h0M229.1 224.8h0M191.3 205h0M119.2 153.4h0M111.7 155h0M109 152.8h0M52 94h0M249.4 308.5h0M231.5 231.6h0M61.3 250.3h0M269.6 318.2h0M349 319.8h0M163.9 186.5h0M289 318.3h0M261.9 308.1h0M84.9 130.8h0M300.7 318.9h0M63.1 111.2h0M236.6 307.5h0M225.1 302.8h0M354.8 294.2h0M231.7 234.6h0M136.9 282.7h0M59.8 241.6h0M108.5 99.3h0M227.4 219.6h0M233.5 304.7h0M133.9 168.8h0M254.3 246.9h0M200 202.9h0M273.4 312h0M193.2 200.2h0M42.9 225.6h0M305.2 323.4h0M188.1 202.1h0M159.7 190h0M66.2 84.5h0M239.8 311.9h0M289.2 256.7h0M52.5 103.2h0M182.5 203.8h0M75.6 253.9h0M116.4 274.4h0M146.6 160.1h0M97.5 138.2h0M265.6 309.2h0M181.5 192.5h0M266 240.1h0M201.5 215.4h0M82.7 257.1h0M114.7 279.8h0M203.6 213.7h0M110.6 147.7h0M323.9 272.4h0M85.4 126.1h0M300.1 261.4h0M334.3 283h0M139.5 288.9h0M253.4 312.1h0M200.4 301h0M59.7 86h0M181.7 303h0M209.8 317.1h0M203.3 189.8h0M172.1 302.9h0M232.6 225.1h0M242.2 316.7h0M252.6 233.3h0M109 142h0M168.4 195.2h0M105.5 145.2h0M347.8 290.9h0M150.7 169.8h0M43.6 213.3h0M87.9 131.9h0M83 130.5h0M62.8 109.5h0M65.8 249.4h0M311.9 266.6h0M85.8 260.3h0M118.9 283h0M307.9 274h0M49.7 74.5h0M90 130.5h0M221.4 303.7h0M155.3 295.3h0M144.3 177.8h0M153.3 291.7h0M108.4 268.6h0M204.4 301.5h0M97.1 130.8h0M238.3 306.5h0M202.1 184.4h0M266.2 310h0M301.6 318.4h0M85.7 263.9h0M284.8 323h0M93.7 128.2h0M244.2 312.7h0M142.5 289.8h0M349.3 323.3h0M187.6 304.2h0M185.2 205.3h0M215.8 218.4h0M278.2 257.1h0M294.2 263.9h0M331.1 281.4h0M98.9 280.8h0M331.9 278.1h0M236.3 313.3h0M319.7 318.5h0M271.1 249.4h0M284 320.4h0M242.2 304.5h0M272.1 249.1h0M124.7 147.7h0M146.7 292.9h0M331.5 324.3h0M219.5 301.4h0M78.3 105.7h0M350.9 292.7h0M193.1 209.6h0M101.5 265.5h0M234.5 304.9h0M179.6 202.5h0M181.3 301h0M336.5 225.8h0M199.9 205.1h0M247.7 234.6h0M125.3 282h0M236.1 232.9h0M131.1 162h0M321.3 242.8h0M227.8 223.4h0M50.8 56.5h0M317.2 276.7h0M65.4 113h0M314.1 257.8h0M341 321.2h0M286.9 315.3h0M292.4 316.5h0M177 195.8h0M116.1 158.6h0M252.4 242.8h0M246.2 308.2h0M353 294.5h0M294.7 266.8h0M294.9 248.5h0M147.4 290.2h0M215 207h0M159.5 164.9h0M295.3 263.2h0M175.3 185.9h0M284.1 314.8h0M160.2 295.3h0M285.2 263.9h0M152.9 293.6h0M144.8 175.8h0M73.5 113.3h0M297.3 242.5h0M202.8 211.3h0M327 278.7h0M137.2 165.3h0M183.8 299.9h0M184 202h0M314.6 320.5h0M244.3 241.5h0M51 244.2h0M305.9 319h0M65.4 245.9h0M299 253.7h0M98.8 123.2h0M79.4 122.9h0M342.5 281.5h0M94.8 136.8h0M101.1 268h0M275 311.9h0M339.3 322.5h0M53.7 103.4h0M97.5 135.5h0M73.6 254.2h0M124 155.9h0M300.2 323.5h0M217.1 221.4h0M358.9 283.3h0M247.9 309.2h0M171 305.5h0M208.1 215.3h0M124 157.4h0M167.4 298.7h0M319.3 272.1h0M156.6 188.3h0M225 302.3h0M104.8 271.8h0M262.3 248.9h0M201.2 197.9h0M45.1 90.1h0M69.7 105.9h0M176.9 301h0M349.4 285.9h0M109.1 149.9h0M44.1 226.4h0M298.3 258.8h0M253.7 246.3h0M263.5 248h0M336.5 320.1h0M282.4 259.1h0M44.4 225.1h0M202.6 215.1h0M283.8 253.5h0M231.5 304.2h0M80.1 257.9h0M294.1 267.2h0M334.4 342.5h0M360.3 300.4h0M118.8 145.8h0M264.5 241.7h0M162.1 306.7h0M78.7 125.9h0M320.7 326.4h0M287.9 260.8h0M360.6 285h0M198.2 319.4h0M313.3 320.7h0M85.5 271.9h0M177.3 192.2h0M349.5 279.1h0M296.6 326.8h0M228.2 308h0M321.9 318.5h0M240.3 307h0M49.9 92.5h0M124.7 273.1h0M137.6 282.4h0M101 144.3h0M277.7 313.5h0M316.5 321.2h0M170.1 299.3h0M261.4 312.7h0M122.8 155.4h0M196.6 213.8h0M309.7 264.1h0M134.4 171.6h0M224.2 228.8h0M213.9 220.6h0M122.7 150.3h0M351.6 292.5h0M102.2 266.1h0M94.8 134.5h0M60.8 111h0M128.5 285.5h0M137.1 283.8h0M230.3 303.5h0M101.6 266.4h0M280.7 257.7h0M345.3 319.3h0M134.1 144h0M246.8 238.2h0M82.4 123.3h0M172.7 182.2h0M291.4 322.4h0M338.9 322h0M275.2 257.8h0M43.4 94h0M161.2 295.1h0M261.1 250.6h0M200.3 301.3h0M269.9 311.3h0M337.4 284.6h0M259.7 244.9h0M251.9 245.3h0M287.3 315.9h0M157 182.3h0M316.5 327.2h0M247.1 240.6h0M72.5 252h0M53.2 82.5h0M246.3 242.5h0M282.1 260.5h0M252.4 307.1h0M343.1 241.8h0M122.5 276.3h0M94.3 139.7h0M326.9 318.6h0M184.2 198.6h0M231.6 304.4h0M46.3 262.1h0M330.7 320.6h0M286.2 314.4h0M188.2 196.3h0M125.4 157.4h0M227.5 303.1h0M267.1 253h0M341 281.6h0M130.3 151.8h0M74.1 272.9h0M117.1 155.3h0M76.1 252.8h0M96.8 75.4h0M234.8 236.4h0M178.9 185.8h0M294.9 268.4h0M126.3 163.6h0M113.8 271.5h0M331.7 322.6h0M194.3 177.6h0M177.2 200.6h0M330.2 325.4h0M292.8 250.6h0M108.6 142.1h0M282.4 254.9h0M217.3 218.4h0M318.9 276.7h0M208.5 209.9h0M92.3 266.3h0M293.3 323.2h0M134.5 281.5h0M239.9 221h0M276.2 233.2h0M334.5 284.6h0M146.2 178.3h0M77 255.7h0M317 275.1h0M349.8 351h0M353.2 325.2h0M351.6 290.4h0M225.2 307.6h0M106.6 270.3h0M248.4 203.3h0M51.4 245.1h0M192.6 304h0M342.4 318.9h0M179.9 189.3h0M145.1 152.7h0M221.5 226.1h0M45.7 95.6h0M281.2 315.8h0M62.9 72.2h0M325.2 326.1h0M204.9 214.8h0M198.6 209.9h0M345.2 286h0M197.7 193.1h0M250.3 321.7h0M285.2 325.2h0M175.4 300.6h0M321.8 322.2h0M250 307.8h0M227 306.8h0M68.6 117.7h0M160 178.6h0M97.7 143.1h0M54.8 240.1h0M162.1 306.1h0M131.8 151.8h0M251.3 312.9h0M284.8 320.7h0M241.6 237.6h0M274.7 312.1h0M103 140.2h0M324.7 253.1h0M197.3 207.4h0M156.1 166.9h0M52.6 95.8h0M155.8 177.6h0M190.2 202.4h0M61.3 97.9h0M123.2 161.8h0M49.7 98.9h0M276.5 258h0M242.9 306.5h0M91.1 267.7h0M194.8 209h0M239.9 231.5h0M319.2 272.3h0M174.5 192.9h0M69.3 263.4h0M336.8 320.4h0M235.4 307h0M265.5 309h0M58.3 255.2h0M272.9 241.9h0M334.8 325.7h0M58.1 104.6h0M189.2 194h0M360.5 285.4h0M143.2 286.2h0M154.6 180.7h0M141.6 284.2h0M329.5 282.7h0M262.8 308.8h0M234.2 227.1h0M178 201.7h0M71.5 249.6h0M310.1 264.3h0M174.9 198h0M135.3 157.6h0M47.9 244.1h0M122.8 146.8h0M180.8 196.9h0M339.4 323.6h0M218.4 303.8h0M55.2 104.8h0M133.9 164.3h0M57 107.4h0M316.1 325.6h0M49.1 86.5h0M194.8 302.8h0M337.5 280.5h0M224.4 227.2h0M348.9 330.7h0M274.8 254.6h0M76.2 261.5h0M125.3 278.8h0M72.3 119.6h0M287.8 320.7h0M182.4 302.8h0M89.3 275.9h0M327.3 321.9h0M197.3 304.9h0M336.6 330.3h0M238.8 238h0M121.3 141.5h0M328.3 281.4h0M231.7 227.6h0M200.3 314.8h0M58.6 246.5h0M234.4 214.9h0M291.2 262.7h0M123.1 161.5h0M257.3 246.2h0M147.6 288.3h0M321 322.2h0M95.2 273.7h0M241.3 231h0M168.1 194.7h0M150.5 171.4h0M219.3 314.7h0M229.5 304.2h0M76.1 265h0M111.8 270.8h0M229.5 317.1h0M303.1 325h0M308.7 319.7h0M227.3 230h0M342.5 286.7h0M108.2 147.4h0M72.8 251.2h0M90.3 131.1h0M172.1 315.8h0M315 276.3h0M262.2 243.9h0M90.4 263h0M343.2 323.9h0M78.2 121.5h0M270.4 234.5h0M220.8 226.2h0M63.5 256.4h0M310.7 329.1h0M201.1 207.9h0M341.2 261.4h0M271.8 256.4h0M90.6 263.8h0M299.9 318.8h0M150.7 184.1h0M149.7 293.1h0M216 215.8h0M222.2 228.2h0M149 298.2h0M210.2 307.4h0M302.6 330.9h0M143.8 169.9h0M247.2 240.8h0M282.5 317h0M220.6 223.5h0M351.8 289.9h0M237.4 232.1h0M74.7 251.5h0M158.8 189h0M327.2 318.5h0M55.1 103.2h0M98.5 142.9h0M56.1 253.7h0M67.4 115.2h0M89 130.6h0M143.4 173h0M56.3 101.7h0M268.7 312.6h0M48.1 235h0M128.9 161.7h0M127.3 275.7h0M286.1 264h0M146.1 298.2h0M336 264.4h0M164.6 192.4h0M244.4 221.7h0M145.7 291h0M164.1 297.3h0M199.4 212.9h0M52.4 87.7h0M48.6 97.6h0M72.6 102h0M181.9 301.5h0M300.2 269h0M279.3 254.4h0M197.6 306.4h0M281 259.9h0M227.6 208.6h0M344.6 328.3h0M128.7 161h0M257.6 243.6h0M118.6 269.6h0M306 318.4h0M311.5 265.8h0M62.8 104.6h0M347 320h0M58.2 242.5h0M188.2 307.2h0M104.1 113.6h0M148.4 178.1h0M51.2 241.7h0M358.3 292.5h0M137.9 160.3h0M126 280h0M333.2 282.9h0M256.8 221.7h0M174.1 300.2h0M135.4 164.8h0M122.6 162.8h0M157.3 184.3h0M190.2 208h0M116.8 130.5h0M344.9 321h0M145.4 161.7h0M272.7 311.4h0M50.2 100.5h0M194.1 167.5h0M186.4 308.3h0M259.9 240.2h0M313.1 276.5h0M272.4 243.5h0M178 306.1h0M145.7 180.8h0M69 106.7h0M360.2 323.4h0M228.2 232.1h0M230.5 232.3h0M327 273.1h0M145.7 175.7h0M226.6 307.6h0M89.6 129.6h0M72.6 121.7h0M60.3 246.1h0M174.7 310.3h0M49.4 245.4h0M240.7 315.4h0M235.8 306.2h0M101.6 272.8h0M348.8 324.6h0M304.5 323.3h0M268.8 251.2h0M228.2 229.5h0M58.1 63.7h0M60.6 100.3h0M222.4 221.7h0M246.5 229.5h0M102.1 130.7h0M184.3 195.4h0M110.6 153.5h0M264 310.7h0M69.4 249.4h0M317.3 318.5h0M63.4 113.4h0M46.7 234.5h0M283.4 321h0M146.4 179.5h0M52.8 102.1h0M243.4 239.3h0M133.5 165.8h0M301.5 260.8h0M54.7 102.2h0M155.8 292.9h0M182.9 202.6h0M92.8 131.3h0M315.1 320.9h0M60.3 98.4h0M158.1 188.1h0M320 321.8h0M196.3 207.9h0M324.6 325.3h0M151.6 175.2h0M197.9 213.2h0M144.4 171h0M95 264.2h0M238.2 312h0M300.6 318.4h0M161.8 162.8h0M139 156.3h0M251.1 309.4h0M312.3 320.4h0M170.3 298.1h0M252.2 241h0M72 249.4h0M98.4 264h0M339.9 286.3h0M90.5 262.8h0M257 247.2h0M86.5 133.4h0M359 271.4h0M126.1 164.1h0M249 244.3h0M89.2 135.5h0M71.5 112.3h0M118.8 276.5h0M276.6 331.7h0M149.1 157.9h0M297.9 329.9h0M202.5 211.9h0M278.6 259.4h0M322.2 253.8h0M297.4 230.8h0M92.3 138h0M96.4 141.8h0M269.7 250.6h0M176.5 184.7h0M97.4 264.2h0M275.9 257.3h0M294.5 253.5h0M154.6 187.3h0M323.2 263.7h0M115.5 150.8h0M258.1 243.6h0M170.7 304.9h0M144.9 309.8h0M224.6 313.9h0M278.1 312.1h0M199.1 306.2h0M277 258.5h0M84.4 121.9h0M266.8 228.6h0M282 317.9h0M224.6 225.7h0M253.3 314.5h0M101.4 280.1h0M100.1 277.9h0M291.5 247.2h0M333.5 263.9h0M306.9 271.7h0M172.5 305.5h0M201.3 213.3h0M68.6 116.9h0M80.4 122.1h0M351 283.1h0M66.3 248.5h0M120.6 273.2h0M104.6 280.2h0M66.5 250.2h0M309.4 262.3h0M335.1 273.8h0M167 298.5h0M296.8 259.7h0M227.5 232.2h0M193.1 306.6h0M336 321.5h0M328.2 322.7h0M245 234.8h0M188.3 302.2h0M167.3 173.9h0M176.1 299.3h0M311.5 342.8h0M145.3 172.9h0M135.8 289.7h0M231.9 223h0M332.6 325.6h0M184 196.2h0M146.3 181.1h0M191.1 203.9h0M195.2 301.5h0M274.3 257.5h0M63.1 111.9h0M257 239.6h0M81.3 120h0M48.4 96.1h0M326.9 262.1h0M360.6 299.6h0M106.5 149.7h0M95.7 141.1h0M80.2 123.8h0M239.5 231.2h0M210.7 301.2h0M122.3 272.7h0M294.3 323.8h0M195.2 207.7h0M79 124.8h0M235.7 235h0M56.4 104.3h0M44 72h0M256.1 231.7h0M68.5 98.2h0M123.3 156.7h0M260.8 232.1h0M44.3 225.2h0M257.9 237.2h0M274.3 243.6h0M306.2 318.1h0M119.8 145.8h0M314 269.5h0M356.5 285h0M330.5 326.6h0M43.4 94.9h0M43.2 211.6h0M301.8 268.1h0M258 231.2h0M175 298.9h0M161.3 189.8h0M340.3 351.3h0M332.4 267.8h0M273.2 256.5h0M73.4 250.9h0M144.2 179.2h0M127.9 142.3h0M342.1 289.3h0M340.3 287.5h0M303.4 257.6h0M303.8 264.6h0M150.5 293.6h0M183.1 311.9h0M307.2 319.1h0M149.4 293.4h0M61.3 244.6h0M182.2 329.3h0M221.8 226.4h0M76 124.9h0M64.4 105.3h0M208.9 301.5h0M334.4 331.9h0M235.5 225.7h0M315.2 277.3h0M77.2 115h0M42.9 207.8h0M231.3 231.7h0M58.8 240.9h0M200.5 215h0M306.7 270.2h0M281.9 258.9h0M212.6 217.4h0M238.4 227.1h0M129.9 153.2h0M139.5 285.3h0M250.8 319h0M53.1 66.4h0M141.1 166.2h0M242 312.9h0M227.1 219h0M205.2 214.7h0M169 184.4h0M288.1 229.9h0M60.4 258.6h0M201.6 211.9h0M171.6 330.2h0M171.4 298.8h0M293.6 244.9h0M133.9 162.6h0M307 268.6h0M355.9 295.3h0M126.7 151.5h0M150.6 178.9h0M260.6 310.9h0M344.4 290.9h0M213.3 217.3h0M221.5 226.5h0M150.6 301.9h0M53.1 60.6h0M254.8 240.2h0M84.3 126.9h0M69.9 119.7h0M236.5 306.6h0M275.7 314.2h0M80.8 120.1h0M311.4 241.9h0M48.7 241.3h0M361 332.4h0M337.6 320.2h0M190.2 208.6h0M340.2 289h0M126.4 164.5h0M351.9 295.5h0M88.4 261.6h0M316.4 275.6h0M70.6 254.3h0M128.4 167.1h0M101.4 146.6h0M68 249.5h0M353 287.4h0M94.2 138h0M127.8 274.9h0M291.1 256h0M297.6 253.5h0M293.1 260.2h0M289.4 251.5h0M290.4 254.1h0M181.2 160.3h0M180.8 160.5h0M180.4 156.4h0M178.9 155.9h0M182.1 155.9h0M186.3 199.1h0M288 240.5h0M291 238.7h0M293.3 245.9h0M266.6 238.9h0M265.3 186.2h0M156.7 153h0M156.6 157.1h0M156.8 155.2h0M156.5 151.4h0M161.2 171.6h0M158.7 173.4h0M113.1 146.5h0M112.5 149.4h0M109.9 142h0M107 148.5h0M261.7 230.3h0M258.9 239.6h0M261.5 237.1h0M175 156.8h0M175.4 154.3h0M181.4 201.7h0M263.4 244.5h0M309.4 249.8h0M111.2 144.9h0M255.1 230.2h0M252.7 220.4h0M253.9 225h0M257.1 228.2h0M165 160.3h0M348.8 278.3h0M346.1 283.9h0M346.3 278h0M345.6 280.6h0M345.4 277h0M104.5 134.1h0M103.8 142.6h0M105.1 138.1h0M107.3 143.1h0M105.1 141.7h0M187.9 156.7h0M156.5 173.8h0M161.7 166.9h0M161.1 174.5h0M303.3 249.3h0M305.8 253.3h0M305.7 254.6h0M305.9 252.2h0M212.5 207.8h0M252.8 237.9h0M340.4 284.6h0M335.7 275.5h0M337.2 288.6h0M119.5 159.8h0M234.8 228.2h0M282.7 257h0M285.6 250.3h0M285.4 256.3h0M194 205.8h0M195.2 202.7h0M194.9 204.1h0M195.8 201.8h0M337.9 282.5h0M336.8 283.1h0M335.2 282.7h0M337.9 286.4h0M331.6 288.3h0M251.3 229.4h0M257.1 237.5h0M256 234.1h0M103.9 151.9h0M105.1 145.3h0M106.6 143h0M108.4 146.1h0M103.7 146.8h0M252 240.2h0M132.3 148.8h0M135.1 159.5h0M134.3 154.6h0M130.1 148.8h0M129.6 147.6h0M265.3 157.2h0M266.6 158.7h0M265.9 164.3h0M267.5 157.1h0M265.5 160.2h0M203 168.5h0M356.4 288.2h0M357.8 297.2h0M144.1 168.8h0M146.9 168.4h0M149.6 174.1h0M147.8 174.7h0M147.6 171.5h0M136.6 161.4h0M139.5 167h0M193.9 178.3h0M122.3 143.8h0M121.2 149.2h0M121.9 150.2h0M122.4 142h0M358.3 289h0M360 281.8h0M356.9 284.2h0M354.9 289.7h0M312.7 249.6h0M311.4 245.2h0M310.7 249.3h0M140.4 170.4h0M144.7 172.7h0M142.3 169.6h0M138.3 170.8h0M310 232.7h0M308.4 230.1h0M310.5 237.6h0M317.5 229.2h0M141 163.6h0M138.1 170.6h0M138.9 171.5h0M137.6 171h0M250 233h0M252.2 243.5h0M252.2 231.1h0M174.7 198.1h0M314.3 234.4h0M318.5 236h0M315.8 240.2h0M314 232.1h0M311.8 228.4h0M249.6 208.8h0M251.8 211.4h0M127.6 165.6h0M127.4 161.5h0M124.7 167.1h0M126.5 165.2h0M127.4 163.5h0M128.2 147.8h0M112 151.1h0M112.1 152.4h0M323.7 263.1h0M325.7 266.9h0M325 263.9h0M312 255.7h0M189.2 205.6h0M195.8 198.5h0M189.4 204.1h0M189.7 209.4h0M185.6 211.9h0M349.4 283.5h0M347.8 287.5h0M344.8 277.6h0M346.1 284.1h0M350.4 276.8h0M314.9 265h0M313.8 265h0M314.6 262.1h0M314.9 266.3h0M314.8 260.1h0M287.1 230.9h0M283.2 230.4h0M287.7 233h0M244.8 229.3h0M246.1 235.3h0M246.5 236.6h0M261.7 243.9h0M266.6 245.8h0M251.5 220.9h0M250.5 225.2h0M248.5 224.1h0M250.3 220.6h0M249.4 230.3h0M250 230.2h0M292.9 219.7h0M293.4 219.1h0M291.9 209.8h0M293.2 221.5h0M293.9 215.1h0M321.3 211.7h0M277 212.8h0M215.9 207.5h0M218.2 192.9h0M215.1 202.7h0M216.1 200.3h0M208 207.7h0M208.8 207.2h0M206.7 209.6h0M204.5 207.1h0M326.7 274.1h0M325.1 274.7h0M326 275.2h0M321.8 276.7h0M328.6 275.1h0M236.8 223.8h0M239 223.9h0M237.8 229.3h0M237.3 219.3h0M236.8 227.4h0M152.9 173.2h0M156.3 177.7h0M153.9 181.8h0M161.8 174.3h0M150.2 173.6h0M281.6 248.4h0M236.5 205.7h0M241 196.3h0M290.7 239.9h0M197.6 188.5h0M195.3 178.2h0M274.4 253.4h0M278.6 247.4h0M277.2 254.7h0M271.5 251.9h0M215.5 212.8h0M123.4 163.8h0M120.9 157.3h0M122.3 160.2h0M118 164.3h0M251.7 224.7h0M251 225.5h0M249.2 221.9h0M253.5 224h0M104.4 133.7h0M98.6 140.6h0M104.5 144.5h0M237.5 173.3h0M238.9 175.2h0M236 180.7h0M239.9 169.3h0M235.5 168.9h0M101.7 143.4h0M298.9 262.4h0M357.3 293h0M352.4 287.5h0M351.4 290.8h0M350.9 284.8h0M212.3 207.2h0M217.5 200.3h0M217 203.2h0M217.7 201.8h0M214.5 210.1h0M273.9 250.5h0M272.5 252.6h0M115.5 138.9h0M116.6 143.5h0M115.8 135.8h0M115.2 142.3h0M150 179.4h0M152.6 177.1h0M316.8 272.6h0M237.2 200.2h0M236 207.6h0M243.5 208.9h0M238.9 125.2h0M136.2 163h0M283.6 250.1h0M322.3 226.8h0M359.6 266.7h0M245.5 235.2h0M247.4 230.3h0M250.3 229.4h0M249.8 238.6h0M143.4 163.8h0M144.3 162.8h0M139 164.4h0M142.4 166.5h0M147.2 163.9h0M279.8 250.8h0M358.7 258.9h0M359.9 253.2h0M286.1 266.2h0M286.6 233.1h0M289.8 231.6h0M287.8 241.4h0M288.3 230.6h0M120.9 161h0M314 270.8h0M238.9 224.8h0M251.8 187.6h0M247.3 189.2h0M247.9 190h0M252 186.6h0M278.6 247.4h0M276.5 240.4h0M140.5 170.1h0M142.9 176h0M139.8 170.6h0M141 173h0M143.6 169h0M143 168h0M143 169.9h0M224.2 215.4h0M104.1 143.4h0M107.4 136.3h0M240.2 236.4h0M135.2 170.8h0M265.4 249h0M263.3 250.6h0M263.4 241h0M101.4 119.1h0M99.7 116.8h0M101.6 119.8h0M96.8 112.3h0M271.3 226.7h0M270.5 230.8h0M267.7 230.9h0M346.3 276.7h0M344.9 288.2h0M347.6 239.6h0M193.6 212.4h0M192.6 214.8h0M195.8 212h0M196.6 211.8h0M190.1 206.1h0M345.6 287.4h0M348.3 280.5h0M346.2 284.7h0M182.5 193.4h0M181.9 194.1h0M184.7 197.5h0M188.5 199.9h0M183.8 194.7h0M285.9 243.2h0M282.9 240.1h0M288.5 248.3h0M284.2 240h0M287.4 241.8h0M281.2 254.5h0M275.6 255.1h0M278.5 246.8h0M277.5 256.2h0M188.1 173.1h0M110.3 133.9h0M110.4 140.3h0M111.5 142.4h0M113 139.1h0M243.4 208.1h0M140.5 165.7h0M155.6 175.4h0M156.4 184.8h0M96.7 140.5h0M96.3 142.1h0M98.3 138.6h0M95.7 138.2h0M120.6 150.6h0M228 215.4h0M223.1 211.8h0M222.5 213.8h0M223.4 217.1h0M220.9 209.6h0M176.1 168.5h0M176 172.9h0M180.6 172.4h0M178.3 170.3h0M178.8 177.3h0M131.3 153.9h0M159.3 179h0M154.8 181h0M262.4 226.2h0M262.7 231.4h0M154.6 183.8h0M152.7 168.3h0M336.1 280h0M334.7 276.1h0M331.7 276.9h0M336 283.6h0M192.5 202.4h0M194.3 205.7h0M342.7 279.6h0M341.8 285.7h0M345.5 282.2h0M341.7 276.3h0M290.4 241.9h0M289.7 246.7h0M199.2 206.1h0M198.8 207h0M198.1 210.5h0M194.5 203.9h0M195.1 210.9h0M277.7 209.1h0M283.8 207.1h0M281.6 209.6h0M245.2 219.9h0M333 253.2h0M326.7 250.1h0M322.6 251.9h0M318.2 254.7h0M207.3 218.4h0M207.6 216.4h0M205.5 208.3h0M144.2 139.5h0M146.4 147.2h0M272.2 233.2h0M272.9 236.6h0M270.1 232.5h0M274.1 224.8h0M246 241.8h0M249.9 234.5h0M248.6 236.9h0M249.7 232.5h0M217.8 220.7h0M228.5 227.8h0M230.8 226.2h0M232 231.3h0M232.2 233.5h0M231.5 233.6h0M260 229.7h0M242.6 221.2h0M243.7 228.1h0M124 150h0M127.5 150.7h0M126.7 148.1h0M126.9 142.5h0M124.4 143h0M134.3 153.8h0M132 156h0M194.7 178.4h0M189.4 179.7h0M217.2 214.3h0M120.9 152.2h0M112.3 153.6h0M115.3 148.6h0M346.4 282.9h0M348.6 294.5h0M125.6 154.4h0M177.3 200.4h0M175 200h0M177.2 196.4h0M171.4 193.6h0M227.1 164.3h0M227.9 168.1h0M228 162.1h0M352.4 253.1h0M356.3 246.3h0M356.9 250.6h0M354.1 242.7h0M349.8 250.1h0M233.7 220.3h0M127.6 153.8h0M125.8 147.9h0M129.5 153.7h0M130 145.9h0M363 299.9h0M362.3 296.7h0M360.3 297.5h0M359.1 298.8h0M359.3 297h0M366.6 278.6h0M365 280.8h0M361.4 277.2h0M257.1 231.8h0M256.8 230.6h0M259.1 228.1h0M126.4 163.4h0M228.4 197.9h0M226.6 206.6h0M225.9 206.1h0M228.4 203.9h0M229.5 205.4h0M270.3 241.3h0M269.7 243h0M267.4 244.7h0M280.8 257.6h0M221.9 211.1h0M220.3 209.5h0M209.6 224h0M212.1 219.8h0M211.7 217h0M212.8 218.7h0M339.5 263.9h0M338.5 266.5h0M341.1 263.3h0M143.9 157h0M345.2 271.7h0M222.1 222.7h0M301.1 224.5h0M300.4 223.7h0M297.5 228.1h0M301.7 233.4h0M328.7 285h0M331.4 277.2h0M326.9 278.3h0M327.8 277.2h0M339.3 283.6h0M338.7 285.8h0M333.7 277.4h0M330.5 286.2h0M332 292.1h0M143.8 146.6h0M144.6 149.3h0M141.8 153.1h0M144.8 155.5h0M142.7 147h0M189.6 205.5h0M103.3 142.3h0M340.5 268.5h0M343.2 271.7h0M341.6 269.9h0M343.1 269.9h0M191 185.2h0M294.2 247.9h0M295.1 238.7h0M346.1 213.8h0M139.8 172.1h0M254.4 211.5h0M250.1 210.8h0M338.8 264.1h0M338.8 262.4h0M334.3 257.3h0M337.1 263.3h0M335.8 256.1h0M156.9 175.4h0M150.9 179.6h0M121.2 158.7h0M120.9 159.8h0M226.1 202.5h0M225.6 203.6h0M221.8 204.5h0M224.9 197.2h0M226.5 206.2h0M302.6 236.1h0M297.6 240.5h0M293 241.8h0M146.5 179.2h0M118.4 155.7h0M156.3 181.2h0M188.9 170.6h0M192.1 173.9h0M254.5 211.6h0M254.6 221.2h0M258.7 220.4h0M251.4 221.2h0M245.9 232.8h0M250 227.8h0M248 232.8h0M245 230.2h0M286.8 256.9h0M283.4 251.7h0M286.7 257.6h0M284.7 255.9h0M160 172h0M160 167.6h0M302.9 251.2h0M303.8 258.3h0M159.1 165.5h0M164.4 170.1h0M161.6 174.4h0M164.6 161.9h0M362.2 290.2h0M363.8 299.1h0M363.9 292.5h0M358.9 295.9h0M155.5 177.7h0M304.3 262.9h0M122.1 148.5h0M115.7 147.3h0M114.7 143.7h0M117.6 151.6h0M116.2 150.1h0M215.3 176.4h0M308.7 247.3h0M201.1 207.5h0M325.6 280.9h0M327.9 288h0M326.7 277.7h0M322 275h0M327.3 273.1h0M100.9 145.4h0M137.3 160.2h0M140.4 160.5h0M138.3 162.2h0M141.6 162.3h0M136.1 156.9h0M168.2 158.1h0M166.2 165.4h0M166.9 158.5h0M131 138.7h0M132.2 132.9h0M129.8 138.6h0M130.9 135.4h0M126.6 138.7h0M163.9 176.6h0M160.8 181h0M161.9 188.3h0M160.1 182.9h0M163 183.9h0M288 183.2h0M289.7 180.1h0M287.3 187.1h0M286.4 182.6h0M288.9 178.1h0M175.8 196.7h0M178.8 197.8h0M341.2 285.2h0M337 282.4h0M333.7 287.3h0M336.6 286.1h0M339.2 292.8h0M356.1 289h0M358 291.5h0M360.5 295.5h0M359.1 288.9h0M158.2 160.8h0M158.5 159.2h0M156.9 154.9h0M158.2 153.2h0M178.1 167.3h0M177.2 171.6h0M175.7 176.3h0M174.5 169.3h0M208 214.8h0M205.2 212.8h0M200.8 215h0M226 220h0M222 219.4h0M246.5 231.3h0M241.7 227.9h0M245.5 240.5h0M244 228h0M242.1 235.8h0M97.4 137.3h0M297.7 266.9h0M121.1 153.7h0M202.3 213.8h0M231.6 212.3h0M232.3 216.9h0M235.4 219.5h0M232.9 216.3h0M308.6 230.2h0M130.4 140.7h0M128.2 146.5h0M129 147.7h0M324.2 268.1h0M328.9 261.4h0M322.9 266.1h0M326 265.5h0M262.9 223.3h0M128.1 126h0M238.7 210.7h0M203.7 182.2h0M246.1 167.3h0M190.1 184.4h0M178.7 178.4h0M196.6 188.6h0M57.1 67.7h0M52.4 64.9h0M203.3 185.9h0M67.9 60.1h0M106.3 119.6h0M164.6 162.5h0M170 141.8h0M70.8 91h0M129.5 121.6h0M367.4 270.1h0M172.7 173.1h0M186.9 184.1h0M280.7 227h0M354.4 259.5h0M49 46h0M189 159.9h0M86.9 53.2h0M191.7 169.4h0M231.1 186.2h0M235 216.9h0M241 170.1h0M390.9 257.7h0M176 148.5h0M314.9 258.3h0M198.8 178.2h0M180.7 175.1h0M86.3 79.3h0M125.3 144.7h0M48.9 51.9h0M48.1 48.1h0M248.7 194.5h0M345.2 253.1h0M189.6 179h0M42.4 40.7h0M44.9 38.8h0M45.4 11.9h0M41.8 94.3h0M42.8 88h0M46.1 84.9h0M42.4 33.9h0M43.4 86.2h0M42.1 58h0M43.1 96.6h0M45.4 22.3h0M43.1 8.2h0M44.6 58.1h0M43.8 69.7h0M43.4 59.4h0M42.3 29.5h0M42.4 15.8h0M45.8 14.6h0M42.4 43.2h0M45 89.1h0M44.4 68h0M41.5 45.5h0M45.6 58.7h0M43.2 81.3h0M45.3 62.5h0M44.4 8.7h0M42.4 50.5h0M43.6 81.7h0M41 23.1h0M43 39.9h0M41.8 51.2h0M42.5 .7h0M42.6 93h0M45.6 37h0M41.1 19.8h0M43.8 96.5h0M41.2 27.1h0M42.6 6.9h0M41.3 31h0M43.7 25.3h0M369.5 338.8h0M361.3 339.9h0M362.4 353.1h0M372.7 345.3h0M362.9 339h0M365.7 361.8h0M372.7 365.8h0M360.8 364.6h0M360.5 351.5h0M358.9 358.8h0M358.9 343.2h0M370.8 365.8h0M364.1 343.8h0M364.1 359.7h0M298.9 354.4h0M300 339.4h0M300.2 353.4h0M300.9 344.7h0M301.5 343.8h0M299.4 355.2h0"/><path stroke="#4482b8" d="M39.9 129.8V143.1M41.3 102.3V190.8M42.7 96.3V214.6M44.1 98.5V234.6M45.5 101.1V254.9M46.9 105.5V251.1M48.3 110.1V253.9M49.7 115.7V258.8M51.1 117.2V251.7M52.5 115.2V250.4M53.9 110.2V248.1M55.3 117.3V245.7M56.7 118V242.7M58.1 113.3V246.4M59.5 114.8V238.7M60.9 122.7V244.6M62.3 121.1V244.5M63.7 127.6V242.4M65.1 121.4V243.6M66.5 126.3V241M67.9 126.9V248.1M69.3 126.4V253.5M70.7 126.6V254.6M72.1 124V247.2M73.5 126.8V263.3M74.9 130V247.5M76.3 134V254.6M77.7 126.9V247.1M79.1 133.2V246.4M80.5 129.3V250.8M81.9 135.3V245.9M83.3 137.4V245.1M84.7 134.9V251.2M86.1 140.5V252.2M87.5 139.7V252M88.9 142V254.4M90.3 139.8V253.4M91.7 142.7V248M93.1 140.7V254M94.5 139.9V261.2M95.9 148.3V249.4M97.3 146.7V249.7M98.7 148V253.7M100.1 150V264.5M101.5 146.4V248.9M102.9 146.3V251.1M104.3 138.2V252.5M105.7 152.1V260.2M107.1 154.1V251.6M108.5 165.5V250.6M109.9 162.3V255.6M111.3 165.9V250.8M112.7 172.4V256.6M114.1 170.6V261.1M115.5 174.3V251.5M116.9 183.6V258.5M118.3 188V255.1M119.7 195.2V258.6M121.1 190.1V253.8M122.5 197.5V271.9M123.9 181.5V257.4M125.3 202V258.3M126.7 214.1V258.1M110.5 149V167M119.2 164.2V179.4M137.2 161.5V179.4M130.8 180.8V200.1M144 173.9V204.2M151.4 142.1V160.1M151.4 184.9V198.7M148.9 219.4V248.4M150.8 218V249.8M133.9 211.1V262.2M136.5 215.3V262.2M139.1 223.6V253.9M122.6 253.9V278.8M160.9 194.6V209.8M167.3 240.1V256.7M176.3 241.5V303.6M178.2 253.9V295.3M53.4 256.7V280.1M48.5 255.3V270.5M73.7 98V121.4M310.9 274.6V289.8M350.4 298.1V310.5M254.5 289.8V296.7M149.6 280.1V280.8M191.4 289.8V290.5M265.8 293.9V294.6M155.3 130.3V131.1M155.3 142.1V142.8M175.6 160.1V160.8M160.9 214.6V215.3M160.9 224.9V225.6M310.6 264.3V265M133.5 209.8V210.5M153.4 213.9V214.6M144 215.3V216M45.7 87.5h0M44 50.9h0M46.5 84.3h0M44.1 83.5h0M45.3 10.8h0M43.8 80.5h0M42.2 7.2h0M43.6 64.7h0M43.7 3.9h0M47 83.1h0M43.9 53.2h0M43.4 53.8h0M43.6 53.5h0M42.4 19.6h0M46.5 73.2h0M46.4 73.5h0M44.1 1.5h0M45.3 47.4h0M44.3 55.5h0M42.3 36.3h0M43.3 72.3h0M42.5 33.7h0M44.9 55.2h0M45.1 61.5h0M42.1 12.7h0M45.4 64.9h0M44.5 10.1h0M42.6 11.7h0M44.9 96h0M42.9 14.9h0M42.5 42h0M45.2 52.8h0M46.2 73.1h0M45.9 70.2h0M43.8 87.6h0M43.1 24.3h0M46.5 97.4h0M43.5 57.1h0M42.7 30.8h0M44.2 87.5h0M43.5 56.1h0M42.3 11.3h0M42.8 50.7h0M42.8 44.4h0M43.1 35.5h0M44.3 7h0M43.3 67.6h0M46.5 81h0M44 21.9h0M46.3 53.8h0M43.7 30.7h0M44.8 14.3h0M44.2 55h0M43.6 15.3h0M44.9 29.5h0M46.9 73.8h0M43.3 18.3h0M44 36.9h0M46.9 100.9h0M44 92.7h0M44.1 20.2h0M45.8 30.9h0M44.7 11.7h0M43.4 9.6h0M43 50.8h0M43.7 36.3h0M45.2 70.7h0M42.8 10.8h0M45.5 71.8h0M44.2 18.2h0M92.3 250.4h0M89 260.1h0M120.1 262.1h0M110.7 139.6h0M125.8 255.6h0M79.2 133.5h0M115.5 179h0M120.3 189.2h0M71.6 248.5h0M125.8 253.8h0M100.9 141.6h0M78.4 129.5h0M77.9 251.7h0M84.9 253.3h0M56.7 118.7h0M89.4 251.3h0M56 118.8h0M54.6 248.6h0M124.8 257h0M118.5 174.5h0M117.2 169.8h0M105.9 152.1h0M86.4 250.4h0M115.8 258.4h0M60.4 254.5h0M101.2 249.9h0M95.9 254h0M43.6 245.8h0M71.4 246h0M43.2 95.5h0M123.4 200h0M120.4 191.2h0M89.2 141.4h0M104.5 254.2h0M78.1 125.7h0M54.8 255.8h0M55.6 98h0M96.6 253.4h0M63.2 243.9h0M112.3 170.1h0M111 279.2h0M118.5 256.5h0M56.6 118.9h0M100.6 255.8h0M86 256.8h0M119.9 193.3h0M68.3 112.6h0M109.5 163.8h0M96.1 257.9h0M100.2 250.6h0M81.7 249h0M42.2 207.5h0M122.9 255.8h0M69.3 244.9h0M42.9 219.2h0M78.6 119.3h0M44.6 244.4h0M62.7 243.3h0M97 140.1h0M83.9 131.5h0M93.6 145.2h0M49.4 114.4h0M59 113.1h0M58.7 256h0M59.2 244.1h0M45.2 99.4h0M57.2 116.9h0M117.4 268.2h0M45 99.2h0M73.4 129h0M55.4 115.6h0M106.5 142.3h0M76.4 247.5h0M101.7 130.9h0M116.4 184.7h0M119.8 256.5h0M112.3 167.7h0M88.2 138.8h0M124.3 200.7h0M96.6 146.5h0M74.5 249h0M50.6 102.2h0M65.7 117.6h0M118.2 256.6h0M124.2 253.8h0M51.8 253.1h0M111.7 152.7h0M67 251.6h0M47 253.3h0M122.4 277.4h0M69.4 120.4h0M114.8 255.5h0M92.1 251.3h0M46.9 104.9h0M78.5 128.7h0M106.1 147.1h0M76 131.5h0M114.5 179.2h0M116.1 184.5h0M62.5 120h0M106.7 251.2h0M47.2 94.9h0M51.6 116.2h0M122 192.4h0M84.9 116.4h0M75.4 259.2h0M93.5 141.5h0M77.8 250.7h0M82.3 122.1h0M76 131.7h0M93.3 256.1h0M74.5 249.1h0M96.7 143.6h0M79.9 125h0M118.8 190.5h0M57.6 102h0M99.3 134.8h0M85.4 251.4h0M93.7 127h0M104.9 141.7h0M70.8 125.4h0M93.2 258.6h0M106.1 255.5h0M59.1 243.6h0M103.6 132h0M108 282.2h0M110.9 167.2h0M53.8 116.5h0M109.7 253.9h0M86.5 137.2h0M63.4 119.4h0M96.1 254.4h0M114.2 281.2h0M43.6 88.7h0M47.1 259.5h0M123.4 200.3h0M124.1 190.7h0M113.2 159.8h0M88.7 260.6h0M91 135.7h0M67.8 246.1h0M81.1 128.7h0M123.8 199.5h0M71.6 249.3h0M56.9 119.8h0M109.9 161.5h0M116.2 183.5h0M122.5 178h0M117.6 182.1h0M82.5 250.8h0M106.8 255.8h0M102 253.8h0M46.3 106.1h0M60.9 116.8h0M83.1 247.5h0M98.1 144.9h0M110.6 261h0M120.3 254.4h0M56.8 250.5h0M79 129h0"/></g></svg>
<circle cx="1247.2" cy="840.6" r="3.9" fill="#000"/>
<rect x="1029.9" y="595.3" width="416.1" height="415.7" fill="none" stroke="#707070" stroke-width="1.6"/>
<g class="mt">
<text x="1070.1" y="1026.5" text-anchor="middle">0</text>
<text x="1145.3" y="1026.5" text-anchor="middle">200</text>
<text x="1220.5" y="1026.5" text-anchor="middle">400</text>
<text x="1295.6" y="1026.5" text-anchor="middle">600</text>
<text x="1370.8" y="1026.5" text-anchor="middle">800</text>
<text x="1446" y="1026.5" text-anchor="middle">1000</text>
<text x="1022.1" y="599.5" text-anchor="end">10</text>
<text x="1022.1" y="668.8" text-anchor="end">5</text>
<text x="1022.1" y="738.1" text-anchor="end">0</text>
<text x="1022.1" y="807.4" text-anchor="end">−5</text>
<text x="1022.1" y="876.6" text-anchor="end">−10</text>
<text x="1022.1" y="945.9" text-anchor="end">−15</text>
<text x="1022.1" y="1015.2" text-anchor="end">−20</text>
</g>
<path fill="none" stroke="#6a6a6a" stroke-width="1.1" d="M1070.1 1011v3.8M1145.3 1011v3.8M1220.5 1011v3.8M1295.6 1011v3.8M1370.8 1011v3.8M1446 1011v3.8M1029.9 595.3h-3.8M1029.9 664.6h-3.8M1029.9 733.9h-3.8M1029.9 803.1h-3.8M1029.9 872.4h-3.8M1029.9 941.7h-3.8M1029.9 1011h-3.8"/>
<rect x="1374.6" y="601.1" width="66.3" height="34.5" rx="2" fill="#fff" fill-opacity="0.8" stroke="#d8d8d8" stroke-width="0.9"/>
<rect x="1376.9" y="604" width="25.8" height="10.8" fill="#b0c4de"/>
<rect x="1376.9" y="619.8" width="25.8" height="10.8" fill="#4682b4"/>
<g class="lg"><text x="1408.8" y="613.5">X-ray</text><text x="1408.8" y="628.6">NMR</text></g>
<g class="zt"><text x="1358.4" y="669.1" text-anchor="middle" style="font-size:31.2px">Neo-3</text><text x="1344.5" y="701.7" text-anchor="middle">Z-score: -8.32</text></g>
</g>
<g>
<svg x="1509.7" y="596.9" width="415.5" height="414.1" viewBox="-1.17 0 416.27 414" preserveAspectRatio="none" overflow="hidden"><g fill="none" stroke-linecap="round" stroke-width="4.1"><path stroke="#b0c4de" d="M42.1 94.4V193M43.7 96.2V215M45.3 91.7V230.2M46.9 99.1V246.5M48.5 97.5V240.2M50.1 98.5V241.4M51.7 97V236.2M53.3 96.5V263.8M54.9 98.4V247.6M56.5 107.5V244.6M58.1 113.2V241.7M59.7 109.3V242M61.3 103.6V242.2M62.9 109.6V243.7M64.5 109.4V249.6M66.1 104.1V247.8M67.7 119.1V244.9M69.3 111.1V248M70.9 127.1V247M72.5 108.4V256.4M74.1 111.7V251.9M75.7 119.4V254.3M77.3 112.8V260.6M78.9 131.1V253.5M80.5 121.3V251M82.1 124V261M83.7 125.5V261.5M85.3 128.3V257.1M86.9 128.7V264.7M88.5 135.1V268.5M90.1 137.8V262.7M91.7 136.7V265.5M93.3 130.4V263.8M94.9 141.5V264.6M96.5 139.9V265.1M98.1 143.8V275.7M99.7 144.1V268.6M101.3 123.8V268.3M102.9 145V271.6M104.5 148.6V268.6M106.1 147V276.1M107.7 148V267.8M109.3 127V270.9M110.9 157.8V271.4M112.5 152.8V272.3M114.1 153.9V282.9M115.7 162.7V289.2M117.3 158V271.5M118.9 135.8V284.4M120.5 154.6V266M122.1 155V271.9M123.7 158.6V272.8M125.3 157.9V268.3M126.9 164.4V272.6M128.5 167.5V277.7M130.1 166.7V278.4M131.7 172.6V279M133.3 156.9V282.7M134.9 159.3V294.9M136.5 175.6V285M138.1 169.1V281.7M139.7 171.5V282.2M141.3 168.9V290.3M142.9 177V292.4M144.5 172.3V291.2M146.1 174.7V288.5M147.7 180.1V288.6M149.3 182.1V291.4M150.9 181.9V295.3M152.5 185.1V290.7M154.1 186.7V297.6M155.7 184V299.6M157.3 192.9V297.7M158.9 185.9V298.1M160.5 189.9V303.9M162.1 183V296.1M163.7 187.3V297.7M165.3 186.4V296.7M166.9 193V301.5M168.5 191.8V297.1M170.1 194.4V302M171.7 192.7V304.2M173.3 192.6V305.3M174.9 198V303.8M176.5 203.9V302M178.1 196.2V304.2M179.7 199.8V304.5M181.3 202.8V297.7M182.9 208.1V305M184.5 200.4V310.4M186.1 196.4V304.1M187.7 208.2V306.2M189.3 207.8V315.6M190.9 211.4V302M192.5 211.7V302.1M194.1 208.9V294.3M195.7 209.1V304.5M197.3 211.6V296.7M198.9 211.6V304.3M200.5 211.2V301.2M202.1 211.6V304.8M203.7 213.7V304.3M205.3 224.3V308M206.9 221.3V303.6M208.5 210.8V298.7M210.1 218.4V305.5M211.7 219V306.9M213.3 223.2V303M214.9 229.6V304.4M216.5 226.1V302.5M218.1 226.8V307.7M219.7 225.3V300.8M221.3 220.7V307.6M222.9 228.8V304.4M224.5 230.7V301.4M226.1 219.9V301.1M227.7 228.7V307.4M229.3 209.6V306.8M230.9 234.4V311.4M232.5 234.7V310M234.1 234.8V307.3M235.7 233.7V308.1M237.3 231.1V313.1M238.9 237.3V308M240.5 240.6V303.7M242.1 237.6V313.9M243.7 238.3V305.8M245.3 245.4V309.3M246.9 238.6V307.5M248.5 231.3V304.7M250.1 244.7V310.3M251.7 241.1V310.3M253.3 253.4V302.7M254.9 244.4V312.3M256.5 252.1V308.3M258.1 241.2V305.2M259.7 254.2V306.4M261.3 246.4V307.2M262.9 253.9V312M264.5 250.8V310.4M266.1 254.6V313M267.7 256.5V306.5M269.3 247.7V312.9M270.9 258.8V312.6M272.5 249.1V311.7M274.1 257V317M275.7 259.1V318.5M277.3 245.5V316.1M278.9 269.5V312.8M280.5 250.6V313M282.1 266.2V313.3M283.7 260.3V312.9M285.3 266.6V319M286.9 272.3V325.4M288.5 263.8V316M290.1 262.2V319.7M291.7 260.3V320.2M293.3 268.1V320.4M294.9 265V312.1M296.5 259.2V322.9M298.1 261.1V319.5M299.7 274.8V317.6M301.3 276.6V320.7M302.9 270.2V320.3M304.5 268.6V315.2M306.1 274.6V327M307.7 268.5V318.8M309.3 275.8V314.7M310.9 271.1V315.5M312.5 267.5V325.2M314.1 270.7V322.9M315.7 264.7V323.6M317.3 270.2V323.3M318.9 270.1V321.4M320.5 286V317.6M322.1 280V328.8M323.7 279.8V318.5M325.3 243.4V324.4M326.9 279.2V319.5M328.5 280.4V347.4M330.1 269.3V320M331.7 284.8V324.4M333.3 288V319.7M334.9 291.4V321.6M336.5 289V325.3M338.1 290.8V327.1M339.7 288.2V322.7M341.3 289.3V319.4M342.9 276.6V313.5M344.5 286.5V319.8M346.1 287.3V326.9M347.7 284.3V324.3M349.3 292.5V326M350.9 295.3V323M352.5 294.5V325M354.1 294.4V322.6M355.7 296.9V328.9M357.3 298V321.3M359.5 293.7V324.8M361.1 289.7V326.9M362.7 287.8V313.4M364.3 298.6V312.5M365.9 298.6V317.2M367.5 303.5V314.9M369.1 301V311.2M370.7 306.1V309.7M405.5 306.1h0M383 279.4h0M364 288.5v1.9M374.6 322.7v5.6M399.4 298.5v.6M373.8 324.2h0M359.8 312.2v2.3M393.2 306.9v1.1M408.2 300.9v4M413 324.1h0M384.5 314.5h0M388.9 311.6v4.7M409.5 315.4v1.3M407.7 304.3h0M376 300v6.7M402.8 296.2h0M363 278.1h0M366.2 317.2h0M415.7 301.1v6.1M393.6 324.7v.6M359.7 304.6v2.1M385.6 317.4h0M386.3 283.8h0M390.5 282.2h0M382.3 308.4h0M394.9 301.2h0M359.2 314.7v.3M406.2 290.5v4.4M376.9 325.9v3.5M374.2 291.6h0M390.4 308.5h0M397.3 305.1v6.7M408.3 296.5h0M412 333.4v5.1M415.6 279.1h0M367 296.4h0M411 306.7h0M405 292.6h0M396.7 270.6v3.9M400.7 294.1h0M390.8 292.5h0M402.5 284.2v3.8M361.6 301h0M368.9 301.5v2.8M373.4 298.4v6.6M370.9 291.7v.3M412.1 294.9v3M397.8 337.5h0M401.4 291.8h0M394.4 270.6h0M384.5 294.5v.6M393.4 299.3v4.7M382.3 306.5v4.6M406.8 317.4v.3M409.3 304.8h0M383 331.2h0M405.8 303.7h0M391.6 334.3v4.1M387.6 290.6h0M395.1 303.3h0M402.8 287.9v6M375.9 282.9h0M361.5 304h0M406.3 314h0M391.5 299.1v2.7M366.7 291.3h0M387.4 313.8h0M413.9 291.3h0M379.8 296.5h0M379.2 293.3v6.6M371.7 315.1v2.6M404.6 312.4h0M408.7 292v4.4M382.7 298.1v5.6M408.4 311.4h0M394.1 312.2h0M401.6 321.6h0M412.6 313h0M376.4 301.9h0M414.9 290v3.1M390.5 318.9v4M415.7 293.1h0M414.8 314v1.6M403.6 296.4v3.9M412.7 318.2h0M415.8 293v5.7M415.5 309.6v1.5M403.5 286.6v2.1M379.9 272.1v1.8M374.4 331.1h0M411.7 296.6v5.7M408.1 297.1h0M383.2 299.9h0M380.5 301.2v1.9M364.5 291.7h0M370.4 311.5h0M373.5 277.4h0M391.6 317.3h0M363.6 321.2h0M377.1 279.9v1M358.7 296.1h0M369.1 302.9v3.8M369.5 302.9v2.5M407.6 292.3v3M381.6 312.8v2.3M415.8 307h0M385 307.3v4.2M387.8 276.4v3.5M378.4 287.2v.7M398.7 303.8h0M381.5 309.7v3.6M410.6 340.2v3.1M387 317.9h0M409.5 284.7v2M403.4 307.8v1.7M389.2 316.8v.5M374.1 291.6v2.1M412.9 297h0M373.9 287.2v3.2M363.6 305.6v6.6M389.7 285.4v1.6M373.1 305.6h0M393.1 292.4h0M411.2 317.9v4.6M363.1 307.9h0M365.9 293.2v5.1M398.2 283.1h0M407 336.1v3.2M390.5 316v3.6M361 289.9v5.3M409.1 296.9v6.1M384.5 297.1h0M387.6 279.2v4.8M416.8 282.9h0M406.1 305.4v5.9M404.7 302.3h0M370.5 323.4v6.2M363.3 300.4h0M359.8 296.9h0M361.3 312.5h0M416.8 317.8v.3M397.6 268.4v4.9M362.5 296.2h0M372.7 294.1v.8M380.1 283.2v3.6M377.2 297v.2M392.6 307.4h0M363.7 306.2v5.6M369.7 326.4v5.4M363.2 292.2v5.4M409.3 309.1v1.3M377.9 289.4h0M392.2 292.7h0M391 319.5v3.4M378.8 302.6h0M414.8 288.5h0M390.4 300.7v6.6M409 287.5h0M389 331.4h0M400.5 302.4h0M393.8 292.5h0M406.6 321.2v5.8M373.7 276.4v4.7M375.5 307v.9M384 293.5h0M384.3 303.5v4.8M376.4 276.7h0M361.4 294.5v2.2M396.9 309.3v6.3M396.4 274.5v5.6M401.9 308.2h0M383.4 298.2h0M367.4 289.4v1.8M394.5 330.4v3.4M389.7 305.8v5.6M405.3 294.6v4.8M410 343h0M386 326.7v4M397.2 288.9v6.2M398.7 301.7v3.9M362.4 301.6h0M366.6 298.6v2.3M399.3 299v3.9M379.3 301.5v2M374.1 301.7v5.8M364.9 321.6v2.9M360.4 287.4h0M404.7 286.2h0M410.5 314.3h0M371.9 284.4h0M411.7 328.2v5.8M378 314.6v3.9M394.3 336.5h0M389.3 298.1h0M382.1 334.6v.9M408.5 271.3h0M377.4 292.7v3.7M414.1 333.5h0M364.8 314.3h0M384.2 294.2v5.3M403.3 281h0M392.5 286.2v6.4M362.5 312.3h0M382.1 303.8h0M362.9 308.4v5.8M396.5 298.2v3.7M384.8 290.7v.7M408.2 299.2h0M376 273.1v1.7M408.2 301.1h0M384.3 297.7h0M412.4 341v3.6M398.7 293.6h0M375.5 317.9h0M392.4 278.7v5.5M385 299.2v6.6M387.6 292.9v6.4M406.1 289.6v4.8M377.8 325.1v2M412.9 293.2h0M407.1 307.5h0M402.2 336.7v4.9M413.3 330.6v3.2M389.6 316h0M389 299.9v.8M407.7 261v6.6M360.5 302.3h0M360.8 322.8h0M388.1 306.8h0M380 298.1h0M372.3 319.2v1M363.9 291.6h0M404.5 294.2h0M362.1 295.3v1.3M404 300.6v4.4M398 275.8h0M368.9 311.9v2.3M411.7 299.6v2.7M404.3 277.2h0M394.8 290.6h0M385.2 292v3.1M414.2 345.1h0M388.1 325.2h0M388.1 285.4v3.5M361.1 294.5h0M399.3 330.6h0M384 315.1h0M396.6 310.6h0M370.1 300.7v4M379.3 300.1h0M381.1 314.6h0M371.3 299.3v3M395.8 317.4h0M399.6 305.4v.8M409.3 315.4v3.5M377 283.5v4.8M398.3 286h0M388 312.1h0M368.4 307.3v3.9M410.4 273.7v.5M359.7 322.4v3.5M383.6 324.5v5.7M410.3 324.3h0M384.5 310.3v3.3M397.2 301.8v.4M399.4 275.8h0M411.7 299.5h0M411.2 306.2h0M359.2 307.6h0M374.8 308.6v4.1M399.1 318v5M359.2 306.3h0M364.4 315.3v5.2M373.6 298.9h0M381.6 310.3v.6M394.3 319v3.2M382.4 301.5v6.1M405 287.6v4.1M395.4 308.2v1M404.7 326.9v3.9M361.8 312.8v.1M372.6 309.8h0M402.5 279.7v4.2M399.6 299.3v1.7M409.3 311.4h0M379.9 309.5v2.8M389.6 316.8v6.8M380.1 330.7h0M381.7 326.8h0M362.7 295.1v2.4M377.2 332.4v1.6M383.8 289v2.8M389.3 283.8h0M402.6 284v1.2M402 278.6h0M366 319.4v4.8M361 306.3h0M360.3 287v4.4M359 305.8v5.1M373 282.3h0M367.8 318.5v1.9M378 323.5h0M362.7 323.1v6.6M362.9 281.3h0M384.9 303.9v6M368.2 314.2h0M364.2 299.5h0M376.8 294.5v.4M376.3 296.7h0M391.2 304.3v.2M402.9 276.1v6M364.4 291.7v.3M413.3 312.8v6.1M379.4 310.3v3.2M379.9 302.1h0M410.5 307v4.7M401 298.9v4.5M392.9 337.8v.9M390.3 319.8h0M410.4 308.5h0M380.8 323.8v5.7M397.2 306.7h0M393.4 282.5h0M397.7 294.6h0M367.2 324.6h0M363.6 296.3v1.6M373.5 313h0M398 319.6h0M411.5 298.1v4.5M400.9 308.5h0M370.6 331.7v.3M383.4 303.3v.2M381.7 319.1h0M375.1 313.7v6.2M361.9 309.5h0M365.5 307.9h0M375.7 285.4h0M370.5 312.3h0M397 323h0M407.8 291.3h0M202.5 299v16.5M242.5 303v24.7M298.3 315.9v16M247.1 303.6v10.3M133.7 276.9v24.8M203.5 299v11.5M215.1 299.4v19.7M194.6 298.7v23.3M227.1 301v21.9M139.2 280.4v23.4M272.4 309v20.9M257.5 305.1v16.3M248.7 303.8v12.1M189.2 298.5v23M359.3 317.4v19.4M298.1 315.9v24.8M357 317.4v20M359 317.4v13.3M281.3 311.4v20.4M258 305.2v20.6M253 304.4v25.6M360.1 317.4v18M340.1 317.4v14.5M323.5 316.9v11.1M244.9 303.3v15.4M271.9 308.9v12M295.5 315.2v21.1M249.1 303.9v12.3M310.2 316.4v23M273.6 309.4v24.9M152.9 289.5v9.9M224.8 300.7v22.7M164.9 160.5v5.4M383.7 287.6v11.7M309.2 310.7v10.7M401.2 351.1v4.3M129.2 276.7v3M394.7 326.7v7.7M228.5 218.8v4.7M411 316.7v10.8M114.2 137.5v6.3M154.8 111.1v14.8M335.7 258.2v6.6M386.1 312.9v12.3M209.8 206.3v7.6M95.6 263.6v11M60.3 86.9v10.5M363.7 289.6v7.2M407.4 311.7v11.4M254.8 308v9.3M305.6 249.2v13.7M178.2 189.2v7.7M371 283v9.8M100.3 123.4v7.8M407.8 334.1v5.6M97.5 117.4v3.1M286.9 321.9v4.5M337.2 316.9v10M317.8 265.7v7.7M233.6 184v7.2M264.5 240.4v6.3M98.9 273.5v4M372.1 279.8v7.2M311.4 308.4v13.7M380.5 324.8v6.9M69.6 86.1v9.9M380.7 318.2v3.7M51.8 81.6v13M328.1 254.2v13.7M365 281.5v6.6M150.6 168.9v12.2M87.3 119.6v9.6M248 223.2v6.6M371.6 266.2v10M355.2 348.8v6.7M54.2 90.6v3.4M336 342.9v3.1M120.1 152.5v4.4M238.2 224.3v10M165.2 309.9v8.9M266.9 235.7v6.5M305.6 214.1v7.5M407.8 308.9v14M342.6 325.3v4M176.1 183.7v13.5M376.6 279.9v3.4M163.5 173v7.1M344 272.9v9.2M285.9 316.2v4.2M53.7 94.2v6M191.5 181.1v14.1M338.8 270v13.7M320.5 331.2v4M198.1 187.1v10.8M69.4 79.1v9M246.1 309.1v13.2M355.8 282v5.9M128.5 92.6v13.8M413.7 327.4v8.1M213.7 202.7v10.4M143.8 285.6v13.7M390.8 291.9v6.8M360.3 271.3v10.6M223.5 306.1v8.2M303.7 323.9v3.6M222.9 293.4v14M372.4 294.3v3.5M70.9 102.3v12.6M305.2 251.6v11.4M358.2 285.2v11.9M412 277.4v9.8M211.3 212.6v5.7M351.8 271.4v14.2M274.7 315.8v14.9M389.4 254.1v14.5M200.3 202.9v10.4M336.5 317.9v7M226.6 307.1v8M200.2 295.1v10.1M162.7 131.4v11.9M152.3 292v3.6M300.1 257.4v5.8M374.8 279.7v5.9M220.7 206.2v2.8M176.1 301.9v6.8M401.4 348.6v5.6M314.2 318.6v3.8M399.4 316.6v13.9M156 179.9v4.7M237.4 297.3v9.9M58.5 82.5v14.7M80.6 253.8v8.8M208.1 304.1v13.1M162.8 184.4v5M307.9 241.8v9.1M346.8 279.1v4.5M306.2 246.6v3.8M98.5 275.9v4M403.8 291.6v6M409.7 288.8v6.6M129 281.6v3.3M314.6 257.7v15M81.4 107.4v9.5M392.9 326.3v4M63.2 245.3v6.9M168 290.6v12.3M201.4 196.7v12.3M362.5 321.4v3.6M219.9 207.6v13.3M284.5 310.2v11.1M361.9 315.2v7.7M130.6 154.9v10.5M300.2 207v4.4M374.7 316.8v6.2M409.4 273.9v10.6M204.3 198v14.6M143.4 164.5v10.6M414.5 283.5v13.3M350.3 283v9.9M92.1 128.1v4.2M413.2 308.9v14.8M218.6 210.9v8.7M395.4 326.6v11.5M56.5 254v4.1M236.5 219v14.1M263.8 238.1v7.5M294.4 254.1v9.1M410.7 329.3v3.6M334.2 262v13.7M161.5 290.1v8.6M207.7 300v5.6M238.4 327.7v4M316.6 258.3v7.9M350.4 283.4v4.8M64.2 101.4v4M312.8 252.4v6.7M236.5 321.4v10.8M338.6 252.3v4.5M155.1 293.3v7.2M126.5 157.5v5.4M292.5 257.7v6.6M149.5 170.5v6.9M304.9 272h0M244.9 306.2h0M85.9 132.7h0M206.6 199h0M327.7 323.1h0M186.2 303h0M223.1 222h0M222 227.2h0M182.6 330.5h0M269.4 251.6h0M338.8 281h0M273.6 232.4h0M122.8 279.5h0M211.5 201.4h0M316.9 274.9h0M45.8 85.9h0M167.3 194.4h0M108.5 150h0M270.6 312.2h0M310.6 258.4h0M267.1 240.1h0M295 246.4h0M152.1 140.1h0M360 319.1h0M46.7 239.8h0M311.9 324h0M302.6 267h0M240 229.2h0M325 261.4h0M286.9 264.1h0M143.8 171.2h0M94.7 265h0M165.5 183.1h0M122.5 141.6h0M149.5 288.9h0M203.9 308h0M191.2 203.2h0M325.2 277.7h0M255 237.6h0M176.3 195.4h0M62.6 107.3h0M152 290.6h0M153.6 296.5h0M241 207.8h0M114.4 156.7h0M287 232.2h0M79.8 125.4h0M177.1 300.8h0M85.2 129.9h0M289 316.7h0M311 275.2h0M97.3 128.9h0M272.1 252h0M304.7 326.7h0M91.6 263h0M52.7 93.5h0M245.4 240.7h0M224.1 230.3h0M126.9 153.9h0M353.9 324h0M155.7 302.7h0M349.7 236.6h0M232.2 304.7h0M337.6 277.9h0M338.9 320.2h0M356.1 352.5h0M298.7 318.9h0M110.7 148.5h0M100.3 275.3h0M152.1 185h0M108.9 149.5h0M267.7 246.6h0M301.5 261.8h0M127.1 278.7h0M160.1 299.1h0M165.3 193.8h0M142.9 159.4h0M329.7 322.5h0M155.8 187.4h0M134.9 165.7h0M103.6 142h0M87.8 112.3h0M284.1 260.5h0M271.8 238.5h0M131.5 155.4h0M110.2 142.7h0M165.3 171.1h0M320.2 323.2h0M163.7 188.8h0M351.6 279.4h0M294.4 253.6h0M264.2 312.8h0M88.4 105.7h0M332.8 276.6h0M52.1 244.6h0M167.1 195.2h0M119.1 155.5h0M92.2 262h0M100 143.6h0M302.6 321.5h0M150 297.7h0M250.7 306h0M232.1 201.9h0M63.6 258.3h0M61.2 245.8h0M330.4 248h0M143.8 169.9h0M354.6 286.7h0M127.6 157.9h0M288.9 240h0M252 236.9h0M54.1 97.4h0M173.5 301.5h0M301.7 262.9h0M239.3 231.7h0M44.8 93.8h0M115.8 147.1h0M184.2 196.3h0M99.2 142.7h0M259.5 250h0M268.5 252h0M75.8 117.3h0M123.2 275.3h0M85.5 263.5h0M191.6 303.9h0M181.2 189.2h0M218.8 301.6h0M193.9 205.2h0M264.9 240.2h0M265.2 234.3h0M242.7 219.5h0M57 89h0M274.5 315.1h0M335 271h0M104.2 295h0M202.3 307.5h0M313.1 270.4h0M250.7 322.8h0M100.7 136.8h0M170.4 301.7h0M66.5 253.5h0M266.3 247.7h0M315.9 325.6h0M304.5 261.2h0M316.2 335.9h0M169.2 306.1h0M281.6 255.6h0M337.4 285.4h0M96.8 274.5h0M156.9 174.5h0M247.4 214.5h0M212.4 219h0M155.7 179.3h0M219.6 316.1h0M110.6 144.8h0M278.7 312.4h0M294.9 267.8h0M352.1 268.3h0M110.9 131.1h0M275.8 311.6h0M261 247.8h0M179.3 303.4h0M340.5 324.5h0M81.5 122.4h0M307.5 325.6h0M43.2 211.5h0M83.6 274.9h0M130.4 159.5h0M236.1 229.6h0M337.2 287.2h0M225.5 302.6h0M318.5 277h0M114.1 138.8h0M304.7 231.6h0M114.1 140h0M285.9 260.5h0M68.5 111.1h0M244.9 316.4h0M152.6 185.1h0M229.5 221.9h0M140 166.3h0M90.8 129.8h0M255.3 242.8h0M187.7 208h0M262.1 309.4h0M214.2 309.2h0M45.9 95.4h0M320.5 326.7h0M47.1 234.1h0M101.8 138h0M124.1 280.8h0M351.5 290.1h0M160.1 190.5h0M332 285.8h0M48.3 247.8h0M146.2 178.4h0M180.8 301.5h0M279.4 328.7h0M343.1 336.4h0M292 266.9h0M111.8 274.1h0M304.3 257.9h0M132.4 165.1h0M309.3 345.4h0M44.8 88.1h0M186 185.6h0M205.5 214.6h0M169.6 196.6h0M310.5 340.2h0M263.2 227.6h0M239.2 317.6h0M197.6 210.5h0M325 277.9h0M113.5 267.9h0M320 277.8h0M130.9 161.1h0M282.3 251.5h0M55.6 245.5h0M66.8 250.9h0M196.3 206.7h0M314.3 318.5h0M143.2 285.1h0M243.3 311.6h0M245.4 239.4h0M118.6 150h0M145.8 180.7h0M174.6 192.8h0M143.8 301.3h0M329.8 321.4h0M186 300.9h0M330.2 320.7h0M43.9 95h0M102.8 142.9h0M280.8 322.8h0M291.5 262.8h0M164.4 188h0M224.5 304.7h0M222.2 221.1h0M228.9 306.3h0M86.9 131.2h0M102.7 272.4h0M343.9 320.8h0M139.9 171.3h0M177 177.3h0M317.6 274.3h0M233.8 231.3h0M275.6 254.4h0M307.7 319.1h0M149.6 182.7h0M279.3 315.1h0M148.4 181.4h0M225.7 213.5h0M298.7 322.8h0M118.2 138.4h0M293 329.3h0M310.3 252.5h0M353.7 289.1h0M309.1 332h0M192.5 303.6h0M184.9 198.2h0M51.8 84.5h0M53.6 255.8h0M192.1 314.5h0M165.6 297.5h0M169.3 193.9h0M354.9 321.2h0M73.4 266.9h0M358.8 285h0M140.3 170.2h0M140.7 283.7h0M159.4 178.9h0M200.4 194.1h0M231.5 215.5h0M230.7 309.3h0M274.5 257h0M229.6 311.4h0M348.8 275.9h0M96 141.8h0M109 138.5h0M205.7 303.3h0M90.7 135.5h0M288.4 319.6h0M219.4 216.1h0M308.7 321.4h0M203.3 216.3h0M66.5 248.7h0M98.1 143.7h0M180.3 180.1h0M285.3 255.4h0M49.4 94.9h0M231.5 318.6h0M157.9 188.7h0M132.4 153.9h0M241.9 304.7h0M195.3 301.6h0M213.6 214.1h0M235.2 303.7h0M217.3 223.8h0M358.5 288.2h0M200.7 301.4h0M198 301.4h0M88.9 128.6h0M321.8 319.8h0M147.9 288.6h0M142.7 169.8h0M271.7 251.1h0M318 330.3h0M315.3 274.7h0M144.2 157.3h0M132.2 279.2h0M118.9 155.9h0M301.4 262.1h0M70.9 113.7h0M47.2 82.2h0M75.2 257.7h0M116.4 148.2h0M224 214.3h0M217.2 303.6h0M184.8 302h0M287.1 321h0M235.3 304.6h0M349.2 321.4h0M43.7 227.7h0M247.3 306.1h0M140.6 175.2h0M99.4 268.4h0M173.3 188.2h0M267.3 253.3h0M146.4 179.8h0M230.2 308.1h0M59.5 83.4h0M355.2 292.4h0M128.4 290h0M230.1 302.8h0M318 278.7h0M149.9 290.3h0M299.8 323.8h0M327.8 320.7h0M86.8 268.5h0M130.5 150.8h0M96.2 115.1h0M46.3 97.7h0M187.4 301.3h0M83.7 129.4h0M225 227.9h0M303.8 264.6h0M55.4 241.2h0M253.9 307.5h0M264.8 228.3h0M254.1 306.2h0M165.5 192.2h0M284.1 261h0M319.7 319.9h0M154.4 298.2h0M181 300h0M116.1 147.4h0M273.3 316.8h0M150.3 179.6h0M88.9 262h0M132.8 290.1h0M73.9 252.2h0M334.9 242.5h0M131.9 153.1h0M150.1 181.3h0M341.5 284.7h0M222.5 221.3h0M270.4 254h0M339.5 287.2h0M238.2 238h0M347.8 288.4h0M158.1 296.9h0M150 149.5h0M330.8 259.9h0M233.9 232.1h0M258.2 316.1h0M152.4 172.4h0M231.7 234.1h0M96.9 140.4h0M265.2 246.9h0M220.5 226.5h0M239.9 305.4h0M213 223.2h0M356 329h0M251.8 241.8h0M357.8 287.7h0M349.4 320h0M334.4 320.3h0M56.2 101.4h0M122.5 157.4h0M111.4 273.6h0M347.5 320.1h0M64.4 106.8h0M320.7 334h0M286.4 260.2h0M91.8 124h0M238.7 237.5h0M49.9 98.3h0M316.4 271.9h0M190.8 301.3h0M231.1 229.4h0M114.7 272.7h0M48 81h0M76.7 259.4h0M281.7 313.1h0M174.3 305.9h0M284.6 316.6h0M309.5 256.6h0M308.1 265.9h0M271.7 255h0M299.7 265.6h0M289 315.2h0M169.8 192h0M168 182h0M194.9 301.5h0M141.2 168.6h0M179.1 302.3h0M118.6 154.3h0M314.4 319.5h0M350.7 325.1h0M207.8 307.5h0M237.7 231h0M312.8 249.2h0M162.2 177.4h0M181.7 195.6h0M72.1 112.6h0M213.7 219.1h0M48.1 246.6h0M69.1 116.3h0M250.9 237.7h0M318.3 271h0M275.9 245.8h0M339.6 333.9h0M144.2 171.8h0M61.4 110.5h0M231.8 303.1h0M150.6 181.2h0M151.7 184.6h0M241.4 229.1h0M156.9 299.8h0M289.7 259.6h0M66.2 109.4h0M307.3 326h0M133 157.6h0M328.8 321.3h0M149.2 292.7h0M311.3 274.4h0M167.3 184.1h0M163.2 296.4h0M169 195.5h0M317.8 337.1h0M221.2 228.2h0M119.6 272.5h0M345.4 292.8h0M293.5 321.5h0M218.8 302.4h0M152.6 185.5h0M242.7 239.4h0M320 275.5h0M106.3 267.1h0M64.1 246.1h0M281.7 325.6h0M153.8 296h0M305.3 272.1h0M246.9 307.3h0M221.1 227.8h0M240.4 306.4h0M46.5 92.8h0M235.3 236.3h0M327.3 278.5h0M292.2 256.1h0M310.3 270.6h0M337.7 279.4h0M201.4 207h0M227.9 304.2h0M285.2 261.1h0M94.1 278.3h0M322.3 338.7h0M353.7 284.9h0M68.8 117.7h0M242.7 308.4h0M335.3 276.5h0M247 239.9h0M272 245.1h0M203.6 305.9h0M226.5 314.3h0M249.7 311.7h0M321.4 264.5h0M157.3 178.8h0M334 331.6h0M249.6 335.6h0M92.6 135.4h0M194.2 313.4h0M244.6 237.4h0M263.6 309h0M319.7 328h0M250.5 313.7h0M183.2 304.2h0M353.5 282.9h0M267.2 253h0M326.1 277.7h0M217.5 302.6h0M149.8 292.3h0M280.4 249.3h0M199.1 303.7h0M164.7 192.3h0M244.5 238.4h0M203.3 301.9h0M92.8 269.9h0M163.7 190.2h0M103.3 144.6h0M166.5 317.9h0M127.1 164.4h0M100.1 269.3h0M97.1 138.2h0M197.9 311.6h0M304.6 259.6h0M357.9 323.3h0M313.8 270.6h0M195.3 204.9h0M341.9 286.4h0M308 266.9h0M332 280.7h0M299 266.3h0M76.6 258.3h0M84.6 125.2h0M220.4 307.2h0M53.4 241.9h0M269 319.6h0M131.7 164.8h0M190.4 209.7h0M111 152.3h0M224 220.3h0M109.9 145.6h0M343.6 331.8h0M211.8 222.7h0M201.2 216.1h0M178.8 197h0M361.8 294.6h0M142.3 172.8h0M330.2 319.6h0M137.3 287.8h0M235.7 226h0M196.3 189.7h0M129.2 282.9h0M262.2 248h0M263.7 251.7h0M86.3 259.7h0M198.3 203.8h0M138 283.7h0M305.9 238.1h0M268.1 254h0M195.6 302.8h0M43.2 207.2h0M118.2 274.6h0M323.5 318.4h0M243.2 309.7h0M292.3 320.4h0M319.6 319.9h0M224.7 308.5h0M324.9 280.1h0M154.9 186h0M71.5 252.6h0M102.5 265h0M262.2 316.1h0M192.1 201h0M94.4 267.3h0M167.5 163.6h0M79 255.2h0M125.3 154.6h0M244.6 235h0M304.3 267.4h0M156.2 305.1h0M304.8 251.4h0M284.7 240.5h0M66 102.9h0M254 318.8h0M249.7 239.6h0M344.7 290h0M47.3 81.1h0M141.8 149.2h0M120.2 273h0M314 322.6h0M330.2 282.3h0M287.9 331.5h0M191.9 300.3h0M348.7 283.8h0M337.9 324h0M286.7 254.4h0M99.4 129.7h0M215.8 301.3h0M97.9 268.1h0M88.3 265.8h0M122.7 153.8h0M359.4 298.1h0M248.9 312.2h0M178.4 301.5h0M310.7 338.8h0M212.6 212.8h0M53.1 241.5h0M322.6 255h0M180.6 195.8h0M360 322.3h0M202.2 208.8h0M104.2 143h0M62.1 104.7h0M305.7 262.5h0M139.4 172.3h0M180 196.5h0M327.6 275h0M218.9 226.8h0M49.6 80.7h0M53.1 102.5h0M43.9 86.1h0M52.2 90h0M251 223.3h0M218.8 225.2h0M309.2 270.9h0M281.6 257.2h0M104.8 144.3h0M245.2 305.4h0M169.3 177.8h0M171.9 185.7h0M237.3 223.6h0M59.4 102.4h0M317.7 324.6h0M187.6 205.3h0M310.9 261.1h0M171.6 192.4h0M335 324h0M107.1 269.2h0M152.9 184.2h0M54.5 100.3h0M326 323.1h0M348.7 287.7h0M353.6 295.6h0M90.5 130.9h0M240.7 307h0M345.9 292.6h0M250.9 311.6h0M147.7 159.7h0M145.3 291.7h0M119.1 151.9h0M245.7 239.9h0M176.5 302.7h0M66.1 246.1h0M329.8 277.9h0M284.9 262.3h0M208.5 304.5h0M70.1 254.1h0M146.2 287.8h0M267.6 252.1h0M111.6 141.9h0M149.7 293.7h0M195.6 305h0M285.2 326h0M53.6 240.8h0M276.4 257.2h0M159.7 181.1h0M234.7 321.9h0M63.2 112h0M136.6 159.8h0M275.9 244.5h0M171.2 192.8h0M325.8 322.4h0M165.1 191.4h0M208.9 194.5h0M113.9 137h0M69.6 117h0M99.5 143.1h0M166.6 313.8h0M252.9 242.6h0M124 148.4h0M149.4 292.7h0M46.9 92.6h0M263.7 248.9h0M103.5 265.4h0M303.6 261.7h0M168.5 303.9h0M255.8 328.9h0M211.8 220.6h0M93 137.4h0M249.7 312.7h0M121.4 132.5h0M253.8 246.8h0M307.7 321.7h0M302.8 318.7h0M178.3 299.6h0M197.4 302.1h0M230 312.6h0M308.4 326.3h0M71.6 100.6h0M230.4 229.4h0M184.9 206.1h0M206.9 219.6h0M307.8 273.6h0M356 320.4h0M323.7 319.6h0M289.2 249.7h0M161.5 166.9h0M174.8 301.6h0M321.7 332.7h0M223.5 305.7h0M362 300.5h0M216.6 302.8h0M290.5 323.5h0M229.1 224.8h0M191.3 205h0M119.2 153.4h0M111.7 155h0M109 152.8h0M52 94h0M249.4 308.5h0M231.5 231.6h0M61.3 250.3h0M269.6 318.2h0M349 319.8h0M163.9 186.5h0M289 318.3h0M261.9 308.1h0M84.9 130.8h0M300.7 318.9h0M63.1 111.2h0M236.6 307.5h0M225.1 302.8h0M354.8 294.2h0M231.7 234.6h0M136.9 282.7h0M59.8 241.6h0M108.5 99.3h0M227.4 219.6h0M233.5 304.7h0M133.9 168.8h0M254.3 246.9h0M200 202.9h0M273.4 312h0M193.2 200.2h0M42.9 225.6h0M305.2 323.4h0M188.1 202.1h0M159.7 190h0M66.2 84.5h0M239.8 311.9h0M289.2 256.7h0M52.5 103.2h0M182.5 203.8h0M75.6 253.9h0M116.4 274.4h0M146.6 160.1h0M97.5 138.2h0M265.6 309.2h0M181.5 192.5h0M266 240.1h0M201.5 215.4h0M82.7 257.1h0M114.7 279.8h0M203.6 213.7h0M110.6 147.7h0M323.9 272.4h0M85.4 126.1h0M300.1 261.4h0M334.3 283h0M139.5 288.9h0M253.4 312.1h0M200.4 301h0M59.7 86h0M181.7 303h0M209.8 317.1h0M203.3 189.8h0M172.1 302.9h0M232.6 225.1h0M242.2 316.7h0M252.6 233.3h0M109 142h0M168.4 195.2h0M105.5 145.2h0M347.8 290.9h0M150.7 169.8h0M43.6 213.3h0M87.9 131.9h0M83 130.5h0M62.8 109.5h0M65.8 249.4h0M311.9 266.6h0M85.8 260.3h0M118.9 283h0M307.9 274h0M49.7 74.5h0M90 130.5h0M221.4 303.7h0M155.3 295.3h0M144.3 177.8h0M153.3 291.7h0M108.4 268.6h0M204.4 301.5h0M97.1 130.8h0M238.3 306.5h0M202.1 184.4h0M266.2 310h0M301.6 318.4h0M85.7 263.9h0M284.8 323h0M93.7 128.2h0M244.2 312.7h0M142.5 289.8h0M349.3 323.3h0M187.6 304.2h0M185.2 205.3h0M215.8 218.4h0M278.2 257.1h0M294.2 263.9h0M331.1 281.4h0M98.9 280.8h0M331.9 278.1h0M236.3 313.3h0M319.7 318.5h0M271.1 249.4h0M284 320.4h0M242.2 304.5h0M272.1 249.1h0M124.7 147.7h0M146.7 292.9h0M331.5 324.3h0M219.5 301.4h0M78.3 105.7h0M350.9 292.7h0M193.1 209.6h0M101.5 265.5h0M234.5 304.9h0M179.6 202.5h0M181.3 301h0M336.5 225.8h0M199.9 205.1h0M247.7 234.6h0M125.3 282h0M236.1 232.9h0M131.1 162h0M321.3 242.8h0M227.8 223.4h0M50.8 56.5h0M317.2 276.7h0M65.4 113h0M314.1 257.8h0M341 321.2h0M286.9 315.3h0M292.4 316.5h0M177 195.8h0M116.1 158.6h0M252.4 242.8h0M246.2 308.2h0M353 294.5h0M294.7 266.8h0M294.9 248.5h0M147.4 290.2h0M215 207h0M159.5 164.9h0M295.3 263.2h0M175.3 185.9h0M284.1 314.8h0M160.2 295.3h0M285.2 263.9h0M152.9 293.6h0M144.8 175.8h0M73.5 113.3h0M297.3 242.5h0M202.8 211.3h0M327 278.7h0M137.2 165.3h0M183.8 299.9h0M184 202h0M314.6 320.5h0M244.3 241.5h0M51 244.2h0M305.9 319h0M65.4 245.9h0M299 253.7h0M98.8 123.2h0M79.4 122.9h0M342.5 281.5h0M94.8 136.8h0M101.1 268h0M275 311.9h0M339.3 322.5h0M53.7 103.4h0M97.5 135.5h0M73.6 254.2h0M124 155.9h0M300.2 323.5h0M217.1 221.4h0M358.9 283.3h0M247.9 309.2h0M171 305.5h0M208.1 215.3h0M124 157.4h0M167.4 298.7h0M319.3 272.1h0M156.6 188.3h0M225 302.3h0M104.8 271.8h0M262.3 248.9h0M201.2 197.9h0M45.1 90.1h0M69.7 105.9h0M176.9 301h0M349.4 285.9h0M109.1 149.9h0M44.1 226.4h0M298.3 258.8h0M253.7 246.3h0M263.5 248h0M336.5 320.1h0M282.4 259.1h0M44.4 225.1h0M202.6 215.1h0M283.8 253.5h0M231.5 304.2h0M80.1 257.9h0M294.1 267.2h0M334.4 342.5h0M360.3 300.4h0M118.8 145.8h0M264.5 241.7h0M162.1 306.7h0M78.7 125.9h0M320.7 326.4h0M287.9 260.8h0M360.6 285h0M198.2 319.4h0M313.3 320.7h0M85.5 271.9h0M177.3 192.2h0M349.5 279.1h0M296.6 326.8h0M228.2 308h0M321.9 318.5h0M240.3 307h0M49.9 92.5h0M124.7 273.1h0M137.6 282.4h0M101 144.3h0M277.7 313.5h0M316.5 321.2h0M170.1 299.3h0M261.4 312.7h0M122.8 155.4h0M196.6 213.8h0M309.7 264.1h0M134.4 171.6h0M224.2 228.8h0M213.9 220.6h0M122.7 150.3h0M351.6 292.5h0M102.2 266.1h0M94.8 134.5h0M60.8 111h0M128.5 285.5h0M137.1 283.8h0M230.3 303.5h0M101.6 266.4h0M280.7 257.7h0M345.3 319.3h0M134.1 144h0M246.8 238.2h0M82.4 123.3h0M172.7 182.2h0M291.4 322.4h0M338.9 322h0M275.2 257.8h0M43.4 94h0M161.2 295.1h0M261.1 250.6h0M200.3 301.3h0M269.9 311.3h0M337.4 284.6h0M259.7 244.9h0M251.9 245.3h0M287.3 315.9h0M157 182.3h0M316.5 327.2h0M247.1 240.6h0M72.5 252h0M53.2 82.5h0M246.3 242.5h0M282.1 260.5h0M252.4 307.1h0M343.1 241.8h0M122.5 276.3h0M94.3 139.7h0M326.9 318.6h0M184.2 198.6h0M231.6 304.4h0M46.3 262.1h0M330.7 320.6h0M286.2 314.4h0M188.2 196.3h0M125.4 157.4h0M227.5 303.1h0M267.1 253h0M341 281.6h0M130.3 151.8h0M74.1 272.9h0M117.1 155.3h0M76.1 252.8h0M96.8 75.4h0M234.8 236.4h0M178.9 185.8h0M294.9 268.4h0M126.3 163.6h0M113.8 271.5h0M331.7 322.6h0M194.3 177.6h0M177.2 200.6h0M330.2 325.4h0M292.8 250.6h0M108.6 142.1h0M282.4 254.9h0M217.3 218.4h0M318.9 276.7h0M208.5 209.9h0M92.3 266.3h0M293.3 323.2h0M134.5 281.5h0M239.9 221h0M276.2 233.2h0M334.5 284.6h0M146.2 178.3h0M77 255.7h0M317 275.1h0M349.8 351h0M353.2 325.2h0M351.6 290.4h0M225.2 307.6h0M106.6 270.3h0M248.4 203.3h0M51.4 245.1h0M192.6 304h0M342.4 318.9h0M179.9 189.3h0M145.1 152.7h0M221.5 226.1h0M45.7 95.6h0M281.2 315.8h0M62.9 72.2h0M325.2 326.1h0M204.9 214.8h0M198.6 209.9h0M345.2 286h0M197.7 193.1h0M250.3 321.7h0M285.2 325.2h0M175.4 300.6h0M321.8 322.2h0M250 307.8h0M227 306.8h0M68.6 117.7h0M160 178.6h0M97.7 143.1h0M54.8 240.1h0M162.1 306.1h0M131.8 151.8h0M251.3 312.9h0M284.8 320.7h0M241.6 237.6h0M274.7 312.1h0M103 140.2h0M324.7 253.1h0M197.3 207.4h0M156.1 166.9h0M52.6 95.8h0M155.8 177.6h0M190.2 202.4h0M61.3 97.9h0M123.2 161.8h0M49.7 98.9h0M276.5 258h0M242.9 306.5h0M91.1 267.7h0M194.8 209h0M239.9 231.5h0M319.2 272.3h0M174.5 192.9h0M69.3 263.4h0M336.8 320.4h0M235.4 307h0M265.5 309h0M58.3 255.2h0M272.9 241.9h0M334.8 325.7h0M58.1 104.6h0M189.2 194h0M360.5 285.4h0M143.2 286.2h0M154.6 180.7h0M141.6 284.2h0M329.5 282.7h0M262.8 308.8h0M234.2 227.1h0M178 201.7h0M71.5 249.6h0M310.1 264.3h0M174.9 198h0M135.3 157.6h0M47.9 244.1h0M122.8 146.8h0M180.8 196.9h0M339.4 323.6h0M218.4 303.8h0M55.2 104.8h0M133.9 164.3h0M57 107.4h0M316.1 325.6h0M49.1 86.5h0M194.8 302.8h0M337.5 280.5h0M224.4 227.2h0M348.9 330.7h0M274.8 254.6h0M76.2 261.5h0M125.3 278.8h0M72.3 119.6h0M287.8 320.7h0M182.4 302.8h0M89.3 275.9h0M327.3 321.9h0M197.3 304.9h0M336.6 330.3h0M238.8 238h0M121.3 141.5h0M328.3 281.4h0M231.7 227.6h0M200.3 314.8h0M58.6 246.5h0M234.4 214.9h0M291.2 262.7h0M123.1 161.5h0M257.3 246.2h0M147.6 288.3h0M321 322.2h0M95.2 273.7h0M241.3 231h0M168.1 194.7h0M150.5 171.4h0M219.3 314.7h0M229.5 304.2h0M76.1 265h0M111.8 270.8h0M229.5 317.1h0M303.1 325h0M308.7 319.7h0M227.3 230h0M342.5 286.7h0M108.2 147.4h0M72.8 251.2h0M90.3 131.1h0M172.1 315.8h0M315 276.3h0M262.2 243.9h0M90.4 263h0M343.2 323.9h0M78.2 121.5h0M270.4 234.5h0M220.8 226.2h0M63.5 256.4h0M310.7 329.1h0M201.1 207.9h0M341.2 261.4h0M271.8 256.4h0M90.6 263.8h0M299.9 318.8h0M150.7 184.1h0M149.7 293.1h0M216 215.8h0M222.2 228.2h0M149 298.2h0M210.2 307.4h0M302.6 330.9h0M143.8 169.9h0M247.2 240.8h0M282.5 317h0M220.6 223.5h0M351.8 289.9h0M237.4 232.1h0M74.7 251.5h0M158.8 189h0M327.2 318.5h0M55.1 103.2h0M98.5 142.9h0M56.1 253.7h0M67.4 115.2h0M89 130.6h0M143.4 173h0M56.3 101.7h0M268.7 312.6h0M48.1 235h0M128.9 161.7h0M127.3 275.7h0M286.1 264h0M146.1 298.2h0M336 264.4h0M164.6 192.4h0M244.4 221.7h0M145.7 291h0M164.1 297.3h0M199.4 212.9h0M52.4 87.7h0M48.6 97.6h0M72.6 102h0M181.9 301.5h0M300.2 269h0M279.3 254.4h0M197.6 306.4h0M281 259.9h0M227.6 208.6h0M344.6 328.3h0M128.7 161h0M257.6 243.6h0M118.6 269.6h0M306 318.4h0M311.5 265.8h0M62.8 104.6h0M347 320h0M58.2 242.5h0M188.2 307.2h0M104.1 113.6h0M148.4 178.1h0M51.2 241.7h0M358.3 292.5h0M137.9 160.3h0M126 280h0M333.2 282.9h0M256.8 221.7h0M174.1 300.2h0M135.4 164.8h0M122.6 162.8h0M157.3 184.3h0M190.2 208h0M116.8 130.5h0M344.9 321h0M145.4 161.7h0M272.7 311.4h0M50.2 100.5h0M194.1 167.5h0M186.4 308.3h0M259.9 240.2h0M313.1 276.5h0M272.4 243.5h0M178 306.1h0M145.7 180.8h0M69 106.7h0M360.2 323.4h0M228.2 232.1h0M230.5 232.3h0M327 273.1h0M145.7 175.7h0M226.6 307.6h0M89.6 129.6h0M72.6 121.7h0M60.3 246.1h0M174.7 310.3h0M49.4 245.4h0M240.7 315.4h0M235.8 306.2h0M101.6 272.8h0M348.8 324.6h0M304.5 323.3h0M268.8 251.2h0M228.2 229.5h0M58.1 63.7h0M60.6 100.3h0M222.4 221.7h0M246.5 229.5h0M102.1 130.7h0M184.3 195.4h0M110.6 153.5h0M264 310.7h0M69.4 249.4h0M317.3 318.5h0M63.4 113.4h0M46.7 234.5h0M283.4 321h0M146.4 179.5h0M52.8 102.1h0M243.4 239.3h0M133.5 165.8h0M301.5 260.8h0M54.7 102.2h0M155.8 292.9h0M182.9 202.6h0M92.8 131.3h0M315.1 320.9h0M60.3 98.4h0M158.1 188.1h0M320 321.8h0M196.3 207.9h0M324.6 325.3h0M151.6 175.2h0M197.9 213.2h0M144.4 171h0M95 264.2h0M238.2 312h0M300.6 318.4h0M161.8 162.8h0M139 156.3h0M251.1 309.4h0M312.3 320.4h0M170.3 298.1h0M252.2 241h0M72 249.4h0M98.4 264h0M339.9 286.3h0M90.5 262.8h0M257 247.2h0M86.5 133.4h0M359 271.4h0M126.1 164.1h0M249 244.3h0M89.2 135.5h0M71.5 112.3h0M118.8 276.5h0M276.6 331.7h0M149.1 157.9h0M297.9 329.9h0M202.5 211.9h0M278.6 259.4h0M322.2 253.8h0M297.4 230.8h0M92.3 138h0M96.4 141.8h0M269.7 250.6h0M176.5 184.7h0M97.4 264.2h0M275.9 257.3h0M294.5 253.5h0M154.6 187.3h0M323.2 263.7h0M115.5 150.8h0M258.1 243.6h0M170.7 304.9h0M144.9 309.8h0M224.6 313.9h0M278.1 312.1h0M199.1 306.2h0M277 258.5h0M84.4 121.9h0M266.8 228.6h0M282 317.9h0M224.6 225.7h0M253.3 314.5h0M101.4 280.1h0M100.1 277.9h0M291.5 247.2h0M333.5 263.9h0M306.9 271.7h0M172.5 305.5h0M201.3 213.3h0M68.6 116.9h0M80.4 122.1h0M351 283.1h0M66.3 248.5h0M120.6 273.2h0M104.6 280.2h0M66.5 250.2h0M309.4 262.3h0M335.1 273.8h0M167 298.5h0M296.8 259.7h0M227.5 232.2h0M193.1 306.6h0M336 321.5h0M328.2 322.7h0M245 234.8h0M188.3 302.2h0M167.3 173.9h0M176.1 299.3h0M311.5 342.8h0M145.3 172.9h0M135.8 289.7h0M231.9 223h0M332.6 325.6h0M184 196.2h0M146.3 181.1h0M191.1 203.9h0M195.2 301.5h0M274.3 257.5h0M63.1 111.9h0M257 239.6h0M81.3 120h0M48.4 96.1h0M326.9 262.1h0M360.6 299.6h0M106.5 149.7h0M95.7 141.1h0M80.2 123.8h0M239.5 231.2h0M210.7 301.2h0M122.3 272.7h0M294.3 323.8h0M195.2 207.7h0M79 124.8h0M235.7 235h0M56.4 104.3h0M44 72h0M256.1 231.7h0M68.5 98.2h0M123.3 156.7h0M260.8 232.1h0M44.3 225.2h0M257.9 237.2h0M274.3 243.6h0M306.2 318.1h0M119.8 145.8h0M314 269.5h0M356.5 285h0M330.5 326.6h0M43.4 94.9h0M43.2 211.6h0M301.8 268.1h0M258 231.2h0M175 298.9h0M161.3 189.8h0M340.3 351.3h0M332.4 267.8h0M273.2 256.5h0M73.4 250.9h0M144.2 179.2h0M127.9 142.3h0M342.1 289.3h0M340.3 287.5h0M303.4 257.6h0M303.8 264.6h0M150.5 293.6h0M183.1 311.9h0M307.2 319.1h0M149.4 293.4h0M61.3 244.6h0M182.2 329.3h0M221.8 226.4h0M76 124.9h0M64.4 105.3h0M208.9 301.5h0M334.4 331.9h0M235.5 225.7h0M315.2 277.3h0M77.2 115h0M42.9 207.8h0M231.3 231.7h0M58.8 240.9h0M200.5 215h0M306.7 270.2h0M281.9 258.9h0M212.6 217.4h0M238.4 227.1h0M129.9 153.2h0M139.5 285.3h0M250.8 319h0M53.1 66.4h0M141.1 166.2h0M242 312.9h0M227.1 219h0M205.2 214.7h0M169 184.4h0M288.1 229.9h0M60.4 258.6h0M201.6 211.9h0M171.6 330.2h0M171.4 298.8h0M293.6 244.9h0M133.9 162.6h0M307 268.6h0M355.9 295.3h0M126.7 151.5h0M150.6 178.9h0M260.6 310.9h0M344.4 290.9h0M213.3 217.3h0M221.5 226.5h0M150.6 301.9h0M53.1 60.6h0M254.8 240.2h0M84.3 126.9h0M69.9 119.7h0M236.5 306.6h0M275.7 314.2h0M80.8 120.1h0M311.4 241.9h0M48.7 241.3h0M361 332.4h0M337.6 320.2h0M190.2 208.6h0M340.2 289h0M126.4 164.5h0M351.9 295.5h0M88.4 261.6h0M316.4 275.6h0M70.6 254.3h0M128.4 167.1h0M101.4 146.6h0M68 249.5h0M353 287.4h0M94.2 138h0M127.8 274.9h0M291.1 256h0M297.6 253.5h0M293.1 260.2h0M289.4 251.5h0M290.4 254.1h0M181.2 160.3h0M180.8 160.5h0M180.4 156.4h0M178.9 155.9h0M182.1 155.9h0M186.3 199.1h0M288 240.5h0M291 238.7h0M293.3 245.9h0M266.6 238.9h0M265.3 186.2h0M156.7 153h0M156.6 157.1h0M156.8 155.2h0M156.5 151.4h0M161.2 171.6h0M158.7 173.4h0M113.1 146.5h0M112.5 149.4h0M109.9 142h0M107 148.5h0M261.7 230.3h0M258.9 239.6h0M261.5 237.1h0M175 156.8h0M175.4 154.3h0M181.4 201.7h0M263.4 244.5h0M309.4 249.8h0M111.2 144.9h0M255.1 230.2h0M252.7 220.4h0M253.9 225h0M257.1 228.2h0M165 160.3h0M348.8 278.3h0M346.1 283.9h0M346.3 278h0M345.6 280.6h0M345.4 277h0M104.5 134.1h0M103.8 142.6h0M105.1 138.1h0M107.3 143.1h0M105.1 141.7h0M187.9 156.7h0M156.5 173.8h0M161.7 166.9h0M161.1 174.5h0M303.3 249.3h0M305.8 253.3h0M305.7 254.6h0M305.9 252.2h0M212.5 207.8h0M252.8 237.9h0M340.4 284.6h0M335.7 275.5h0M337.2 288.6h0M119.5 159.8h0M234.8 228.2h0M282.7 257h0M285.6 250.3h0M285.4 256.3h0M194 205.8h0M195.2 202.7h0M194.9 204.1h0M195.8 201.8h0M337.9 282.5h0M336.8 283.1h0M335.2 282.7h0M337.9 286.4h0M331.6 288.3h0M251.3 229.4h0M257.1 237.5h0M256 234.1h0M103.9 151.9h0M105.1 145.3h0M106.6 143h0M108.4 146.1h0M103.7 146.8h0M252 240.2h0M132.3 148.8h0M135.1 159.5h0M134.3 154.6h0M130.1 148.8h0M129.6 147.6h0M265.3 157.2h0M266.6 158.7h0M265.9 164.3h0M267.5 157.1h0M265.5 160.2h0M203 168.5h0M356.4 288.2h0M357.8 297.2h0M144.1 168.8h0M146.9 168.4h0M149.6 174.1h0M147.8 174.7h0M147.6 171.5h0M136.6 161.4h0M139.5 167h0M193.9 178.3h0M122.3 143.8h0M121.2 149.2h0M121.9 150.2h0M122.4 142h0M358.3 289h0M360 281.8h0M356.9 284.2h0M354.9 289.7h0M312.7 249.6h0M311.4 245.2h0M310.7 249.3h0M140.4 170.4h0M144.7 172.7h0M142.3 169.6h0M138.3 170.8h0M310 232.7h0M308.4 230.1h0M310.5 237.6h0M317.5 229.2h0M141 163.6h0M138.1 170.6h0M138.9 171.5h0M137.6 171h0M250 233h0M252.2 243.5h0M252.2 231.1h0M174.7 198.1h0M314.3 234.4h0M318.5 236h0M315.8 240.2h0M314 232.1h0M311.8 228.4h0M249.6 208.8h0M251.8 211.4h0M127.6 165.6h0M127.4 161.5h0M124.7 167.1h0M126.5 165.2h0M127.4 163.5h0M128.2 147.8h0M112 151.1h0M112.1 152.4h0M323.7 263.1h0M325.7 266.9h0M325 263.9h0M312 255.7h0M189.2 205.6h0M195.8 198.5h0M189.4 204.1h0M189.7 209.4h0M185.6 211.9h0M349.4 283.5h0M347.8 287.5h0M344.8 277.6h0M346.1 284.1h0M350.4 276.8h0M314.9 265h0M313.8 265h0M314.6 262.1h0M314.9 266.3h0M314.8 260.1h0M287.1 230.9h0M283.2 230.4h0M287.7 233h0M244.8 229.3h0M246.1 235.3h0M246.5 236.6h0M261.7 243.9h0M266.6 245.8h0M251.5 220.9h0M250.5 225.2h0M248.5 224.1h0M250.3 220.6h0M249.4 230.3h0M250 230.2h0M292.9 219.7h0M293.4 219.1h0M291.9 209.8h0M293.2 221.5h0M293.9 215.1h0M321.3 211.7h0M277 212.8h0M215.9 207.5h0M218.2 192.9h0M215.1 202.7h0M216.1 200.3h0M208 207.7h0M208.8 207.2h0M206.7 209.6h0M204.5 207.1h0M326.7 274.1h0M325.1 274.7h0M326 275.2h0M321.8 276.7h0M328.6 275.1h0M236.8 223.8h0M239 223.9h0M237.8 229.3h0M237.3 219.3h0M236.8 227.4h0M152.9 173.2h0M156.3 177.7h0M153.9 181.8h0M161.8 174.3h0M150.2 173.6h0M281.6 248.4h0M236.5 205.7h0M241 196.3h0M290.7 239.9h0M197.6 188.5h0M195.3 178.2h0M274.4 253.4h0M278.6 247.4h0M277.2 254.7h0M271.5 251.9h0M215.5 212.8h0M123.4 163.8h0M120.9 157.3h0M122.3 160.2h0M118 164.3h0M251.7 224.7h0M251 225.5h0M249.2 221.9h0M253.5 224h0M104.4 133.7h0M98.6 140.6h0M104.5 144.5h0M237.5 173.3h0M238.9 175.2h0M236 180.7h0M239.9 169.3h0M235.5 168.9h0M101.7 143.4h0M298.9 262.4h0M357.3 293h0M352.4 287.5h0M351.4 290.8h0M350.9 284.8h0M212.3 207.2h0M217.5 200.3h0M217 203.2h0M217.7 201.8h0M214.5 210.1h0M273.9 250.5h0M272.5 252.6h0M115.5 138.9h0M116.6 143.5h0M115.8 135.8h0M115.2 142.3h0M150 179.4h0M152.6 177.1h0M316.8 272.6h0M237.2 200.2h0M236 207.6h0M243.5 208.9h0M238.9 125.2h0M136.2 163h0M283.6 250.1h0M322.3 226.8h0M359.6 266.7h0M245.5 235.2h0M247.4 230.3h0M250.3 229.4h0M249.8 238.6h0M143.4 163.8h0M144.3 162.8h0M139 164.4h0M142.4 166.5h0M147.2 163.9h0M279.8 250.8h0M358.7 258.9h0M359.9 253.2h0M286.1 266.2h0M286.6 233.1h0M289.8 231.6h0M287.8 241.4h0M288.3 230.6h0M120.9 161h0M314 270.8h0M238.9 224.8h0M251.8 187.6h0M247.3 189.2h0M247.9 190h0M252 186.6h0M278.6 247.4h0M276.5 240.4h0M140.5 170.1h0M142.9 176h0M139.8 170.6h0M141 173h0M143.6 169h0M143 168h0M143 169.9h0M224.2 215.4h0M104.1 143.4h0M107.4 136.3h0M240.2 236.4h0M135.2 170.8h0M265.4 249h0M263.3 250.6h0M263.4 241h0M101.4 119.1h0M99.7 116.8h0M101.6 119.8h0M96.8 112.3h0M271.3 226.7h0M270.5 230.8h0M267.7 230.9h0M346.3 276.7h0M344.9 288.2h0M347.6 239.6h0M193.6 212.4h0M192.6 214.8h0M195.8 212h0M196.6 211.8h0M190.1 206.1h0M345.6 287.4h0M348.3 280.5h0M346.2 284.7h0M182.5 193.4h0M181.9 194.1h0M184.7 197.5h0M188.5 199.9h0M183.8 194.7h0M285.9 243.2h0M282.9 240.1h0M288.5 248.3h0M284.2 240h0M287.4 241.8h0M281.2 254.5h0M275.6 255.1h0M278.5 246.8h0M277.5 256.2h0M188.1 173.1h0M110.3 133.9h0M110.4 140.3h0M111.5 142.4h0M113 139.1h0M243.4 208.1h0M140.5 165.7h0M155.6 175.4h0M156.4 184.8h0M96.7 140.5h0M96.3 142.1h0M98.3 138.6h0M95.7 138.2h0M120.6 150.6h0M228 215.4h0M223.1 211.8h0M222.5 213.8h0M223.4 217.1h0M220.9 209.6h0M176.1 168.5h0M176 172.9h0M180.6 172.4h0M178.3 170.3h0M178.8 177.3h0M131.3 153.9h0M159.3 179h0M154.8 181h0M262.4 226.2h0M262.7 231.4h0M154.6 183.8h0M152.7 168.3h0M336.1 280h0M334.7 276.1h0M331.7 276.9h0M336 283.6h0M192.5 202.4h0M194.3 205.7h0M342.7 279.6h0M341.8 285.7h0M345.5 282.2h0M341.7 276.3h0M290.4 241.9h0M289.7 246.7h0M199.2 206.1h0M198.8 207h0M198.1 210.5h0M194.5 203.9h0M195.1 210.9h0M277.7 209.1h0M283.8 207.1h0M281.6 209.6h0M245.2 219.9h0M333 253.2h0M326.7 250.1h0M322.6 251.9h0M318.2 254.7h0M207.3 218.4h0M207.6 216.4h0M205.5 208.3h0M144.2 139.5h0M146.4 147.2h0M272.2 233.2h0M272.9 236.6h0M270.1 232.5h0M274.1 224.8h0M246 241.8h0M249.9 234.5h0M248.6 236.9h0M249.7 232.5h0M217.8 220.7h0M228.5 227.8h0M230.8 226.2h0M232 231.3h0M232.2 233.5h0M231.5 233.6h0M260 229.7h0M242.6 221.2h0M243.7 228.1h0M124 150h0M127.5 150.7h0M126.7 148.1h0M126.9 142.5h0M124.4 143h0M134.3 153.8h0M132 156h0M194.7 178.4h0M189.4 179.7h0M217.2 214.3h0M120.9 152.2h0M112.3 153.6h0M115.3 148.6h0M346.4 282.9h0M348.6 294.5h0M125.6 154.4h0M177.3 200.4h0M175 200h0M177.2 196.4h0M171.4 193.6h0M227.1 164.3h0M227.9 168.1h0M228 162.1h0M352.4 253.1h0M356.3 246.3h0M356.9 250.6h0M354.1 242.7h0M349.8 250.1h0M233.7 220.3h0M127.6 153.8h0M125.8 147.9h0M129.5 153.7h0M130 145.9h0M363 299.9h0M362.3 296.7h0M360.3 297.5h0M359.1 298.8h0M359.3 297h0M366.6 278.6h0M365 280.8h0M361.4 277.2h0M257.1 231.8h0M256.8 230.6h0M259.1 228.1h0M126.4 163.4h0M228.4 197.9h0M226.6 206.6h0M225.9 206.1h0M228.4 203.9h0M229.5 205.4h0M270.3 241.3h0M269.7 243h0M267.4 244.7h0M280.8 257.6h0M221.9 211.1h0M220.3 209.5h0M209.6 224h0M212.1 219.8h0M211.7 217h0M212.8 218.7h0M339.5 263.9h0M338.5 266.5h0M341.1 263.3h0M143.9 157h0M345.2 271.7h0M222.1 222.7h0M301.1 224.5h0M300.4 223.7h0M297.5 228.1h0M301.7 233.4h0M328.7 285h0M331.4 277.2h0M326.9 278.3h0M327.8 277.2h0M339.3 283.6h0M338.7 285.8h0M333.7 277.4h0M330.5 286.2h0M332 292.1h0M143.8 146.6h0M144.6 149.3h0M141.8 153.1h0M144.8 155.5h0M142.7 147h0M189.6 205.5h0M103.3 142.3h0M340.5 268.5h0M343.2 271.7h0M341.6 269.9h0M343.1 269.9h0M191 185.2h0M294.2 247.9h0M295.1 238.7h0M346.1 213.8h0M139.8 172.1h0M254.4 211.5h0M250.1 210.8h0M338.8 264.1h0M338.8 262.4h0M334.3 257.3h0M337.1 263.3h0M335.8 256.1h0M156.9 175.4h0M150.9 179.6h0M121.2 158.7h0M120.9 159.8h0M226.1 202.5h0M225.6 203.6h0M221.8 204.5h0M224.9 197.2h0M226.5 206.2h0M302.6 236.1h0M297.6 240.5h0M293 241.8h0M146.5 179.2h0M118.4 155.7h0M156.3 181.2h0M188.9 170.6h0M192.1 173.9h0M254.5 211.6h0M254.6 221.2h0M258.7 220.4h0M251.4 221.2h0M245.9 232.8h0M250 227.8h0M248 232.8h0M245 230.2h0M286.8 256.9h0M283.4 251.7h0M286.7 257.6h0M284.7 255.9h0M160 172h0M160 167.6h0M302.9 251.2h0M303.8 258.3h0M159.1 165.5h0M164.4 170.1h0M161.6 174.4h0M164.6 161.9h0M362.2 290.2h0M363.8 299.1h0M363.9 292.5h0M358.9 295.9h0M155.5 177.7h0M304.3 262.9h0M122.1 148.5h0M115.7 147.3h0M114.7 143.7h0M117.6 151.6h0M116.2 150.1h0M215.3 176.4h0M308.7 247.3h0M201.1 207.5h0M325.6 280.9h0M327.9 288h0M326.7 277.7h0M322 275h0M327.3 273.1h0M100.9 145.4h0M137.3 160.2h0M140.4 160.5h0M138.3 162.2h0M141.6 162.3h0M136.1 156.9h0M168.2 158.1h0M166.2 165.4h0M166.9 158.5h0M131 138.7h0M132.2 132.9h0M129.8 138.6h0M130.9 135.4h0M126.6 138.7h0M163.9 176.6h0M160.8 181h0M161.9 188.3h0M160.1 182.9h0M163 183.9h0M288 183.2h0M289.7 180.1h0M287.3 187.1h0M286.4 182.6h0M288.9 178.1h0M175.8 196.7h0M178.8 197.8h0M341.2 285.2h0M337 282.4h0M333.7 287.3h0M336.6 286.1h0M339.2 292.8h0M356.1 289h0M358 291.5h0M360.5 295.5h0M359.1 288.9h0M158.2 160.8h0M158.5 159.2h0M156.9 154.9h0M158.2 153.2h0M178.1 167.3h0M177.2 171.6h0M175.7 176.3h0M174.5 169.3h0M208 214.8h0M205.2 212.8h0M200.8 215h0M226 220h0M222 219.4h0M246.5 231.3h0M241.7 227.9h0M245.5 240.5h0M244 228h0M242.1 235.8h0M97.4 137.3h0M297.7 266.9h0M121.1 153.7h0M202.3 213.8h0M231.6 212.3h0M232.3 216.9h0M235.4 219.5h0M232.9 216.3h0M308.6 230.2h0M130.4 140.7h0M128.2 146.5h0M129 147.7h0M324.2 268.1h0M328.9 261.4h0M322.9 266.1h0M326 265.5h0M262.9 223.3h0M128.1 126h0M238.7 210.7h0M203.7 182.2h0M246.1 167.3h0M190.1 184.4h0M178.7 178.4h0M196.6 188.6h0M57.1 67.7h0M52.4 64.9h0M203.3 185.9h0M67.9 60.1h0M106.3 119.6h0M164.6 162.5h0M170 141.8h0M70.8 91h0M129.5 121.6h0M367.4 270.1h0M172.7 173.1h0M186.9 184.1h0M280.7 227h0M354.4 259.5h0M49 46h0M189 159.9h0M86.9 53.2h0M191.7 169.4h0M231.1 186.2h0M235 216.9h0M241 170.1h0M390.9 257.7h0M176 148.5h0M314.9 258.3h0M198.8 178.2h0M180.7 175.1h0M86.3 79.3h0M125.3 144.7h0M48.9 51.9h0M48.1 48.1h0M248.7 194.5h0M345.2 253.1h0M189.6 179h0M42.4 40.7h0M44.9 38.8h0M45.4 11.9h0M41.8 94.3h0M42.8 88h0M46.1 84.9h0M42.4 33.9h0M43.4 86.2h0M42.1 58h0M43.1 96.6h0M45.4 22.3h0M43.1 8.2h0M44.6 58.1h0M43.8 69.7h0M43.4 59.4h0M42.3 29.5h0M42.4 15.8h0M45.8 14.6h0M42.4 43.2h0M45 89.1h0M44.4 68h0M41.5 45.5h0M45.6 58.7h0M43.2 81.3h0M45.3 62.5h0M44.4 8.7h0M42.4 50.5h0M43.6 81.7h0M41 23.1h0M43 39.9h0M41.8 51.2h0M42.5 .7h0M42.6 93h0M45.6 37h0M41.1 19.8h0M43.8 96.5h0M41.2 27.1h0M42.6 6.9h0M41.3 31h0M43.7 25.3h0M369.5 338.8h0M361.3 339.9h0M362.4 353.1h0M372.7 345.3h0M362.9 339h0M365.7 361.8h0M372.7 365.8h0M360.8 364.6h0M360.5 351.5h0M358.9 358.8h0M358.9 343.2h0M370.8 365.8h0M364.1 343.8h0M364.1 359.7h0M298.9 354.4h0M300 339.4h0M300.2 353.4h0M300.9 344.7h0M301.5 343.8h0M299.4 355.2h0"/><path stroke="#4482b8" d="M39.9 129.8V143.1M41.3 102.3V190.8M42.7 96.3V214.6M44.1 98.5V234.6M45.5 101.1V254.9M46.9 105.5V251.1M48.3 110.1V253.9M49.7 115.7V258.8M51.1 117.2V251.7M52.5 115.2V250.4M53.9 110.2V248.1M55.3 117.3V245.7M56.7 118V242.7M58.1 113.3V246.4M59.5 114.8V238.7M60.9 122.7V244.6M62.3 121.1V244.5M63.7 127.6V242.4M65.1 121.4V243.6M66.5 126.3V241M67.9 126.9V248.1M69.3 126.4V253.5M70.7 126.6V254.6M72.1 124V247.2M73.5 126.8V263.3M74.9 130V247.5M76.3 134V254.6M77.7 126.9V247.1M79.1 133.2V246.4M80.5 129.3V250.8M81.9 135.3V245.9M83.3 137.4V245.1M84.7 134.9V251.2M86.1 140.5V252.2M87.5 139.7V252M88.9 142V254.4M90.3 139.8V253.4M91.7 142.7V248M93.1 140.7V254M94.5 139.9V261.2M95.9 148.3V249.4M97.3 146.7V249.7M98.7 148V253.7M100.1 150V264.5M101.5 146.4V248.9M102.9 146.3V251.1M104.3 138.2V252.5M105.7 152.1V260.2M107.1 154.1V251.6M108.5 165.5V250.6M109.9 162.3V255.6M111.3 165.9V250.8M112.7 172.4V256.6M114.1 170.6V261.1M115.5 174.3V251.5M116.9 183.6V258.5M118.3 188V255.1M119.7 195.2V258.6M121.1 190.1V253.8M122.5 197.5V271.9M123.9 181.5V257.4M125.3 202V258.3M126.7 214.1V258.1M110.5 149V167M119.2 164.2V179.4M137.2 161.5V179.4M130.8 180.8V200.1M144 173.9V204.2M151.4 142.1V160.1M151.4 184.9V198.7M148.9 219.4V248.4M150.8 218V249.8M133.9 211.1V262.2M136.5 215.3V262.2M139.1 223.6V253.9M122.6 253.9V278.8M160.9 194.6V209.8M167.3 240.1V256.7M176.3 241.5V303.6M178.2 253.9V295.3M53.4 256.7V280.1M48.5 255.3V270.5M73.7 98V121.4M310.9 274.6V289.8M350.4 298.1V310.5M254.5 289.8V296.7M149.6 280.1V280.8M191.4 289.8V290.5M265.8 293.9V294.6M155.3 130.3V131.1M155.3 142.1V142.8M175.6 160.1V160.8M160.9 214.6V215.3M160.9 224.9V225.6M310.6 264.3V265M133.5 209.8V210.5M153.4 213.9V214.6M144 215.3V216M45.7 87.5h0M44 50.9h0M46.5 84.3h0M44.1 83.5h0M45.3 10.8h0M43.8 80.5h0M42.2 7.2h0M43.6 64.7h0M43.7 3.9h0M47 83.1h0M43.9 53.2h0M43.4 53.8h0M43.6 53.5h0M42.4 19.6h0M46.5 73.2h0M46.4 73.5h0M44.1 1.5h0M45.3 47.4h0M44.3 55.5h0M42.3 36.3h0M43.3 72.3h0M42.5 33.7h0M44.9 55.2h0M45.1 61.5h0M42.1 12.7h0M45.4 64.9h0M44.5 10.1h0M42.6 11.7h0M44.9 96h0M42.9 14.9h0M42.5 42h0M45.2 52.8h0M46.2 73.1h0M45.9 70.2h0M43.8 87.6h0M43.1 24.3h0M46.5 97.4h0M43.5 57.1h0M42.7 30.8h0M44.2 87.5h0M43.5 56.1h0M42.3 11.3h0M42.8 50.7h0M42.8 44.4h0M43.1 35.5h0M44.3 7h0M43.3 67.6h0M46.5 81h0M44 21.9h0M46.3 53.8h0M43.7 30.7h0M44.8 14.3h0M44.2 55h0M43.6 15.3h0M44.9 29.5h0M46.9 73.8h0M43.3 18.3h0M44 36.9h0M46.9 100.9h0M44 92.7h0M44.1 20.2h0M45.8 30.9h0M44.7 11.7h0M43.4 9.6h0M43 50.8h0M43.7 36.3h0M45.2 70.7h0M42.8 10.8h0M45.5 71.8h0M44.2 18.2h0M92.3 250.4h0M89 260.1h0M120.1 262.1h0M110.7 139.6h0M125.8 255.6h0M79.2 133.5h0M115.5 179h0M120.3 189.2h0M71.6 248.5h0M125.8 253.8h0M100.9 141.6h0M78.4 129.5h0M77.9 251.7h0M84.9 253.3h0M56.7 118.7h0M89.4 251.3h0M56 118.8h0M54.6 248.6h0M124.8 257h0M118.5 174.5h0M117.2 169.8h0M105.9 152.1h0M86.4 250.4h0M115.8 258.4h0M60.4 254.5h0M101.2 249.9h0M95.9 254h0M43.6 245.8h0M71.4 246h0M43.2 95.5h0M123.4 200h0M120.4 191.2h0M89.2 141.4h0M104.5 254.2h0M78.1 125.7h0M54.8 255.8h0M55.6 98h0M96.6 253.4h0M63.2 243.9h0M112.3 170.1h0M111 279.2h0M118.5 256.5h0M56.6 118.9h0M100.6 255.8h0M86 256.8h0M119.9 193.3h0M68.3 112.6h0M109.5 163.8h0M96.1 257.9h0M100.2 250.6h0M81.7 249h0M42.2 207.5h0M122.9 255.8h0M69.3 244.9h0M42.9 219.2h0M78.6 119.3h0M44.6 244.4h0M62.7 243.3h0M97 140.1h0M83.9 131.5h0M93.6 145.2h0M49.4 114.4h0M59 113.1h0M58.7 256h0M59.2 244.1h0M45.2 99.4h0M57.2 116.9h0M117.4 268.2h0M45 99.2h0M73.4 129h0M55.4 115.6h0M106.5 142.3h0M76.4 247.5h0M101.7 130.9h0M116.4 184.7h0M119.8 256.5h0M112.3 167.7h0M88.2 138.8h0M124.3 200.7h0M96.6 146.5h0M74.5 249h0M50.6 102.2h0M65.7 117.6h0M118.2 256.6h0M124.2 253.8h0M51.8 253.1h0M111.7 152.7h0M67 251.6h0M47 253.3h0M122.4 277.4h0M69.4 120.4h0M114.8 255.5h0M92.1 251.3h0M46.9 104.9h0M78.5 128.7h0M106.1 147.1h0M76 131.5h0M114.5 179.2h0M116.1 184.5h0M62.5 120h0M106.7 251.2h0M47.2 94.9h0M51.6 116.2h0M122 192.4h0M84.9 116.4h0M75.4 259.2h0M93.5 141.5h0M77.8 250.7h0M82.3 122.1h0M76 131.7h0M93.3 256.1h0M74.5 249.1h0M96.7 143.6h0M79.9 125h0M118.8 190.5h0M57.6 102h0M99.3 134.8h0M85.4 251.4h0M93.7 127h0M104.9 141.7h0M70.8 125.4h0M93.2 258.6h0M106.1 255.5h0M59.1 243.6h0M103.6 132h0M108 282.2h0M110.9 167.2h0M53.8 116.5h0M109.7 253.9h0M86.5 137.2h0M63.4 119.4h0M96.1 254.4h0M114.2 281.2h0M43.6 88.7h0M47.1 259.5h0M123.4 200.3h0M124.1 190.7h0M113.2 159.8h0M88.7 260.6h0M91 135.7h0M67.8 246.1h0M81.1 128.7h0M123.8 199.5h0M71.6 249.3h0M56.9 119.8h0M109.9 161.5h0M116.2 183.5h0M122.5 178h0M117.6 182.1h0M82.5 250.8h0M106.8 255.8h0M102 253.8h0M46.3 106.1h0M60.9 116.8h0M83.1 247.5h0M98.1 144.9h0M110.6 261h0M120.3 254.4h0M56.8 250.5h0M79 129h0"/></g></svg>
<circle cx="1705.1" cy="813.8" r="3.9" fill="#000"/>
<rect x="1509.7" y="596.9" width="415.5" height="414.1" fill="none" stroke="#707070" stroke-width="1.6"/>
<g class="mt">
<text x="1549.9" y="1026.5" text-anchor="middle">0</text>
<text x="1625" y="1026.5" text-anchor="middle">200</text>
<text x="1700" y="1026.5" text-anchor="middle">400</text>
<text x="1775.1" y="1026.5" text-anchor="middle">600</text>
<text x="1850.1" y="1026.5" text-anchor="middle">800</text>
<text x="1925.2" y="1026.5" text-anchor="middle">1000</text>
<text x="1501.9" y="601.1" text-anchor="end">10</text>
<text x="1501.9" y="670.1" text-anchor="end">5</text>
<text x="1501.9" y="739.1" text-anchor="end">0</text>
<text x="1501.9" y="808.2" text-anchor="end">−5</text>
<text x="1501.9" y="877.2" text-anchor="end">−10</text>
<text x="1501.9" y="946.2" text-anchor="end">−15</text>
<text x="1501.9" y="1015.2" text-anchor="end">−20</text>
</g>
<path fill="none" stroke="#6a6a6a" stroke-width="1.1" d="M1549.9 1011v3.8M1625 1011v3.8M1700 1011v3.8M1775.1 1011v3.8M1850.1 1011v3.8M1925.2 1011v3.8M1509.7 596.9h-3.8M1509.7 665.9h-3.8M1509.7 734.9h-3.8M1509.7 804h-3.8M1509.7 873h-3.8M1509.7 942h-3.8M1509.7 1011h-3.8"/>
<rect x="1853.2" y="602.3" width="66.3" height="35.1" rx="2" fill="#fff" fill-opacity="0.8" stroke="#d8d8d8" stroke-width="0.9"/>
<rect x="1855.5" y="605.2" width="25.8" height="11" fill="#b0c4de"/>
<rect x="1855.5" y="621.4" width="25.8" height="11" fill="#4682b4"/>
<g class="lg"><text x="1887.4" y="614.9">X-ray</text><text x="1887.4" y="630.3">NMR</text></g>
<g class="zt"><text x="1827.5" y="670.7" text-anchor="middle" style="font-size:31.2px">Neo-4</text><text x="1814.2" y="707.5" text-anchor="middle">Z-score: -5.72</text></g>
</g>
</svg></body></html>
